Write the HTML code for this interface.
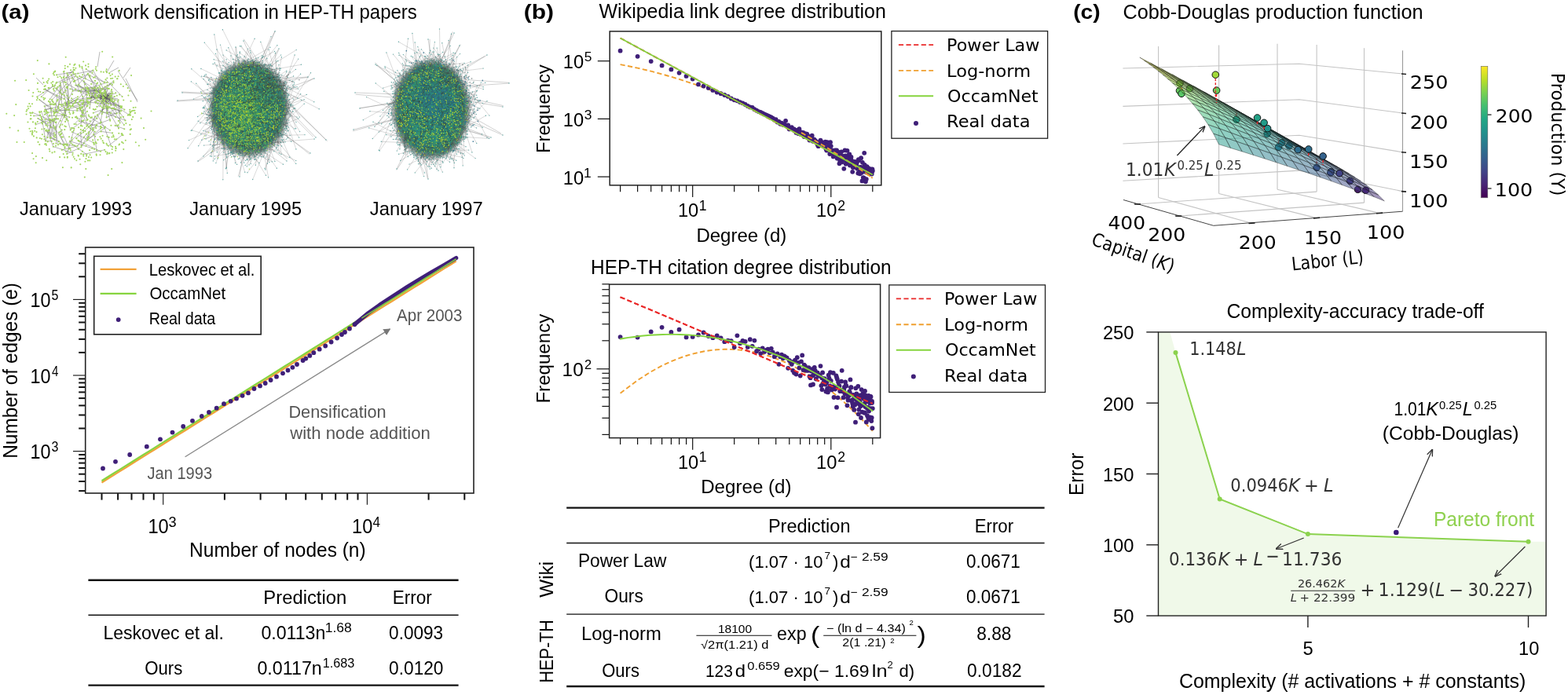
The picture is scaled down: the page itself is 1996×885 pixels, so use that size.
<!DOCTYPE html>
<html><head><meta charset="utf-8"><title>Figure</title>
<style>html,body{margin:0;padding:0;background:#fff;}svg{display:block;}
</style></head>
<body><svg width="1996" height="885" viewBox="0 0 1996 885" font-family="'Liberation Sans', Arial, sans-serif">
<rect width="1996" height="885" fill="#fff"/>
<text x="1.6" y="23.6" font-size="25.5" font-weight="bold" textLength="35.9" lengthAdjust="spacingAndGlyphs">(a)</text>
<text x="101.8" y="23.6" font-size="25.5" textLength="429.0" lengthAdjust="spacingAndGlyphs">Network densification in HEP-TH papers</text>
<text x="25.0" y="273.9" font-size="23.6" textLength="143.1" lengthAdjust="spacingAndGlyphs">January 1993</text>
<text x="241.3" y="273.9" font-size="23.6" textLength="142.7" lengthAdjust="spacingAndGlyphs">January 1995</text>
<text x="470.8" y="273.9" font-size="23.6" textLength="143.9" lengthAdjust="spacingAndGlyphs">January 1997</text>
<line x1="129.5" y1="628.0" x2="129.5" y2="636.6" stroke="#111" stroke-width="2.0" />
<line x1="150.1" y1="628.0" x2="150.1" y2="636.6" stroke="#111" stroke-width="2.0" />
<line x1="167.5" y1="628.0" x2="167.5" y2="636.6" stroke="#111" stroke-width="2.0" />
<line x1="182.5" y1="628.0" x2="182.5" y2="636.6" stroke="#111" stroke-width="2.0" />
<line x1="195.8" y1="628.0" x2="195.8" y2="636.6" stroke="#111" stroke-width="2.0" />
<line x1="207.7" y1="628.0" x2="207.7" y2="642.7" stroke="#111" stroke-width="1.1" />
<line x1="285.9" y1="628.0" x2="285.9" y2="636.6" stroke="#111" stroke-width="2.0" />
<line x1="331.6" y1="628.0" x2="331.6" y2="636.6" stroke="#111" stroke-width="2.0" />
<line x1="364.1" y1="628.0" x2="364.1" y2="636.6" stroke="#111" stroke-width="2.0" />
<line x1="389.2" y1="628.0" x2="389.2" y2="636.6" stroke="#111" stroke-width="2.0" />
<line x1="409.8" y1="628.0" x2="409.8" y2="636.6" stroke="#111" stroke-width="2.0" />
<line x1="427.2" y1="628.0" x2="427.2" y2="636.6" stroke="#111" stroke-width="2.0" />
<line x1="442.2" y1="628.0" x2="442.2" y2="636.6" stroke="#111" stroke-width="2.0" />
<line x1="455.5" y1="628.0" x2="455.5" y2="636.6" stroke="#111" stroke-width="2.0" />
<line x1="467.4" y1="628.0" x2="467.4" y2="642.7" stroke="#111" stroke-width="1.1" />
<line x1="545.6" y1="628.0" x2="545.6" y2="636.6" stroke="#111" stroke-width="2.0" />
<line x1="591.3" y1="628.0" x2="591.3" y2="636.6" stroke="#111" stroke-width="2.0" />
<line x1="100.2" y1="625.1" x2="108.7" y2="625.1" stroke="#111" stroke-width="2.0" />
<line x1="100.2" y1="613.0" x2="108.7" y2="613.0" stroke="#111" stroke-width="2.0" />
<line x1="100.2" y1="603.7" x2="108.7" y2="603.7" stroke="#111" stroke-width="2.0" />
<line x1="100.2" y1="596.0" x2="108.7" y2="596.0" stroke="#111" stroke-width="2.0" />
<line x1="100.2" y1="589.6" x2="108.7" y2="589.6" stroke="#111" stroke-width="2.0" />
<line x1="100.2" y1="584.0" x2="108.7" y2="584.0" stroke="#111" stroke-width="2.0" />
<line x1="100.2" y1="579.0" x2="108.7" y2="579.0" stroke="#111" stroke-width="2.0" />
<line x1="93.0" y1="574.6" x2="108.7" y2="574.6" stroke="#111" stroke-width="1.1" />
<line x1="100.2" y1="545.5" x2="108.7" y2="545.5" stroke="#111" stroke-width="2.0" />
<line x1="100.2" y1="528.5" x2="108.7" y2="528.5" stroke="#111" stroke-width="2.0" />
<line x1="100.2" y1="516.4" x2="108.7" y2="516.4" stroke="#111" stroke-width="2.0" />
<line x1="100.2" y1="507.1" x2="108.7" y2="507.1" stroke="#111" stroke-width="2.0" />
<line x1="100.2" y1="499.4" x2="108.7" y2="499.4" stroke="#111" stroke-width="2.0" />
<line x1="100.2" y1="493.0" x2="108.7" y2="493.0" stroke="#111" stroke-width="2.0" />
<line x1="100.2" y1="487.4" x2="108.7" y2="487.4" stroke="#111" stroke-width="2.0" />
<line x1="100.2" y1="482.4" x2="108.7" y2="482.4" stroke="#111" stroke-width="2.0" />
<line x1="93.0" y1="478.0" x2="108.7" y2="478.0" stroke="#111" stroke-width="1.1" />
<line x1="100.2" y1="448.9" x2="108.7" y2="448.9" stroke="#111" stroke-width="2.0" />
<line x1="100.2" y1="431.9" x2="108.7" y2="431.9" stroke="#111" stroke-width="2.0" />
<line x1="100.2" y1="419.8" x2="108.7" y2="419.8" stroke="#111" stroke-width="2.0" />
<line x1="100.2" y1="410.5" x2="108.7" y2="410.5" stroke="#111" stroke-width="2.0" />
<line x1="100.2" y1="402.8" x2="108.7" y2="402.8" stroke="#111" stroke-width="2.0" />
<line x1="100.2" y1="396.4" x2="108.7" y2="396.4" stroke="#111" stroke-width="2.0" />
<line x1="100.2" y1="390.8" x2="108.7" y2="390.8" stroke="#111" stroke-width="2.0" />
<line x1="100.2" y1="385.8" x2="108.7" y2="385.8" stroke="#111" stroke-width="2.0" />
<line x1="93.0" y1="381.4" x2="108.7" y2="381.4" stroke="#111" stroke-width="1.1" />
<line x1="100.2" y1="352.3" x2="108.7" y2="352.3" stroke="#111" stroke-width="2.0" />
<line x1="100.2" y1="335.3" x2="108.7" y2="335.3" stroke="#111" stroke-width="2.0" />
<line x1="100.2" y1="323.2" x2="108.7" y2="323.2" stroke="#111" stroke-width="2.0" />
<text x="38.6" y="391.2" font-size="25.3" textLength="26.0" lengthAdjust="spacingAndGlyphs">10</text>
<text x="65.6" y="382.1" font-size="17.5" textLength="8.9" lengthAdjust="spacingAndGlyphs">5</text>
<text x="38.6" y="487.6" font-size="25.3" textLength="26.0" lengthAdjust="spacingAndGlyphs">10</text>
<text x="65.9" y="478.5" font-size="17.5" textLength="8.4" lengthAdjust="spacingAndGlyphs">4</text>
<text x="38.6" y="584.0" font-size="25.3" textLength="26.0" lengthAdjust="spacingAndGlyphs">10</text>
<text x="65.6" y="574.9" font-size="17.5" textLength="8.9" lengthAdjust="spacingAndGlyphs">3</text>
<text x="188.4" y="679.4" font-size="25.3" textLength="26.3" lengthAdjust="spacingAndGlyphs">10</text>
<text x="214.6" y="670.8" font-size="17.5" textLength="10.1" lengthAdjust="spacingAndGlyphs">3</text>
<text x="448.1" y="679.4" font-size="25.3" textLength="26.3" lengthAdjust="spacingAndGlyphs">10</text>
<text x="474.6" y="670.8" font-size="17.5" textLength="9.5" lengthAdjust="spacingAndGlyphs">4</text>
<text x="241.1" y="709.1" font-size="25.0" textLength="224.5" lengthAdjust="spacingAndGlyphs">Number of nodes (n)</text>
<text x="20.0" y="581.8" font-size="25.0" textLength="223.8" lengthAdjust="spacingAndGlyphs" transform="rotate(-90 22.0 581.8)">Number of edges (e)</text>
<polyline points="129.5,614.5 137.0,609.8 144.6,605.1 152.1,600.4 159.6,595.7 167.1,591.0 174.6,586.3 182.2,581.6 189.7,576.9 197.2,572.2 204.7,567.5 212.2,562.8 219.8,558.1 227.3,553.4 234.8,548.7 242.3,544.0 249.8,539.3 257.3,534.6 264.9,529.9 272.4,525.2 279.9,520.5 287.4,515.8 294.9,511.1 302.5,506.4 310.0,501.7 317.5,497.0 325.0,492.3 332.5,487.6 340.1,482.9 347.6,478.2 355.1,473.5 362.6,468.8 370.1,464.1 377.7,459.4 385.2,454.7 392.7,450.0 400.2,445.3 407.7,440.6 415.3,435.9 422.8,431.2 430.3,426.5 437.8,421.8 445.3,417.1 452.8,412.4 460.4,407.7 467.9,403.0 475.4,398.3 482.9,393.6 490.4,388.9 498.0,384.2 505.5,379.5 513.0,374.8 520.5,370.1 528.0,365.4 535.6,360.7 543.1,356.0 550.6,351.3 558.1,346.6 565.6,341.9 573.2,337.2 580.7,332.5" fill="none" stroke="#f2a23a" stroke-width="2.2" />
<polyline points="129.5,612.2 137.0,607.5 144.6,602.8 152.1,598.1 159.6,593.4 167.1,588.7 174.6,584.0 182.2,579.3 189.7,574.6 197.2,569.9 204.7,565.1 212.2,560.4 219.8,555.7 227.3,551.0 234.8,546.3 242.3,541.6 249.8,536.9 257.3,532.2 264.9,527.5 272.4,522.8 279.9,518.1 287.4,513.4 294.9,508.7 302.5,504.0 310.0,499.2 317.5,494.5 325.0,489.8 332.5,485.1 340.1,480.4 347.6,475.7 355.1,471.0 362.6,466.3 370.1,461.6 377.7,456.9 385.2,452.2 392.7,447.5 400.2,442.8 407.7,438.1 415.3,433.3 422.8,428.6 430.3,423.9 437.8,419.2 445.3,414.5 452.8,409.8 460.4,405.1 467.9,400.4 475.4,395.7 482.9,391.0 490.4,386.3 498.0,381.6 505.5,376.9 513.0,372.2 520.5,367.4 528.0,362.7 535.6,358.0 543.1,353.3 550.6,348.6 558.1,343.9 565.6,339.2 573.2,334.5 580.7,329.8" fill="none" stroke="#86d43e" stroke-width="2.2" />
<g fill="#3f1f78"><circle cx="131.0" cy="596.5" r="2.9"/><circle cx="147.0" cy="587.8" r="2.9"/><circle cx="165.2" cy="579.0" r="2.9"/><circle cx="186.8" cy="568.7" r="2.9"/><circle cx="204.0" cy="559.3" r="2.9"/><circle cx="219.5" cy="550.6" r="2.9"/><circle cx="233.2" cy="543.0" r="2.9"/><circle cx="245.0" cy="535.8" r="2.9"/><circle cx="256.7" cy="530.0" r="2.9"/><circle cx="266.0" cy="525.0" r="2.9"/><circle cx="275.7" cy="519.7" r="2.9"/><circle cx="285.0" cy="514.2" r="2.9"/><circle cx="293.7" cy="510.8" r="2.9"/><circle cx="301.0" cy="507.6" r="2.9"/><circle cx="308.6" cy="503.8" r="2.9"/><circle cx="316.0" cy="500.4" r="2.9"/><circle cx="323.5" cy="495.0" r="2.9"/><circle cx="331.0" cy="491.4" r="2.9"/><circle cx="337.7" cy="488.0" r="2.9"/><circle cx="344.6" cy="484.0" r="2.9"/><circle cx="352.0" cy="479.7" r="2.9"/><circle cx="360.0" cy="475.3" r="2.9"/><circle cx="366.5" cy="471.5" r="2.9"/><circle cx="372.4" cy="467.8" r="2.9"/><circle cx="378.0" cy="464.0" r="2.9"/><circle cx="385.6" cy="459.0" r="2.9"/><circle cx="389.3" cy="456.6" r="2.9"/><circle cx="394.3" cy="452.9" r="2.9"/><circle cx="399.3" cy="449.2" r="2.9"/><circle cx="406.7" cy="444.7" r="2.9"/><circle cx="414.2" cy="440.5" r="2.9"/><circle cx="421.6" cy="435.5" r="2.9"/><circle cx="429.1" cy="430.5" r="2.9"/><circle cx="435.0" cy="426.0" r="2.9"/><circle cx="439.0" cy="423.0" r="2.9"/><circle cx="445.0" cy="418.5" r="2.9"/><circle cx="451.5" cy="413.1" r="2.9"/></g>
<polyline points="451.5,413.1 468.9,398.5 483.0,388.5 498.7,378.1 518.6,365.2 533.0,356.5 548.4,347.3 565.0,337.8 580.7,328.6" fill="none" stroke="#3f1f78" stroke-width="5.2" stroke-linecap="round" stroke-linejoin="round"/>
<polyline points="460.4,405.1 467.9,400.4 475.4,395.7 482.9,391.0 490.4,386.3 498.0,381.6 505.5,376.9 513.0,372.2 520.5,367.4 528.0,362.7 535.6,358.0 543.1,353.3 550.6,348.6 558.1,343.9 565.6,339.2 573.2,334.5 580.7,329.8" fill="none" stroke="#86d43e" stroke-width="1.6" opacity="0.9"/>
<rect x="108.7" y="315.0" width="494.3" height="313.0" fill="none" stroke="#222" stroke-width="1.6" />
<rect x="119.7" y="326.3" width="212.5" height="99.5" fill="#fff" stroke="#222" stroke-width="1.6" />
<line x1="127.6" y1="342.9" x2="173.6" y2="342.9" stroke="#f2a23a" stroke-width="2.2" />
<line x1="127.6" y1="373.9" x2="173.6" y2="373.9" stroke="#86d43e" stroke-width="2.2" />
<circle cx="150.7" cy="407.1" r="2.9" fill="#3f1f78" />
<text x="189.7" y="350.5" font-size="21.8" textLength="134.7" lengthAdjust="spacingAndGlyphs">Leskovec et al.</text>
<text x="190.4" y="381.4" font-size="21.8" textLength="96.7" lengthAdjust="spacingAndGlyphs">OccamNet</text>
<text x="189.8" y="412.7" font-size="21.8" textLength="84.4" lengthAdjust="spacingAndGlyphs">Real data</text>
<defs><marker id="ah" viewBox="0 0 10 10" refX="9" refY="5" markerWidth="9" markerHeight="9" markerUnits="userSpaceOnUse" orient="auto"><path d="M0,0 L10,5 L0,10 z" fill="#777"/></marker></defs>
<line x1="235.6" y1="581.7" x2="496.5" y2="418.9" stroke="#888" stroke-width="1.3" marker-end="url(#ah)"/>
<text x="505.0" y="409.4" font-size="21.8" fill="#555" textLength="83.5" lengthAdjust="spacingAndGlyphs">Apr 2003</text>
<text x="187.5" y="609.8" font-size="21.8" fill="#555" textLength="82.6" lengthAdjust="spacingAndGlyphs">Jan 1993</text>
<text x="367.4" y="531.9" font-size="21.8" fill="#555" textLength="124.3" lengthAdjust="spacingAndGlyphs">Densification</text>
<text x="369.2" y="559.1" font-size="21.8" fill="#555" textLength="178.6" lengthAdjust="spacingAndGlyphs">with node addition</text>
<line x1="112.4" y1="738.7" x2="583.6" y2="738.7" stroke="#111" stroke-width="2.4" />
<line x1="112.4" y1="783.3" x2="583.6" y2="783.3" stroke="#111" stroke-width="1.4" />
<line x1="112.4" y1="872.6" x2="583.6" y2="872.6" stroke="#111" stroke-width="2.4" />
<text x="335.3" y="769.4" font-size="23.0" textLength="106.0" lengthAdjust="spacingAndGlyphs">Prediction</text>
<text x="499.7" y="769.4" font-size="23.0" textLength="50.2" lengthAdjust="spacingAndGlyphs">Error</text>
<text x="131.4" y="814.0" font-size="23.0" textLength="153.4" lengthAdjust="spacingAndGlyphs">Leskovec et al.</text>
<text x="332.4" y="814.0" font-size="23.0" textLength="81.9" lengthAdjust="spacingAndGlyphs">0.0113n</text>
<text x="413.7" y="805.0" font-size="16.0" textLength="34.1" lengthAdjust="spacingAndGlyphs">1.68</text>
<text x="495.1" y="814.0" font-size="23.0" textLength="69.0" lengthAdjust="spacingAndGlyphs">0.0093</text>
<text x="184.2" y="859.4" font-size="23.0" textLength="48.1" lengthAdjust="spacingAndGlyphs">Ours</text>
<text x="327.4" y="859.4" font-size="23.0" textLength="82.4" lengthAdjust="spacingAndGlyphs">0.0117n</text>
<text x="410.8" y="850.4" font-size="16.0" textLength="40.6" lengthAdjust="spacingAndGlyphs">1.683</text>
<text x="495.1" y="859.4" font-size="23.0" textLength="69.4" lengthAdjust="spacingAndGlyphs">0.0120</text>
<text x="666.7" y="23.6" font-size="25.5" font-weight="bold" textLength="38.3" lengthAdjust="spacingAndGlyphs">(b)</text>
<text x="762.5" y="23.1" font-size="25.0" textLength="365.3" lengthAdjust="spacingAndGlyphs">Wikipedia link degree distribution</text>
<text x="752.0" y="349.1" font-size="25.0" textLength="382.6" lengthAdjust="spacingAndGlyphs">HEP-TH citation degree distribution</text>
<line x1="760.8" y1="225.1" x2="776.2" y2="225.1" stroke="#111" stroke-width="1.2" />
<line x1="760.8" y1="151.4" x2="776.2" y2="151.4" stroke="#111" stroke-width="1.2" />
<line x1="760.8" y1="77.7" x2="776.2" y2="77.7" stroke="#111" stroke-width="1.2" />
<text x="716.8" y="87.1" font-size="24.2" textLength="26.4" lengthAdjust="spacingAndGlyphs">10</text>
<text x="743.7" y="78.3" font-size="17.4">5</text>
<text x="716.8" y="160.8" font-size="24.2" textLength="26.4" lengthAdjust="spacingAndGlyphs">10</text>
<text x="743.7" y="152.0" font-size="17.4">3</text>
<text x="716.8" y="234.5" font-size="24.2" textLength="26.4" lengthAdjust="spacingAndGlyphs">10</text>
<text x="743.1" y="225.7" font-size="17.4">1</text>
<line x1="789.6" y1="235.9" x2="789.6" y2="244.3" stroke="#111" stroke-width="1.2" />
<line x1="811.6" y1="235.9" x2="811.6" y2="244.3" stroke="#111" stroke-width="1.2" />
<line x1="828.7" y1="235.9" x2="828.7" y2="244.3" stroke="#111" stroke-width="1.2" />
<line x1="842.6" y1="235.9" x2="842.6" y2="244.3" stroke="#111" stroke-width="1.2" />
<line x1="854.4" y1="235.9" x2="854.4" y2="244.3" stroke="#111" stroke-width="1.2" />
<line x1="864.6" y1="235.9" x2="864.6" y2="244.3" stroke="#111" stroke-width="1.2" />
<line x1="873.6" y1="235.9" x2="873.6" y2="244.3" stroke="#111" stroke-width="1.2" />
<line x1="881.7" y1="235.9" x2="881.7" y2="251.1" stroke="#111" stroke-width="1.2" />
<line x1="934.7" y1="235.9" x2="934.7" y2="244.3" stroke="#111" stroke-width="1.2" />
<line x1="965.7" y1="235.9" x2="965.7" y2="244.3" stroke="#111" stroke-width="1.2" />
<line x1="987.7" y1="235.9" x2="987.7" y2="244.3" stroke="#111" stroke-width="1.2" />
<line x1="1004.8" y1="235.9" x2="1004.8" y2="244.3" stroke="#111" stroke-width="1.2" />
<line x1="1018.7" y1="235.9" x2="1018.7" y2="244.3" stroke="#111" stroke-width="1.2" />
<line x1="1030.5" y1="235.9" x2="1030.5" y2="244.3" stroke="#111" stroke-width="1.2" />
<line x1="1040.7" y1="235.9" x2="1040.7" y2="244.3" stroke="#111" stroke-width="1.2" />
<line x1="1049.7" y1="235.9" x2="1049.7" y2="244.3" stroke="#111" stroke-width="1.2" />
<line x1="1057.8" y1="235.9" x2="1057.8" y2="251.1" stroke="#111" stroke-width="1.2" />
<line x1="1110.8" y1="235.9" x2="1110.8" y2="244.3" stroke="#111" stroke-width="1.2" />
<text x="862.9" y="276.4" font-size="24.6" textLength="26.4" lengthAdjust="spacingAndGlyphs">10</text>
<text x="889.8" y="267.6" font-size="17.6">1</text>
<text x="1039.0" y="276.4" font-size="24.6" textLength="26.4" lengthAdjust="spacingAndGlyphs">10</text>
<text x="1066.3" y="267.6" font-size="17.6">2</text>
<text x="886.4" y="308.2" font-size="24.6" textLength="114.9" lengthAdjust="spacingAndGlyphs">Degree (d)</text>
<text x="698.3" y="193.0" font-size="24.6" textLength="112.8" lengthAdjust="spacingAndGlyphs" transform="rotate(-90 700.3 193.0)">Frequency</text>
<polyline points="789.6,82.1 811.6,86.6 828.7,90.7 842.6,94.4 854.4,97.8 864.6,100.9 873.6,103.8 881.7,106.5 889.0,109.0 895.6,111.4 901.8,113.6 907.4,115.7 912.7,117.8 917.6,119.7 922.3,121.6 926.7,123.4 930.8,125.1 934.7,126.7 938.4,128.3 942.0,129.9 945.4,131.4 948.7,132.8 951.8,134.2 954.8,135.6 957.7,136.9 960.4,138.2 963.1,139.5 965.7,140.7 968.2,141.9 970.7,143.1 973.0,144.2 975.3,145.3 977.5,146.4 979.7,147.5 981.8,148.6 983.8,149.6 985.8,150.6 987.7,151.6 989.6,152.5 991.5,153.5 993.3,154.4 995.0,155.3 996.7,156.2 998.4,157.1 1000.1,158.0 1001.7,158.9 1003.2,159.7 1004.8,160.5 1006.3,161.4 1007.8,162.2 1009.2,163.0 1010.7,163.7 1012.1,164.5 1013.5,165.3 1014.8,166.0 1016.1,166.8 1017.4,167.5 1018.7,168.2 1020.0,168.9 1021.2,169.6 1022.5,170.3 1023.7,171.0 1024.9,171.7 1026.0,172.3 1027.2,173.0 1028.3,173.7 1029.4,174.3 1030.5,174.9 1031.6,175.6 1032.7,176.2 1033.7,176.8 1034.8,177.4 1035.8,178.0 1036.8,178.6 1037.8,179.2 1038.8,179.8 1039.8,180.4 1040.7,181.0 1041.7,181.5 1042.6,182.1 1043.5,182.6 1044.5,183.2 1045.4,183.7 1046.3,184.3 1047.1,184.8 1048.0,185.4 1048.9,185.9 1049.7,186.4 1050.6,186.9 1051.4,187.4 1052.2,187.9 1053.1,188.4 1053.9,188.9 1054.7,189.4 1055.5,189.9 1056.3,190.4 1057.0,190.9 1057.8,191.4 1058.6,191.9 1059.3,192.3 1060.1,192.8 1060.8,193.3 1061.5,193.7 1062.3,194.2 1063.0,194.6 1063.7,195.1 1064.4,195.5 1065.1,196.0 1065.8,196.4 1066.5,196.9 1067.1,197.3 1067.8,197.7 1068.5,198.2 1069.2,198.6 1069.8,199.0 1070.5,199.4 1071.1,199.8 1071.7,200.3 1072.4,200.7 1073.0,201.1 1073.6,201.5 1074.3,201.9 1074.9,202.3 1075.5,202.7 1076.1,203.1 1076.7,203.5 1077.3,203.9 1077.9,204.2 1078.5,204.6 1079.0,205.0 1079.6,205.4 1080.2,205.8 1080.8,206.2 1081.3,206.5 1081.9,206.9 1082.4,207.3 1083.0,207.6 1083.5,208.0 1084.1,208.4 1084.6,208.7 1085.2,209.1 1085.7,209.4 1086.2,209.8 1086.7,210.1 1087.3,210.5 1087.8,210.8 1088.3,211.2 1088.8,211.5 1089.3,211.9 1089.8,212.2 1090.3,212.6 1090.8,212.9 1091.3,213.2 1091.8,213.6 1092.3,213.9 1092.8,214.2 1093.3,214.6 1093.7,214.9 1094.2,215.2 1094.7,215.5 1095.2,215.9 1095.6,216.2 1096.1,216.5 1096.6,216.8 1097.0,217.1 1097.5,217.5 1097.9,217.8 1098.4,218.1 1098.8,218.4 1099.3,218.7 1099.7,219.0 1100.2,219.3 1100.6,219.6 1101.0,219.9 1101.5,220.2 1101.9,220.5 1102.3,220.8 1102.8,221.1 1103.2,221.4 1103.6,221.7 1104.0,222.0 1104.4,222.3 1104.8,222.6 1105.3,222.9 1105.7,223.2 1106.1,223.4 1106.5,223.7 1106.9,224.0 1107.3,224.3 1107.7,224.6 1108.1,224.9 1108.5,225.1 1108.9,225.4 1109.3,225.7 1109.7,226.0 1110.0,226.2 1110.4,226.5 1110.8,226.8" fill="none" stroke="#f0a030" stroke-width="1.9" stroke-dasharray="6.2,3.4"/>
<g fill="#3f1f78"><circle cx="789.6" cy="64.7" r="2.9"/><circle cx="811.6" cy="71.8" r="2.9"/><circle cx="828.7" cy="78.1" r="2.9"/><circle cx="842.6" cy="83.4" r="2.9"/><circle cx="854.4" cy="88.4" r="2.9"/><circle cx="864.6" cy="92.8" r="2.9"/><circle cx="873.6" cy="96.9" r="2.9"/><circle cx="881.7" cy="100.6" r="2.9"/><circle cx="889.0" cy="107.4" r="2.9"/><circle cx="895.6" cy="109.6" r="2.9"/><circle cx="901.8" cy="111.9" r="2.9"/><circle cx="907.4" cy="114.9" r="2.9"/><circle cx="912.7" cy="117.5" r="2.9"/><circle cx="917.6" cy="119.2" r="2.9"/><circle cx="922.3" cy="121.0" r="2.9"/><circle cx="926.7" cy="122.8" r="2.9"/><circle cx="930.8" cy="125.5" r="2.9"/><circle cx="934.7" cy="127.3" r="2.9"/><circle cx="938.4" cy="128.3" r="2.9"/><circle cx="942.0" cy="130.1" r="2.9"/><circle cx="945.4" cy="131.3" r="2.9"/><circle cx="948.7" cy="133.0" r="2.9"/><circle cx="951.8" cy="134.9" r="2.9"/><circle cx="954.8" cy="136.4" r="2.9"/><circle cx="957.7" cy="136.8" r="2.9"/><circle cx="960.4" cy="139.2" r="2.9"/><circle cx="963.1" cy="140.7" r="2.9"/><circle cx="965.7" cy="142.1" r="2.9"/><circle cx="968.2" cy="142.9" r="2.9"/><circle cx="970.7" cy="144.1" r="2.9"/><circle cx="973.0" cy="145.4" r="2.9"/><circle cx="975.3" cy="146.5" r="2.9"/><circle cx="977.5" cy="147.5" r="2.9"/><circle cx="979.7" cy="148.4" r="2.9"/><circle cx="981.8" cy="149.4" r="2.9"/><circle cx="983.8" cy="150.7" r="2.9"/><circle cx="985.8" cy="152.5" r="2.9"/><circle cx="987.7" cy="152.1" r="2.9"/><circle cx="989.6" cy="155.6" r="2.9"/><circle cx="991.5" cy="155.0" r="2.9"/><circle cx="993.3" cy="157.8" r="2.9"/><circle cx="995.0" cy="156.7" r="2.9"/><circle cx="996.7" cy="158.8" r="2.9"/><circle cx="998.4" cy="158.1" r="2.9"/><circle cx="1000.1" cy="153.8" r="2.9"/><circle cx="1001.7" cy="160.3" r="2.9"/><circle cx="1003.2" cy="159.5" r="2.9"/><circle cx="1004.8" cy="164.4" r="2.9"/><circle cx="1006.3" cy="163.3" r="2.9"/><circle cx="1007.8" cy="162.2" r="2.9"/><circle cx="1009.2" cy="164.5" r="2.9"/><circle cx="1010.7" cy="164.3" r="2.9"/><circle cx="1012.1" cy="165.6" r="2.9"/><circle cx="1013.5" cy="168.9" r="2.9"/><circle cx="1014.8" cy="166.0" r="2.9"/><circle cx="1016.1" cy="170.1" r="2.9"/><circle cx="1017.4" cy="164.2" r="2.9"/><circle cx="1018.7" cy="170.8" r="2.9"/><circle cx="1020.0" cy="168.4" r="2.9"/><circle cx="1021.2" cy="170.9" r="2.9"/><circle cx="1022.5" cy="169.0" r="2.9"/><circle cx="1023.7" cy="174.0" r="2.9"/><circle cx="1024.9" cy="170.1" r="2.9"/><circle cx="1026.0" cy="174.0" r="2.9"/><circle cx="1027.2" cy="170.6" r="2.9"/><circle cx="1028.3" cy="173.0" r="2.9"/><circle cx="1029.4" cy="175.1" r="2.9"/><circle cx="1030.5" cy="178.6" r="2.9"/><circle cx="1031.6" cy="174.4" r="2.9"/><circle cx="1032.7" cy="175.9" r="2.9"/><circle cx="1033.7" cy="172.7" r="2.9"/><circle cx="1034.8" cy="179.8" r="2.9"/><circle cx="1035.8" cy="177.3" r="2.9"/><circle cx="1036.8" cy="178.0" r="2.9"/><circle cx="1037.8" cy="179.4" r="2.9"/><circle cx="1038.8" cy="180.2" r="2.9"/><circle cx="1039.8" cy="180.8" r="2.9"/><circle cx="1040.7" cy="184.2" r="2.9"/><circle cx="1041.7" cy="186.2" r="2.9"/><circle cx="1042.6" cy="184.6" r="2.9"/><circle cx="1043.5" cy="181.5" r="2.9"/><circle cx="1044.5" cy="178.6" r="2.9"/><circle cx="1045.4" cy="181.1" r="2.9"/><circle cx="1046.3" cy="181.2" r="2.9"/><circle cx="1047.1" cy="182.8" r="2.9"/><circle cx="1048.0" cy="183.6" r="2.9"/><circle cx="1048.9" cy="186.1" r="2.9"/><circle cx="1049.7" cy="184.2" r="2.9"/><circle cx="1050.6" cy="180.7" r="2.9"/><circle cx="1051.4" cy="189.6" r="2.9"/><circle cx="1052.2" cy="191.6" r="2.9"/><circle cx="1053.1" cy="181.2" r="2.9"/><circle cx="1053.9" cy="188.7" r="2.9"/><circle cx="1054.7" cy="186.2" r="2.9"/><circle cx="1055.5" cy="187.0" r="2.9"/><circle cx="1056.3" cy="196.0" r="2.9"/><circle cx="1057.0" cy="181.2" r="2.9"/><circle cx="1057.8" cy="186.1" r="2.9"/><circle cx="1058.6" cy="193.4" r="2.9"/><circle cx="1059.3" cy="191.3" r="2.9"/><circle cx="1060.1" cy="194.5" r="2.9"/><circle cx="1060.8" cy="199.4" r="2.9"/><circle cx="1061.5" cy="196.3" r="2.9"/><circle cx="1062.3" cy="194.5" r="2.9"/><circle cx="1063.0" cy="191.5" r="2.9"/><circle cx="1063.7" cy="193.7" r="2.9"/><circle cx="1064.4" cy="197.1" r="2.9"/><circle cx="1065.1" cy="191.4" r="2.9"/><circle cx="1065.8" cy="201.7" r="2.9"/><circle cx="1066.5" cy="194.7" r="2.9"/><circle cx="1067.1" cy="193.6" r="2.9"/><circle cx="1067.8" cy="200.6" r="2.9"/><circle cx="1068.5" cy="208.3" r="2.9"/><circle cx="1069.2" cy="204.4" r="2.9"/><circle cx="1069.8" cy="199.1" r="2.9"/><circle cx="1070.5" cy="198.1" r="2.9"/><circle cx="1071.1" cy="193.3" r="2.9"/><circle cx="1071.7" cy="206.4" r="2.9"/><circle cx="1072.4" cy="201.7" r="2.9"/><circle cx="1073.0" cy="198.8" r="2.9"/><circle cx="1073.6" cy="203.2" r="2.9"/><circle cx="1074.3" cy="214.8" r="2.9"/><circle cx="1074.9" cy="198.9" r="2.9"/><circle cx="1075.5" cy="191.4" r="2.9"/><circle cx="1076.1" cy="198.5" r="2.9"/><circle cx="1076.7" cy="208.8" r="2.9"/><circle cx="1077.3" cy="206.5" r="2.9"/><circle cx="1077.9" cy="203.5" r="2.9"/><circle cx="1078.5" cy="191.8" r="2.9"/><circle cx="1079.0" cy="202.0" r="2.9"/><circle cx="1079.6" cy="205.0" r="2.9"/><circle cx="1080.2" cy="197.6" r="2.9"/><circle cx="1080.8" cy="206.7" r="2.9"/><circle cx="1081.3" cy="196.4" r="2.9"/><circle cx="1081.9" cy="210.6" r="2.9"/><circle cx="1082.4" cy="209.8" r="2.9"/><circle cx="1083.0" cy="203.5" r="2.9"/><circle cx="1083.5" cy="199.9" r="2.9"/><circle cx="1084.1" cy="204.4" r="2.9"/><circle cx="1084.6" cy="206.7" r="2.9"/><circle cx="1085.2" cy="218.8" r="2.9"/><circle cx="1085.7" cy="212.9" r="2.9"/><circle cx="1086.2" cy="212.7" r="2.9"/><circle cx="1086.7" cy="212.5" r="2.9"/><circle cx="1087.3" cy="206.4" r="2.9"/><circle cx="1087.8" cy="212.0" r="2.9"/><circle cx="1088.3" cy="205.8" r="2.9"/><circle cx="1088.8" cy="210.1" r="2.9"/><circle cx="1089.3" cy="212.8" r="2.9"/><circle cx="1089.8" cy="210.5" r="2.9"/><circle cx="1090.3" cy="208.9" r="2.9"/><circle cx="1090.8" cy="206.7" r="2.9"/><circle cx="1091.3" cy="214.8" r="2.9"/><circle cx="1091.8" cy="213.6" r="2.9"/><circle cx="1092.3" cy="220.6" r="2.9"/><circle cx="1092.8" cy="203.2" r="2.9"/><circle cx="1093.3" cy="204.3" r="2.9"/><circle cx="1093.7" cy="214.4" r="2.9"/><circle cx="1094.2" cy="216.4" r="2.9"/><circle cx="1094.7" cy="221.3" r="2.9"/><circle cx="1095.2" cy="213.0" r="2.9"/><circle cx="1095.6" cy="213.0" r="2.9"/><circle cx="1096.1" cy="201.2" r="2.9"/><circle cx="1096.6" cy="213.3" r="2.9"/><circle cx="1097.0" cy="219.8" r="2.9"/><circle cx="1097.5" cy="230.4" r="2.9"/><circle cx="1097.9" cy="206.8" r="2.9"/><circle cx="1098.4" cy="214.6" r="2.9"/><circle cx="1098.8" cy="226.1" r="2.9"/><circle cx="1099.3" cy="215.2" r="2.9"/><circle cx="1099.7" cy="226.6" r="2.9"/><circle cx="1100.2" cy="194.8" r="2.9"/><circle cx="1100.6" cy="209.9" r="2.9"/><circle cx="1101.0" cy="213.6" r="2.9"/><circle cx="1101.5" cy="218.6" r="2.9"/><circle cx="1101.9" cy="231.3" r="2.9"/><circle cx="1102.3" cy="218.7" r="2.9"/><circle cx="1102.8" cy="228.1" r="2.9"/><circle cx="1103.2" cy="219.4" r="2.9"/><circle cx="1103.6" cy="212.2" r="2.9"/><circle cx="1104.0" cy="217.8" r="2.9"/><circle cx="1104.4" cy="213.4" r="2.9"/><circle cx="1104.8" cy="217.8" r="2.9"/><circle cx="1105.3" cy="217.4" r="2.9"/><circle cx="1105.7" cy="217.6" r="2.9"/><circle cx="1106.1" cy="214.8" r="2.9"/><circle cx="1106.5" cy="216.7" r="2.9"/><circle cx="1106.9" cy="218.9" r="2.9"/><circle cx="1107.3" cy="219.8" r="2.9"/><circle cx="1107.7" cy="215.6" r="2.9"/><circle cx="1108.1" cy="215.5" r="2.9"/><circle cx="1108.5" cy="217.0" r="2.9"/><circle cx="1108.9" cy="217.6" r="2.9"/><circle cx="1109.3" cy="220.5" r="2.9"/><circle cx="1109.7" cy="221.5" r="2.9"/><circle cx="1110.0" cy="218.1" r="2.9"/><circle cx="1110.4" cy="215.5" r="2.9"/><circle cx="1110.8" cy="217.6" r="2.9"/></g>
<polyline points="789.6,48.5 854.4,83.6 889.0,102.3 912.7,115.2 930.8,125.0 945.4,132.9 957.7,139.5 968.2,145.3 977.5,150.3 985.8,154.8 993.3,158.8 1000.1,162.5 1006.3,165.9 1012.1,169.0 1017.4,171.9 1022.5,174.6 1027.2,177.2 1031.6,179.6 1035.8,181.9 1039.8,184.0 1043.5,186.1 1047.1,188.0 1050.6,189.9 1053.9,191.7 1057.0,193.4 1060.1,195.0 1063.0,196.6 1065.8,198.1 1068.5,199.6 1071.1,201.0 1073.6,202.4 1076.1,203.7 1078.5,205.0 1080.8,206.2 1083.0,207.4 1085.2,208.6 1087.3,209.8 1089.3,210.9 1091.3,212.0 1093.3,213.0 1095.2,214.1 1097.0,215.1 1098.8,216.0 1100.6,217.0 1102.3,217.9 1104.0,218.8 1105.7,219.7 1107.3,220.6 1108.9,221.5 1110.4,222.3" fill="none" stroke="#ea2a2a" stroke-width="1.9" stroke-dasharray="6.2,3.4"/>
<polyline points="1020.0,168.9 1021.2,169.6 1022.5,170.3 1023.7,171.0 1024.9,171.7 1026.0,172.3 1027.2,173.0 1028.3,173.7 1029.4,174.3 1030.5,174.9 1031.6,175.6 1032.7,176.2 1033.7,176.8 1034.8,177.4 1035.8,178.0 1036.8,178.6 1037.8,179.2 1038.8,179.8 1039.8,180.4 1040.7,181.0 1041.7,181.5 1042.6,182.1 1043.5,182.6 1044.5,183.2 1045.4,183.7 1046.3,184.3 1047.1,184.8 1048.0,185.4 1048.9,185.9 1049.7,186.4 1050.6,186.9 1051.4,187.4 1052.2,187.9 1053.1,188.4 1053.9,188.9 1054.7,189.4 1055.5,189.9 1056.3,190.4 1057.0,190.9 1057.8,191.4 1058.6,191.9 1059.3,192.3 1060.1,192.8 1060.8,193.3 1061.5,193.7 1062.3,194.2 1063.0,194.6 1063.7,195.1 1064.4,195.5 1065.1,196.0 1065.8,196.4 1066.5,196.9 1067.1,197.3 1067.8,197.7 1068.5,198.2 1069.2,198.6 1069.8,199.0 1070.5,199.4 1071.1,199.8 1071.7,200.3 1072.4,200.7 1073.0,201.1 1073.6,201.5 1074.3,201.9 1074.9,202.3 1075.5,202.7 1076.1,203.1 1076.7,203.5 1077.3,203.9 1077.9,204.2 1078.5,204.6 1079.0,205.0 1079.6,205.4 1080.2,205.8 1080.8,206.2 1081.3,206.5 1081.9,206.9 1082.4,207.3 1083.0,207.6 1083.5,208.0 1084.1,208.4 1084.6,208.7 1085.2,209.1 1085.7,209.4 1086.2,209.8 1086.7,210.1 1087.3,210.5 1087.8,210.8 1088.3,211.2 1088.8,211.5 1089.3,211.9 1089.8,212.2 1090.3,212.6 1090.8,212.9 1091.3,213.2 1091.8,213.6 1092.3,213.9 1092.8,214.2 1093.3,214.6 1093.7,214.9 1094.2,215.2 1094.7,215.5 1095.2,215.9 1095.6,216.2 1096.1,216.5 1096.6,216.8 1097.0,217.1 1097.5,217.5 1097.9,217.8 1098.4,218.1 1098.8,218.4 1099.3,218.7 1099.7,219.0 1100.2,219.3 1100.6,219.6 1101.0,219.9 1101.5,220.2 1101.9,220.5 1102.3,220.8 1102.8,221.1 1103.2,221.4 1103.6,221.7 1104.0,222.0 1104.4,222.3 1104.8,222.6 1105.3,222.9 1105.7,223.2 1106.1,223.4 1106.5,223.7 1106.9,224.0 1107.3,224.3 1107.7,224.6 1108.1,224.9 1108.5,225.1 1108.9,225.4 1109.3,225.7 1109.7,226.0 1110.0,226.2 1110.4,226.5 1110.8,226.8" fill="none" stroke="#f0a030" stroke-width="1.9" stroke-dasharray="6.2,3.4"/>
<polyline points="789.6,48.5 1110.8,222.5" fill="none" stroke="#86d43e" stroke-width="1.9" />
<rect x="776.2" y="39.9" width="345.6" height="196.0" fill="none" stroke="#222" stroke-width="1.5" />
<rect x="1134.9" y="39.6" width="198.7" height="136.6" fill="#fff" stroke="#222" stroke-width="1.3" />
<polyline points="1143.9,57.1 1188.1,57.1" fill="none" stroke="#ea2a2a" stroke-width="1.9" stroke-dasharray="6.2,3.4"/>
<polyline points="1143.9,89.9 1188.1,89.9" fill="none" stroke="#f0a030" stroke-width="1.9" stroke-dasharray="6.2,3.4"/>
<line x1="1143.9" y1="122.3" x2="1188.1" y2="122.3" stroke="#86d43e" stroke-width="1.9" />
<circle cx="1166.0" cy="157.0" r="3.0" fill="#3f1f78" />
<text x="1205.1" y="65.3" font-size="21.8" font-family="'DejaVu Sans', sans-serif" textLength="118.3" lengthAdjust="spacingAndGlyphs">Power Law</text>
<text x="1205.1" y="98.1" font-size="21.8" font-family="'DejaVu Sans', sans-serif" textLength="107.0" lengthAdjust="spacingAndGlyphs">Log-norm</text>
<text x="1206.1" y="130.2" font-size="21.8" font-family="'DejaVu Sans', sans-serif" textLength="115.7" lengthAdjust="spacingAndGlyphs">OccamNet</text>
<text x="1205.1" y="162.4" font-size="21.8" font-family="'DejaVu Sans', sans-serif" textLength="106.4" lengthAdjust="spacingAndGlyphs">Real data</text>
<line x1="766.4" y1="553.4" x2="775.6" y2="553.4" stroke="#111" stroke-width="1.2" />
<line x1="766.4" y1="532.3" x2="775.6" y2="532.3" stroke="#111" stroke-width="1.2" />
<line x1="766.4" y1="517.4" x2="775.6" y2="517.4" stroke="#111" stroke-width="1.2" />
<line x1="766.4" y1="505.8" x2="775.6" y2="505.8" stroke="#111" stroke-width="1.2" />
<line x1="766.4" y1="496.3" x2="775.6" y2="496.3" stroke="#111" stroke-width="1.2" />
<line x1="766.4" y1="488.3" x2="775.6" y2="488.3" stroke="#111" stroke-width="1.2" />
<line x1="766.4" y1="481.4" x2="775.6" y2="481.4" stroke="#111" stroke-width="1.2" />
<line x1="766.4" y1="475.3" x2="775.6" y2="475.3" stroke="#111" stroke-width="1.2" />
<line x1="759.5" y1="469.8" x2="775.6" y2="469.8" stroke="#111" stroke-width="1.2" />
<line x1="766.4" y1="433.8" x2="775.6" y2="433.8" stroke="#111" stroke-width="1.2" />
<line x1="766.4" y1="412.7" x2="775.6" y2="412.7" stroke="#111" stroke-width="1.2" />
<line x1="766.4" y1="397.8" x2="775.6" y2="397.8" stroke="#111" stroke-width="1.2" />
<line x1="766.4" y1="386.2" x2="775.6" y2="386.2" stroke="#111" stroke-width="1.2" />
<line x1="766.4" y1="376.7" x2="775.6" y2="376.7" stroke="#111" stroke-width="1.2" />
<line x1="766.4" y1="368.7" x2="775.6" y2="368.7" stroke="#111" stroke-width="1.2" />
<line x1="766.4" y1="361.8" x2="775.6" y2="361.8" stroke="#111" stroke-width="1.2" />
<text x="715.6" y="478.7" font-size="24.0" textLength="27.1" lengthAdjust="spacingAndGlyphs">10</text>
<text x="744.0" y="470.1" font-size="16.4">2</text>
<line x1="789.6" y1="557.6" x2="789.6" y2="566.0" stroke="#111" stroke-width="1.2" />
<line x1="811.6" y1="557.6" x2="811.6" y2="566.0" stroke="#111" stroke-width="1.2" />
<line x1="828.7" y1="557.6" x2="828.7" y2="566.0" stroke="#111" stroke-width="1.2" />
<line x1="842.6" y1="557.6" x2="842.6" y2="566.0" stroke="#111" stroke-width="1.2" />
<line x1="854.4" y1="557.6" x2="854.4" y2="566.0" stroke="#111" stroke-width="1.2" />
<line x1="864.6" y1="557.6" x2="864.6" y2="566.0" stroke="#111" stroke-width="1.2" />
<line x1="873.6" y1="557.6" x2="873.6" y2="566.0" stroke="#111" stroke-width="1.2" />
<line x1="881.7" y1="557.6" x2="881.7" y2="572.8" stroke="#111" stroke-width="1.2" />
<line x1="934.7" y1="557.6" x2="934.7" y2="566.0" stroke="#111" stroke-width="1.2" />
<line x1="965.7" y1="557.6" x2="965.7" y2="566.0" stroke="#111" stroke-width="1.2" />
<line x1="987.7" y1="557.6" x2="987.7" y2="566.0" stroke="#111" stroke-width="1.2" />
<line x1="1004.8" y1="557.6" x2="1004.8" y2="566.0" stroke="#111" stroke-width="1.2" />
<line x1="1018.7" y1="557.6" x2="1018.7" y2="566.0" stroke="#111" stroke-width="1.2" />
<line x1="1030.5" y1="557.6" x2="1030.5" y2="566.0" stroke="#111" stroke-width="1.2" />
<line x1="1040.7" y1="557.6" x2="1040.7" y2="566.0" stroke="#111" stroke-width="1.2" />
<line x1="1049.7" y1="557.6" x2="1049.7" y2="566.0" stroke="#111" stroke-width="1.2" />
<line x1="1057.8" y1="557.6" x2="1057.8" y2="572.8" stroke="#111" stroke-width="1.2" />
<line x1="1110.8" y1="557.6" x2="1110.8" y2="566.0" stroke="#111" stroke-width="1.2" />
<text x="862.9" y="597.1" font-size="24.6" textLength="26.4" lengthAdjust="spacingAndGlyphs">10</text>
<text x="889.8" y="588.3" font-size="17.6">1</text>
<text x="1039.0" y="597.1" font-size="24.6" textLength="26.4" lengthAdjust="spacingAndGlyphs">10</text>
<text x="1066.3" y="588.3" font-size="17.6">2</text>
<text x="892.2" y="627.7" font-size="24.6" textLength="115.4" lengthAdjust="spacingAndGlyphs">Degree (d)</text>
<text x="698.3" y="511.6" font-size="24.6" textLength="113.9" lengthAdjust="spacingAndGlyphs" transform="rotate(-90 700.3 511.6)">Frequency</text>
<polyline points="789.6,500.8 811.6,484.2 828.7,473.3 842.6,465.7 854.4,460.2 864.6,456.1 873.6,453.0 881.7,450.6 889.0,448.9 895.6,447.5 901.8,446.5 907.4,445.8 912.7,445.3 917.6,445.0 922.3,444.8 926.7,444.8 930.8,444.9 934.7,445.1 938.4,445.3 942.0,445.6 945.4,446.0 948.7,446.4 951.8,446.9 954.8,447.4 957.7,447.9 960.4,448.5 963.1,449.1 965.7,449.7 968.2,450.3 970.7,451.0 973.0,451.6 975.3,452.3 977.5,453.0 979.7,453.7 981.8,454.4 983.8,455.1 985.8,455.8 987.7,456.5 989.6,457.3 991.5,458.0 993.3,458.7 995.0,459.5 996.7,460.2 998.4,460.9 1000.1,461.7 1001.7,462.4 1003.2,463.1 1004.8,463.9 1006.3,464.6 1007.8,465.3 1009.2,466.1 1010.7,466.8 1012.1,467.5 1013.5,468.3 1014.8,469.0 1016.1,469.7 1017.4,470.4 1018.7,471.2 1020.0,471.9 1021.2,472.6 1022.5,473.3 1023.7,474.0 1024.9,474.7 1026.0,475.4 1027.2,476.1 1028.3,476.8 1029.4,477.5 1030.5,478.2 1031.6,478.9 1032.7,479.6 1033.7,480.3 1034.8,481.0 1035.8,481.7 1036.8,482.4 1037.8,483.0 1038.8,483.7 1039.8,484.4 1040.7,485.1 1041.7,485.7 1042.6,486.4 1043.5,487.0 1044.5,487.7 1045.4,488.4 1046.3,489.0 1047.1,489.7 1048.0,490.3 1048.9,491.0 1049.7,491.6 1050.6,492.2 1051.4,492.9 1052.2,493.5 1053.1,494.1 1053.9,494.8 1054.7,495.4 1055.5,496.0 1056.3,496.6 1057.0,497.2 1057.8,497.9 1058.6,498.5 1059.3,499.1 1060.1,499.7 1060.8,500.3 1061.5,500.9 1062.3,501.5 1063.0,502.1 1063.7,502.7 1064.4,503.3 1065.1,503.9 1065.8,504.5 1066.5,505.0 1067.1,505.6 1067.8,506.2 1068.5,506.8 1069.2,507.4 1069.8,507.9 1070.5,508.5 1071.1,509.1 1071.7,509.6 1072.4,510.2 1073.0,510.8 1073.6,511.3 1074.3,511.9 1074.9,512.4 1075.5,513.0 1076.1,513.5 1076.7,514.1 1077.3,514.6 1077.9,515.2 1078.5,515.7 1079.0,516.3 1079.6,516.8 1080.2,517.3 1080.8,517.9 1081.3,518.4 1081.9,518.9 1082.4,519.5 1083.0,520.0 1083.5,520.5 1084.1,521.0 1084.6,521.6 1085.2,522.1 1085.7,522.6 1086.2,523.1 1086.7,523.6 1087.3,524.1 1087.8,524.6 1088.3,525.1 1088.8,525.7 1089.3,526.2 1089.8,526.7 1090.3,527.2 1090.8,527.7 1091.3,528.2 1091.8,528.6 1092.3,529.1 1092.8,529.6 1093.3,530.1 1093.7,530.6 1094.2,531.1 1094.7,531.6 1095.2,532.1 1095.6,532.6 1096.1,533.0 1096.6,533.5 1097.0,534.0 1097.5,534.5 1097.9,534.9 1098.4,535.4 1098.8,535.9 1099.3,536.3 1099.7,536.8 1100.2,537.3 1100.6,537.7 1101.0,538.2 1101.5,538.7 1101.9,539.1 1102.3,539.6 1102.8,540.0 1103.2,540.5 1103.6,541.0 1104.0,541.4 1104.4,541.9 1104.8,542.3 1105.3,542.8 1105.7,543.2 1106.1,543.7 1106.5,544.1 1106.9,544.5 1107.3,545.0 1107.7,545.4 1108.1,545.9 1108.5,546.3 1108.9,546.7 1109.3,547.2 1109.7,547.6 1110.0,548.0 1110.4,548.5 1110.8,548.9" fill="none" stroke="#f0a030" stroke-width="1.9" stroke-dasharray="6.2,3.4"/>
<polyline points="789.6,378.3 1110.8,513.9" fill="none" stroke="#ea2a2a" stroke-width="1.9" stroke-dasharray="6.2,3.4"/>
<g fill="#3f1f78"><circle cx="789.6" cy="429.1" r="2.9"/><circle cx="811.6" cy="429.6" r="2.9"/><circle cx="828.7" cy="422.4" r="2.9"/><circle cx="842.6" cy="416.8" r="2.9"/><circle cx="854.4" cy="422.9" r="2.9"/><circle cx="864.6" cy="419.7" r="2.9"/><circle cx="873.6" cy="429.4" r="2.9"/><circle cx="881.7" cy="428.9" r="2.9"/><circle cx="889.0" cy="426.4" r="2.9"/><circle cx="895.6" cy="423.5" r="2.9"/><circle cx="901.8" cy="428.0" r="2.9"/><circle cx="907.4" cy="430.2" r="2.9"/><circle cx="912.7" cy="427.3" r="2.9"/><circle cx="917.6" cy="430.5" r="2.9"/><circle cx="922.3" cy="435.2" r="2.9"/><circle cx="926.7" cy="433.6" r="2.9"/><circle cx="930.8" cy="434.1" r="2.9"/><circle cx="934.7" cy="442.1" r="2.9"/><circle cx="938.4" cy="427.3" r="2.9"/><circle cx="942.0" cy="437.2" r="2.9"/><circle cx="945.4" cy="434.0" r="2.9"/><circle cx="948.7" cy="434.8" r="2.9"/><circle cx="951.8" cy="441.9" r="2.9"/><circle cx="954.8" cy="432.2" r="2.9"/><circle cx="957.7" cy="440.8" r="2.9"/><circle cx="960.4" cy="433.6" r="2.9"/><circle cx="963.1" cy="447.2" r="2.9"/><circle cx="965.7" cy="444.6" r="2.9"/><circle cx="968.2" cy="450.1" r="2.9"/><circle cx="970.7" cy="443.4" r="2.9"/><circle cx="973.0" cy="447.9" r="2.9"/><circle cx="975.3" cy="445.8" r="2.9"/><circle cx="977.5" cy="444.6" r="2.9"/><circle cx="979.7" cy="449.3" r="2.9"/><circle cx="981.8" cy="443.8" r="2.9"/><circle cx="983.8" cy="448.6" r="2.9"/><circle cx="985.8" cy="454.2" r="2.9"/><circle cx="987.7" cy="452.0" r="2.9"/><circle cx="989.6" cy="450.5" r="2.9"/><circle cx="991.5" cy="463.8" r="2.9"/><circle cx="993.3" cy="454.2" r="2.9"/><circle cx="995.0" cy="451.7" r="2.9"/><circle cx="996.7" cy="456.2" r="2.9"/><circle cx="998.4" cy="453.4" r="2.9"/><circle cx="1000.1" cy="454.8" r="2.9"/><circle cx="1001.7" cy="455.7" r="2.9"/><circle cx="1003.2" cy="468.8" r="2.9"/><circle cx="1004.8" cy="459.0" r="2.9"/><circle cx="1006.3" cy="460.5" r="2.9"/><circle cx="1007.8" cy="463.8" r="2.9"/><circle cx="1009.2" cy="471.8" r="2.9"/><circle cx="1010.7" cy="460.3" r="2.9"/><circle cx="1012.1" cy="458.7" r="2.9"/><circle cx="1013.5" cy="476.6" r="2.9"/><circle cx="1014.8" cy="455.2" r="2.9"/><circle cx="1016.1" cy="462.0" r="2.9"/><circle cx="1017.4" cy="468.5" r="2.9"/><circle cx="1018.7" cy="478.5" r="2.9"/><circle cx="1020.0" cy="460.4" r="2.9"/><circle cx="1021.2" cy="452.4" r="2.9"/><circle cx="1022.5" cy="471.1" r="2.9"/><circle cx="1023.7" cy="464.7" r="2.9"/><circle cx="1024.9" cy="466.1" r="2.9"/><circle cx="1026.0" cy="471.7" r="2.9"/><circle cx="1027.2" cy="470.9" r="2.9"/><circle cx="1028.3" cy="471.9" r="2.9"/><circle cx="1029.4" cy="468.1" r="2.9"/><circle cx="1030.5" cy="479.3" r="2.9"/><circle cx="1031.6" cy="481.2" r="2.9"/><circle cx="1032.7" cy="472.6" r="2.9"/><circle cx="1033.7" cy="470.2" r="2.9"/><circle cx="1034.8" cy="478.2" r="2.9"/><circle cx="1035.8" cy="477.1" r="2.9"/><circle cx="1036.8" cy="468.0" r="2.9"/><circle cx="1037.8" cy="472.2" r="2.9"/><circle cx="1038.8" cy="482.5" r="2.9"/><circle cx="1039.8" cy="475.7" r="2.9"/><circle cx="1040.7" cy="474.7" r="2.9"/><circle cx="1041.7" cy="478.7" r="2.9"/><circle cx="1042.6" cy="477.6" r="2.9"/><circle cx="1043.5" cy="478.4" r="2.9"/><circle cx="1044.5" cy="466.1" r="2.9"/><circle cx="1045.4" cy="491.1" r="2.9"/><circle cx="1046.3" cy="481.3" r="2.9"/><circle cx="1047.1" cy="474.5" r="2.9"/><circle cx="1048.0" cy="487.6" r="2.9"/><circle cx="1048.9" cy="483.5" r="2.9"/><circle cx="1049.7" cy="482.1" r="2.9"/><circle cx="1050.6" cy="489.6" r="2.9"/><circle cx="1051.4" cy="498.5" r="2.9"/><circle cx="1052.2" cy="487.2" r="2.9"/><circle cx="1053.1" cy="494.9" r="2.9"/><circle cx="1053.9" cy="499.4" r="2.9"/><circle cx="1054.7" cy="477.7" r="2.9"/><circle cx="1055.5" cy="481.7" r="2.9"/><circle cx="1056.3" cy="491.3" r="2.9"/><circle cx="1057.0" cy="474.2" r="2.9"/><circle cx="1057.8" cy="484.8" r="2.9"/><circle cx="1058.6" cy="496.4" r="2.9"/><circle cx="1059.3" cy="495.1" r="2.9"/><circle cx="1060.1" cy="492.3" r="2.9"/><circle cx="1060.8" cy="474.9" r="2.9"/><circle cx="1061.5" cy="506.0" r="2.9"/><circle cx="1062.3" cy="493.5" r="2.9"/><circle cx="1063.0" cy="495.5" r="2.9"/><circle cx="1063.7" cy="494.0" r="2.9"/><circle cx="1064.4" cy="478.3" r="2.9"/><circle cx="1065.1" cy="480.7" r="2.9"/><circle cx="1065.8" cy="482.7" r="2.9"/><circle cx="1066.5" cy="506.3" r="2.9"/><circle cx="1067.1" cy="486.4" r="2.9"/><circle cx="1067.8" cy="491.2" r="2.9"/><circle cx="1068.5" cy="491.5" r="2.9"/><circle cx="1069.2" cy="498.1" r="2.9"/><circle cx="1069.8" cy="498.0" r="2.9"/><circle cx="1070.5" cy="496.7" r="2.9"/><circle cx="1071.1" cy="485.6" r="2.9"/><circle cx="1071.7" cy="471.8" r="2.9"/><circle cx="1072.4" cy="497.2" r="2.9"/><circle cx="1073.0" cy="498.4" r="2.9"/><circle cx="1073.6" cy="506.2" r="2.9"/><circle cx="1074.3" cy="496.4" r="2.9"/><circle cx="1074.9" cy="492.9" r="2.9"/><circle cx="1075.5" cy="501.2" r="2.9"/><circle cx="1076.1" cy="486.4" r="2.9"/><circle cx="1076.7" cy="490.7" r="2.9"/><circle cx="1077.3" cy="491.4" r="2.9"/><circle cx="1077.9" cy="501.8" r="2.9"/><circle cx="1078.5" cy="516.3" r="2.9"/><circle cx="1079.0" cy="506.4" r="2.9"/><circle cx="1079.6" cy="509.7" r="2.9"/><circle cx="1080.2" cy="503.0" r="2.9"/><circle cx="1080.8" cy="503.7" r="2.9"/><circle cx="1081.3" cy="498.4" r="2.9"/><circle cx="1081.9" cy="500.1" r="2.9"/><circle cx="1082.4" cy="483.4" r="2.9"/><circle cx="1083.0" cy="493.5" r="2.9"/><circle cx="1083.5" cy="493.2" r="2.9"/><circle cx="1084.1" cy="510.5" r="2.9"/><circle cx="1084.6" cy="509.5" r="2.9"/><circle cx="1085.2" cy="513.8" r="2.9"/><circle cx="1085.7" cy="517.5" r="2.9"/><circle cx="1086.2" cy="502.9" r="2.9"/><circle cx="1086.7" cy="514.2" r="2.9"/><circle cx="1087.3" cy="521.9" r="2.9"/><circle cx="1087.8" cy="506.3" r="2.9"/><circle cx="1088.3" cy="515.6" r="2.9"/><circle cx="1088.8" cy="505.8" r="2.9"/><circle cx="1089.3" cy="494.3" r="2.9"/><circle cx="1089.8" cy="508.8" r="2.9"/><circle cx="1090.3" cy="501.5" r="2.9"/><circle cx="1090.8" cy="509.5" r="2.9"/><circle cx="1091.3" cy="505.1" r="2.9"/><circle cx="1091.8" cy="511.9" r="2.9"/><circle cx="1092.3" cy="491.9" r="2.9"/><circle cx="1092.8" cy="527.3" r="2.9"/><circle cx="1093.3" cy="521.6" r="2.9"/><circle cx="1093.7" cy="507.8" r="2.9"/><circle cx="1094.2" cy="503.4" r="2.9"/><circle cx="1094.7" cy="511.4" r="2.9"/><circle cx="1095.2" cy="517.4" r="2.9"/><circle cx="1095.6" cy="515.6" r="2.9"/><circle cx="1096.1" cy="515.8" r="2.9"/><circle cx="1096.6" cy="496.1" r="2.9"/><circle cx="1097.0" cy="503.5" r="2.9"/><circle cx="1097.5" cy="524.7" r="2.9"/><circle cx="1097.9" cy="515.8" r="2.9"/><circle cx="1098.4" cy="501.2" r="2.9"/><circle cx="1098.8" cy="507.0" r="2.9"/><circle cx="1099.3" cy="502.4" r="2.9"/><circle cx="1099.7" cy="506.3" r="2.9"/><circle cx="1100.2" cy="525.5" r="2.9"/><circle cx="1100.6" cy="513.8" r="2.9"/><circle cx="1101.0" cy="525.7" r="2.9"/><circle cx="1101.5" cy="518.0" r="2.9"/><circle cx="1101.9" cy="503.6" r="2.9"/><circle cx="1102.3" cy="511.3" r="2.9"/><circle cx="1102.8" cy="537.4" r="2.9"/><circle cx="1103.2" cy="510.9" r="2.9"/><circle cx="1103.6" cy="508.7" r="2.9"/><circle cx="1104.0" cy="529.2" r="2.9"/><circle cx="1104.4" cy="519.4" r="2.9"/><circle cx="1104.8" cy="518.8" r="2.9"/><circle cx="1105.3" cy="532.2" r="2.9"/><circle cx="1105.7" cy="503.9" r="2.9"/><circle cx="1106.1" cy="523.5" r="2.9"/><circle cx="1106.5" cy="510.7" r="2.9"/><circle cx="1106.9" cy="507.9" r="2.9"/><circle cx="1107.3" cy="513.5" r="2.9"/><circle cx="1107.7" cy="531.4" r="2.9"/><circle cx="1108.1" cy="520.1" r="2.9"/><circle cx="1108.5" cy="505.2" r="2.9"/><circle cx="1108.9" cy="512.0" r="2.9"/><circle cx="1109.3" cy="536.1" r="2.9"/><circle cx="1109.7" cy="531.8" r="2.9"/><circle cx="1110.0" cy="513.0" r="2.9"/><circle cx="1110.4" cy="545.2" r="2.9"/><circle cx="1110.8" cy="520.1" r="2.9"/><circle cx="1089.0" cy="537.7" r="2.9"/><circle cx="1065.0" cy="518.7" r="2.9"/><circle cx="1046.4" cy="496.1" r="2.9"/><circle cx="1032.0" cy="490.4" r="2.9"/><circle cx="1035.0" cy="489.5" r="2.9"/><circle cx="1011.0" cy="474.8" r="2.9"/><circle cx="1096.0" cy="532.0" r="2.9"/><circle cx="1106.0" cy="534.0" r="2.9"/><circle cx="1100.0" cy="508.0" r="2.9"/><circle cx="1108.0" cy="505.0" r="2.9"/><circle cx="1101.0" cy="498.0" r="2.9"/><circle cx="1110.0" cy="511.0" r="2.9"/><circle cx="1104.0" cy="520.0" r="2.9"/><circle cx="1093.0" cy="514.0" r="2.9"/></g>
<polyline points="789.6,378.3 1110.8,513.9" fill="none" stroke="#ea2a2a" stroke-width="1.9" stroke-dasharray="6.2,3.4"/>
<polyline points="789.0,431.8 794.5,430.8 799.9,429.9 805.4,429.2 810.8,428.5 816.3,427.8 821.8,427.3 827.2,426.8 832.7,426.5 838.1,426.2 843.6,426.0 849.1,425.9 854.5,425.8 860.0,425.9 865.4,426.0 870.9,426.2 876.3,426.5 881.8,426.9 887.3,427.4 892.7,427.9 898.2,428.6 903.6,429.3 909.1,430.1 914.6,431.0 920.0,432.0 925.5,433.1 930.9,434.3 936.4,435.5 941.9,436.9 947.3,438.3 952.8,439.8 958.2,441.5 963.7,443.2 969.2,444.9 974.6,446.8 980.1,448.8 985.5,450.9 991.0,453.0 996.5,455.2 1001.9,457.6 1007.4,460.0 1012.8,462.5 1018.3,465.1 1023.8,467.8 1029.2,470.6 1034.7,473.5 1040.1,476.5 1045.6,479.5 1051.0,482.7 1056.5,486.0 1062.0,489.3 1067.4,492.7 1072.9,496.3 1078.3,499.9 1083.8,503.6 1089.3,507.5 1094.7,511.4 1100.2,515.4 1105.6,519.5 1111.1,523.7" fill="none" stroke="#86d43e" stroke-width="1.9" />
<rect x="775.6" y="362.1" width="345.0" height="195.5" fill="none" stroke="#222" stroke-width="1.5" />
<rect x="1131.8" y="362.9" width="198.7" height="136.6" fill="#fff" stroke="#222" stroke-width="1.3" />
<polyline points="1140.8,380.4 1185.0,380.4" fill="none" stroke="#ea2a2a" stroke-width="1.9" stroke-dasharray="6.2,3.4"/>
<polyline points="1140.8,413.2 1185.0,413.2" fill="none" stroke="#f0a030" stroke-width="1.9" stroke-dasharray="6.2,3.4"/>
<line x1="1140.8" y1="445.7" x2="1185.0" y2="445.7" stroke="#86d43e" stroke-width="1.9" />
<circle cx="1162.8" cy="479.6" r="3.0" fill="#3f1f78" />
<text x="1202.0" y="388.3" font-size="21.8" font-family="'DejaVu Sans', sans-serif" textLength="118.3" lengthAdjust="spacingAndGlyphs">Power Law</text>
<text x="1202.0" y="420.7" font-size="21.8" font-family="'DejaVu Sans', sans-serif" textLength="107.0" lengthAdjust="spacingAndGlyphs">Log-norm</text>
<text x="1203.0" y="453.2" font-size="21.8" font-family="'DejaVu Sans', sans-serif" textLength="115.7" lengthAdjust="spacingAndGlyphs">OccamNet</text>
<text x="1202.0" y="486.0" font-size="21.8" font-family="'DejaVu Sans', sans-serif" textLength="106.4" lengthAdjust="spacingAndGlyphs">Real data</text>
<line x1="721.2" y1="646.6" x2="1329.6" y2="646.6" stroke="#111" stroke-width="2.4" />
<line x1="721.2" y1="691.5" x2="1329.6" y2="691.5" stroke="#111" stroke-width="1.4" />
<line x1="721.2" y1="782.1" x2="1329.6" y2="782.1" stroke="#111" stroke-width="1.4" />
<line x1="721.2" y1="874.0" x2="1329.6" y2="874.0" stroke="#111" stroke-width="2.4" />
<text x="977.9" y="677.7" font-size="23.0" textLength="104.6" lengthAdjust="spacingAndGlyphs">Prediction</text>
<text x="1240.7" y="677.7" font-size="23.0" textLength="49.5" lengthAdjust="spacingAndGlyphs">Error</text>
<text x="704.1" y="760.7" font-size="23.0" textLength="46.0" lengthAdjust="spacingAndGlyphs" transform="rotate(-90 704.2 760.7)">Wiki</text>
<text x="702.4" y="867.8" font-size="23.0" textLength="80.6" lengthAdjust="spacingAndGlyphs" transform="rotate(-90 704.2 867.8)">HEP-TH</text>
<text x="735.9" y="721.6" font-size="23.0" textLength="112.4" lengthAdjust="spacingAndGlyphs">Power Law</text>
<text x="769.5" y="767.2" font-size="23.0" textLength="49.3" lengthAdjust="spacingAndGlyphs">Ours</text>
<text x="739.9" y="815.0" font-size="23.0" textLength="102.0" lengthAdjust="spacingAndGlyphs">Log-norm</text>
<text x="766.2" y="862.3" font-size="23.0" textLength="47.7" lengthAdjust="spacingAndGlyphs">Ours</text>
<text x="953.1" y="723.0" font-size="22.0" textLength="94.4" lengthAdjust="spacingAndGlyphs">(1.07 · 10</text>
<text x="1049.5" y="712.0" font-size="13.5">7</text>
<text x="1060.1" y="723.0" font-size="22.0">)</text>
<text x="1069.3" y="723.0" font-size="22.0" textLength="13.6" lengthAdjust="spacingAndGlyphs">d</text>
<text x="1082.5" y="714.0" font-size="14.5" textLength="9.0" lengthAdjust="spacingAndGlyphs">−</text>
<text x="1096.9" y="714.0" font-size="15.0" textLength="33.8" lengthAdjust="spacingAndGlyphs">2.59</text>
<text x="1230.1" y="723.0" font-size="23.0" textLength="68.8" lengthAdjust="spacingAndGlyphs">0.0671</text>
<text x="953.1" y="768.0" font-size="22.0" textLength="94.4" lengthAdjust="spacingAndGlyphs">(1.07 · 10</text>
<text x="1049.5" y="757.0" font-size="13.5">7</text>
<text x="1060.1" y="768.0" font-size="22.0">)</text>
<text x="1069.3" y="768.0" font-size="22.0" textLength="13.6" lengthAdjust="spacingAndGlyphs">d</text>
<text x="1082.5" y="759.0" font-size="14.5" textLength="9.0" lengthAdjust="spacingAndGlyphs">−</text>
<text x="1096.9" y="759.0" font-size="15.0" textLength="33.8" lengthAdjust="spacingAndGlyphs">2.59</text>
<text x="1230.1" y="768.0" font-size="23.0" textLength="68.8" lengthAdjust="spacingAndGlyphs">0.0671</text>
<text x="913.9" y="805.6" font-size="14.5" textLength="43.3" lengthAdjust="spacingAndGlyphs">18100</text>
<line x1="886.4" y1="809.3" x2="982.5" y2="809.3" stroke="#111" stroke-width="1.1" />
<text x="891.9" y="826.4" font-size="14.5" textLength="86.5" lengthAdjust="spacingAndGlyphs">√2π(1.21) d</text>
<text x="989.1" y="815.0" font-size="23.0" textLength="37.5" lengthAdjust="spacingAndGlyphs">exp</text>
<text x="1031.9" y="818.5" font-size="30.0" textLength="11.3" lengthAdjust="spacingAndGlyphs">(</text>
<text x="1052.1" y="804.5" font-size="14.5" textLength="100.9" lengthAdjust="spacingAndGlyphs">− (ln d − 4.34)</text>
<text x="1157.5" y="796.3" font-size="9.5">2</text>
<line x1="1048.2" y1="809.3" x2="1166.4" y2="809.3" stroke="#111" stroke-width="1.1" />
<text x="1072.3" y="822.6" font-size="14.5" textLength="55.2" lengthAdjust="spacingAndGlyphs">2(1 .21)</text>
<text x="1133.3" y="818.8" font-size="9.5">2</text>
<text x="1167.6" y="818.5" font-size="30.0" textLength="11.3" lengthAdjust="spacingAndGlyphs">)</text>
<text x="1243.2" y="815.0" font-size="23.0" textLength="44.2" lengthAdjust="spacingAndGlyphs">8.88</text>
<text x="897.9" y="862.4" font-size="22.5" textLength="34.9" lengthAdjust="spacingAndGlyphs">123</text>
<text x="935.8" y="862.4" font-size="22.5" textLength="13.3" lengthAdjust="spacingAndGlyphs">d</text>
<text x="951.2" y="853.4" font-size="15.0" textLength="41.6" lengthAdjust="spacingAndGlyphs">0.659</text>
<text x="997.7" y="862.4" font-size="22.5" textLength="108.8" lengthAdjust="spacingAndGlyphs">exp(− 1.69</text>
<text x="1109.8" y="862.4" font-size="22.5" textLength="19.8" lengthAdjust="spacingAndGlyphs">ln</text>
<text x="1129.6" y="851.1" font-size="13.0">2</text>
<text x="1144.4" y="862.4" font-size="22.5" textLength="19.6" lengthAdjust="spacingAndGlyphs">d)</text>
<text x="1231.1" y="862.3" font-size="23.0" textLength="69.5" lengthAdjust="spacingAndGlyphs">0.0182</text>
<text x="1366.2" y="24.3" font-size="25.5" font-weight="bold" textLength="34.5" lengthAdjust="spacingAndGlyphs">(c)</text>
<text x="1429.4" y="24.3" font-size="25.0" textLength="382.1" lengthAdjust="spacingAndGlyphs">Cobb-Douglas production function</text>
<polyline points="1429.4,87.0 1654.0,81.2 1785.5,94.0" fill="none" stroke="#c4c4c4" stroke-width="1.1" />
<polyline points="1429.4,135.4 1654.0,126.8 1785.5,144.0" fill="none" stroke="#c4c4c4" stroke-width="1.1" />
<polyline points="1429.4,183.0 1654.0,172.2 1785.5,193.8" fill="none" stroke="#c4c4c4" stroke-width="1.1" />
<polyline points="1429.4,230.3 1654.0,217.1 1785.5,243.6" fill="none" stroke="#c4c4c4" stroke-width="1.1" />
<line x1="1474.6" y1="59.1" x2="1474.6" y2="251.5" stroke="#c4c4c4" stroke-width="1.1" />
<line x1="1551.6" y1="57.6" x2="1551.6" y2="246.5" stroke="#c4c4c4" stroke-width="1.1" />
<line x1="1626.0" y1="55.8" x2="1626.0" y2="241.2" stroke="#c4c4c4" stroke-width="1.1" />
<line x1="1676.1" y1="57.0" x2="1676.1" y2="244.1" stroke="#c4c4c4" stroke-width="1.1" />
<line x1="1736.5" y1="61.2" x2="1736.5" y2="258.1" stroke="#c4c4c4" stroke-width="1.1" />
<line x1="1474.6" y1="251.5" x2="1593.5" y2="284.2" stroke="#c4c4c4" stroke-width="1.1" />
<line x1="1551.6" y1="246.5" x2="1676.0" y2="277.6" stroke="#c4c4c4" stroke-width="1.1" />
<line x1="1626.0" y1="241.2" x2="1756.0" y2="271.4" stroke="#c4c4c4" stroke-width="1.1" />
<line x1="1448.0" y1="260.0" x2="1676.1" y2="244.1" stroke="#c4c4c4" stroke-width="1.1" />
<line x1="1500.2" y1="275.1" x2="1736.5" y2="258.1" stroke="#c4c4c4" stroke-width="1.1" />
<line x1="1785.5" y1="64.3" x2="1785.5" y2="269.2" stroke="#999" stroke-width="1.1" />
<polyline points="1430.0,254.5 1544.7,287.3 1785.5,269.2" fill="none" stroke="#444" stroke-width="1.0" />
<line x1="1784.0" y1="94.0" x2="1790.0" y2="94.5" stroke="#222" stroke-width="1.6" />
<line x1="1784.0" y1="144.0" x2="1790.0" y2="144.5" stroke="#222" stroke-width="1.6" />
<line x1="1784.0" y1="193.8" x2="1790.0" y2="194.3" stroke="#222" stroke-width="1.6" />
<line x1="1784.0" y1="243.6" x2="1790.0" y2="244.1" stroke="#222" stroke-width="1.6" />
<line x1="1444.0" y1="260.0" x2="1452.0" y2="260.0" stroke="#222" stroke-width="1.6" />
<line x1="1496.2" y1="275.1" x2="1504.2" y2="275.1" stroke="#222" stroke-width="1.6" />
<line x1="1589.5" y1="284.5" x2="1597.5" y2="283.9" stroke="#222" stroke-width="1.6" />
<line x1="1672.0" y1="277.9" x2="1680.0" y2="277.3" stroke="#222" stroke-width="1.6" />
<line x1="1752.0" y1="271.7" x2="1760.0" y2="271.1" stroke="#222" stroke-width="1.6" />
<text x="1794.8" y="113.3" font-size="23.6" font-family="'DejaVu Sans', sans-serif" textLength="48.6" lengthAdjust="spacingAndGlyphs">250</text>
<text x="1794.8" y="163.7" font-size="23.6" font-family="'DejaVu Sans', sans-serif" textLength="48.6" lengthAdjust="spacingAndGlyphs">200</text>
<text x="1793.9" y="213.6" font-size="23.6" font-family="'DejaVu Sans', sans-serif" textLength="49.6" lengthAdjust="spacingAndGlyphs">150</text>
<text x="1793.9" y="263.6" font-size="23.6" font-family="'DejaVu Sans', sans-serif" textLength="49.6" lengthAdjust="spacingAndGlyphs">100</text>
<text x="1410.4" y="291.5" font-size="23.6" font-family="'DejaVu Sans', sans-serif" textLength="47.7" lengthAdjust="spacingAndGlyphs">400</text>
<text x="1461.3" y="306.7" font-size="23.6" font-family="'DejaVu Sans', sans-serif" textLength="48.1" lengthAdjust="spacingAndGlyphs">200</text>
<text x="1576.7" y="317.2" font-size="23.6" font-family="'DejaVu Sans', sans-serif" textLength="48.0" lengthAdjust="spacingAndGlyphs">200</text>
<text x="1659.9" y="310.9" font-size="23.6" font-family="'DejaVu Sans', sans-serif" textLength="48.0" lengthAdjust="spacingAndGlyphs">150</text>
<text x="1739.8" y="304.2" font-size="23.6" font-family="'DejaVu Sans', sans-serif" textLength="48.7" lengthAdjust="spacingAndGlyphs">100</text>
<g><line x1="1738.5" y1="242.3" x2="1738.5" y2="241.3" stroke="#e8262a" stroke-width="1.4" stroke-dasharray="3,2" opacity="1.00"/><circle cx="1738.5" cy="242.3" r="4.3" fill="#471a6c" stroke="#111" stroke-width="1" opacity="1.00"/><line x1="1728.5" y1="241.3" x2="1728.5" y2="235.8" stroke="#e8262a" stroke-width="1.4" stroke-dasharray="3,2" opacity="1.00"/><circle cx="1728.5" cy="241.3" r="4.3" fill="#471c6d" stroke="#111" stroke-width="1" opacity="1.00"/><line x1="1718.5" y1="230.4" x2="1718.5" y2="230.3" stroke="#e8262a" stroke-width="1.4" stroke-dasharray="3,2" opacity="1.00"/><circle cx="1718.5" cy="230.4" r="4.3" fill="#45307c" stroke="#111" stroke-width="1" opacity="1.00"/><line x1="1694.4" y1="218.6" x2="1694.4" y2="217.2" stroke="#e8262a" stroke-width="1.4" stroke-dasharray="3,2" opacity="1.00"/><circle cx="1694.4" cy="218.6" r="4.3" fill="#404687" stroke="#111" stroke-width="1" opacity="1.00"/><line x1="1693.8" y1="220.0" x2="1693.8" y2="215.8" stroke="#e8262a" stroke-width="1.4" stroke-dasharray="3,2" opacity="1.00"/><circle cx="1693.8" cy="220.0" r="4.3" fill="#414286" stroke="#111" stroke-width="1" opacity="1.00"/><line x1="1676.1" y1="213.4" x2="1676.1" y2="202.0" stroke="#e8262a" stroke-width="1.4" stroke-dasharray="3,2" opacity="1.00"/><circle cx="1676.1" cy="213.4" r="4.3" fill="#3f4988" stroke="#111" stroke-width="1" opacity="1.00"/><line x1="1640.9" y1="185.8" x2="1640.9" y2="184.2" stroke="#e8262a" stroke-width="1.4" stroke-dasharray="3,2" opacity="1.00"/><circle cx="1640.9" cy="185.8" r="4.3" fill="#2c738e" stroke="#111" stroke-width="1" opacity="1.00"/><line x1="1631.6" y1="181.7" x2="1631.6" y2="178.8" stroke="#e8262a" stroke-width="1.4" stroke-dasharray="3,2" opacity="1.00"/><circle cx="1631.6" cy="181.7" r="4.3" fill="#2a798e" stroke="#111" stroke-width="1" opacity="1.00"/><line x1="1627.6" y1="187.2" x2="1627.6" y2="176.1" stroke="#e8262a" stroke-width="1.4" stroke-dasharray="3,2" opacity="1.00"/><circle cx="1627.6" cy="187.2" r="4.3" fill="#2d708e" stroke="#111" stroke-width="1" opacity="1.00"/><line x1="1613.1" y1="170.3" x2="1613.1" y2="166.6" stroke="#e8262a" stroke-width="1.4" stroke-dasharray="3,2" opacity="1.00"/><circle cx="1613.1" cy="170.3" r="4.3" fill="#25878d" stroke="#111" stroke-width="1" opacity="1.00"/><line x1="1514.5" y1="112.6" x2="1514.5" y2="111.5" stroke="#e8262a" stroke-width="1.4" stroke-dasharray="3,2" opacity="1.00"/><circle cx="1514.5" cy="112.6" r="4.3" fill="#72ce56" stroke="#111" stroke-width="1" opacity="1.00"/><line x1="1501.5" y1="115.5" x2="1501.5" y2="103.0" stroke="#e8262a" stroke-width="1.4" stroke-dasharray="3,2" opacity="1.00"/><circle cx="1501.5" cy="115.5" r="4.3" fill="#66ca5d" stroke="#111" stroke-width="1" opacity="1.00"/><line x1="1504.0" y1="119.3" x2="1504.0" y2="103.2" stroke="#e8262a" stroke-width="1.4" stroke-dasharray="3,2" opacity="1.00"/><circle cx="1504.0" cy="119.3" r="4.3" fill="#57c565" stroke="#111" stroke-width="1" opacity="1.00"/><line x1="1502.0" y1="106.0" x2="1502.0" y2="101.4" stroke="#e8262a" stroke-width="1.4" stroke-dasharray="3,2" opacity="1.00"/><circle cx="1502.0" cy="106.0" r="4.3" fill="#7fd24e" stroke="#111" stroke-width="1" opacity="1.00"/><line x1="1573.9" y1="152.2" x2="1573.9" y2="140.3" stroke="#e8262a" stroke-width="1.4" stroke-dasharray="3,2" opacity="1.00"/><circle cx="1573.9" cy="152.2" r="4.3" fill="#21948b" stroke="#111" stroke-width="1" opacity="1.00"/><path d="M1655.4 189.7L1648.8 186.9L1636.3 178.7L1642.7 181.6Z" fill="#2e6f8e" fill-opacity="0.5" stroke="#1e1e1e" stroke-width="0.55" stroke-opacity="0.7"/><path d="M1642.7 181.6L1636.3 178.7L1623.6 170.7L1630.0 173.7Z" fill="#297b8e" fill-opacity="0.5" stroke="#1e1e1e" stroke-width="0.55" stroke-opacity="0.7"/><path d="M1662.0 192.7L1655.4 189.7L1642.7 181.6L1649.3 184.6Z" fill="#2f6d8e" fill-opacity="0.5" stroke="#1e1e1e" stroke-width="0.55" stroke-opacity="0.7"/><path d="M1630.0 173.7L1623.6 170.7L1610.8 162.7L1617.2 165.8Z" fill="#25878d" fill-opacity="0.5" stroke="#1e1e1e" stroke-width="0.55" stroke-opacity="0.7"/><path d="M1649.3 184.6L1642.7 181.6L1630.0 173.7L1636.5 176.8Z" fill="#2a788e" fill-opacity="0.5" stroke="#1e1e1e" stroke-width="0.55" stroke-opacity="0.7"/><path d="M1617.2 165.8L1610.8 162.7L1598.0 154.9L1604.3 158.1Z" fill="#21928c" fill-opacity="0.5" stroke="#1e1e1e" stroke-width="0.55" stroke-opacity="0.7"/><path d="M1668.6 195.7L1662.0 192.7L1649.3 184.6L1655.9 187.8Z" fill="#306a8d" fill-opacity="0.5" stroke="#1e1e1e" stroke-width="0.55" stroke-opacity="0.7"/><path d="M1636.5 176.8L1630.0 173.7L1617.2 165.8L1623.7 169.0Z" fill="#26848d" fill-opacity="0.5" stroke="#1e1e1e" stroke-width="0.55" stroke-opacity="0.7"/><path d="M1604.3 158.1L1598.0 154.9L1585.1 147.2L1591.4 150.4Z" fill="#229d88" fill-opacity="0.5" stroke="#1e1e1e" stroke-width="0.55" stroke-opacity="0.7"/><path d="M1655.9 187.8L1649.3 184.6L1636.5 176.8L1643.1 180.0Z" fill="#2b768e" fill-opacity="0.5" stroke="#1e1e1e" stroke-width="0.55" stroke-opacity="0.7"/><path d="M1623.7 169.0L1617.2 165.8L1604.3 158.1L1610.8 161.3Z" fill="#228f8c" fill-opacity="0.5" stroke="#1e1e1e" stroke-width="0.55" stroke-opacity="0.7"/><path d="M1675.4 198.9L1668.6 195.7L1655.9 187.8L1662.6 191.0Z" fill="#31678d" fill-opacity="0.5" stroke="#1e1e1e" stroke-width="0.55" stroke-opacity="0.7"/><path d="M1591.4 150.4L1585.1 147.2L1572.1 139.5L1578.3 142.8Z" fill="#22a784" fill-opacity="0.5" stroke="#1e1e1e" stroke-width="0.55" stroke-opacity="0.7"/><path d="M1643.1 180.0L1636.5 176.8L1623.7 169.0L1630.2 172.3Z" fill="#27818d" fill-opacity="0.5" stroke="#1e1e1e" stroke-width="0.55" stroke-opacity="0.7"/><path d="M1610.8 161.3L1604.3 158.1L1591.4 150.4L1597.7 153.8Z" fill="#219a89" fill-opacity="0.5" stroke="#1e1e1e" stroke-width="0.55" stroke-opacity="0.7"/><path d="M1662.6 191.0L1655.9 187.8L1643.1 180.0L1649.8 183.4Z" fill="#2c738e" fill-opacity="0.5" stroke="#1e1e1e" stroke-width="0.55" stroke-opacity="0.7"/><path d="M1578.3 142.8L1572.1 139.5L1559.0 131.9L1565.2 135.3Z" fill="#2fb17c" fill-opacity="0.5" stroke="#1e1e1e" stroke-width="0.55" stroke-opacity="0.7"/><path d="M1630.2 172.3L1623.7 169.0L1610.8 161.3L1617.2 164.8Z" fill="#238c8c" fill-opacity="0.5" stroke="#1e1e1e" stroke-width="0.55" stroke-opacity="0.7"/><path d="M1682.2 202.1L1675.4 198.9L1662.6 191.0L1669.4 194.4Z" fill="#33658d" fill-opacity="0.5" stroke="#1e1e1e" stroke-width="0.55" stroke-opacity="0.7"/><path d="M1597.7 153.8L1591.4 150.4L1578.3 142.8L1584.6 146.3Z" fill="#22a485" fill-opacity="0.5" stroke="#1e1e1e" stroke-width="0.55" stroke-opacity="0.7"/><path d="M1649.8 183.4L1643.1 180.0L1630.2 172.3L1636.8 175.8Z" fill="#287e8e" fill-opacity="0.5" stroke="#1e1e1e" stroke-width="0.55" stroke-opacity="0.7"/><path d="M1565.2 135.3L1559.0 131.9L1545.8 124.4L1551.9 127.9Z" fill="#3ebb74" fill-opacity="0.5" stroke="#1e1e1e" stroke-width="0.55" stroke-opacity="0.7"/><path d="M1617.2 164.8L1610.8 161.3L1597.7 153.8L1604.2 157.3Z" fill="#21978a" fill-opacity="0.5" stroke="#1e1e1e" stroke-width="0.55" stroke-opacity="0.7"/><path d="M1669.4 194.4L1662.6 191.0L1649.8 183.4L1656.5 186.9Z" fill="#2e708e" fill-opacity="0.5" stroke="#1e1e1e" stroke-width="0.55" stroke-opacity="0.7"/><path d="M1584.6 146.3L1578.3 142.8L1565.2 135.3L1571.4 138.9Z" fill="#2bae7f" fill-opacity="0.5" stroke="#1e1e1e" stroke-width="0.55" stroke-opacity="0.7"/><path d="M1636.8 175.8L1630.2 172.3L1617.2 164.8L1623.8 168.3Z" fill="#24898d" fill-opacity="0.5" stroke="#1e1e1e" stroke-width="0.55" stroke-opacity="0.7"/><path d="M1689.1 205.6L1682.2 202.1L1669.4 194.4L1676.2 198.0Z" fill="#34628d" fill-opacity="0.5" stroke="#1e1e1e" stroke-width="0.55" stroke-opacity="0.7"/><path d="M1551.9 127.9L1545.8 124.4L1532.5 116.9L1538.6 120.5Z" fill="#52c468" fill-opacity="0.5" stroke="#1e1e1e" stroke-width="0.55" stroke-opacity="0.7"/><path d="M1604.2 157.3L1597.7 153.8L1584.6 146.3L1591.0 149.9Z" fill="#22a186" fill-opacity="0.5" stroke="#1e1e1e" stroke-width="0.55" stroke-opacity="0.7"/><path d="M1656.5 186.9L1649.8 183.4L1636.8 175.8L1643.5 179.4Z" fill="#297b8e" fill-opacity="0.5" stroke="#1e1e1e" stroke-width="0.55" stroke-opacity="0.7"/><path d="M1571.4 138.9L1565.2 135.3L1551.9 127.9L1558.1 131.5Z" fill="#39b876" fill-opacity="0.5" stroke="#1e1e1e" stroke-width="0.55" stroke-opacity="0.7"/><path d="M1623.8 168.3L1617.2 164.8L1604.2 157.3L1610.7 160.9Z" fill="#21948b" fill-opacity="0.5" stroke="#1e1e1e" stroke-width="0.55" stroke-opacity="0.7"/><path d="M1676.2 198.0L1669.4 194.4L1656.5 186.9L1663.3 190.5Z" fill="#2f6d8e" fill-opacity="0.5" stroke="#1e1e1e" stroke-width="0.55" stroke-opacity="0.7"/><path d="M1538.6 120.5L1532.5 116.9L1519.1 109.5L1525.1 113.2Z" fill="#68cb5b" fill-opacity="0.5" stroke="#1e1e1e" stroke-width="0.55" stroke-opacity="0.7"/><path d="M1591.0 149.9L1584.6 146.3L1571.4 138.9L1577.8 142.5Z" fill="#26ab82" fill-opacity="0.5" stroke="#1e1e1e" stroke-width="0.55" stroke-opacity="0.7"/><path d="M1643.5 179.4L1636.8 175.8L1623.8 168.3L1630.4 172.0Z" fill="#25868d" fill-opacity="0.5" stroke="#1e1e1e" stroke-width="0.55" stroke-opacity="0.7"/><path d="M1696.1 209.2L1689.1 205.6L1676.2 198.0L1683.1 201.7Z" fill="#355f8d" fill-opacity="0.5" stroke="#1e1e1e" stroke-width="0.55" stroke-opacity="0.7"/><path d="M1558.1 131.5L1551.9 127.9L1538.6 120.5L1544.7 124.2Z" fill="#4ac16d" fill-opacity="0.5" stroke="#1e1e1e" stroke-width="0.55" stroke-opacity="0.7"/><path d="M1610.7 160.9L1604.2 157.3L1591.0 149.9L1597.5 153.6Z" fill="#229e88" fill-opacity="0.5" stroke="#1e1e1e" stroke-width="0.55" stroke-opacity="0.7"/><path d="M1663.3 190.5L1656.5 186.9L1643.5 179.4L1650.2 183.2Z" fill="#2a788e" fill-opacity="0.5" stroke="#1e1e1e" stroke-width="0.55" stroke-opacity="0.7"/><path d="M1525.1 113.2L1519.1 109.5L1505.6 102.2L1511.6 105.9Z" fill="#80d24d" fill-opacity="0.5" stroke="#1e1e1e" stroke-width="0.55" stroke-opacity="0.7"/><path d="M1577.8 142.5L1571.4 138.9L1558.1 131.5L1564.4 135.3Z" fill="#34b479" fill-opacity="0.5" stroke="#1e1e1e" stroke-width="0.55" stroke-opacity="0.7"/><path d="M1630.4 172.0L1623.8 168.3L1610.7 160.9L1617.3 164.8Z" fill="#21918c" fill-opacity="0.5" stroke="#1e1e1e" stroke-width="0.55" stroke-opacity="0.7"/><path d="M1683.1 201.7L1676.2 198.0L1663.3 190.5L1670.2 194.4Z" fill="#306a8d" fill-opacity="0.5" stroke="#1e1e1e" stroke-width="0.55" stroke-opacity="0.7"/><path d="M1544.7 124.2L1538.6 120.5L1525.1 113.2L1531.3 116.9Z" fill="#60c860" fill-opacity="0.5" stroke="#1e1e1e" stroke-width="0.55" stroke-opacity="0.7"/><path d="M1597.5 153.6L1591.0 149.9L1577.8 142.5L1584.2 146.4Z" fill="#22a784" fill-opacity="0.5" stroke="#1e1e1e" stroke-width="0.55" stroke-opacity="0.7"/><path d="M1650.2 183.2L1643.5 179.4L1630.4 172.0L1637.1 176.0Z" fill="#26838d" fill-opacity="0.5" stroke="#1e1e1e" stroke-width="0.55" stroke-opacity="0.7"/><path d="M1511.6 105.9L1505.6 102.2L1492.1 94.8L1498.0 98.6Z" fill="#9bd83c" fill-opacity="0.5" stroke="#1e1e1e" stroke-width="0.55" stroke-opacity="0.7"/><path d="M1703.1 212.9L1696.1 209.2L1683.1 201.7L1690.1 205.6Z" fill="#375b8c" fill-opacity="0.5" stroke="#1e1e1e" stroke-width="0.55" stroke-opacity="0.7"/><path d="M1564.4 135.3L1558.1 131.5L1544.7 124.2L1551.0 128.1Z" fill="#42be71" fill-opacity="0.5" stroke="#1e1e1e" stroke-width="0.55" stroke-opacity="0.7"/><path d="M1617.3 164.8L1610.7 160.9L1597.5 153.6L1604.0 157.6Z" fill="#219a89" fill-opacity="0.5" stroke="#1e1e1e" stroke-width="0.55" stroke-opacity="0.7"/><path d="M1670.2 194.4L1663.3 190.5L1650.2 183.2L1657.1 187.2Z" fill="#2c748e" fill-opacity="0.5" stroke="#1e1e1e" stroke-width="0.55" stroke-opacity="0.7"/><path d="M1531.3 116.9L1525.1 113.2L1511.6 105.9L1517.7 109.7Z" fill="#76d053" fill-opacity="0.5" stroke="#1e1e1e" stroke-width="0.55" stroke-opacity="0.7"/><path d="M1584.2 146.4L1577.8 142.5L1564.4 135.3L1570.8 139.2Z" fill="#2fb17c" fill-opacity="0.5" stroke="#1e1e1e" stroke-width="0.55" stroke-opacity="0.7"/><path d="M1637.1 176.0L1630.4 172.0L1617.3 164.8L1623.9 168.8Z" fill="#228d8c" fill-opacity="0.5" stroke="#1e1e1e" stroke-width="0.55" stroke-opacity="0.7"/><path d="M1498.0 98.6L1492.1 94.8L1478.4 87.6L1484.3 91.4Z" fill="#b7de2a" fill-opacity="0.5" stroke="#1e1e1e" stroke-width="0.55" stroke-opacity="0.7"/><path d="M1690.1 205.6L1683.1 201.7L1670.2 194.4L1677.1 198.5Z" fill="#32668d" fill-opacity="0.5" stroke="#1e1e1e" stroke-width="0.55" stroke-opacity="0.7"/><path d="M1551.0 128.1L1544.7 124.2L1531.3 116.9L1537.4 120.9Z" fill="#58c665" fill-opacity="0.5" stroke="#1e1e1e" stroke-width="0.55" stroke-opacity="0.7"/><path d="M1604.0 157.6L1597.5 153.6L1584.2 146.4L1590.6 150.5Z" fill="#22a485" fill-opacity="0.5" stroke="#1e1e1e" stroke-width="0.55" stroke-opacity="0.7"/><path d="M1657.1 187.2L1650.2 183.2L1637.1 176.0L1643.9 180.1Z" fill="#287f8d" fill-opacity="0.5" stroke="#1e1e1e" stroke-width="0.55" stroke-opacity="0.7"/><path d="M1517.7 109.7L1511.6 105.9L1498.0 98.6L1504.0 102.6Z" fill="#91d643" fill-opacity="0.5" stroke="#1e1e1e" stroke-width="0.55" stroke-opacity="0.7"/><path d="M1710.2 216.9L1703.1 212.9L1690.1 205.6L1697.2 209.8Z" fill="#38578b" fill-opacity="0.5" stroke="#1e1e1e" stroke-width="0.55" stroke-opacity="0.7"/><path d="M1570.8 139.2L1564.4 135.3L1551.0 128.1L1557.3 132.1Z" fill="#3dba74" fill-opacity="0.5" stroke="#1e1e1e" stroke-width="0.55" stroke-opacity="0.7"/><path d="M1623.9 168.8L1617.3 164.8L1604.0 157.6L1610.6 161.7Z" fill="#21978a" fill-opacity="0.5" stroke="#1e1e1e" stroke-width="0.55" stroke-opacity="0.7"/><path d="M1484.3 91.4L1478.4 87.6L1464.7 80.3L1470.5 84.2Z" fill="#d1e126" fill-opacity="0.5" stroke="#1e1e1e" stroke-width="0.55" stroke-opacity="0.7"/><path d="M1677.1 198.5L1670.2 194.4L1657.1 187.2L1664.0 191.4Z" fill="#2d718e" fill-opacity="0.5" stroke="#1e1e1e" stroke-width="0.55" stroke-opacity="0.7"/><path d="M1537.4 120.9L1531.3 116.9L1517.7 109.7L1523.8 113.8Z" fill="#6dcd58" fill-opacity="0.5" stroke="#1e1e1e" stroke-width="0.55" stroke-opacity="0.7"/><path d="M1590.6 150.5L1584.2 146.4L1570.8 139.2L1577.2 143.4Z" fill="#2aad7f" fill-opacity="0.5" stroke="#1e1e1e" stroke-width="0.55" stroke-opacity="0.7"/><path d="M1643.9 180.1L1637.1 176.0L1623.9 168.8L1630.6 173.0Z" fill="#24898d" fill-opacity="0.5" stroke="#1e1e1e" stroke-width="0.55" stroke-opacity="0.7"/><path d="M1504.0 102.6L1498.0 98.6L1484.3 91.4L1490.2 95.4Z" fill="#abdb31" fill-opacity="0.5" stroke="#1e1e1e" stroke-width="0.55" stroke-opacity="0.7"/><path d="M1697.2 209.8L1690.1 205.6L1677.1 198.5L1684.1 202.8Z" fill="#33638d" fill-opacity="0.5" stroke="#1e1e1e" stroke-width="0.55" stroke-opacity="0.7"/><path d="M1557.3 132.1L1551.0 128.1L1537.4 120.9L1543.7 125.1Z" fill="#4fc36a" fill-opacity="0.5" stroke="#1e1e1e" stroke-width="0.55" stroke-opacity="0.7"/><path d="M1610.6 161.7L1604.0 157.6L1590.6 150.5L1597.2 154.7Z" fill="#22a087" fill-opacity="0.5" stroke="#1e1e1e" stroke-width="0.55" stroke-opacity="0.7"/><path d="M1470.5 84.2L1464.7 80.3L1450.8 73.1L1456.6 77.1Z" fill="#eae525" fill-opacity="0.5" stroke="#1e1e1e" stroke-width="0.55" stroke-opacity="0.7"/><path d="M1664.0 191.4L1657.1 187.2L1643.9 180.1L1650.7 184.4Z" fill="#297b8e" fill-opacity="0.5" stroke="#1e1e1e" stroke-width="0.55" stroke-opacity="0.7"/><path d="M1523.8 113.8L1517.7 109.7L1504.0 102.6L1510.1 106.7Z" fill="#85d34a" fill-opacity="0.5" stroke="#1e1e1e" stroke-width="0.55" stroke-opacity="0.7"/><path d="M1717.4 221.2L1710.2 216.9L1697.2 209.8L1704.4 214.2Z" fill="#3a538a" fill-opacity="0.5" stroke="#1e1e1e" stroke-width="0.55" stroke-opacity="0.7"/><path d="M1577.2 143.4L1570.8 139.2L1557.3 132.1L1563.6 136.4Z" fill="#37b677" fill-opacity="0.5" stroke="#1e1e1e" stroke-width="0.55" stroke-opacity="0.7"/><path d="M1630.6 173.0L1623.9 168.8L1610.6 161.7L1617.3 166.1Z" fill="#21938b" fill-opacity="0.5" stroke="#1e1e1e" stroke-width="0.55" stroke-opacity="0.7"/><path d="M1490.2 95.4L1484.3 91.4L1470.5 84.2L1476.4 88.3Z" fill="#c6e026" fill-opacity="0.5" stroke="#1e1e1e" stroke-width="0.55" stroke-opacity="0.7"/><path d="M1684.1 202.8L1677.1 198.5L1664.0 191.4L1670.9 195.9Z" fill="#2f6d8e" fill-opacity="0.5" stroke="#1e1e1e" stroke-width="0.55" stroke-opacity="0.7"/><path d="M1543.7 125.1L1537.4 120.9L1523.8 113.8L1530.0 118.0Z" fill="#64ca5d" fill-opacity="0.5" stroke="#1e1e1e" stroke-width="0.55" stroke-opacity="0.7"/><path d="M1597.2 154.7L1590.6 150.5L1577.2 143.4L1583.7 147.8Z" fill="#24a983" fill-opacity="0.5" stroke="#1e1e1e" stroke-width="0.55" stroke-opacity="0.7"/><path d="M1650.7 184.4L1643.9 180.1L1630.6 173.0L1637.4 177.5Z" fill="#25858d" fill-opacity="0.5" stroke="#1e1e1e" stroke-width="0.55" stroke-opacity="0.7"/><path d="M1510.1 106.7L1504.0 102.6L1490.2 95.4L1496.3 99.7Z" fill="#a0d939" fill-opacity="0.5" stroke="#1e1e1e" stroke-width="0.55" stroke-opacity="0.7"/><path d="M1704.4 214.2L1697.2 209.8L1684.1 202.8L1691.2 207.4Z" fill="#355f8d" fill-opacity="0.5" stroke="#1e1e1e" stroke-width="0.55" stroke-opacity="0.7"/><path d="M1563.6 136.4L1557.3 132.1L1543.7 125.1L1550.0 129.4Z" fill="#45bf6f" fill-opacity="0.5" stroke="#1e1e1e" stroke-width="0.55" stroke-opacity="0.7"/><path d="M1617.3 166.1L1610.6 161.7L1597.2 154.7L1603.8 159.2Z" fill="#219c88" fill-opacity="0.5" stroke="#1e1e1e" stroke-width="0.55" stroke-opacity="0.7"/><path d="M1476.4 88.3L1470.5 84.2L1456.6 77.1L1462.4 81.2Z" fill="#dfe325" fill-opacity="0.5" stroke="#1e1e1e" stroke-width="0.55" stroke-opacity="0.7"/><path d="M1670.9 195.9L1664.0 191.4L1650.7 184.4L1657.7 189.0Z" fill="#2b778e" fill-opacity="0.5" stroke="#1e1e1e" stroke-width="0.55" stroke-opacity="0.7"/><path d="M1530.0 118.0L1523.8 113.8L1510.1 106.7L1516.2 111.0Z" fill="#7ad151" fill-opacity="0.5" stroke="#1e1e1e" stroke-width="0.55" stroke-opacity="0.7"/><path d="M1724.7 225.7L1717.4 221.2L1704.4 214.2L1711.6 218.9Z" fill="#3c4f89" fill-opacity="0.5" stroke="#1e1e1e" stroke-width="0.55" stroke-opacity="0.7"/><path d="M1583.7 147.8L1577.2 143.4L1563.6 136.4L1570.1 140.9Z" fill="#31b27b" fill-opacity="0.5" stroke="#1e1e1e" stroke-width="0.55" stroke-opacity="0.7"/><path d="M1637.4 177.5L1630.6 173.0L1617.3 166.1L1624.0 170.7Z" fill="#228f8c" fill-opacity="0.5" stroke="#1e1e1e" stroke-width="0.55" stroke-opacity="0.7"/><path d="M1496.3 99.7L1490.2 95.4L1476.4 88.3L1482.3 92.6Z" fill="#bade28" fill-opacity="0.5" stroke="#1e1e1e" stroke-width="0.55" stroke-opacity="0.7"/><path d="M1691.2 207.4L1684.1 202.8L1670.9 195.9L1678.0 200.6Z" fill="#31698d" fill-opacity="0.5" stroke="#1e1e1e" stroke-width="0.55" stroke-opacity="0.7"/><path d="M1550.0 129.4L1543.7 125.1L1530.0 118.0L1536.3 122.5Z" fill="#5bc763" fill-opacity="0.5" stroke="#1e1e1e" stroke-width="0.55" stroke-opacity="0.7"/><path d="M1603.8 159.2L1597.2 154.7L1583.7 147.8L1590.3 152.4Z" fill="#22a585" fill-opacity="0.5" stroke="#1e1e1e" stroke-width="0.55" stroke-opacity="0.7"/><path d="M1657.7 189.0L1650.7 184.4L1637.4 177.5L1644.3 182.3Z" fill="#27818d" fill-opacity="0.5" stroke="#1e1e1e" stroke-width="0.55" stroke-opacity="0.7"/><path d="M1516.2 111.0L1510.1 106.7L1496.3 99.7L1502.3 104.1Z" fill="#93d641" fill-opacity="0.5" stroke="#1e1e1e" stroke-width="0.55" stroke-opacity="0.7"/><path d="M1711.6 218.9L1704.4 214.2L1691.2 207.4L1698.4 212.3Z" fill="#375a8c" fill-opacity="0.5" stroke="#1e1e1e" stroke-width="0.55" stroke-opacity="0.7"/><path d="M1570.1 140.9L1563.6 136.4L1550.0 129.4L1556.4 134.0Z" fill="#3fbb73" fill-opacity="0.5" stroke="#1e1e1e" stroke-width="0.55" stroke-opacity="0.7"/><path d="M1624.0 170.7L1617.3 166.1L1603.8 159.2L1610.5 164.0Z" fill="#21988a" fill-opacity="0.5" stroke="#1e1e1e" stroke-width="0.55" stroke-opacity="0.7"/><path d="M1482.3 92.6L1476.4 88.3L1462.4 81.2L1468.3 85.6Z" fill="#d3e226" fill-opacity="0.5" stroke="#1e1e1e" stroke-width="0.55" stroke-opacity="0.7"/><path d="M1678.0 200.6L1670.9 195.9L1657.7 189.0L1664.7 194.0Z" fill="#2c728e" fill-opacity="0.5" stroke="#1e1e1e" stroke-width="0.55" stroke-opacity="0.7"/><path d="M1536.3 122.5L1530.0 118.0L1516.2 111.0L1522.4 115.6Z" fill="#6fcd57" fill-opacity="0.5" stroke="#1e1e1e" stroke-width="0.55" stroke-opacity="0.7"/><path d="M1732.0 230.5L1724.7 225.7L1711.6 218.9L1718.9 224.0Z" fill="#3e4a88" fill-opacity="0.5" stroke="#1e1e1e" stroke-width="0.55" stroke-opacity="0.7"/><path d="M1590.3 152.4L1583.7 147.8L1570.1 140.9L1576.6 145.6Z" fill="#2bae7f" fill-opacity="0.5" stroke="#1e1e1e" stroke-width="0.55" stroke-opacity="0.7"/><path d="M1644.3 182.3L1637.4 177.5L1624.0 170.7L1630.8 175.6Z" fill="#238a8d" fill-opacity="0.5" stroke="#1e1e1e" stroke-width="0.55" stroke-opacity="0.7"/><path d="M1502.3 104.1L1496.3 99.7L1482.3 92.6L1488.4 97.2Z" fill="#addc30" fill-opacity="0.5" stroke="#1e1e1e" stroke-width="0.55" stroke-opacity="0.7"/><path d="M1698.4 212.3L1691.2 207.4L1678.0 200.6L1685.1 205.7Z" fill="#33648d" fill-opacity="0.5" stroke="#1e1e1e" stroke-width="0.55" stroke-opacity="0.7"/><path d="M1556.4 134.0L1550.0 129.4L1536.3 122.5L1542.6 127.2Z" fill="#50c369" fill-opacity="0.5" stroke="#1e1e1e" stroke-width="0.55" stroke-opacity="0.7"/><path d="M1610.5 164.0L1603.8 159.2L1590.3 152.4L1596.9 157.3Z" fill="#22a186" fill-opacity="0.5" stroke="#1e1e1e" stroke-width="0.55" stroke-opacity="0.7"/><path d="M1664.7 194.0L1657.7 189.0L1644.3 182.3L1651.3 187.4Z" fill="#297c8e" fill-opacity="0.5" stroke="#1e1e1e" stroke-width="0.55" stroke-opacity="0.7"/><path d="M1522.4 115.6L1516.2 111.0L1502.3 104.1L1508.5 108.8Z" fill="#87d449" fill-opacity="0.5" stroke="#1e1e1e" stroke-width="0.55" stroke-opacity="0.7"/><path d="M1718.9 224.0L1711.6 218.9L1698.4 212.3L1705.7 217.6Z" fill="#39558b" fill-opacity="0.5" stroke="#1e1e1e" stroke-width="0.55" stroke-opacity="0.7"/><path d="M1576.6 145.6L1570.1 140.9L1556.4 134.0L1562.9 138.9Z" fill="#38b777" fill-opacity="0.5" stroke="#1e1e1e" stroke-width="0.55" stroke-opacity="0.7"/><path d="M1630.8 175.6L1624.0 170.7L1610.5 164.0L1617.3 169.0Z" fill="#21948b" fill-opacity="0.5" stroke="#1e1e1e" stroke-width="0.55" stroke-opacity="0.7"/><path d="M1488.4 97.2L1482.3 92.6L1468.3 85.6L1474.3 90.3Z" fill="#c6e026" fill-opacity="0.5" stroke="#1e1e1e" stroke-width="0.55" stroke-opacity="0.7"/><path d="M1685.1 205.7L1678.0 200.6L1664.7 194.0L1671.8 199.3Z" fill="#2f6e8e" fill-opacity="0.5" stroke="#1e1e1e" stroke-width="0.55" stroke-opacity="0.7"/><path d="M1542.6 127.2L1536.3 122.5L1522.4 115.6L1528.7 120.4Z" fill="#65ca5d" fill-opacity="0.5" stroke="#1e1e1e" stroke-width="0.55" stroke-opacity="0.7"/><path d="M1739.5 235.8L1732.0 230.5L1718.9 224.0L1726.3 229.5Z" fill="#404587" fill-opacity="0.5" stroke="#1e1e1e" stroke-width="0.55" stroke-opacity="0.7"/><path d="M1596.9 157.3L1590.3 152.4L1576.6 145.6L1583.2 150.6Z" fill="#25aa82" fill-opacity="0.5" stroke="#1e1e1e" stroke-width="0.55" stroke-opacity="0.7"/><path d="M1651.3 187.4L1644.3 182.3L1630.8 175.6L1637.7 180.9Z" fill="#25858d" fill-opacity="0.5" stroke="#1e1e1e" stroke-width="0.55" stroke-opacity="0.7"/><path d="M1508.5 108.8L1502.3 104.1L1488.4 97.2L1494.5 101.9Z" fill="#a0d939" fill-opacity="0.5" stroke="#1e1e1e" stroke-width="0.55" stroke-opacity="0.7"/><path d="M1705.7 217.6L1698.4 212.3L1685.1 205.7L1692.3 211.2Z" fill="#355f8d" fill-opacity="0.5" stroke="#1e1e1e" stroke-width="0.55" stroke-opacity="0.7"/><path d="M1562.9 138.9L1556.4 134.0L1542.6 127.2L1549.0 132.2Z" fill="#46c06f" fill-opacity="0.5" stroke="#1e1e1e" stroke-width="0.55" stroke-opacity="0.7"/><path d="M1617.3 169.0L1610.5 164.0L1596.9 157.3L1603.6 162.5Z" fill="#219c88" fill-opacity="0.5" stroke="#1e1e1e" stroke-width="0.55" stroke-opacity="0.7"/><path d="M1671.8 199.3L1664.7 194.0L1651.3 187.4L1658.3 192.9Z" fill="#2a778e" fill-opacity="0.5" stroke="#1e1e1e" stroke-width="0.55" stroke-opacity="0.7"/><path d="M1528.7 120.4L1522.4 115.6L1508.5 108.8L1514.7 113.7Z" fill="#79d151" fill-opacity="0.5" stroke="#1e1e1e" stroke-width="0.55" stroke-opacity="0.7"/><path d="M1726.3 229.5L1718.9 224.0L1705.7 217.6L1713.0 223.4Z" fill="#3c4f8a" fill-opacity="0.5" stroke="#1e1e1e" stroke-width="0.55" stroke-opacity="0.7"/><path d="M1583.2 150.6L1576.6 145.6L1562.9 138.9L1569.4 144.0Z" fill="#31b27b" fill-opacity="0.5" stroke="#1e1e1e" stroke-width="0.55" stroke-opacity="0.7"/><path d="M1637.7 180.9L1630.8 175.6L1617.3 169.0L1624.1 174.5Z" fill="#228f8c" fill-opacity="0.5" stroke="#1e1e1e" stroke-width="0.55" stroke-opacity="0.7"/><path d="M1494.5 101.9L1488.4 97.2L1474.3 90.3L1480.3 95.1Z" fill="#b9de29" fill-opacity="0.5" stroke="#1e1e1e" stroke-width="0.55" stroke-opacity="0.7"/><path d="M1692.3 211.2L1685.1 205.7L1671.8 199.3L1678.9 205.0Z" fill="#31688d" fill-opacity="0.5" stroke="#1e1e1e" stroke-width="0.55" stroke-opacity="0.7"/><path d="M1549.0 132.2L1542.6 127.2L1528.7 120.4L1535.1 125.5Z" fill="#5ac663" fill-opacity="0.5" stroke="#1e1e1e" stroke-width="0.55" stroke-opacity="0.7"/><path d="M1747.0 241.7L1739.5 235.8L1726.3 229.5L1733.8 235.7Z" fill="#423f84" fill-opacity="0.5" stroke="#1e1e1e" stroke-width="0.55" stroke-opacity="0.7"/><path d="M1603.6 162.5L1596.9 157.3L1583.2 150.6L1589.9 156.0Z" fill="#22a585" fill-opacity="0.5" stroke="#1e1e1e" stroke-width="0.55" stroke-opacity="0.7"/><path d="M1658.3 192.9L1651.3 187.4L1637.7 180.9L1644.7 186.6Z" fill="#27808d" fill-opacity="0.5" stroke="#1e1e1e" stroke-width="0.55" stroke-opacity="0.7"/><path d="M1514.7 113.7L1508.5 108.8L1494.5 101.9L1500.6 107.0Z" fill="#92d642" fill-opacity="0.5" stroke="#1e1e1e" stroke-width="0.55" stroke-opacity="0.7"/><path d="M1713.0 223.4L1705.7 217.6L1692.3 211.2L1699.6 217.3Z" fill="#38598c" fill-opacity="0.5" stroke="#1e1e1e" stroke-width="0.55" stroke-opacity="0.7"/><path d="M1569.4 144.0L1562.9 138.9L1549.0 132.2L1555.5 137.5Z" fill="#3ebb74" fill-opacity="0.5" stroke="#1e1e1e" stroke-width="0.55" stroke-opacity="0.7"/><path d="M1624.1 174.5L1617.3 169.0L1603.6 162.5L1610.4 168.1Z" fill="#21978a" fill-opacity="0.5" stroke="#1e1e1e" stroke-width="0.55" stroke-opacity="0.7"/><path d="M1678.9 205.0L1671.8 199.3L1658.3 192.9L1665.4 198.8Z" fill="#2d718e" fill-opacity="0.5" stroke="#1e1e1e" stroke-width="0.55" stroke-opacity="0.7"/><path d="M1535.1 125.5L1528.7 120.4L1514.7 113.7L1521.0 118.9Z" fill="#6ecd58" fill-opacity="0.5" stroke="#1e1e1e" stroke-width="0.55" stroke-opacity="0.7"/><path d="M1733.8 235.7L1726.3 229.5L1713.0 223.4L1720.4 229.8Z" fill="#3f4988" fill-opacity="0.5" stroke="#1e1e1e" stroke-width="0.55" stroke-opacity="0.7"/><path d="M1589.9 156.0L1583.2 150.6L1569.4 144.0L1576.0 149.6Z" fill="#2aad7f" fill-opacity="0.5" stroke="#1e1e1e" stroke-width="0.55" stroke-opacity="0.7"/><path d="M1644.7 186.6L1637.7 180.9L1624.1 174.5L1631.0 180.3Z" fill="#24898d" fill-opacity="0.5" stroke="#1e1e1e" stroke-width="0.55" stroke-opacity="0.7"/><path d="M1500.6 107.0L1494.5 101.9L1480.3 95.1L1486.4 100.3Z" fill="#abdb32" fill-opacity="0.5" stroke="#1e1e1e" stroke-width="0.55" stroke-opacity="0.7"/><path d="M1699.6 217.3L1692.3 211.2L1678.9 205.0L1686.2 211.3Z" fill="#33638d" fill-opacity="0.5" stroke="#1e1e1e" stroke-width="0.55" stroke-opacity="0.7"/><path d="M1555.5 137.5L1549.0 132.2L1535.1 125.5L1541.5 131.0Z" fill="#4ec26a" fill-opacity="0.5" stroke="#1e1e1e" stroke-width="0.55" stroke-opacity="0.7"/><path d="M1754.6 248.2L1747.0 241.7L1733.8 235.7L1741.3 242.6Z" fill="#443780" fill-opacity="0.5" stroke="#1e1e1e" stroke-width="0.55" stroke-opacity="0.7"/><path d="M1610.4 168.1L1603.6 162.5L1589.9 156.0L1596.6 161.8Z" fill="#22a087" fill-opacity="0.5" stroke="#1e1e1e" stroke-width="0.55" stroke-opacity="0.7"/><path d="M1665.4 198.8L1658.3 192.9L1644.7 186.6L1651.8 192.7Z" fill="#297a8e" fill-opacity="0.5" stroke="#1e1e1e" stroke-width="0.55" stroke-opacity="0.7"/><path d="M1521.0 118.9L1514.7 113.7L1500.6 107.0L1506.9 112.3Z" fill="#83d34b" fill-opacity="0.5" stroke="#1e1e1e" stroke-width="0.55" stroke-opacity="0.7"/><path d="M1720.4 229.8L1713.0 223.4L1699.6 217.3L1707.0 224.0Z" fill="#3a538a" fill-opacity="0.5" stroke="#1e1e1e" stroke-width="0.55" stroke-opacity="0.7"/><path d="M1576.0 149.6L1569.4 144.0L1555.5 137.5L1562.0 143.1Z" fill="#36b678" fill-opacity="0.5" stroke="#1e1e1e" stroke-width="0.55" stroke-opacity="0.7"/><path d="M1631.0 180.3L1624.1 174.5L1610.4 168.1L1617.3 174.1Z" fill="#21928c" fill-opacity="0.5" stroke="#1e1e1e" stroke-width="0.55" stroke-opacity="0.7"/><path d="M1686.2 211.3L1678.9 205.0L1665.4 198.8L1672.6 205.4Z" fill="#306b8d" fill-opacity="0.5" stroke="#1e1e1e" stroke-width="0.55" stroke-opacity="0.7"/><path d="M1541.5 131.0L1535.1 125.5L1521.0 118.9L1527.4 124.5Z" fill="#62c95f" fill-opacity="0.5" stroke="#1e1e1e" stroke-width="0.55" stroke-opacity="0.7"/><path d="M1741.3 242.6L1733.8 235.7L1720.4 229.8L1728.0 237.0Z" fill="#414286" fill-opacity="0.5" stroke="#1e1e1e" stroke-width="0.55" stroke-opacity="0.7"/><path d="M1596.6 161.8L1589.9 156.0L1576.0 149.6L1582.7 155.5Z" fill="#22a884" fill-opacity="0.5" stroke="#1e1e1e" stroke-width="0.55" stroke-opacity="0.7"/><path d="M1651.8 192.7L1644.7 186.6L1631.0 180.3L1638.1 186.7Z" fill="#26838d" fill-opacity="0.5" stroke="#1e1e1e" stroke-width="0.55" stroke-opacity="0.7"/><path d="M1506.9 112.3L1500.6 107.0L1486.4 100.3L1492.6 105.7Z" fill="#9bd83c" fill-opacity="0.5" stroke="#1e1e1e" stroke-width="0.55" stroke-opacity="0.7"/><path d="M1707.0 224.0L1699.6 217.3L1686.2 211.3L1693.5 218.3Z" fill="#365c8c" fill-opacity="0.5" stroke="#1e1e1e" stroke-width="0.55" stroke-opacity="0.7"/><path d="M1562.0 143.1L1555.5 137.5L1541.5 131.0L1548.0 136.8Z" fill="#42be71" fill-opacity="0.5" stroke="#1e1e1e" stroke-width="0.55" stroke-opacity="0.7"/><path d="M1762.3 255.9L1754.6 248.2L1741.3 242.6L1749.0 250.6Z" fill="#462e7a" fill-opacity="0.5" stroke="#1e1e1e" stroke-width="0.55" stroke-opacity="0.7"/><path d="M1617.3 174.1L1610.4 168.1L1596.6 161.8L1603.4 168.0Z" fill="#219a89" fill-opacity="0.5" stroke="#1e1e1e" stroke-width="0.55" stroke-opacity="0.7"/><path d="M1672.6 205.4L1665.4 198.8L1651.8 192.7L1658.9 199.5Z" fill="#2c748e" fill-opacity="0.5" stroke="#1e1e1e" stroke-width="0.55" stroke-opacity="0.7"/><path d="M1527.4 124.5L1521.0 118.9L1506.9 112.3L1513.2 118.0Z" fill="#75cf54" fill-opacity="0.5" stroke="#1e1e1e" stroke-width="0.55" stroke-opacity="0.7"/><path d="M1728.0 237.0L1720.4 229.8L1707.0 224.0L1714.5 231.6Z" fill="#3e4b89" fill-opacity="0.5" stroke="#1e1e1e" stroke-width="0.55" stroke-opacity="0.7"/><path d="M1582.7 155.5L1576.0 149.6L1562.0 143.1L1568.7 149.2Z" fill="#2eb07d" fill-opacity="0.5" stroke="#1e1e1e" stroke-width="0.55" stroke-opacity="0.7"/><path d="M1638.1 186.7L1631.0 180.3L1617.3 174.1L1624.2 180.7Z" fill="#238c8c" fill-opacity="0.5" stroke="#1e1e1e" stroke-width="0.55" stroke-opacity="0.7"/><path d="M1693.5 218.3L1686.2 211.3L1672.6 205.4L1679.9 212.6Z" fill="#33658d" fill-opacity="0.5" stroke="#1e1e1e" stroke-width="0.55" stroke-opacity="0.7"/><path d="M1548.0 136.8L1541.5 131.0L1527.4 124.5L1533.8 130.4Z" fill="#55c567" fill-opacity="0.5" stroke="#1e1e1e" stroke-width="0.55" stroke-opacity="0.7"/><path d="M1749.0 250.6L1741.3 242.6L1728.0 237.0L1735.6 245.5Z" fill="#443880" fill-opacity="0.5" stroke="#1e1e1e" stroke-width="0.55" stroke-opacity="0.7"/><path d="M1603.4 168.0L1596.6 161.8L1582.7 155.5L1589.4 161.9Z" fill="#22a286" fill-opacity="0.5" stroke="#1e1e1e" stroke-width="0.55" stroke-opacity="0.7"/><path d="M1658.9 199.5L1651.8 192.7L1638.1 186.7L1645.1 193.7Z" fill="#287d8e" fill-opacity="0.5" stroke="#1e1e1e" stroke-width="0.55" stroke-opacity="0.7"/><path d="M1513.2 118.0L1506.9 112.3L1492.6 105.7L1498.8 111.6Z" fill="#8bd546" fill-opacity="0.5" stroke="#1e1e1e" stroke-width="0.55" stroke-opacity="0.7"/><path d="M1714.5 231.6L1707.0 224.0L1693.5 218.3L1700.9 226.2Z" fill="#3a548b" fill-opacity="0.5" stroke="#1e1e1e" stroke-width="0.55" stroke-opacity="0.7"/><path d="M1568.7 149.2L1562.0 143.1L1548.0 136.8L1554.5 143.0Z" fill="#3ab876" fill-opacity="0.5" stroke="#1e1e1e" stroke-width="0.55" stroke-opacity="0.7"/><path d="M1624.2 180.7L1617.3 174.1L1603.4 168.0L1610.3 174.8Z" fill="#21948b" fill-opacity="0.5" stroke="#1e1e1e" stroke-width="0.55" stroke-opacity="0.7"/><path d="M1679.9 212.6L1672.6 205.4L1658.9 199.5L1666.1 207.0Z" fill="#2f6d8e" fill-opacity="0.5" stroke="#1e1e1e" stroke-width="0.55" stroke-opacity="0.7"/><path d="M1533.8 130.4L1527.4 124.5L1513.2 118.0L1519.5 124.1Z" fill="#67cb5c" fill-opacity="0.5" stroke="#1e1e1e" stroke-width="0.55" stroke-opacity="0.7"/><path d="M1735.6 245.5L1728.0 237.0L1714.5 231.6L1722.0 240.5Z" fill="#414286" fill-opacity="0.5" stroke="#1e1e1e" stroke-width="0.55" stroke-opacity="0.7"/><path d="M1589.4 161.9L1582.7 155.5L1568.7 149.2L1575.4 155.8Z" fill="#25aa82" fill-opacity="0.5" stroke="#1e1e1e" stroke-width="0.55" stroke-opacity="0.7"/><path d="M1645.1 193.7L1638.1 186.7L1624.2 180.7L1631.3 187.9Z" fill="#25858d" fill-opacity="0.5" stroke="#1e1e1e" stroke-width="0.55" stroke-opacity="0.7"/><path d="M1700.9 226.2L1693.5 218.3L1679.9 212.6L1687.2 220.9Z" fill="#365d8c" fill-opacity="0.5" stroke="#1e1e1e" stroke-width="0.55" stroke-opacity="0.7"/><path d="M1554.5 143.0L1548.0 136.8L1533.8 130.4L1540.3 136.8Z" fill="#47c06f" fill-opacity="0.5" stroke="#1e1e1e" stroke-width="0.55" stroke-opacity="0.7"/><path d="M1610.3 174.8L1603.4 168.0L1589.4 161.9L1596.3 168.9Z" fill="#219c88" fill-opacity="0.5" stroke="#1e1e1e" stroke-width="0.55" stroke-opacity="0.7"/><path d="M1666.1 207.0L1658.9 199.5L1645.1 193.7L1652.3 201.5Z" fill="#2b758e" fill-opacity="0.5" stroke="#1e1e1e" stroke-width="0.55" stroke-opacity="0.7"/><path d="M1519.5 124.1L1513.2 118.0L1498.8 111.6L1505.2 117.8Z" fill="#7ad151" fill-opacity="0.5" stroke="#1e1e1e" stroke-width="0.55" stroke-opacity="0.7"/><path d="M1722.0 240.5L1714.5 231.6L1700.9 226.2L1708.4 235.5Z" fill="#3e4b88" fill-opacity="0.5" stroke="#1e1e1e" stroke-width="0.55" stroke-opacity="0.7"/><path d="M1575.4 155.8L1568.7 149.2L1554.5 143.0L1561.2 149.8Z" fill="#31b27b" fill-opacity="0.5" stroke="#1e1e1e" stroke-width="0.55" stroke-opacity="0.7"/><path d="M1631.3 187.9L1624.2 180.7L1610.3 174.8L1617.3 182.2Z" fill="#228d8c" fill-opacity="0.5" stroke="#1e1e1e" stroke-width="0.55" stroke-opacity="0.7"/><path d="M1687.2 220.9L1679.9 212.6L1666.1 207.0L1673.5 215.6Z" fill="#32658d" fill-opacity="0.5" stroke="#1e1e1e" stroke-width="0.55" stroke-opacity="0.7"/><path d="M1540.3 136.8L1533.8 130.4L1519.5 124.1L1526.0 130.7Z" fill="#59c664" fill-opacity="0.5" stroke="#1e1e1e" stroke-width="0.55" stroke-opacity="0.7"/><path d="M1596.3 168.9L1589.4 161.9L1575.4 155.8L1582.2 163.0Z" fill="#22a486" fill-opacity="0.5" stroke="#1e1e1e" stroke-width="0.55" stroke-opacity="0.7"/><path d="M1652.3 201.5L1645.1 193.7L1631.3 187.9L1638.4 196.0Z" fill="#287d8e" fill-opacity="0.5" stroke="#1e1e1e" stroke-width="0.55" stroke-opacity="0.7"/><path d="M1708.4 235.5L1700.9 226.2L1687.2 220.9L1694.7 230.6Z" fill="#3a538a" fill-opacity="0.5" stroke="#1e1e1e" stroke-width="0.55" stroke-opacity="0.7"/><path d="M1561.2 149.8L1554.5 143.0L1540.3 136.8L1546.9 143.8Z" fill="#3cba75" fill-opacity="0.5" stroke="#1e1e1e" stroke-width="0.55" stroke-opacity="0.7"/><path d="M1617.3 182.2L1610.3 174.8L1596.3 168.9L1603.2 176.6Z" fill="#21958b" fill-opacity="0.5" stroke="#1e1e1e" stroke-width="0.55" stroke-opacity="0.7"/><path d="M1673.5 215.6L1666.1 207.0L1652.3 201.5L1659.6 210.4Z" fill="#2f6d8e" fill-opacity="0.5" stroke="#1e1e1e" stroke-width="0.55" stroke-opacity="0.7"/><path d="M1526.0 130.7L1519.5 124.1L1505.2 117.8L1511.6 124.5Z" fill="#6bcc59" fill-opacity="0.5" stroke="#1e1e1e" stroke-width="0.55" stroke-opacity="0.7"/><path d="M1582.2 163.0L1575.4 155.8L1561.2 149.8L1567.9 157.2Z" fill="#27ab81" fill-opacity="0.5" stroke="#1e1e1e" stroke-width="0.55" stroke-opacity="0.7"/><path d="M1638.4 196.0L1631.3 187.9L1617.3 182.2L1624.4 190.6Z" fill="#25858d" fill-opacity="0.5" stroke="#1e1e1e" stroke-width="0.55" stroke-opacity="0.7"/><path d="M1694.7 230.6L1687.2 220.9L1673.5 215.6L1680.8 225.7Z" fill="#375b8c" fill-opacity="0.5" stroke="#1e1e1e" stroke-width="0.55" stroke-opacity="0.7"/><path d="M1546.9 143.8L1540.3 136.8L1526.0 130.7L1532.5 137.8Z" fill="#49c16d" fill-opacity="0.5" stroke="#1e1e1e" stroke-width="0.55" stroke-opacity="0.7"/><path d="M1603.2 176.6L1596.3 168.9L1582.2 163.0L1589.0 170.9Z" fill="#219c88" fill-opacity="0.5" stroke="#1e1e1e" stroke-width="0.55" stroke-opacity="0.7"/><path d="M1659.6 210.4L1652.3 201.5L1638.4 196.0L1645.6 205.3Z" fill="#2c748e" fill-opacity="0.5" stroke="#1e1e1e" stroke-width="0.55" stroke-opacity="0.7"/><path d="M1567.9 157.2L1561.2 149.8L1546.9 143.8L1553.6 151.4Z" fill="#32b37b" fill-opacity="0.5" stroke="#1e1e1e" stroke-width="0.55" stroke-opacity="0.7"/><path d="M1624.4 190.6L1617.3 182.2L1603.2 176.6L1610.2 185.2Z" fill="#228d8c" fill-opacity="0.5" stroke="#1e1e1e" stroke-width="0.55" stroke-opacity="0.7"/><path d="M1680.8 225.7L1673.5 215.6L1659.6 210.4L1666.9 220.9Z" fill="#33638d" fill-opacity="0.5" stroke="#1e1e1e" stroke-width="0.55" stroke-opacity="0.7"/><path d="M1532.5 137.8L1526.0 130.7L1511.6 124.5L1518.0 131.9Z" fill="#5bc763" fill-opacity="0.5" stroke="#1e1e1e" stroke-width="0.55" stroke-opacity="0.7"/><path d="M1589.0 170.9L1582.2 163.0L1567.9 157.2L1574.7 165.4Z" fill="#22a485" fill-opacity="0.5" stroke="#1e1e1e" stroke-width="0.55" stroke-opacity="0.7"/><path d="M1645.6 205.3L1638.4 196.0L1624.4 190.6L1631.5 200.2Z" fill="#297c8e" fill-opacity="0.5" stroke="#1e1e1e" stroke-width="0.55" stroke-opacity="0.7"/><path d="M1553.6 151.4L1546.9 143.8L1532.5 137.8L1539.1 145.6Z" fill="#3dba74" fill-opacity="0.5" stroke="#1e1e1e" stroke-width="0.55" stroke-opacity="0.7"/><path d="M1610.2 185.2L1603.2 176.6L1589.0 170.9L1596.0 179.9Z" fill="#21948b" fill-opacity="0.5" stroke="#1e1e1e" stroke-width="0.55" stroke-opacity="0.7"/><path d="M1666.9 220.9L1659.6 210.4L1645.6 205.3L1652.9 216.2Z" fill="#306a8d" fill-opacity="0.5" stroke="#1e1e1e" stroke-width="0.55" stroke-opacity="0.7"/><path d="M1574.7 165.4L1567.9 157.2L1553.6 151.4L1560.3 159.8Z" fill="#26ab81" fill-opacity="0.5" stroke="#1e1e1e" stroke-width="0.55" stroke-opacity="0.7"/><path d="M1631.5 200.2L1624.4 190.6L1610.2 185.2L1617.3 195.1Z" fill="#26838d" fill-opacity="0.5" stroke="#1e1e1e" stroke-width="0.55" stroke-opacity="0.7"/><path d="M1539.1 145.6L1532.5 137.8L1518.0 131.9L1524.6 139.9Z" fill="#4ac16d" fill-opacity="0.5" stroke="#1e1e1e" stroke-width="0.55" stroke-opacity="0.7"/><path d="M1596.0 179.9L1589.0 170.9L1574.7 165.4L1581.6 174.5Z" fill="#219b88" fill-opacity="0.5" stroke="#1e1e1e" stroke-width="0.55" stroke-opacity="0.7"/><path d="M1652.9 216.2L1645.6 205.3L1631.5 200.2L1638.7 211.5Z" fill="#2d718e" fill-opacity="0.5" stroke="#1e1e1e" stroke-width="0.55" stroke-opacity="0.7"/><path d="M1560.3 159.8L1553.6 151.4L1539.1 145.6L1545.8 154.2Z" fill="#31b27b" fill-opacity="0.5" stroke="#1e1e1e" stroke-width="0.55" stroke-opacity="0.7"/><path d="M1617.3 195.1L1610.2 185.2L1596.0 179.9L1603.0 190.1Z" fill="#238b8d" fill-opacity="0.5" stroke="#1e1e1e" stroke-width="0.55" stroke-opacity="0.7"/><path d="M1581.6 174.5L1574.7 165.4L1560.3 159.8L1567.2 169.2Z" fill="#22a286" fill-opacity="0.5" stroke="#1e1e1e" stroke-width="0.55" stroke-opacity="0.7"/><path d="M1638.7 211.5L1631.5 200.2L1617.3 195.1L1624.5 206.8Z" fill="#2a788e" fill-opacity="0.5" stroke="#1e1e1e" stroke-width="0.55" stroke-opacity="0.7"/><path d="M1545.8 154.2L1539.1 145.6L1524.6 139.9L1531.2 148.7Z" fill="#3bb975" fill-opacity="0.5" stroke="#1e1e1e" stroke-width="0.55" stroke-opacity="0.7"/><path d="M1603.0 190.1L1596.0 179.9L1581.6 174.5L1588.6 185.1Z" fill="#21928c" fill-opacity="0.5" stroke="#1e1e1e" stroke-width="0.55" stroke-opacity="0.7"/><path d="M1567.2 169.2L1560.3 159.8L1545.8 154.2L1552.6 163.9Z" fill="#24a983" fill-opacity="0.5" stroke="#1e1e1e" stroke-width="0.55" stroke-opacity="0.7"/><path d="M1624.5 206.8L1617.3 195.1L1603.0 190.1L1610.1 202.1Z" fill="#277f8d" fill-opacity="0.5" stroke="#1e1e1e" stroke-width="0.55" stroke-opacity="0.7"/><path d="M1588.6 185.1L1581.6 174.5L1567.2 169.2L1574.1 180.1Z" fill="#219989" fill-opacity="0.5" stroke="#1e1e1e" stroke-width="0.55" stroke-opacity="0.7"/><path d="M1552.6 163.9L1545.8 154.2L1531.2 148.7L1537.9 158.7Z" fill="#2eb07d" fill-opacity="0.5" stroke="#1e1e1e" stroke-width="0.55" stroke-opacity="0.7"/><path d="M1610.1 202.1L1603.0 190.1L1588.6 185.1L1595.6 197.5Z" fill="#25868d" fill-opacity="0.5" stroke="#1e1e1e" stroke-width="0.55" stroke-opacity="0.7"/><path d="M1574.1 180.1L1567.2 169.2L1552.6 163.9L1559.4 175.1Z" fill="#229f87" fill-opacity="0.5" stroke="#1e1e1e" stroke-width="0.55" stroke-opacity="0.7"/><path d="M1595.6 197.5L1588.6 185.1L1574.1 180.1L1581.1 192.9Z" fill="#238d8c" fill-opacity="0.5" stroke="#1e1e1e" stroke-width="0.55" stroke-opacity="0.7"/><path d="M1559.4 175.1L1552.6 163.9L1537.9 158.7L1544.7 170.2Z" fill="#22a685" fill-opacity="0.5" stroke="#1e1e1e" stroke-width="0.55" stroke-opacity="0.7"/><path d="M1581.1 192.9L1574.1 180.1L1559.4 175.1L1566.4 188.4Z" fill="#21938b" fill-opacity="0.5" stroke="#1e1e1e" stroke-width="0.55" stroke-opacity="0.7"/><path d="M1566.4 188.4L1559.4 175.1L1544.7 170.2L1551.5 183.8Z" fill="#219989" fill-opacity="0.5" stroke="#1e1e1e" stroke-width="0.55" stroke-opacity="0.7"/><line x1="1705.1" y1="220.7" x2="1705.1" y2="223.2" stroke="#e8262a" stroke-width="1.4" stroke-dasharray="3,2" opacity="1.00"/><circle cx="1705.1" cy="220.7" r="4.3" fill="#414286" stroke="#111" stroke-width="1" opacity="1.00"/><line x1="1684.1" y1="198.9" x2="1684.1" y2="209.9" stroke="#e8262a" stroke-width="1.4" stroke-dasharray="3,2" opacity="1.00"/><circle cx="1684.1" cy="198.9" r="4.3" fill="#34628d" stroke="#111" stroke-width="1" opacity="1.00"/><line x1="1665.7" y1="190.0" x2="1665.7" y2="199.8" stroke="#e8262a" stroke-width="1.4" stroke-dasharray="3,2" opacity="1.00"/><circle cx="1665.7" cy="190.0" r="4.3" fill="#2e6f8e" stroke="#111" stroke-width="1" opacity="1.00"/><line x1="1652.2" y1="190.7" x2="1652.2" y2="192.0" stroke="#e8262a" stroke-width="1.4" stroke-dasharray="3,2" opacity="1.00"/><circle cx="1652.2" cy="190.7" r="4.3" fill="#2f6d8e" stroke="#111" stroke-width="1" opacity="1.00"/><line x1="1613.6" y1="163.6" x2="1613.6" y2="168.5" stroke="#e8262a" stroke-width="1.4" stroke-dasharray="3,2" opacity="1.00"/><circle cx="1613.6" cy="163.6" r="4.3" fill="#21928c" stroke="#111" stroke-width="1" opacity="1.00"/><line x1="1609.1" y1="156.3" x2="1609.1" y2="165.4" stroke="#e8262a" stroke-width="1.4" stroke-dasharray="3,2" opacity="1.00"/><circle cx="1609.1" cy="156.3" r="4.3" fill="#219b89" stroke="#111" stroke-width="1" opacity="1.00"/><line x1="1600.5" y1="150.0" x2="1600.5" y2="158.8" stroke="#e8262a" stroke-width="1.4" stroke-dasharray="3,2" opacity="1.00"/><circle cx="1600.5" cy="150.0" r="4.3" fill="#22a186" stroke="#111" stroke-width="1" opacity="1.00"/><line x1="1548.6" y1="115.1" x2="1548.6" y2="131.0" stroke="#e8262a" stroke-width="1.4" stroke-dasharray="3,2" opacity="1.00"/><circle cx="1548.6" cy="115.1" r="4.3" fill="#6ccc59" stroke="#111" stroke-width="1" opacity="1.00"/><line x1="1547.3" y1="95.2" x2="1547.3" y2="125.3" stroke="#e8262a" stroke-width="1.4" stroke-dasharray="3,2" opacity="1.00"/><circle cx="1547.3" cy="95.2" r="4.3" fill="#a1d938" stroke="#111" stroke-width="1" opacity="1.00"/></g>
<defs><marker id="ah2" viewBox="0 0 10 10" refX="9" refY="5" markerWidth="8" markerHeight="8" markerUnits="userSpaceOnUse" orient="auto"><path d="M0,1 L10,5 L0,9" fill="none" stroke="#222" stroke-width="1.6"/></marker></defs>
<line x1="1498.4" y1="198.0" x2="1533.6" y2="161.0" stroke="#222" stroke-width="1.3" marker-end="url(#ah2)"/>
<text x="1432.9" y="224.3" font-size="22.3" font-family="'DejaVu Sans', sans-serif" fill="#333" textLength="48.4" lengthAdjust="spacingAndGlyphs">1.01</text>
<text x="1481.9" y="224.3" font-size="22.3" font-family="'DejaVu Sans', sans-serif" fill="#333" font-style="italic">K</text>
<text x="1498.5" y="216.1" font-size="15.5" font-family="'DejaVu Sans', sans-serif" fill="#333" textLength="33.3" lengthAdjust="spacingAndGlyphs">0.25</text>
<text x="1532.9" y="224.3" font-size="22.3" font-family="'DejaVu Sans', sans-serif" fill="#333" font-style="italic">L</text>
<text x="1547.0" y="216.1" font-size="15.5" font-family="'DejaVu Sans', sans-serif" fill="#333" textLength="33.5" lengthAdjust="spacingAndGlyphs">0.25</text>
<defs><linearGradient id="vir" x1="0" y1="1" x2="0" y2="0"><stop offset="0.0" stop-color="#440154"/><stop offset="0.1" stop-color="#482475"/><stop offset="0.2" stop-color="#414487"/><stop offset="0.3" stop-color="#355f8d"/><stop offset="0.4" stop-color="#2a788e"/><stop offset="0.5" stop-color="#21918c"/><stop offset="0.6" stop-color="#22a884"/><stop offset="0.7" stop-color="#44bf70"/><stop offset="0.8" stop-color="#7ad151"/><stop offset="0.9" stop-color="#bddf26"/><stop offset="1.0" stop-color="#fde725"/></linearGradient></defs>
<rect x="1885.2" y="84.3" width="8.6" height="167.5" fill="url(#vir)" stroke="#666" stroke-width="0.6" />
<line x1="1893.8" y1="146.1" x2="1898.5" y2="146.1" stroke="#222" stroke-width="1.3" />
<line x1="1893.8" y1="240.0" x2="1898.5" y2="240.0" stroke="#222" stroke-width="1.3" />
<text x="1903.8" y="155.6" font-size="23.6" font-family="'DejaVu Sans', sans-serif" textLength="47.5" lengthAdjust="spacingAndGlyphs">200</text>
<text x="1902.8" y="249.6" font-size="23.6" font-family="'DejaVu Sans', sans-serif" textLength="48.5" lengthAdjust="spacingAndGlyphs">100</text>
<text x="1972.3" y="95.0" font-size="23.6" font-family="'DejaVu Sans', sans-serif" textLength="156.6" lengthAdjust="spacingAndGlyphs" transform="rotate(90 1974.5 95.0)">Production (Y)</text>
<text x="0" y="0" font-size="23.6" font-family="'DejaVu Sans', sans-serif" transform="translate(1388,311.5) rotate(19)" textLength="110" lengthAdjust="spacingAndGlyphs">Capital (<tspan font-style="italic">K</tspan>)</text>
<text x="0" y="0" font-size="23.6" font-family="'DejaVu Sans', sans-serif" transform="translate(1645,344.5) rotate(-6)" textLength="92" lengthAdjust="spacingAndGlyphs">Labor (L)</text>
<polygon points="1474.5,422.9 1489.4,422.9 1496.5,449.1 1552.7,635.5 1664.9,680.1 1945.5,689.8 1968.1,689.8 1968.1,784.1 1474.5,784.1" fill="#f0f9e9"/>
<polyline points="1496.5,449.1 1552.7,635.5 1664.9,680.1 1945.5,689.8" fill="none" stroke="#8bd24e" stroke-width="2.0" />
<circle cx="1496.5" cy="449.1" r="3.0" fill="#8bd24e" />
<circle cx="1552.7" cy="635.5" r="3.0" fill="#8bd24e" />
<circle cx="1664.9" cy="680.1" r="3.0" fill="#8bd24e" />
<circle cx="1945.5" cy="689.8" r="3.0" fill="#8bd24e" />
<circle cx="1777.3" cy="678.0" r="3.3" fill="#3b1a78" />
<rect x="1474.5" y="422.9" width="493.6" height="361.2" fill="none" stroke="#222" stroke-width="1.4" />
<line x1="1459.3" y1="784.1" x2="1474.5" y2="784.1" stroke="#222" stroke-width="1.4" />
<line x1="1459.3" y1="693.8" x2="1474.5" y2="693.8" stroke="#222" stroke-width="1.4" />
<line x1="1459.3" y1="603.5" x2="1474.5" y2="603.5" stroke="#222" stroke-width="1.4" />
<line x1="1459.3" y1="513.2" x2="1474.5" y2="513.2" stroke="#222" stroke-width="1.4" />
<line x1="1459.3" y1="422.9" x2="1474.5" y2="422.9" stroke="#222" stroke-width="1.4" />
<line x1="1664.9" y1="784.1" x2="1664.9" y2="799.1" stroke="#222" stroke-width="1.4" />
<line x1="1945.5" y1="784.1" x2="1945.5" y2="799.1" stroke="#222" stroke-width="1.4" />
<text x="1403.9" y="431.9" font-size="23.7">250</text>
<text x="1403.9" y="522.8" font-size="23.7">200</text>
<text x="1403.9" y="613.0" font-size="23.7">150</text>
<text x="1403.9" y="703.2" font-size="23.7">100</text>
<text x="1417.0" y="793.3" font-size="23.7">50</text>
<text x="1658.6" y="834.1" font-size="23.7">5</text>
<text x="1933.0" y="834.1" font-size="23.7">10</text>
<text x="1561.4" y="405.0" font-size="25.0" textLength="327.5" lengthAdjust="spacingAndGlyphs">Complexity-accuracy trade-off</text>
<text x="1500.9" y="876.2" font-size="25.0" textLength="441.4" lengthAdjust="spacingAndGlyphs">Complexity (# activations + # constants)</text>
<text x="1377.4" y="628.9" font-size="25.0" textLength="54.2" lengthAdjust="spacingAndGlyphs" transform="rotate(-90 1379.4 628.9)">Error</text>
<text x="1514.2" y="452.4" font-size="22.4" font-family="'DejaVu Sans', sans-serif" fill="#333" textLength="59.7" lengthAdjust="spacingAndGlyphs">1.148</text>
<text x="1573.9" y="452.4" font-size="22.4" font-family="'DejaVu Sans', sans-serif" fill="#333" font-style="italic">L</text>
<text x="1566.3" y="625.5" font-size="22.4" font-family="'DejaVu Sans', sans-serif" fill="#333" textLength="73.7" lengthAdjust="spacingAndGlyphs">0.0946</text>
<text x="1639.9" y="625.5" font-size="22.4" font-family="'DejaVu Sans', sans-serif" fill="#333" font-style="italic">K</text>
<text x="1660.1" y="625.5" font-size="22.4" font-family="'DejaVu Sans', sans-serif" fill="#333">+</text>
<text x="1684.9" y="625.5" font-size="22.4" font-family="'DejaVu Sans', sans-serif" fill="#333" font-style="italic">L</text>
<text x="1488.1" y="720.0" font-size="22.4" font-family="'DejaVu Sans', sans-serif" fill="#333" textLength="61.2" lengthAdjust="spacingAndGlyphs">0.136</text>
<text x="1550.4" y="720.0" font-size="22.4" font-family="'DejaVu Sans', sans-serif" fill="#333" font-style="italic">K</text>
<text x="1570.6" y="720.0" font-size="22.4" font-family="'DejaVu Sans', sans-serif" fill="#333">+</text>
<text x="1595.4" y="720.0" font-size="22.4" font-family="'DejaVu Sans', sans-serif" fill="#333" font-style="italic">L</text>
<line x1="1613.5" y1="708.8" x2="1626.5" y2="708.8" stroke="#333" stroke-width="2.0" />
<text x="1632.1" y="720.0" font-size="22.4" font-family="'DejaVu Sans', sans-serif" fill="#333" textLength="76.3" lengthAdjust="spacingAndGlyphs">11.736</text>
<text x="1651.9" y="747.8" font-size="14.8" font-family="'DejaVu Sans', sans-serif" fill="#333" textLength="50.5" lengthAdjust="spacingAndGlyphs">26.462</text>
<text x="1702.6" y="747.8" font-size="14.8" font-family="'DejaVu Sans', sans-serif" fill="#333" font-style="italic">K</text>
<line x1="1643.2" y1="752.3" x2="1724.9" y2="752.3" stroke="#333" stroke-width="1.1" />
<text x="1642.8" y="766.4" font-size="14.8" font-family="'DejaVu Sans', sans-serif" fill="#333" font-style="italic">L</text>
<text x="1654.4" y="766.4" font-size="14.8" font-family="'DejaVu Sans', sans-serif" fill="#333">+</text>
<text x="1671.9" y="766.4" font-size="14.8" font-family="'DejaVu Sans', sans-serif" fill="#333" textLength="53.4" lengthAdjust="spacingAndGlyphs">22.399</text>
<text x="1731.6" y="759.1" font-size="22.4" font-family="'DejaVu Sans', sans-serif" fill="#333">+</text>
<text x="1754.6" y="759.1" font-size="22.4" font-family="'DejaVu Sans', sans-serif" fill="#333" textLength="72.2" lengthAdjust="spacingAndGlyphs">1.129(</text>
<text x="1826.9" y="759.1" font-size="22.4" font-family="'DejaVu Sans', sans-serif" fill="#333" font-style="italic">L</text>
<text x="1844.6" y="759.1" font-size="22.4" font-family="'DejaVu Sans', sans-serif" fill="#333">−</text>
<text x="1868.4" y="759.1" font-size="22.4" font-family="'DejaVu Sans', sans-serif" fill="#333" textLength="82.9" lengthAdjust="spacingAndGlyphs">30.227)</text>
<text x="1774.5" y="529.2" font-size="23.5" textLength="41.1" lengthAdjust="spacingAndGlyphs">1.01</text>
<text x="1815.3" y="529.2" font-size="23.5" font-style="italic">K</text>
<text x="1831.9" y="520.8" font-size="15.5" textLength="28.7" lengthAdjust="spacingAndGlyphs">0.25</text>
<text x="1861.8" y="529.2" font-size="23.5" font-style="italic">L</text>
<text x="1876.4" y="520.8" font-size="15.5" textLength="28.7" lengthAdjust="spacingAndGlyphs">0.25</text>
<text x="1759.8" y="560.1" font-size="23.5" textLength="173.7" lengthAdjust="spacingAndGlyphs">(Cobb-Douglas)</text>
<text x="1824.9" y="670.4" font-size="25.0" fill="#8fd14f" textLength="128.3" lengthAdjust="spacingAndGlyphs">Pareto front</text>
<defs><marker id="ah3" viewBox="0 0 10 10" refX="9.5" refY="5" markerWidth="9" markerHeight="9" markerUnits="userSpaceOnUse" orient="auto"><path d="M0,1 L10,5 L0,9" fill="none" stroke="#333" stroke-width="1.5"/></marker></defs>
<line x1="1779.6" y1="672.2" x2="1823.4" y2="572.3" stroke="#333" stroke-width="1.2" marker-end="url(#ah3)"/>
<line x1="1941.4" y1="696.0" x2="1902.9" y2="734.2" stroke="#333" stroke-width="1.2" marker-end="url(#ah3)"/>
<line x1="1659.7" y1="685.0" x2="1624.2" y2="699.0" stroke="#333" stroke-width="1.2" marker-end="url(#ah3)"/>
<path d="M133.5 126.4L114.1 122.1M75.2 168.6L81.6 184.8M95.7 94.2L71.3 106M64 175.8L63 152.9M132.3 138L115.1 160M110.2 160.7L132.3 138M133.3 163.2L124 146.3M133.2 190.8L106 196.6M82.7 187.2L75 180.1M135.5 136.8L153.5 141.3M104.3 136.6L91.1 125.2M135.5 136.8L126 123M73.6 143L69.3 153.8M130.4 131.6L106.6 129.8M67.2 152.4L69.1 169.6M111.6 152.3L101 136.7M123.6 117.7L116.7 112.4M139.7 136.3L157.9 159M142.2 137.7L154.3 141.3M84 146.9L62.9 147.7M125.1 121.5L141.2 123.7M135.6 131.4L130.4 118.2M123.2 116.1L92.6 115.7M153.8 137.2L130.2 120.9M72.1 95.4L93.3 91.6M113.8 125.4L140 121.4M74.4 135.8L57.1 139.7M112.8 161.9L101.7 138.8M123.2 159.1L111.7 175.4M76.7 105.6L78.9 135.3M128.6 167.4L143.1 169.4M92.6 115.7L83.5 133.9M60.9 156.6L74.1 151.4M128.1 163.6L103.6 185.2M64 175.8L69.2 151.8M117.2 118.9L144.6 105.3M103.1 138.2L122.5 124.1M112.4 116.8L96.3 108.5M82.1 149.4L87.3 124.6M98.7 185.8L109.9 170.7M43.1 147.5L51 147.1M110.7 113.3L90 136.4M85.4 93.4L93.3 91.6M70.8 155.9L41.4 143.2M76.7 105.6L86.1 137M67.8 186.7L59.4 165.5M164.6 146.4L136.9 128.3M52.5 142.1L62.4 166.2M158.3 164.2L146.7 159.9M58.1 166.4L70.4 174.7M112 131.7L84.3 139.8M101.5 109.6L126 123M135.5 136.8L151 163.4M75.6 109.3L63.5 126.5M48.3 150.8L70.6 164.7M50.2 127L68.2 141.6M93.2 135.4L112.1 129.9M123.8 124.5L112.1 129.9M105.2 122.7L90.6 95.3M96.4 96.5L123.2 116.1M158.4 139.6L132.2 123.9M144.5 103.2L127.6 116.6M122.5 124.1L143.3 118.6M92.6 115.7L86.7 95.5M141.5 127.5L131 124.9M84.3 139.8L61.3 143.3M97.2 127.2L130.2 120.9M76.6 108.5L74.4 135.8M86.4 184.8L75.8 161.6M103.5 187.3L112.8 170.3M58.2 152L66.7 153.9M101.5 109.6L98.4 98.2M141.4 134L121.3 120M74 184.3L70.2 161.5M67.1 109.6L79.3 120M92.8 132.5L120.5 122.7M130.9 123.3L124.4 111.7M70.6 164.7L83.5 138.9M84 107.8L63.5 130.4M82.9 183.5L70.6 164.7M89.3 188.9L84.7 184.8M132.7 129.6L127.7 156.8M110.9 125.7L130.8 123.2M123.2 191.4L118.8 165.3M105.2 136.1L106.4 144.4M113.4 148.2L139.9 165.7M56.7 113.6L77.8 126.4M63 152.9L69.6 178.2M101.2 97.1L123.2 106.7M118 165.4L97.3 148.5M78.3 99L87.2 128.6M67.2 152.4L58 179.4M95.5 185.6L76.6 183.3M154.9 137.1L130.9 123.3M98.6 125.7L75.3 140.4M52.5 148.9L58.5 159.4M140 152.2L127.7 156.8M138.6 123.7L141.4 134M57.1 139.7L65.7 138.1M112.8 118.8L141.6 119M67.8 186.7L92.7 194.7M48.3 150.8L55.9 155.3M90 136.4L94.8 131.2M136.5 144.1L133.7 110.5M64 175.8L69.6 178.2M147.2 149.1L141.1 144M85.2 195.9L103.5 187.3M109.7 87.9L132.6 104.8M96.3 108.5L121.4 116.2M154.3 141.3L135.6 149.4M110.9 141.9L94.5 158.1M100.9 154.2L133.3 163.2M130.9 142.8L148.6 144.6M111.9 93.7L118.5 89.6M129.7 145L132.2 123.9M117.2 118.9L114.2 137.5M103.2 127.8L112.4 116.8M130.3 119.5L116.7 112.4M123.2 116.1L102.3 139.3M138 132L127.6 116.6M104.9 142.4L102.9 160.2M88.3 149.3L68.2 141.6M152.6 156.5L150.7 127.2M127.8 117.6L121.4 116.2M122.8 113.5L130.7 124.2M64.9 175.3L75 180.1M52.7 123.3L67.1 109.6M153.1 135.1L134.7 122.6M81.7 104.6L110.9 121.1M110.6 116.5L138.8 112.9M111.6 94.5L93.8 103.9M146 123L132 133.7M63.5 130.4L66.7 153.9M104.6 86.8L109.1 100.3M147.3 139L136.5 144.1M99.5 178.9L128.2 192.8M110.4 196.8L90.5 182.3M91.9 168L118.8 181.6M111.6 94.5L128.4 118.3M64.3 155.7L56.7 135.3M74 137.9L97.2 127.2M111.4 111.3L130.5 112.9M96.4 96.5L78.9 120.3M107.9 163.1L84.7 184.8M159.5 153.4L128.3 141.7M92.8 132.5L71.6 112.4M117.2 118.9L89.3 113.3M131.1 125.7L140 152.2M93.7 88.8L84.2 98.8M70.1 108.3L47.3 123.2M138.1 185.7L155.5 171.9M115.1 160L127.7 156.8M140.9 106.6L126 123M78.9 120.3L71.3 143M88.4 130.6L75.8 161.6M81.6 90.7L81.7 104.6M65.8 179.8L58 179.4M58 179.4L53.6 152.2M106.7 103.4L124.6 132.1M89.7 165.5L80.3 133M147.6 134.5L130.5 128.3M111.7 175.4L121 148.4M102.7 148L113.8 130M86.6 153.8L70.3 131.9M50.2 127L73.6 143M70.2 171.9L60.6 167.3M56.7 135.3L70.3 131.9M131.7 118.7L116.7 112.4M88.3 143.2L85.7 111.9M136.3 105.1L110.7 113.3M101.3 133.9L121.3 120M123.2 116.1L111.9 93.7M96.4 96.5L76.7 105.6M99.7 107.9L111.6 94.5M63 152.9L56.5 141.9M105.2 122.7L110.7 153.1M72.6 121.8L70.6 138.8M143 129.3L148.6 144.6M115.7 125.8L123.2 106.7M104.5 141.1L70.8 139.9M118.8 143.7L137.8 136.8M133.3 115.6L118.5 89.6M110.9 125.7L106.7 103.4M45.5 158.4L72.1 150.9M93.2 135.4L101.7 138.8M71.5 182.8L71.5 155.6M134.2 116.9L141.2 126.4M125.4 128.2L99.7 107.9M102.8 169.4L103.6 185.2M98.7 185.8L78.8 190.9M58.1 166.4L69.6 178.2M56.7 113.6L81.6 125.9M77.7 133.4L99.1 123.3M90.6 95.3L118.5 89.6M89.7 165.5L106.4 153.4M115.1 160L97.1 176.1M85.4 93.4L87.3 124.6M141.4 185.8L133.3 163.2M134.5 101.4L155.6 123M114.1 95.9L132.6 104.8M113.1 114.5L130.8 123.2M117.4 188.9L88.9 179.7M85.2 195.9L93.9 166.2M112.1 129.9L83.1 131.9M105.2 136.1L98.6 138.7M133.3 163.2L111.8 177.6M123.2 159.1L109.9 170.7M159.5 153.4L143 129.3M111.7 112.5L141.8 122.7M136.2 135.1L135.6 149.4M133 124L142.2 121.8M133 124L148.2 118.4M133 124L140.1 116.6M133 124L137.2 114.5M133 124L138 120.6M133 124L127.1 126.6M133 124L131.1 127M133 124L122.3 125.5M133 124L126.9 125.3M133 124L150.2 127.7M133 124L127.9 124.8M133 124L135.6 135.5M133 124L144.7 129.5M133 124L126 136.3M133 124L138.8 136M133 124L124.3 136.2M133 124L136.7 113.4M133 124L134 118.5M133 124L140.1 121.4M133 124L123.9 122.5M133 124L143.5 134.9M133 124L119.9 130.2M133 124L129.2 130.6M133 124L127 126.4M133 124L142 127.4M133 124L125.3 130.5M133 124L137.1 125.6M133 124L129.2 129.5M133 124L143.5 127.6M133 124L134.6 115.3M133 124L144.8 122.8M133 124L143.7 124.6M133 124L126 115.1M133 124L128.8 121.4M133 124L131 119.6M133 124L137.1 125.5M133 124L128 122.8M133 124L139.5 121.2M133 124L124.9 123.9M133 124L150.1 125.9M133 124L128.7 133.6M133 124L144 116.1M133 124L139.1 129.8M133 124L140.5 119.8M133 124L127.7 116.9M127 66L124 85M145 77L136 92M151 86L140 92M166 86L157 99M46 99L55 108M150 90L175 128M160 100L175 130" stroke="#505050" stroke-width="0.55" fill="none" opacity="0.75"/>
<path d="M78.3 99h0M43.1 147.5h0M41.1 143.9h0M93.7 88.8h0M92.4 184.2h0M113.8 130h0M73.5 98.2h0M76.2 182.8h0M114.4 160.5h0M109.7 87.9h0M61.8 165.7h0M77 153.8h0M75 180.1h0M67.2 152.4h0M155.5 171.9h0M91.5 175.4h0M101.5 84.9h0M140 152.2h0M76.9 167.6h0M114.2 137.5h0M165.3 139.7h0M41.5 168.4h0M72.8 128.6h0M36.2 138.2h0M140.6 96.3h0M87.7 189.8h0M95.9 149.2h0M147.7 188.9h0M91.1 125.2h0M57.7 109.2h0M100.9 154.2h0M84.7 151.4h0M129.7 145h0M87.9 130.3h0M121.8 87.8h0M62.2 100.5h0M119 98.7h0M81.6 125.9h0M98.2 141h0M47.3 123.2h0M149 100.3h0M166.1 146.6h0M109 83.4h0M130.5 112.9h0M56.4 177.3h0M142.1 121.5h0M136.6 108.6h0M82.8 83.7h0M72.1 112.7h0M84 107.8h0M60.5 105.8h0M100.1 162.3h0M142.5 174.5h0M58 179.4h0M88.4 130.6h0M134.5 101.4h0M82.1 149.1h0M124 146.3h0M62.5 111.7h0M66.7 153.9h0M82.5 137.7h0M103.2 147h0M35.6 135.5h0M57.1 139.7h0M110.9 121.1h0M110.8 178.8h0M111.4 111.3h0M141.1 144h0M139.4 195h0M118.8 143.7h0M130 137h0M99.9 198.6h0M150.6 97.3h0M94.9 89.1h0M133.3 163.2h0M149.5 100.3h0M105.2 122.7h0M77.6 171h0M110.6 135.5h0M79.4 158.6h0M47.7 113.5h0M142.1 114.1h0M112.9 168.3h0M41.1 166.7h0M121.8 181h0M153.8 137.2h0M110.4 196.8h0M51.1 146.4h0M76.7 118.4h0M73.6 143h0M135.6 149.4h0M99.5 197.8h0M147.6 134.5h0M149.8 129.5h0M81 184.9h0M122 131h0M42.9 173.4h0M126.9 115.5h0M74 137.9h0M169.2 148.9h0M86.4 139.8h0M61.1 143.6h0M70 91.3h0M75.6 109.3h0M107.1 174.6h0M133.2 190.8h0M53.9 171.2h0M157.9 159h0M146.7 97.6h0M103.6 185.2h0M128.6 167.4h0M111.2 159.1h0M128.3 141.7h0M144.7 174.3h0M107.9 163.1h0M136.2 111.8h0M70.2 171.9h0M102.2 128.2h0M128.7 176.6h0M123 89.8h0M68.6 173.6h0M112.5 81.6h0M70.6 164.7h0M127.6 116.6h0M98.1 138.8h0M95.9 113.9h0M114.4 97.9h0M101.1 83.1h0M101.8 136.8h0M52.7 123.3h0M138.1 185.7h0M73.6 126.9h0M83.5 133.9h0M67.9 113.5h0M156.8 182.3h0M109.9 170.7h0M135.5 136.8h0M123.2 116.1h0M99.1 123.3h0M69.4 162.7h0M111 129.7h0M172.5 136.7h0M80.9 91.5h0M69.2 151.8h0M138 132h0M106.4 127.5h0M50.6 143.4h0M153.8 107.2h0M67.8 130.4h0M158.4 139.6h0M67.8 93.7h0M106.1 165.9h0M134 161.6h0M97 149.5h0M123.4 118.3h0M68.3 160.2h0M106.4 153.4h0M64.3 155.7h0M123.2 191.4h0M131.7 118.7h0M102.8 165h0M80.3 133h0M60.7 180.4h0M76.6 183.3h0M64 175.8h0M166.3 142.5h0M64.3 132.5h0M163.4 121.5h0M37.5 163.7h0M85.3 121.8h0M82.2 200.4h0M82.9 183.5h0M93.5 86.2h0M85.2 195.9h0M84 193h0M90.5 182.3h0M119.4 113h0M77.3 114.7h0M138.8 195.5h0M166.5 128.7h0M93.2 142.2h0M148.2 177.4h0M78.9 120.3h0M60.6 174.9h0M70.1 90.6h0M102.8 169.4h0M65.8 132.5h0M127.4 174.2h0M74.1 151.4h0M136.3 105.1h0M114 121.1h0M171.9 143.9h0M114.6 197.2h0M154.3 136.6h0M47.8 155.1h0M63.5 126.5h0M61.6 112.1h0M124.2 105.6h0M78.8 165.5h0M76.7 105.6h0M109.7 88h0M88.3 149.3h0M130.4 131.6h0M76.1 200.1h0M112.3 125h0M83.9 104.8h0M89.9 191.2h0M110.2 160.7h0M45.5 158.4h0M103.6 98.4h0M106 196.6h0M169.6 140.8h0M119.8 183.9h0M143 108h0M151.5 184.5h0M63.5 130.4h0M86.7 95.5h0M134.5 193.1h0M111.7 175.4h0M116.9 149.3h0M75.9 132.9h0M92.6 163h0M94.4 82.9h0M101.5 109.6h0M142.2 137.7h0M99.3 93.5h0M93.3 91.6h0M104.4 85.1h0M104.6 86.8h0M85.9 199.8h0M135.5 182.7h0M71.5 182.8h0M103.3 195.9h0M69.8 143.8h0M128.2 192.8h0M142.9 94.5h0M122.1 125.3h0M110.7 153.1h0M121.2 129.7h0M113.8 125.4h0M94.9 102.3h0M115 163.6h0M53.9 157.6h0M104.8 192.8h0M64.8 162.3h0M47.9 125h0M114.7 154.2h0M120.4 139.8h0M89.3 113.3h0M123.3 150.9h0M123.4 135.9h0M39.2 147h0M110.1 198.6h0M60.9 156.6h0M122.8 182.5h0M76.3 117.8h0M137.3 138.6h0M96.3 108.5h0M80 174.5h0M151.3 169.7h0M110.5 134.9h0M106.3 113.4h0M69.5 109.7h0M78.8 190.9h0M66.5 194.4h0M98.7 185.8h0M153.1 135.1h0M112.8 118.8h0M81.3 97.9h0M38.8 167.3h0M130.6 172.8h0M115.7 125.8h0M48 105.9h0M146.7 159.9h0M121.4 116.2h0M46.7 175.4h0M77.7 133.4h0M68.9 115.6h0M103.5 187.3h0M37.3 132h0M141.2 123.7h0M108.3 107.3h0M33.6 141.8h0M144.5 103.2h0M81.6 184.8h0M165.1 115.7h0M130.9 142.8h0M130.6 179.2h0M82.8 130.6h0M103.2 127.8h0M65.7 138.1h0M138.6 174.9h0M81.8 121.2h0M151 163.4h0M56.7 135.3h0M114.1 95.9h0M156.9 110h0M75.2 168.6h0M54.6 99.7h0M78.7 145.8h0M144.3 172.4h0M60.5 160.4h0M61.9 128.9h0M88.9 179.7h0M103.1 159.7h0M52.9 156.1h0M136.7 194.4h0M113.4 174.4h0M128.1 160.8h0M76.8 159.2h0M91.7 178.6h0M121.1 111.5h0M96.7 158.3h0M127.5 197.2h0M124.6 178.1h0M101.6 202.8h0M109.1 100.3h0M164.7 145.4h0M113.4 148.2h0M104.7 160.5h0M106 131.7h0M62.4 166.2h0M82.8 87.1h0M89 81.7h0M91.9 168h0M70.1 108.3h0M164.6 146.4h0M145.2 129.4h0M121.8 139.1h0M82.4 160.5h0M147.3 139h0M82.7 187.2h0M85.7 111.9h0M134.1 115.4h0M75.3 140.4h0M122.2 163.1h0M159.8 178.8h0M149.4 159.8h0M124.8 111.5h0M118.2 178.4h0M60.6 167.3h0M136.9 135.3h0M110.7 113.3h0M52.5 142.1h0M98.4 98.2h0M102.7 148h0M98.5 150.9h0M150.7 127.2h0M122.2 160.2h0M118.4 166h0M104.5 141.1h0M120.5 122.7h0M84.3 139.8h0M140.9 106.6h0M92.1 149.8h0M74 184.3h0M103.5 114.2h0M79.3 120h0M115.1 160h0M157 148.7h0M118.2 162.9h0M160.4 157.1h0M120.8 167.7h0M128.3 106.8h0M97.1 176.1h0M84.6 183.6h0M111.7 112.5h0M92 120.1h0M122.8 197.7h0M112.5 85h0M95.5 81.8h0M99.6 132h0M123.2 106.7h0M133.7 110.5h0M135.2 90.6h0M132.3 138h0M76.5 171.9h0M153.5 141.3h0M84.5 152.4h0M83.9 161.3h0M91.5 128.6h0M112.4 116.8h0M148.8 121.8h0M117.2 118.9h0M157.3 127.5h0M69.8 133.2h0M147.2 191.8h0M113.1 114.5h0M81.6 90.7h0M144.6 105.3h0M118 165.4h0M61.9 112.1h0M143.8 137.9h0M145.9 177.3h0M106.1 140h0M59.5 104.2h0M131.1 125.7h0M89.3 145.2h0M85.4 93.4h0M143.2 99.7h0M81.3 145.5h0M154.3 141.3h0M69.6 178.2h0M61.1 102.8h0M42 155.4h0M69 151.1h0M166.9 164.4h0M143.1 169.4h0M127.8 117.6h0M139.1 93.3h0M69 95.6h0M56.6 110h0M133.4 104.6h0M150.9 159.2h0M80.6 183.7h0M120.9 98h0M40.9 169.9h0M70.3 131.9h0M71 185.8h0M56.5 141.9h0M158.3 164.2h0M99.8 116.1h0M41 171.5h0M146 123h0M106.7 103.4h0M160.7 107.5h0M132.6 104.8h0M45.2 156.7h0M71.3 106h0M132.1 182.3h0M135.6 131.4h0M99.7 189.9h0M59 184.8h0M55.9 126.8h0M33.6 145.5h0M105.2 95.2h0M147.3 189h0M132.6 128.1h0M166.6 142.3h0M107.3 147.7h0M68.1 183h0M46.5 168.1h0M35.5 155.5h0M106.2 168.5h0M154.7 170.4h0M50.2 142.2h0M72.1 95.4h0M53.6 152.2h0M87.4 133h0M106.6 129.8h0M141.8 122.7h0M147.1 186.8h0M67.9 133.2h0M84 146.9h0M93.6 143.6h0M122.8 113.5h0M71.3 148.3h0M120 111.6h0M93.7 199.8h0M75.8 161.6h0M116.2 200.5h0M70.6 138.8h0M51.4 117h0M73.4 110.7h0M109.5 185.8h0M112.8 161.9h0M132.5 138.1h0M118.8 139.1h0M66.9 107.9h0M86.6 153.8h0M82.4 188.6h0M110.9 141.9h0M141.1 100h0M155 135.4h0M87.3 135.4h0M136.4 99.5h0M82.3 165.1h0M152 183.5h0M136.4 173.7h0M99.5 178.9h0M140.2 153.8h0M167.8 152.1h0M142.7 190h0M86.1 137h0M134.2 116.9h0M110.7 128.4h0M143.2 187h0M95.2 103.2h0M53.3 152.5h0M92.7 194.7h0M39.6 151.2h0M108.4 205.8h0M105.4 166.3h0M83.1 154.9h0M165.7 165.2h0M46.9 127.2h0M111.6 152.3h0M168 141.3h0M81.1 146.8h0M148.6 144.6h0M91.9 99.7h0M104.6 143.6h0M58.5 159.4h0M122.1 85.3h0M143.3 118.6h0M150.9 153.9h0M60.5 142.7h0M70.2 161.5h0M90.6 95.3h0M139.3 93.4h0M56.9 145.8h0M118.8 181.6h0M78.2 170.1h0M56.7 113.6h0M159.5 153.4h0M96 128.6h0M94.5 158.1h0M147.2 118.3h0M67 129.1h0M100.8 179.9h0M57.3 125.2h0M111.6 94.5h0M87 130.8h0M50.3 184.1h0M67.3 104.1h0M126 123h0M131.8 91.7h0M95.1 185.4h0M55.3 124.5h0M85.8 200.8h0M166.1 143.6h0M96.4 96.5h0M69.5 193.4h0M84.5 111h0M62.8 189.9h0M104.8 148.4h0M141 128.5h0M112.5 119.2h0M152.1 120.5h0M48.3 150.8h0M103.1 117.4h0M76.6 108.5h0M133.3 115.6h0M128.1 163.6h0M90.8 163h0M67.8 186.7h0M121 102.9h0M55.7 105h0M86.3 84.9h0M112.8 170.3h0M93.9 166.2h0M141.7 116.1h0M152.6 156.5h0M88.1 174.2h0M92.4 197.2h0M136.4 184.6h0M96.4 86.8h0M93 144.5h0M50.9 176h0M131.4 181.5h0M109.5 202.1h0M109.2 111.5h0M83.1 131.9h0M76.5 97.2h0M126.8 110h0M105.2 136.1h0M82.2 117.7h0M52.9 151h0M147.2 149.1h0M56.7 164h0M97.6 176.5h0M49 116.5h0M72.3 104.8h0M95.7 94.2h0M98.6 125.7h0M111.9 93.7h0M93.8 103.9h0M123.2 159.1h0M124.4 111.7h0M141.4 185.8h0M77.8 126.4h0M84.7 184.8h0M38.8 151.4h0M165.3 142.3h0M55 117.7h0M44.2 166.7h0M95 202.2h0M38.6 135.4h0M92.6 115.7h0M105 133.1h0M94.4 163.9h0M74.4 135.8h0M81.7 104.6h0M119.8 182.2h0M127.7 156.8h0M113 200.1h0M123.6 117.7h0M59.4 165.5h0M44.9 163.2h0M114.3 132.5h0M112.1 129.9h0M68.5 92h0M68.2 141.6h0M64.7 152.2h0M104.8 154.1h0M90.1 89.3h0M153.9 149.4h0M111.8 177.6h0M66.2 126.9h0M116.2 106.9h0M132 133.7h0M120 189.9h0M56.5 173.9h0M139.9 165.7h0M50.2 127h0M165.7 170.9h0M117.5 92.6h0M127.5 112.1h0M95.5 185.6h0M48.5 180.9h0M110.6 116.5h0M108.4 166.9h0M80.9 99h0M155.2 180.9h0M58.5 183.1h0M88 139.9h0M118.5 89.6h0M63.3 192.6h0M83.5 138.9h0M87.3 124.6h0M114.1 122.1h0M97.3 204.3h0M53.4 164.5h0M71.3 143h0M112.7 146.5h0M111.5 177.1h0M141.4 159.8h0M83.8 115.5h0M128.4 118.3h0M136.5 144.1h0M82.1 149.4h0M41.5 122.5h0M171.4 140.7h0M67.1 109.6h0M154.9 137.1h0M112.6 118.1h0M42.3 118h0M80.7 196.1h0M114.3 204.4h0M141.4 134h0M71.6 112.4h0M56 113.8h0M63.6 130.3h0M117.4 188.9h0M155.6 123h0M122.6 196.3h0M78.7 174.4h0M89.7 165.5h0M41 132.2h0M120.7 122.1h0M116.7 112.4h0M112 204.4h0M119 171.2h0M53 176.7h0M147 133.3h0M115.4 149.9h0M117.2 121.7h0M69.1 169.6h0M141.6 119h0M169.8 137.1h0M106.3 198.6h0M34.3 139.9h0M64.9 175.3h0M41.4 143.2h0M84.2 98.8h0M136.3 196.1h0M102.9 160.2h0M145.1 138h0M135.7 88.2h0M89.3 188.9h0M112 131.7h0M165.3 159h0M68.3 113.1h0M65.4 105.6h0M63.3 151.8h0M70.4 174.7h0M72.6 121.8h0M128.6 155.3h0M114.1 191.2h0M136 92.3h0M128.6 91.4h0M65.8 179.8h0M38.3 143.6h0M93.3 93.2h0M101.2 97.1h0M58.1 166.4h0M136.3 143.1h0M82.5 142.5h0M156.6 172.2h0M57.8 113.3h0M39 144.1h0M110.9 125.7h0M129.3 162.3h0M155.4 170.4h0M87.2 128.6h0M162.7 112.1h0M85.8 110.3h0M142.8 194.5h0M130.2 120.9h0M152.5 144.3h0M121.1 173.7h0M132.7 129.6h0M118.8 165.3h0M121 148.4h0M99.3 170.9h0M99.7 107.9h0M162.8 146.6h0M106.8 182.5h0M57.1 183.6h0M86.4 184.8h0M157.3 190.1h0M102.3 209.3h0M45.7 207.3h0M20.3 133.1h0M172.8 181.3h0M192.5 141.5h0M23.2 166.4h0M130.2 65.7h0M155.4 207.1h0M45.9 199.1h0M109.3 215.1h0M59.2 204.2h0M179.6 150.6h0M36.6 115h0M142.2 215.1h0M90.7 213.4h0M107.8 225.6h0M176.9 185.5h0M151.7 89.9h0M21.5 181h0M42.9 94.2h0M183 163.1h0M42.6 202.3h0M79.9 213.2h0M47.8 77.1h0M54 201.1h0M19.1 102.8h0M137.6 223.1h0M83.7 72.7h0M62.4 81.4h0M185.2 177.8h0M41.1 195.1h0M8.3 144.8h0M106.2 78.5h0M33.2 102.1h0M12.5 162.5h0M30.8 181h0M167.1 96.1h0M18.2 147.1h0M143.2 72.5h0M132.6 117.9h0M143.2 126.3h0M121.7 120.6h0M133.4 121h0M133.5 126.4h0M134.3 121.5h0M143 129.3h0M130.8 123.2h0M128.4 115.4h0M130.7 124.2h0M130.4 118.2h0M111.6 113.3h0M138.8 112.9h0M136.9 128.3h0M132.2 123.9h0M138.6 123.7h0M132.5 129.2h0M132.6 135.9h0M125.1 121.5h0M131 124.9h0M128.3 135.3h0M137.4 112.8h0M132.8 128h0M141.2 126.4h0M127.5 128.8h0M123.8 124.5h0M124.6 132.1h0M137.8 136.8h0M130.9 123.3h0M129.6 130.8h0M125.4 128.2h0M130.5 128.3h0M134.7 119.2h0M129.9 113.5h0M126.5 120.4h0M140 121.4h0M134.7 122.6h0M123.9 127.5h0M146.3 127.6h0M141.5 127.5h0M139.7 136.3h0M121.3 120h0M122.5 124.1h0M130.3 119.5h0M136.2 135.1h0M71.5 155.6h0M62.9 147.7h0M72.1 150.9h0M68.9 143.1h0M59.1 141.1h0M70.8 139.9h0M63.3 146.7h0M61.3 143.3h0M65 140.7h0M63 152.9h0M58.2 152h0M70.8 155.9h0M55.9 155.3h0M69.3 153.8h0M68.9 144.3h0M68.7 146.2h0M58.8 141.7h0M59 144.2h0M51 147.1h0M52.5 148.9h0M104.9 142.4h0M106.4 144.4h0M111.6 134.7h0M89.3 134.2h0M88.3 143.2h0M78.9 135.3h0M101.7 138.8h0M101.2 128.9h0M92.1 134.3h0M98.6 138.7h0M105.6 127.8h0M97.3 148.5h0M104.3 136.6h0M101.3 133.9h0M104.6 132h0M101 136.7h0M90 136.4h0M94.8 131.2h0M96.4 130.1h0M103.1 138.2h0M102.3 139.3h0M97.2 127.2h0M93.2 135.4h0M91.8 134.8h0M92.8 132.5h0" stroke="#a2d65e" stroke-width="2.1" stroke-linecap="round" fill="none" opacity="1.0"/>
<path d="M318.1 86L311.9 80.1M304.7 96.1L318.2 86M322.8 183.3L316.6 192.1M317.3 184.2L306.8 198.2M283.9 122.9L273.8 156.1M281.7 110.3L246.4 126.1M292.6 183L278.3 177.7M290.1 100.2L295.1 92.3M285.7 181.9L272.1 190.5M290 178.1L261.1 135.1M352 122.2L361.7 124.3M327.5 89.5L336.6 90.5M327.5 85.6L333.5 73.3M283.8 137.4L281.7 132.6M346.2 179.5L367.9 152.9M295.5 180.1L304.2 197.2M297.8 177.6L285.4 170.6M314.2 180.8L313.6 183.7M281.4 129.3L280.8 113M351.1 149.4L357.4 138.4M324.2 189L353.3 191.1M298.8 100.9L293 100.4M289 106.4L281.6 112.3M300.1 84.2L287.5 89.9M308.8 84.9L317 80.8M281 175L285.8 189.7M275.8 134.8L269.5 130.9M309.2 192.4L319.7 201.2M353.1 136.9L363.4 123.8M279.4 134.3L277.2 148.9M339.4 97.3L351.4 99.3M344 106.4L344.9 102.1M287.6 117.4L288.7 108.9M342.9 164.4L317.1 209.9M348.8 107.5L341.1 90.7M335.5 189.8L352.3 214.2M304.1 184.8L309 189.8M343.8 108.9L361.2 113M277.9 115L264.7 107.2M319.1 185.7L339.1 192.6M292.4 175.2L294 194.7M305.7 180.9L305.8 188.3M272.5 158.8L258.9 166.4M348.8 161.5L361.1 138.3M326.4 85.2L288.2 64M349.5 114.4L330 92.2M270.8 127.7L268.7 148M291.9 168.2L278.9 135.4M274.1 123.1L270.9 112.6M345.3 170.8L343.3 177.3M353.8 111.8L406.2 138.7M277.1 165.5L290.3 195.9M280.7 148L287.7 171.7M316.4 185.2L335.6 190.2M282.1 156.2L273.8 176.8M324.7 186.3L360.4 209.2M278.6 122.6L272.7 137M287 106.5L264 107.2M288.4 101.1L271.1 125.2M275.6 124L262.2 94.7M287.1 107.6L259.8 97.3M297.1 95L276 63M283.6 102L256.5 97.1M279.8 126.7L289.2 179.8M351.9 156.4L354.6 155M275.8 126.2L272.1 123.8M283.3 177.6L265.6 142.7M280.3 122.6L285.7 102.2M347.6 164.3L346.6 172.2M339.4 170.2L352.8 150.4M320.1 91.5L315.1 85.7M294.4 107.8L297.5 79.1M356.3 124.9L360.8 111.3M312.4 98.4L304.4 89.9M296.7 89.1L286.2 94.3M278.2 108L286.4 91.6M359.8 134.7L390.3 120.4M275 111.3L271.8 105M321.9 195L346.3 187.3M281.4 152.1L283.7 173.6M344.8 96.8L318.1 78.3M309.2 179.9L308.5 184.4M283.5 119.1L277.7 123.4M275.8 163.9L252.2 154.2M342.9 103.2L358.9 147.3M321.3 179.8L320.8 189M334.7 95.3L297.1 87.7M278.5 133.2L284.1 107.4M309 97.8L276 83.7M348.2 160.8L368.4 126.6M356.5 154.9L361.2 171.6M285.3 157.3L290.3 193M299.1 186.1L289.2 190.2M323.9 97.9L334.2 99.4M348.2 164.6L335.7 190.8M309.2 94.1L291.5 96M347.9 166.8L362 150.7M338.7 180.9L363.9 170M358.4 155L364.3 156.8M347 159.9L340 177.5M293.9 181.6L304.8 193.1M323 194.5L316.5 199.4M286.5 102.6L277.9 109.4M273.8 128.3L273.3 115.3M307.1 179.6L300.1 189.9M345.2 100.7L353.4 97.8M330.3 174.7L351.2 158.1M356.2 164.1L373.7 110.8M352.9 108.6L305.5 58.7M349.3 109L343.5 94.6M329.5 184L335.1 199.9M285.9 97.9L267.2 118.2M320.5 189.5L339.8 184.9M323.2 177.5L322.9 182.1M362.9 131.2L372.9 133.9M289 106.2L287.8 178M279.5 144.2L287.5 173.1M336.8 180L339.7 184M284.9 117.7L278.9 138.7M284.7 108.6L298.3 91.3M302.9 182.2L290.5 180.4M324.2 180L332.6 199.8M348.6 154.7L338.9 177.4M346 108.7L362.8 118M289.5 94.6L302.5 83M354 123.9L355.1 117.3M330 176.8L324 186.9M356 124.7L381.6 167.6M346.6 120.7L331 92.9M322.5 80.6L321.3 77.1M292.5 110.5L324.2 96M360.8 149.8L364.1 129.8M351.7 164.9L355.5 195.1M291.3 170.1L291.9 174.7M279.9 155L276.5 182.1M281.5 157.9L270.1 135.9M346.6 170L360.6 180.9M361.9 142.2L363.6 121.7M342.6 181.6L400.1 177M329.9 191.3L349.2 183M276.8 143.2L272.3 131M283.3 126.1L286.8 109.6M301 175.1L287.7 165M319.8 92.2L293.8 95.9M294.3 168.4L304.7 189.1M302.8 87L304.1 80.8M344.5 109L358.4 146.4M354.2 116.5L344.5 83.3M282.9 120.3L264.7 143.1M305.8 100L290.8 60.7M347.6 108.4L366.1 110.3M284 122.5L279.8 123.2M298.2 101.7L308 88.6M279 116.7L271.3 138.3M315 97.5L342 98.9M309.5 92.8L305.7 86.4M283.2 170.7L268.3 133.3M361.9 155.6L352.5 187.8M363.3 131.8L358.5 107M354.8 113.7L361.6 126.9M273.8 123.5L269.9 136.8M357 134.2L359.5 129.3M356.8 161.4L370.7 180.3M353.3 172.1L372.7 142M279.9 114.6L303.7 80.2M315.1 84.9L341.2 83.3M299.6 97.1L323.4 85.7M277.6 111.6L267.7 103.6M342.7 166.3L337.7 187.7M278.9 107.5L260.6 95.9M284.1 107.7L296.1 84.8M301.1 189.3L299.6 199.6M343.5 114.1L353.2 120.3M275.4 139L279.2 170.7M293.9 108L292.7 105.8M324.7 178.5L331.4 178.5M353.5 134.9L370.7 113M353.1 151.8L360.6 139.8M304.9 97.4L255.7 116.9M313.1 97.6L305.2 94.7M315.9 194.3L328.6 200.9M337.7 101.9L356.3 117.6M273.2 158.7L272 180.9M282.2 176.7L272.8 167.3M346 172.7L347.4 176M335.4 92.8L333.7 82.9M306.3 176.9L314 203.3M313.6 96.1L301.2 71.3M344.5 160L342.7 184.8M352 106.5L376.4 88.4M343.5 183.8L326.8 197.5M316.5 182.4L338.4 177M288.4 105.9L274.5 68.4M292.7 172.3L284.5 167.7M309.3 94.1L297.7 93.5M343.3 101.6L337.9 92.2M358.7 112.4L375.6 110.9M340 94.3L342.4 85.7M351 178.9L337.1 214.5M280.1 120.8L301.8 91.2M350 139L383.8 127.5M341.7 111.6L351.3 109.9M274.2 127.8L282.9 176.2M350.1 162.8L359.5 141.6M361.7 150.6L364.5 163.5M317.7 191.8L319.3 208.6M317.1 182.6L299.9 184.7M333.5 96.9L295.8 96.3M299.9 94.8L265.6 102.3M360.1 135L365 139.2M309 185.2L301.2 194.4M339.3 182.2L358 160.3M272.5 142L259.3 124M274.3 153.4L276.3 166.5M276.3 129L281.3 106.8M354.4 132.4L350.5 67.5M298.9 88.3L272.6 117.3M328.1 183.1L335.6 185.9M317.2 194.1L327 197M364.3 137L363.8 104.4M320 194.2L306.3 195.5M284.2 156.5L276.1 138.5M281.4 144.9L277.2 134.2M314.5 83.6L349 88.4M279.3 130.9L276.8 149.4M352.4 136.4L354.2 146.9M317.7 85.7L310 77M337.5 177.3L328.6 194.9M330.3 186.2L310.4 192.8M332.6 176.6L341.6 225.9M350.8 119.7L355.9 146.3M308.8 189.5L321.1 196.5M276 126.2L272 136.9M329.1 89.4L311.8 83M361.4 126.8L353.8 95.1M318.5 84.6L321.7 76.2M274.5 151.5L263.6 150.3M290.8 170.4L272.7 159.3M276.6 141.7L270.7 156.8M305.4 84.9L315.7 62.1M287.6 168.3L295.8 181.9M322.3 83.5L318.3 78.5M324.5 183.9L355.7 163M302.7 188.3L284.4 189.1M273.3 117.1L283.9 90.6M276.3 116.9L272.9 113.6M364 143.3L342.1 63.2M342.2 89.9L315.6 78.4M359.8 134.2L365.8 160.6M349.4 123.7L353.7 121.8M304.4 191.8L304 196.1M355.4 117.9L364.3 106.1M348.1 109.5L336.2 84.5M273.6 127.4L269.6 139.6M329.7 96.4L319 90.5M305.4 175.8L305.2 189.5M351.2 167.7L361 151.2M320.3 92.1L319 67M350.1 107.4L355 99.5M362.2 148.5L367.1 162.3M349.7 120.2L374.4 137.7M282.5 122.9L281.5 169M302 192.8L294.1 193.2M276.2 144.8L270.7 158.2M307.1 90.2L294.4 90.5M284.4 115.8L278.8 93.4M346.1 176.7L331 194.9M275.2 119.9L270.4 156M314.3 96.5L284 70.1M352.5 172.6L388 171.6M285.2 117.7L293.1 98.6M297.8 174.7L337.9 195M346.8 113.9L349.4 105.1M282.6 136.3L284.8 179.8M319.2 183.6L315.7 191.2M316.3 193.5L329.9 207.4M283.7 172.8L279.8 175M314.9 85.2L315.3 76.5M299.8 96L302.7 90.3M274.7 111L268.5 111.9M287.7 174.5L301.6 209.4M286.5 96.7L277.1 103.1M318.9 86.2L349.8 100.8M341.1 168.5L326.8 182.7M356.8 164L366.2 126.9M320.4 195.1L294.7 199.6M315.8 192.7L306.4 207M344.9 101L373.4 126.1M294.1 107L275.2 134M350.9 102.6L331.7 81.6M349.6 176.6L338.8 200.1M273.1 132.4L269.7 165.2M284.3 147.3L277.2 201.9M318.1 184.5L336.6 188.4M350.9 102.6L320.5 77.4M288.8 92.3L283.9 78M275.2 135.3L271.4 138.6M296 169.2L304.8 193.5M349.4 177.5L358.6 186M278 137.7L273.6 136.6M324 189.8L273.2 198.9M296.1 89.7L316.4 78.8M292.7 188L268.3 163.6M308.5 185.4L317.6 200M324.9 82.7L304 81.4M324.9 87.4L314.5 82.3M342.2 97.4L302.9 73.2M320.7 85.4L306 72.5M342.1 112L362.7 104.1M277.9 134.1L274.3 144.9M336.6 171.7L334 187.8M340.3 106.5L347.9 97.7M331.8 184.8L342.5 203.1M321.3 195.3L338.5 223.3M280.5 106.6L264.9 122.7M280.2 159.3L275.2 154.4M285.3 165.7L280.9 172.2M357.1 156.6L325.7 193.2M315.3 187.4L333 186.9M288.1 113.7L287.7 105M346.6 171.6L353.6 169.5M351 119.7L378 110.6M338.5 173.3L362.7 152.2M323.1 189.2L364.8 177.1M356.2 135.6L338.3 88.2M303.9 187.7L284.7 181M278.5 104.9L271.1 115.6M309.7 179.2L308.2 197.9M352.9 107.2L352.3 98.9M282.6 142.4L278.9 144.1M287.6 112L276.2 125.9M359.2 120.1L354.9 99M276.2 150L271 151.5M340.2 184L321.7 228.5M282.9 137.7L296.9 101.4M330.6 191.1L332.4 196.5M295.7 107L281.8 136.5M278 146.7L298.6 183.2M301.4 86.4L316.2 74.9M287 92.9L264.4 128.1M315.7 94L315.2 78.9M305.7 95.4L281.4 107.2M362.5 143.4L364.6 129.4M307.3 89.3L304.8 81.3M357.9 107.9L399.8 129.7M288.9 114.1L277 108.8M280.3 160.7L240.5 178.6M318.5 188.5L333.1 196.2M304.4 186.4L296.4 187.4M314.2 92.2L354 98.9M349.7 116.4L366.2 121.8M331.6 93.8L314.8 87.5M277.9 164.3L270.4 148.3M304 83.3L343.9 60.3M340 167.8L351 166.8M326.3 192.9L278.6 174.8M286.3 175.6L295.4 193.1M344.4 166.2L379.6 150.9M329.4 100.3L331.7 92.8M280.2 139.7L273.7 136.7M317.7 90.6L335.5 89.9M339.6 178.4L359.8 178.8M314.3 90.3L321.7 86.7M354.1 141.6L352.1 166.2M331.8 179.1L330.3 193.9M272.8 123.2L272.4 164M345.2 175.8L343 193.7M295.8 92.4L308.7 84.1M337.9 91.6L344.4 91.2M296.7 96.1L283.5 106.6M329.9 187L354.3 169.6M271.2 120.8L259.2 136.3M346.5 170.7L358.7 149.2M344.9 103.8L355.3 102.6M279.4 161.8L266.9 140M352.7 142L353.5 118.7M358.2 130.4L377 155.6M331.7 176.9L337 181.6M352 135.3L357.1 115.9M299.2 97.5L269.3 117.7M281.5 122.2L258.2 128.7M347.6 117L346.1 104.7M295.7 180.5L259.9 141.9M352.8 127.8L364.6 153.2M355.3 105.8L361.7 105.9M352.2 164.1L370.2 132.8M276.7 134.6L284.4 172.1M275.8 117.4L279.5 92.9M301.4 183.8L244.6 165.9M317.4 94.2L272.5 119.6M331.7 102.2L328.2 96.6M351.4 148L387.1 126.8M358.7 113.7L366.9 144.7M279 139.3L252.7 185.8M294.6 97.1L293.9 70.9M357.1 154.7L357.9 172.7M281.1 123.9L282 109.5M332.4 83.7L334.3 72.7M331.5 190.9L359.7 171.1M277.8 159.7L267.4 138.4M331.6 93.6L355.8 92.9M269.9 135.8L251.7 148.5M343.6 172.9L350.8 178.8M340.8 177.1L357 156.7M281.8 160.7L296 181.9M333 88.3L366.2 98.3M331.4 96.8L308.8 86.9M308.4 93L325.4 85.2M302.8 177.5L293.6 174.7M350.3 108.9L356.4 115.5M293.2 182.4L290.3 186.9M281.6 142.3L287.5 93.2M341.6 177.1L355.5 172.3M330.7 98.4L357.3 87.2M347.8 96.4L305.2 67.5M284 134.4L287.8 99.1M340.5 177.7L335.8 198.8M285.8 179.2L272.7 166.1M278.1 127.3L276.5 153.7M272.6 149.2L269.4 162.3M279.1 172.2L278.8 178.7M341 89L343.8 87.4M327.3 186.4L295.4 196.2M332.3 176.4L341.2 175.9M294.8 173.8L300.1 181.1M360.6 154.4L365.9 139.6M353.8 137.3L363.4 146M283.5 107.8L295 89.5M283.7 141.3L276.3 143.5M304.1 179.8L307.7 183.7M301.8 192.2L282.7 182M303.5 183.7L312.6 192.3M282.7 110.5L277.6 112.9M347.9 168.1L353.5 163.8M325.1 91.3L352.9 57.8M283.7 102.7L285.4 92.5M297.9 100.1L320.5 83.6M323.7 89.3L344.2 81.5M277.6 105L266.2 101M321.9 193.5L315.2 202.4M281.6 170.2L296.2 191.7M360.3 149.2L352 177.4M333.8 190.7L309.5 198.4M296.8 85.6L302.1 69.8M291.1 97.4L285.7 90.5M282.9 138.3L269.5 139.9M351.1 125.8L348.9 102M358.7 156.4L351.5 189.2M352 136.8L352 123.1M314.8 90.3L271.1 81.5M347.5 111.8L357.3 98.8M358.3 144.8L357.5 106.8M304.4 92.2L294.8 89.3M350.1 153.6L353.3 125.1M341.7 94.1L345.7 93.7M332.7 183.2L352.2 169.6M357.2 109.4L354.9 97.8M279.5 169.1L256.8 178.3M343.2 113.2L335 90.5M285.8 177.7L292.6 189.2M329.2 184.7L319.4 197.3M281.8 100L255.9 87.5M302.9 176.2L287.3 171.6M358.3 152L363.7 114.5M293.9 102.3L287.4 103.7M345.1 115.1L337.8 101M297.9 178.8L285.9 176.2M273.7 145.1L272.3 157.9M330.2 98.1L351.7 101.9M286.1 165.5L285.9 185.4M320.6 186.2L323.8 203.3M348.4 116.8L354.8 145.8M282 116.3L306.4 85.9M274.6 162.6L270.5 157.4M312.2 187.3L334 193.5M325.8 95.1L326.3 83.2M272.3 141.5L266.7 147.2M348 162.5L345.2 177.9M305.2 193.3L321.1 198.6M348 122.5L353.1 162.5M347.7 113L363.8 130.7M270.7 132.1L243.3 166.3M282.9 101.5L272.8 43.9M328.9 184L291.1 195.1M349 167.2L328.6 188.4M277.2 111.4L303.1 75.5M287.8 157.8L283.6 151.8M281.4 134.8L308.3 81.5M302.6 174.4L269.7 151.9M345.8 112.3L347.9 106.1M302.5 95.9L296.4 92.4M307.5 83L292.1 87.1M294.6 88.4L287.2 86.2M312.4 180L342.9 206.5M359.8 124.4L362 124.9M292.4 99.5L271.9 132.2M341.7 110.2L373.6 97M307.6 183.3L283.8 178.7M279 169.4L270.1 167.9M355.4 119L346.2 97M282.9 158.1L289.3 220.4M279.7 156.2L284.9 194.2M344.1 102.6L341.9 89.2M309.7 92.3L279.5 118.6M272.8 119L283.1 92.9M294.8 90L334.4 77.4M289 166.3L262 176.9M297.3 188.5L312.5 204.4M363 131L369.4 141.1M350.9 134.2L361 157.4M278.8 171.5L268.1 145.6M322.8 81.3L362.2 106.5M359.5 143.7L366.2 123.6M338.7 170.8L327.8 182M271.9 149.4L271.4 112.6M329.2 91.9L327 78.6M320.9 185L304.8 194.9M349.5 155.1L363.2 137M302.4 175L348.9 192.8M355.2 147.2L353.8 111.9M279.5 162.9L284.7 183.4M352.4 166.3L355.8 111.5M281.7 128.7L281.3 121.6M272.5 147.7L279.3 174.7M297.7 186L277.3 167.5M323.1 80.9L296.4 75.6M330.2 176.8L346.9 181.5M288.3 95.5L266.6 122M306.2 87.2L324.1 49.3M283.1 110.2L290.6 93.3M355.6 167.7L357.9 196.5M270.7 128L281.8 89.4M357 164.7L363.3 165.6M295.8 94.1L309.7 78.2M300.8 182.1L259.6 185.1M313.8 94.8L315.4 83.1M304.3 85.1L304.2 77.3M348.9 153.9L344.5 171.3M343.7 98.8L322.5 80M352.9 161.9L367 141.9M282.7 101.9L284.4 95.1M356.4 132.3L353.6 166.6M302 182.5L290.3 181.9M328.5 97.6L357.6 70.1M296.4 91.9L281.1 103.9M277.5 164.8L275.9 169.1M334.6 179.5L349.3 169.6M313.3 182L350.8 178.5M356.1 109.6L335.8 71.7M280 154.6L259.2 137.4M357.3 122L340.8 88.6M357.3 164.5L374.1 138.1M345.9 163.4L359.3 148.6M363 137.3L365 138.4M280.2 142.2L273.9 145.7M340.6 166.8L330.1 181M350.4 139.4L349.4 161.4M352.4 165.9L358 171.5M312.7 182.3L284.9 188.9M298.3 96.9L281 97.3M355.3 145.8L375.8 138M276.3 143.8L274.1 133.8M281.7 141.9L269 137.4M309 190.8L288 196.8M316.2 98L302.9 94.5M295.8 179L261.6 167.1M281.5 157.1L288.6 199.2M350.8 140.8L351.6 121.9M347.7 116.1L344.7 95.2M293.7 95.1L293.4 83.7M286.2 177.9L315.6 196.1M342.1 172.3L316.3 192.2M287.7 117.7L289.8 108.5M349.6 149.7L348.3 164.3M298.7 99.9L285 98.6M333.6 87.6L319.2 78.4M321.6 184.8L316.3 196.7M293 179.6L275.9 170M327.3 87.5L307.6 80.4M324.4 89.2L311.1 72M307.3 92.8L301 88.7M307.1 178.8L287 169.2M292.6 104.7L288.1 75.6M279.6 148.1L275.8 144.1M281.9 126.3L264 114.4M358.1 160.6L370.3 135M297.6 89.5L329.4 78.9M342.6 89.5L383.4 82.3M275.7 139.2L275.9 115.8M329.2 95.1L335.4 87.1M344.7 165.3L343.2 172.4M305.6 182.5L298.9 199.8M299.9 176.8L305.6 186.3M279.3 158.4L284.5 175.5M354.5 169.9L353 185.2M283.6 172.8L288.3 214M277.9 116.3L273.6 114.4M357.6 158.1L349.1 183M281.2 162.7L272.6 155.8M273.4 131.1L270.9 133.7M348.4 122L379.7 75.1M284.9 105.4L269.6 119.6M286.7 165L279.9 164.4M328.5 180.9L314.1 196.3M359.2 160.5L367.4 133M315.1 179.5L297.9 175.5M355.5 128L339 92.9M357.4 163.5L363 180.9M269.8 128.1L265 128.9M338.9 177.1L349.9 205.4M278.7 170.4L267.6 198.7M282.5 171L272.1 154.6M341.6 173.8L303.3 184.9M355.6 134.7L359.4 130.3M292.4 178.3L288.3 213.3M281.3 133.9L277.9 105.3M340.6 172.7L337.6 178.5M344.5 91.7L374.7 105.1M344.9 109L356.4 89.2M335.4 85.8L323.3 78.2M342.1 167L339.6 176.3M306.4 92.7L287.2 95M346.2 113.5L355.6 109.4M274.5 150.8L262 173M274.4 126.9L282.8 87.9M341.2 180.8L315.1 194.2M276.2 164.4L271 186.6M279.6 126.9L269.4 118.6M274.6 121.5L275.1 109.8M279.7 153L287.7 174.1M269.5 143.8L254.9 156.7M352.4 123L361.8 131M361.5 151.2L369.2 172.6M357 123.6L366.2 175.5M277.4 168.7L266 179.9M285.9 175.4L266.6 156.1M346.8 98.8L355 96.9M309.8 188.6L309.9 197M287.9 118L274.5 114.9M351.4 123.8L369.2 91.7M356.1 153.3L360.9 155.9M273.7 148.4L271.4 204.9M282.7 117.7L283 105.4M338.6 99.7L352.2 86.8M325.7 183.8L335.9 192.2M282.8 166.6L271.4 180.9M346.8 175.3L359.5 174.7M355.3 128.9L358 138.9M283.5 112.2L264.5 126.6M344.9 106.9L328.8 89.9M301 101.2L278.7 92.4M306.9 190.9L304.4 202M270.5 130.5L257 121.7M302.6 181L296 182.2M282.4 107.1L267.3 136M277.2 118.5L270.5 135.6M287.8 107.3L287.6 91.3M312.5 98.3L324.5 94.5M361.6 159L365.4 160.5M348.5 174L376.7 208.4M293.7 105.5L280.5 57.1M356.8 124.2L375.1 70M281.4 107.5L291.7 91.2M331.8 192.9L318.9 203M323.1 94.3L310.4 88.7M274.7 162.4L269.3 199.2M292.4 109.1L288.4 101.1M293.7 100.9L298.3 93.1M272.7 125.4L272.1 160.2M298.7 179.1L270.5 185.6M321 89.2L347.6 101.9M301.6 185.5L308.3 195.7M308.2 93.5L285.4 101.5M293.3 105.7L301.2 95.8M277.7 124.2L280 110.5M291.1 91.5L260.3 54.3M281.7 113L292.1 86.1M310.4 85.7L338.7 82.1M338.5 101.4L325.6 74.3M317 179.7L295.4 194.5M348.9 165.1L366.1 166.8M353.8 142.9L355.3 156M306.1 190L322.5 195.9M299.5 190.8L283.9 184.3M360.6 115.4L365.5 123.8M317.4 190.2L302.9 195.5M311.8 181.1L309.1 183.9M332.5 98.4L348.3 109.9M349.7 113.8L356.7 118.2M320.4 80.6L349.6 65.4M347 99.7L351 93.2M294.6 183.6L324.5 203.1M282.6 173.6L284.9 180.9M351.3 115.3L357.4 130M357.7 131.5L361.7 129.5M280.3 150.3L262.5 156.4M291.5 172.2L299.8 185.2M305.6 176.3L281.8 147.5M359.6 122.3L358.8 113.1M288 173.4L275.9 155M350.9 120.9L360.5 149.2M288.4 170.9L305.9 190.8M346.9 174.4L324.2 200.3M337.2 85.3L336.7 81.7M275.1 147.9L271.4 122.6M340.3 92.3L368.9 111.5M330.1 83.6L348.2 92.3M298.3 97.4L282.5 103.1M353.1 170.3L349.8 184.7M302.7 191.3L311.8 219.3M286.3 166.5L259 198.9M285.1 165.1L258.2 137.5M286.5 122.2L274.1 115.4M273 143.9L288.6 200.7M349.4 127.5L353.7 121.6M273.8 121.3L259.1 100.7M272.4 141.5L275.8 172.9M301.5 183.8L285.5 173.5M296.9 94.7L271 146.4M273.1 127.1L243.4 103.9M276.4 127.7L270.2 136.6M299.8 89.9L325.3 80.8M283.1 131.6L297.9 94M288.1 95.1L271 118.3M307.1 85L283.4 37.7M345 101.6L337.9 86.7M309 194.6L282.6 189.4M281.1 116.1L279.9 110.9M329.9 189.2L337.4 192.5M357.5 150.1L357.4 166.6M315.8 185.6L306.8 194.8M312.2 178.5L335.4 176.4M319.7 191.9L324.9 199.5M328.9 180.4L336.5 181.6M321.2 183.6L318.6 188M285.7 164.1L278.7 151.7M307.5 99.1L340.9 91.6M292.1 177.6L313 189.9M352.7 111.2L331.8 53.4M347.5 160.9L336 179.7M354.3 158.4L354.7 185.5M295.5 102.2L319.1 83.5M286.6 108.5L273.2 80M353.8 102.4L363.6 109.1M289.3 166.8L287.8 169.7M350.8 139.1L364.8 140.4M350 123.5L351.6 109.3M305.1 100L294.6 103.5M305.3 181.5L291.5 184.5M324.7 191.9L325.2 203M276.6 114L271.3 114.7M360.7 127.4L365.6 115.5M320.7 184.4L331.1 191.8M338.8 173L300.4 182.9M313.2 94L282.1 114.3M336.7 181.8L353.4 168.1M353 127.1L382.6 94.2M324.2 84L270 119.9M281.2 122L289.9 97.6M292.4 98.6L286.3 97.4M286.8 105L272.1 131.2M276.7 159.4L264.1 152.6M283.5 168.5L276.5 166.9M356.8 157.3L359.9 122.4M331 93.8L333.3 89.2M348.9 153.1L368.8 200.3M315.5 84.2L311.6 77.1M314.3 181.7L326.8 185.4M362.5 141.4L365.2 118.9M313.1 92.6L322.6 89.1M278 124.6L268.4 125.4M281.3 124.7L279 120.4M310.9 94.1L322.7 80.4M329.9 83.2L345 46.6M325.1 179.3L306.2 188.1M364 145.5L368.8 129.9M312.2 94.8L297.1 96.3M324.8 95.4L319.7 90.6M296.1 189L281.5 180.7M354.8 111.5L360.4 118M283.9 107.5L330.4 79.8M321 87.9L334.1 80.1M305.5 96L282.4 95.3M281.4 171L272.5 164.9M291.1 178.8L271.6 157.7M289.4 173.1L277 155.8M360.4 149.8L367.5 120.3M350.5 102.2L355.7 103.7M299.7 182.3L346.3 205.9M311.4 89.9L327 82.3M339 169.2L305.4 187M349.5 97.1L354.9 82.6M315.3 83.8L336.5 82.3M282.6 148.5L282.2 155.3M343.4 113.3L379.5 113.1M314.4 185.2L317.3 195.1M281.2 167.8L285.6 189.7M295.2 106.9L275.1 122.8M298 173.5L287 170.9M284.3 180.2L282.2 181.7M325.4 190L332.3 199.6M357.6 145.4L382.6 119.8M282.1 142.5L283.2 180.9M285.6 160L293.9 175.5M329.3 179.2L352 168.3M284.1 138.3L280.1 162M353 131.7L359.4 131.9M280.4 172.1L260.9 124.6M350.8 113.9L355.7 108.3M326.4 177.7L345.3 171.8M310 177.9L322 194M356.1 142.7L358.4 137.6M350.3 128.1L357.1 101.3M293.1 104L284.8 101.7M282.4 135.6L287.7 166.1M288.6 168.2L274.9 207.6M279.9 124.4L272.1 131.9M316.9 80.6L328.5 79.6M355 104.9L357.4 102.7M349.5 113.3L340 97.4M288.7 171.9L307.7 190.8M356.6 122.9L364 117.3M353.4 127.4L356.7 143.2M339.9 99.5L351.3 106.8M276.5 137.9L280 105.4M282.8 146L279.4 138.5M334.9 94L347.9 97.5M314.1 189.4L315 203.9M303.1 179.9L268.7 194.3M295.5 106.8L290.1 109M325.2 194.6L357.8 181.7M279 151.7L255.8 170.7M279 129.7L273.5 161.6M362 145.2L376.9 190M352.6 110.3L372.9 103.2M350.4 156.7L360.5 177.9M363.6 136.5L369 145.5M305.8 193.3L290.9 189M340.6 185.7L340.5 208.3M271 138.3L262 123.2M341.5 185L315 219.7M323.1 86.4L334.2 87.3M359.2 110.8L358.8 95.6M357.8 112.8L366 119.7M297.8 177.1L273.4 177.7M310.5 83.6L344.1 82.6M314.9 91.6L301.5 86.9M327.3 95.3L325.1 81.1M288.6 101.4L276.5 107.7M346.7 105.5L340 84.6M323.5 182.9L284.4 169.9M302.9 90.8L305.3 66M360.7 155.8L361.6 168.6M312.7 177.7L330.1 181.5M297.5 101L274.1 113.1M272.7 115.9L263.8 153.7M273.7 133.8L283.7 97.6M352.3 161.8L366.5 156.7M275.3 117.1L263.4 146.5M339.4 92.1L351 92.6M332 92.3L307.1 58.7M344 93.9L365.1 111.7M278.5 143L290.4 175.7M276.7 145.1L276.2 161.3M326.4 81.3L318.5 64.6M289.3 110.5L283.7 114.8M295.2 176.2L299.5 207.5M347.6 162.7L337.1 188.9M282.3 122.5L298.6 91.5M349.8 122.5L351.5 114.6M323.7 86.8L343.3 87.5M357.9 137.8L361.2 125.6M352.3 106.5L358.4 72.7M299.2 96.7L301.6 91.3M303.7 90.8L290 88.9M271.1 139.2L294.5 194.4M290.1 167.8L277.8 149.6M304.2 190.2L305.4 195M352.5 125L357.7 121.2M348.6 173.6L359.8 172M313.1 96L307.3 93.3M313.2 181L301.6 184.6M290.4 182.1L298 195.2M349.8 112.1L360.4 129.4M287.8 108.8L290.3 97M279.7 131.1L284.4 92.1M351.9 166.7L329.6 199M361.7 147.3L395.5 92.7M323.5 181.9L309.4 189.5M303 185.4L293.3 194.2M362.7 130L374.4 107.1M285.9 111L299.4 89M340.7 88.2L327.9 79.7M351.9 162.8L339.5 187.5M292.7 186.2L278.1 176.7M360.5 154L375 163.9M276.5 136.9L267.8 184M293.8 180.1L273 185M323.6 91.8L291.8 87.2M276 143.3L273.4 129.6M344.2 113.7L352.7 113.6M355.9 121.1L357.8 114.7M274.3 163.7L278.9 177.1M303.7 193L319.3 202.5M327.2 97.4L353.3 112.7M272 122.1L274.1 103M350.5 169.3L363 163.5M315.3 182L284.7 203.7M343.7 182.5L357.2 180.9M340.5 168.2L341.5 181.4M338.9 87.3L377.2 63.6M320.7 191.6L324.2 198.7M274.1 142.1L267 157.7M333.9 181.5L336.2 190.6M331.7 96.1L353.7 77.5M336.3 190.2L303.7 196M323.9 189.5L328.5 194.2M328 176.1L326.6 185.2M327.9 91.8L318.4 80.4M301 188.6L317.1 196.9M282.9 161.9L299 183.9M339.5 108.1L338.5 103.2M333.7 181.1L346.3 183.8M278.3 164.9L269.1 153.9M275.9 136.5L275.2 160M354 146.9L364.3 161.3M282.1 129L268.8 98.4M350.1 128.2L380.6 175.1M300.4 100.4L291.2 98.9M280.5 138L283.5 112.6M286.8 155.3L285.2 162.7M292.7 177.4L318.3 191.4M295.4 177.4L293.4 197.4M275.7 127.2L283.1 96.4M319.5 195.7L314.3 211.9M345.2 170.1L328.6 186.1M275.1 157.5L279.6 172.7M277.9 136.6L278.5 118M297.4 96.3L282 90.6M337.7 100.1L319.4 84.9M279.6 157.2L275.9 123.3M276.2 131.8L274.4 152.8M286.2 170.2L268.2 146.4M345.1 102.3L364.9 90.1M355.6 163.9L360.2 162M346.7 113.4L349 109M356.1 161.4L387.2 132.2M348.4 111.4L361.4 106.4M343.8 166.5L353.2 168.5M339.3 95.3L363.4 109.4M339.1 98.4L329.1 82.4M356 144.2L378 149.1M301.2 187.9L272.1 188.4M359.5 134.9L360.5 109.7M359.7 139.8L362.7 130.9M285.2 159.4L272.4 144.1M352.3 110.4L344.2 90.4M308.7 98.1L352.8 103.4M325.9 89L327.7 85.1M287.9 103.6L285.4 97.3M335 185.2L376.8 204.6M282.1 169.9L279.9 171.7M326.3 86.1L310.1 81M316.6 194.9L275.4 175.5M358.9 114.2L381.4 149.1M350.7 171.9L337.9 216M346.4 180.5L370.4 133.8M349.8 101.5L336.5 83.6M311.8 84.9L305 83.7M282.8 115.9L284.9 94.8M300 86.9L289.2 81.9M352.5 140.8L355.3 130.4M351.7 144.2L354.1 154.9M303.8 90L297.8 88.4M273.2 118.2L266.6 130.3M362.1 121.9L364.9 164.5M335.5 174.6L334.6 183.8M350.2 108.7L351.5 77.9M270.3 137.5L271.8 114.6M352.4 157.5L361.6 118.5M338.4 179.9L348.6 176.1M334.6 174.6L324.9 189.1M327.8 177L330.8 184.8M294.1 105.9L289.1 94M337.1 178.9L312.2 210.4M294.4 107.2L316.3 88.5M353.3 101.4L355.8 95.5M285.6 110.7L301 77.6M281.3 164.9L292.4 186.5M352.7 167.9L361.6 168.2M301.8 90.8L325.7 76.8M283.6 99.8L297.7 81.6M333.8 89.4L339.8 74.5M317.9 84.3L314 81.9M335.7 182L340.4 182.9M356.8 168.8L369.4 147.7M289.7 174.3L296.9 195.5M348.7 100.4L363.6 104.6M278.6 166.4L292.4 189.8M285.9 99.5L265.1 122.3M345.9 167.3L348.6 167.7M312.6 89.2L339.2 87.9M279.3 108.6L276.6 105.1M327 188.4L339.1 191.4M356.7 115.5L378.9 125M352.8 146.8L359.6 153.1M271.7 142.1L260.2 137.2M331.5 93L355.9 87M330 182.2L311.8 187.3M279.9 118.9L243.8 87.8M337.7 173L352.3 174M315.7 84L297.3 79.6M320.2 185.2L299.3 186.7M274.9 138.8L239.1 188.8M295.1 184.2L297.8 192M273.7 117L275.4 99.3M330.5 178L325.3 210.2M284.3 176.7L283.8 228.7M349.4 146.4L361.4 130.8M283.8 169.2L289.4 180.3M355.4 149L367 166.4M319.5 83.2L322.3 80.9M359.4 145.8L363 136.2M310.6 185.4L281.9 169.8M341.3 92.7L342.9 83M293.8 183L273.2 202.5M307.8 90.9L291.5 84.3M281 159.7L275.5 157.1M360.8 157.1L358.8 173.5M333.4 97L351.1 90.2M363.7 143.1L373.1 142M353.1 139.6L368 136.9M348.2 108.7L369 102.3M336.5 171.1L339.3 171.6M325.9 98.2L334.5 97.5M296.6 94.6L310.6 80.3M344.7 106.9L346.4 84.2M278.5 142L276.3 193.7M280.5 133.6L276.7 139M330.2 99.6L364.8 113.7M361.3 133.3L363.9 127.4M355.9 104.8L364.8 91.7M284.3 107.2L267.6 134.9M285.3 123.3L277 114.1M329.5 179.4L311.5 198.1M275.2 114L281.7 98.1M273.3 133.9L249.8 106.3M275.7 133L270.2 161.5M328.5 189.5L303.1 202.6M343.3 110.6L346.9 109.7M282.2 108.1L328.8 73.8M358 107.9L376.6 163.7M333.6 102.7L349.4 108.6M278.3 111.9L273.6 115.9M333.4 176.4L333 180.2M286.6 153.9L258.5 144.5M328.9 95.3L338 86.1M301.8 90L335.8 83M338.8 171.7L338.8 176.1M344.3 102.2L346.2 93.1M316.7 89.7L272.2 75.7M287 168.4L265.6 147.9M286.8 115.5L279 131.1M294 181.3L287.3 214.7M340.1 108.3L356 110.4M284.9 177.9L297.6 199.1M315.2 181L319.5 185.4M319.2 184.1L307.2 186.6M274 117.5L266 152.1M350 123.3L367.9 121.6M293.1 89.5L281.7 93.6M356.9 121.7L372.9 108.2M284 144.6L278.1 151.7M271.5 152.5L267.9 125.7M295.9 188.8L296.8 193M333.3 183.3L355.7 173.5M317.8 97.5L302.8 97.2M306.9 179.4L310.6 207.2M355.7 127L353.1 103.9M309.4 181.7L321.3 191.1M329.8 189.2L345.4 182.6M280.4 146L272.7 112.2M346.3 157.5L328.6 181.1M290 107.8L335.6 89.6M322.4 88.8L296.8 75.2M287.3 113.1L291.3 79.4M348.3 166.4L358.2 177.8M274.9 164.2L271.3 170.5M293.2 110.3L288.7 112.4M273.9 158L264.1 138.9M293.3 89.8L333.6 70.7M341.6 103.2L324.4 88.6M356.2 147.6L340.3 180.5M346.2 110.6L333.3 91.1M274.6 145.3L269.4 165.1M351.7 175L361.9 163.9M294.5 91.4L277.5 107M338.6 103.8L318.3 83.3M295.2 95.2L284 83.5" stroke="#5a5a5a" stroke-width="0.45" fill="none" opacity="0.5"/>
<path d="M330 80L350 40M333.2 81.5L350.4 38.8M325 85L310 52M331.1 81.3L310.2 49.7M340 85L355 62M344 84.9L354.8 63.5M300 90L300 60M304.1 87.9L300.5 59.7M365 130L415 178M364.9 127.5L416.6 179.9M368 140L402 175M363.3 138.9L398.7 174.3M270 120L232 118M277.6 119.2L230.8 117M268 125L226 128M272.7 126.3L224.8 129M372 110L400 100M376.6 113.5L398.8 99.8M360 100L392 98M355.6 103.9L392.3 98.3M280 180L252 205M285.7 182.5L251.5 206.2M310 190L305 225M312.2 194.9L303.2 224.6M340 185L365 205M346.8 183.2L365.8 202.3M360 170L395 195M360.5 169.5L394.1 196.3" stroke="#666" stroke-width="0.5" fill="none" opacity="0.6"/>
<path d="M311.9 80.1h0M318.2 86h0M316.6 192.1h0M306.8 198.2h0M273.8 156.1h0M246.4 126.1h0M278.3 177.7h0M295.1 92.3h0M272.1 190.5h0M261.1 135.1h0M361.7 124.3h0M336.6 90.5h0M333.5 73.3h0M281.7 132.6h0M367.9 152.9h0M304.2 197.2h0M285.4 170.6h0M313.6 183.7h0M280.8 113h0M357.4 138.4h0M353.3 191.1h0M293 100.4h0M281.6 112.3h0M287.5 89.9h0M317 80.8h0M285.8 189.7h0M269.5 130.9h0M319.7 201.2h0M363.4 123.8h0M277.2 148.9h0M351.4 99.3h0M344.9 102.1h0M288.7 108.9h0M317.1 209.9h0M341.1 90.7h0M352.3 214.2h0M309 189.8h0M361.2 113h0M264.7 107.2h0M339.1 192.6h0M294 194.7h0M305.8 188.3h0M258.9 166.4h0M361.1 138.3h0M288.2 64h0M330 92.2h0M268.7 148h0M278.9 135.4h0M270.9 112.6h0M343.3 177.3h0M406.2 138.7h0M290.3 195.9h0M287.7 171.7h0M335.6 190.2h0M273.8 176.8h0M360.4 209.2h0M272.7 137h0M264 107.2h0M271.1 125.2h0M262.2 94.7h0M259.8 97.3h0M276 63h0M256.5 97.1h0M289.2 179.8h0M354.6 155h0M272.1 123.8h0M265.6 142.7h0M285.7 102.2h0M346.6 172.2h0M352.8 150.4h0M315.1 85.7h0M297.5 79.1h0M360.8 111.3h0M304.4 89.9h0M286.2 94.3h0M286.4 91.6h0M390.3 120.4h0M271.8 105h0M346.3 187.3h0M283.7 173.6h0M318.1 78.3h0M308.5 184.4h0M277.7 123.4h0M252.2 154.2h0M358.9 147.3h0M320.8 189h0M297.1 87.7h0M284.1 107.4h0M276 83.7h0M368.4 126.6h0M361.2 171.6h0M290.3 193h0M289.2 190.2h0M334.2 99.4h0M335.7 190.8h0M291.5 96h0M362 150.7h0M363.9 170h0M364.3 156.8h0M340 177.5h0M304.8 193.1h0M316.5 199.4h0M277.9 109.4h0M273.3 115.3h0M300.1 189.9h0M353.4 97.8h0M351.2 158.1h0M373.7 110.8h0M305.5 58.7h0M343.5 94.6h0M335.1 199.9h0M267.2 118.2h0M339.8 184.9h0M322.9 182.1h0M372.9 133.9h0M287.8 178h0M287.5 173.1h0M339.7 184h0M278.9 138.7h0M298.3 91.3h0M290.5 180.4h0M332.6 199.8h0M338.9 177.4h0M362.8 118h0M302.5 83h0M355.1 117.3h0M324 186.9h0M381.6 167.6h0M331 92.9h0M321.3 77.1h0M324.2 96h0M364.1 129.8h0M355.5 195.1h0M291.9 174.7h0M276.5 182.1h0M270.1 135.9h0M360.6 180.9h0M363.6 121.7h0M400.1 177h0M349.2 183h0M272.3 131h0M286.8 109.6h0M287.7 165h0M293.8 95.9h0M304.7 189.1h0M304.1 80.8h0M358.4 146.4h0M344.5 83.3h0M264.7 143.1h0M290.8 60.7h0M366.1 110.3h0M279.8 123.2h0M308 88.6h0M271.3 138.3h0M342 98.9h0M305.7 86.4h0M268.3 133.3h0M352.5 187.8h0M358.5 107h0M361.6 126.9h0M269.9 136.8h0M359.5 129.3h0M370.7 180.3h0M372.7 142h0M303.7 80.2h0M341.2 83.3h0M323.4 85.7h0M267.7 103.6h0M337.7 187.7h0M260.6 95.9h0M296.1 84.8h0M299.6 199.6h0M353.2 120.3h0M279.2 170.7h0M292.7 105.8h0M331.4 178.5h0M370.7 113h0M360.6 139.8h0M255.7 116.9h0M305.2 94.7h0M328.6 200.9h0M356.3 117.6h0M272 180.9h0M272.8 167.3h0M347.4 176h0M333.7 82.9h0M314 203.3h0M301.2 71.3h0M342.7 184.8h0M376.4 88.4h0M326.8 197.5h0M338.4 177h0M274.5 68.4h0M284.5 167.7h0M297.7 93.5h0M337.9 92.2h0M375.6 110.9h0M342.4 85.7h0M337.1 214.5h0M301.8 91.2h0M383.8 127.5h0M351.3 109.9h0M282.9 176.2h0M359.5 141.6h0M364.5 163.5h0M319.3 208.6h0M299.9 184.7h0M295.8 96.3h0M265.6 102.3h0M365 139.2h0M301.2 194.4h0M358 160.3h0M259.3 124h0M276.3 166.5h0M281.3 106.8h0M350.5 67.5h0M272.6 117.3h0M335.6 185.9h0M327 197h0M363.8 104.4h0M306.3 195.5h0M276.1 138.5h0M277.2 134.2h0M349 88.4h0M276.8 149.4h0M354.2 146.9h0M310 77h0M328.6 194.9h0M310.4 192.8h0M341.6 225.9h0M355.9 146.3h0M321.1 196.5h0M272 136.9h0M311.8 83h0M353.8 95.1h0M321.7 76.2h0M263.6 150.3h0M272.7 159.3h0M270.7 156.8h0M315.7 62.1h0M295.8 181.9h0M318.3 78.5h0M355.7 163h0M284.4 189.1h0M283.9 90.6h0M272.9 113.6h0M342.1 63.2h0M315.6 78.4h0M365.8 160.6h0M353.7 121.8h0M304 196.1h0M364.3 106.1h0M336.2 84.5h0M269.6 139.6h0M319 90.5h0M305.2 189.5h0M361 151.2h0M319 67h0M355 99.5h0M367.1 162.3h0M374.4 137.7h0M281.5 169h0M294.1 193.2h0M270.7 158.2h0M294.4 90.5h0M278.8 93.4h0M331 194.9h0M270.4 156h0M284 70.1h0M388 171.6h0M293.1 98.6h0M337.9 195h0M349.4 105.1h0M284.8 179.8h0M315.7 191.2h0M329.9 207.4h0M279.8 175h0M315.3 76.5h0M302.7 90.3h0M268.5 111.9h0M301.6 209.4h0M277.1 103.1h0M349.8 100.8h0M326.8 182.7h0M366.2 126.9h0M294.7 199.6h0M306.4 207h0M373.4 126.1h0M275.2 134h0M331.7 81.6h0M338.8 200.1h0M269.7 165.2h0M277.2 201.9h0M336.6 188.4h0M320.5 77.4h0M283.9 78h0M271.4 138.6h0M304.8 193.5h0M358.6 186h0M273.6 136.6h0M273.2 198.9h0M316.4 78.8h0M268.3 163.6h0M317.6 200h0M304 81.4h0M314.5 82.3h0M302.9 73.2h0M306 72.5h0M362.7 104.1h0M274.3 144.9h0M334 187.8h0M347.9 97.7h0M342.5 203.1h0M338.5 223.3h0M264.9 122.7h0M275.2 154.4h0M280.9 172.2h0M325.7 193.2h0M333 186.9h0M287.7 105h0M353.6 169.5h0M378 110.6h0M362.7 152.2h0M364.8 177.1h0M338.3 88.2h0M284.7 181h0M271.1 115.6h0M308.2 197.9h0M352.3 98.9h0M278.9 144.1h0M276.2 125.9h0M354.9 99h0M271 151.5h0M321.7 228.5h0M296.9 101.4h0M332.4 196.5h0M281.8 136.5h0M298.6 183.2h0M316.2 74.9h0M264.4 128.1h0M315.2 78.9h0M281.4 107.2h0M364.6 129.4h0M304.8 81.3h0M399.8 129.7h0M277 108.8h0M240.5 178.6h0M333.1 196.2h0M296.4 187.4h0M354 98.9h0M366.2 121.8h0M314.8 87.5h0M270.4 148.3h0M343.9 60.3h0M351 166.8h0M278.6 174.8h0M295.4 193.1h0M379.6 150.9h0M331.7 92.8h0M273.7 136.7h0M335.5 89.9h0M359.8 178.8h0M321.7 86.7h0M352.1 166.2h0M330.3 193.9h0M272.4 164h0M343 193.7h0M308.7 84.1h0M344.4 91.2h0M283.5 106.6h0M354.3 169.6h0M259.2 136.3h0M358.7 149.2h0M355.3 102.6h0M266.9 140h0M353.5 118.7h0M377 155.6h0M337 181.6h0M357.1 115.9h0M269.3 117.7h0M258.2 128.7h0M346.1 104.7h0M259.9 141.9h0M364.6 153.2h0M361.7 105.9h0M370.2 132.8h0M284.4 172.1h0M279.5 92.9h0M244.6 165.9h0M272.5 119.6h0M328.2 96.6h0M387.1 126.8h0M366.9 144.7h0M252.7 185.8h0M293.9 70.9h0M357.9 172.7h0M282 109.5h0M334.3 72.7h0M359.7 171.1h0M267.4 138.4h0M355.8 92.9h0M251.7 148.5h0M350.8 178.8h0M357 156.7h0M296 181.9h0M366.2 98.3h0M308.8 86.9h0M325.4 85.2h0M293.6 174.7h0M356.4 115.5h0M290.3 186.9h0M287.5 93.2h0M355.5 172.3h0M357.3 87.2h0M305.2 67.5h0M287.8 99.1h0M335.8 198.8h0M272.7 166.1h0M276.5 153.7h0M269.4 162.3h0M278.8 178.7h0M343.8 87.4h0M295.4 196.2h0M341.2 175.9h0M300.1 181.1h0M365.9 139.6h0M363.4 146h0M295 89.5h0M276.3 143.5h0M307.7 183.7h0M282.7 182h0M312.6 192.3h0M277.6 112.9h0M353.5 163.8h0M352.9 57.8h0M285.4 92.5h0M320.5 83.6h0M344.2 81.5h0M266.2 101h0M315.2 202.4h0M296.2 191.7h0M352 177.4h0M309.5 198.4h0M302.1 69.8h0M285.7 90.5h0M269.5 139.9h0M348.9 102h0M351.5 189.2h0M352 123.1h0M271.1 81.5h0M357.3 98.8h0M357.5 106.8h0M294.8 89.3h0M353.3 125.1h0M345.7 93.7h0M352.2 169.6h0M354.9 97.8h0M256.8 178.3h0M335 90.5h0M292.6 189.2h0M319.4 197.3h0M255.9 87.5h0M287.3 171.6h0M363.7 114.5h0M287.4 103.7h0M337.8 101h0M285.9 176.2h0M272.3 157.9h0M351.7 101.9h0M285.9 185.4h0M323.8 203.3h0M354.8 145.8h0M306.4 85.9h0M270.5 157.4h0M334 193.5h0M326.3 83.2h0M266.7 147.2h0M345.2 177.9h0M321.1 198.6h0M353.1 162.5h0M363.8 130.7h0M243.3 166.3h0M272.8 43.9h0M291.1 195.1h0M328.6 188.4h0M303.1 75.5h0M283.6 151.8h0M308.3 81.5h0M269.7 151.9h0M347.9 106.1h0M296.4 92.4h0M292.1 87.1h0M287.2 86.2h0M342.9 206.5h0M362 124.9h0M271.9 132.2h0M373.6 97h0M283.8 178.7h0M270.1 167.9h0M346.2 97h0M289.3 220.4h0M284.9 194.2h0M341.9 89.2h0M279.5 118.6h0M283.1 92.9h0M334.4 77.4h0M262 176.9h0M312.5 204.4h0M369.4 141.1h0M361 157.4h0M268.1 145.6h0M362.2 106.5h0M366.2 123.6h0M327.8 182h0M271.4 112.6h0M327 78.6h0M304.8 194.9h0M363.2 137h0M348.9 192.8h0M353.8 111.9h0M284.7 183.4h0M355.8 111.5h0M281.3 121.6h0M279.3 174.7h0M277.3 167.5h0M296.4 75.6h0M346.9 181.5h0M266.6 122h0M324.1 49.3h0M290.6 93.3h0M357.9 196.5h0M281.8 89.4h0M363.3 165.6h0M309.7 78.2h0M259.6 185.1h0M315.4 83.1h0M304.2 77.3h0M344.5 171.3h0M322.5 80h0M367 141.9h0M284.4 95.1h0M353.6 166.6h0M290.3 181.9h0M357.6 70.1h0M281.1 103.9h0M275.9 169.1h0M349.3 169.6h0M350.8 178.5h0M335.8 71.7h0M259.2 137.4h0M340.8 88.6h0M374.1 138.1h0M359.3 148.6h0M365 138.4h0M273.9 145.7h0M330.1 181h0M349.4 161.4h0M358 171.5h0M284.9 188.9h0M281 97.3h0M375.8 138h0M274.1 133.8h0M269 137.4h0M288 196.8h0M302.9 94.5h0M261.6 167.1h0M288.6 199.2h0M351.6 121.9h0M344.7 95.2h0M293.4 83.7h0M315.6 196.1h0M316.3 192.2h0M289.8 108.5h0M348.3 164.3h0M285 98.6h0M319.2 78.4h0M316.3 196.7h0M275.9 170h0M307.6 80.4h0M311.1 72h0M301 88.7h0M287 169.2h0M288.1 75.6h0M275.8 144.1h0M264 114.4h0M370.3 135h0M329.4 78.9h0M383.4 82.3h0M275.9 115.8h0M335.4 87.1h0M343.2 172.4h0M298.9 199.8h0M305.6 186.3h0M284.5 175.5h0M353 185.2h0M288.3 214h0M273.6 114.4h0M349.1 183h0M272.6 155.8h0M270.9 133.7h0M379.7 75.1h0M269.6 119.6h0M279.9 164.4h0M314.1 196.3h0M367.4 133h0M297.9 175.5h0M339 92.9h0M363 180.9h0M265 128.9h0M349.9 205.4h0M267.6 198.7h0M272.1 154.6h0M303.3 184.9h0M359.4 130.3h0M288.3 213.3h0M277.9 105.3h0M337.6 178.5h0M374.7 105.1h0M356.4 89.2h0M323.3 78.2h0M339.6 176.3h0M287.2 95h0M355.6 109.4h0M262 173h0M282.8 87.9h0M315.1 194.2h0M271 186.6h0M269.4 118.6h0M275.1 109.8h0M287.7 174.1h0M254.9 156.7h0M361.8 131h0M369.2 172.6h0M366.2 175.5h0M266 179.9h0M266.6 156.1h0M355 96.9h0M309.9 197h0M274.5 114.9h0M369.2 91.7h0M360.9 155.9h0M271.4 204.9h0M283 105.4h0M352.2 86.8h0M335.9 192.2h0M271.4 180.9h0M359.5 174.7h0M358 138.9h0M264.5 126.6h0M328.8 89.9h0M278.7 92.4h0M304.4 202h0M257 121.7h0M296 182.2h0M267.3 136h0M270.5 135.6h0M287.6 91.3h0M324.5 94.5h0M365.4 160.5h0M376.7 208.4h0M280.5 57.1h0M375.1 70h0M291.7 91.2h0M318.9 203h0M310.4 88.7h0M269.3 199.2h0M288.4 101.1h0M298.3 93.1h0M272.1 160.2h0M270.5 185.6h0M347.6 101.9h0M308.3 195.7h0M285.4 101.5h0M301.2 95.8h0M280 110.5h0M260.3 54.3h0M292.1 86.1h0M338.7 82.1h0M325.6 74.3h0M295.4 194.5h0M366.1 166.8h0M355.3 156h0M322.5 195.9h0M283.9 184.3h0M365.5 123.8h0M302.9 195.5h0M309.1 183.9h0M348.3 109.9h0M356.7 118.2h0M349.6 65.4h0M351 93.2h0M324.5 203.1h0M284.9 180.9h0M357.4 130h0M361.7 129.5h0M262.5 156.4h0M299.8 185.2h0M281.8 147.5h0M358.8 113.1h0M275.9 155h0M360.5 149.2h0M305.9 190.8h0M324.2 200.3h0M336.7 81.7h0M271.4 122.6h0M368.9 111.5h0M348.2 92.3h0M282.5 103.1h0M349.8 184.7h0M311.8 219.3h0M259 198.9h0M258.2 137.5h0M274.1 115.4h0M288.6 200.7h0M353.7 121.6h0M259.1 100.7h0M275.8 172.9h0M285.5 173.5h0M271 146.4h0M243.4 103.9h0M270.2 136.6h0M325.3 80.8h0M297.9 94h0M271 118.3h0M283.4 37.7h0M337.9 86.7h0M282.6 189.4h0M279.9 110.9h0M337.4 192.5h0M357.4 166.6h0M306.8 194.8h0M335.4 176.4h0M324.9 199.5h0M336.5 181.6h0M318.6 188h0M278.7 151.7h0M340.9 91.6h0M313 189.9h0M331.8 53.4h0M336 179.7h0M354.7 185.5h0M319.1 83.5h0M273.2 80h0M363.6 109.1h0M287.8 169.7h0M364.8 140.4h0M351.6 109.3h0M294.6 103.5h0M291.5 184.5h0M325.2 203h0M271.3 114.7h0M365.6 115.5h0M331.1 191.8h0M300.4 182.9h0M282.1 114.3h0M353.4 168.1h0M382.6 94.2h0M270 119.9h0M289.9 97.6h0M286.3 97.4h0M272.1 131.2h0M264.1 152.6h0M276.5 166.9h0M359.9 122.4h0M333.3 89.2h0M368.8 200.3h0M311.6 77.1h0M326.8 185.4h0M365.2 118.9h0M322.6 89.1h0M268.4 125.4h0M279 120.4h0M322.7 80.4h0M345 46.6h0M306.2 188.1h0M368.8 129.9h0M297.1 96.3h0M319.7 90.6h0M281.5 180.7h0M360.4 118h0M330.4 79.8h0M334.1 80.1h0M282.4 95.3h0M272.5 164.9h0M271.6 157.7h0M277 155.8h0M367.5 120.3h0M355.7 103.7h0M346.3 205.9h0M327 82.3h0M305.4 187h0M354.9 82.6h0M336.5 82.3h0M282.2 155.3h0M379.5 113.1h0M317.3 195.1h0M285.6 189.7h0M275.1 122.8h0M287 170.9h0M282.2 181.7h0M332.3 199.6h0M382.6 119.8h0M283.2 180.9h0M293.9 175.5h0M352 168.3h0M280.1 162h0M359.4 131.9h0M260.9 124.6h0M355.7 108.3h0M345.3 171.8h0M322 194h0M358.4 137.6h0M357.1 101.3h0M284.8 101.7h0M287.7 166.1h0M274.9 207.6h0M272.1 131.9h0M328.5 79.6h0M357.4 102.7h0M340 97.4h0M307.7 190.8h0M364 117.3h0M356.7 143.2h0M351.3 106.8h0M280 105.4h0M279.4 138.5h0M347.9 97.5h0M315 203.9h0M268.7 194.3h0M290.1 109h0M357.8 181.7h0M255.8 170.7h0M273.5 161.6h0M376.9 190h0M372.9 103.2h0M360.5 177.9h0M369 145.5h0M290.9 189h0M340.5 208.3h0M262 123.2h0M315 219.7h0M334.2 87.3h0M358.8 95.6h0M366 119.7h0M273.4 177.7h0M344.1 82.6h0M301.5 86.9h0M325.1 81.1h0M276.5 107.7h0M340 84.6h0M284.4 169.9h0M305.3 66h0M361.6 168.6h0M330.1 181.5h0M274.1 113.1h0M263.8 153.7h0M283.7 97.6h0M366.5 156.7h0M263.4 146.5h0M351 92.6h0M307.1 58.7h0M365.1 111.7h0M290.4 175.7h0M276.2 161.3h0M318.5 64.6h0M283.7 114.8h0M299.5 207.5h0M337.1 188.9h0M298.6 91.5h0M351.5 114.6h0M343.3 87.5h0M361.2 125.6h0M358.4 72.7h0M301.6 91.3h0M290 88.9h0M294.5 194.4h0M277.8 149.6h0M305.4 195h0M357.7 121.2h0M359.8 172h0M307.3 93.3h0M301.6 184.6h0M298 195.2h0M360.4 129.4h0M290.3 97h0M284.4 92.1h0M329.6 199h0M395.5 92.7h0M309.4 189.5h0M293.3 194.2h0M374.4 107.1h0M299.4 89h0M327.9 79.7h0M339.5 187.5h0M278.1 176.7h0M375 163.9h0M267.8 184h0M273 185h0M291.8 87.2h0M273.4 129.6h0M352.7 113.6h0M357.8 114.7h0M278.9 177.1h0M319.3 202.5h0M353.3 112.7h0M274.1 103h0M363 163.5h0M284.7 203.7h0M357.2 180.9h0M341.5 181.4h0M377.2 63.6h0M324.2 198.7h0M267 157.7h0M336.2 190.6h0M353.7 77.5h0M303.7 196h0M328.5 194.2h0M326.6 185.2h0M318.4 80.4h0M317.1 196.9h0M299 183.9h0M338.5 103.2h0M346.3 183.8h0M269.1 153.9h0M275.2 160h0M364.3 161.3h0M268.8 98.4h0M380.6 175.1h0M291.2 98.9h0M283.5 112.6h0M285.2 162.7h0M318.3 191.4h0M293.4 197.4h0M283.1 96.4h0M314.3 211.9h0M328.6 186.1h0M279.6 172.7h0M278.5 118h0M282 90.6h0M319.4 84.9h0M275.9 123.3h0M274.4 152.8h0M268.2 146.4h0M364.9 90.1h0M360.2 162h0M349 109h0M387.2 132.2h0M361.4 106.4h0M353.2 168.5h0M363.4 109.4h0M329.1 82.4h0M378 149.1h0M272.1 188.4h0M360.5 109.7h0M362.7 130.9h0M272.4 144.1h0M344.2 90.4h0M352.8 103.4h0M327.7 85.1h0M285.4 97.3h0M376.8 204.6h0M279.9 171.7h0M310.1 81h0M275.4 175.5h0M381.4 149.1h0M337.9 216h0M370.4 133.8h0M336.5 83.6h0M305 83.7h0M284.9 94.8h0M289.2 81.9h0M355.3 130.4h0M354.1 154.9h0M297.8 88.4h0M266.6 130.3h0M364.9 164.5h0M334.6 183.8h0M351.5 77.9h0M271.8 114.6h0M361.6 118.5h0M348.6 176.1h0M324.9 189.1h0M330.8 184.8h0M289.1 94h0M312.2 210.4h0M316.3 88.5h0M355.8 95.5h0M301 77.6h0M292.4 186.5h0M361.6 168.2h0M325.7 76.8h0M297.7 81.6h0M339.8 74.5h0M314 81.9h0M340.4 182.9h0M369.4 147.7h0M296.9 195.5h0M363.6 104.6h0M292.4 189.8h0M265.1 122.3h0M348.6 167.7h0M339.2 87.9h0M276.6 105.1h0M339.1 191.4h0M378.9 125h0M359.6 153.1h0M260.2 137.2h0M355.9 87h0M311.8 187.3h0M243.8 87.8h0M352.3 174h0M297.3 79.6h0M299.3 186.7h0M239.1 188.8h0M297.8 192h0M275.4 99.3h0M325.3 210.2h0M283.8 228.7h0M361.4 130.8h0M289.4 180.3h0M367 166.4h0M322.3 80.9h0M363 136.2h0M281.9 169.8h0M342.9 83h0M273.2 202.5h0M291.5 84.3h0M275.5 157.1h0M358.8 173.5h0M351.1 90.2h0M373.1 142h0M368 136.9h0M369 102.3h0M339.3 171.6h0M334.5 97.5h0M310.6 80.3h0M346.4 84.2h0M276.3 193.7h0M276.7 139h0M364.8 113.7h0M363.9 127.4h0M364.8 91.7h0M267.6 134.9h0M277 114.1h0M311.5 198.1h0M281.7 98.1h0M249.8 106.3h0M270.2 161.5h0M303.1 202.6h0M346.9 109.7h0M328.8 73.8h0M376.6 163.7h0M349.4 108.6h0M273.6 115.9h0M333 180.2h0M258.5 144.5h0M338 86.1h0M335.8 83h0M338.8 176.1h0M346.2 93.1h0M272.2 75.7h0M265.6 147.9h0M279 131.1h0M287.3 214.7h0M356 110.4h0M297.6 199.1h0M319.5 185.4h0M307.2 186.6h0M266 152.1h0M367.9 121.6h0M281.7 93.6h0M372.9 108.2h0M278.1 151.7h0M267.9 125.7h0M296.8 193h0M355.7 173.5h0M302.8 97.2h0M310.6 207.2h0M353.1 103.9h0M321.3 191.1h0M345.4 182.6h0M272.7 112.2h0M328.6 181.1h0M335.6 89.6h0M296.8 75.2h0M291.3 79.4h0M358.2 177.8h0M271.3 170.5h0M288.7 112.4h0M264.1 138.9h0M333.6 70.7h0M324.4 88.6h0M340.3 180.5h0M333.3 91.1h0M269.4 165.1h0M361.9 163.9h0M277.5 107h0M318.3 83.3h0M284 83.5h0M350 40h0M310 52h0M355 62h0M300 60h0M415 178h0M402 175h0M232 118h0M226 128h0M400 100h0M392 98h0M252 205h0M305 225h0M365 205h0M395 195h0" stroke="#4a9c96" stroke-width="1.4" stroke-linecap="round" fill="none" opacity="0.85"/>
<defs><radialGradient id="g2"><stop offset="0" stop-color="#3d9462"/><stop offset="0.6" stop-color="#3a8a70"/><stop offset="0.82" stop-color="#3b6e5e" stop-opacity="0.9"/><stop offset="1" stop-color="#5a6a64" stop-opacity="0"/></radialGradient></defs>
<ellipse cx="317" cy="138" rx="52.6" ry="63.8" fill="url(#g2)"/>
<path d="M335 173.9L347.4 175.6M344.9 125.5L342.4 128.4M343.1 131L342.9 134.8M291.2 109L282.2 104.6M303.9 150.9L302.4 147.2M286.4 152.3L289.4 146.8M343.9 111L354.1 117.2M298.7 124.4L308.3 130M317.7 122.2L327.2 121.4M290.2 116L296.4 123.7M354.7 109.9L349.4 108.2M318.3 107.6L312.8 106.7M293.7 103.3L303.4 109.7M323.8 159.7L323.4 171.8M288.5 112.4L294.8 106.1M322.5 187.6L316.4 184.2M314.9 141.7L318.6 136.6M342 114.9L348.2 123.1M297.1 116.4L302.3 125.1M338.5 126.1L337.8 115.4M289.1 135.2L290.6 138.8M331.7 156L339.6 151.7M281.9 103.9L293.6 111.1M340.4 92.1L340.4 87.8M285.9 155.5L285.5 162.8M324.9 115.7L328.6 111.1M326.1 163.2L320.5 152.3M324.9 160.7L323.2 151.4M334.9 93.8L331 84.6M341 158.8L341 162M354.6 148.7L367.8 145M291.6 174.4L301.5 177.1M300.9 134.7L303.8 138M329.8 175L322.6 185.9M327.4 175.1L321.1 184.8M304 97.1L290.2 95.8M351.1 131.3L343.1 135.4M288.8 100.9L292.5 108.5M339.4 89.9L328.1 93.4M285.7 133.2L289.6 133.1M335.7 112.4L331.5 117.3M358.7 157.3L364.9 160.5M349.3 119.7L336.8 117.3M321 143.5L331.4 140.3M335.3 154.8L331.1 143.8M304.8 104.5L305.7 117.6M294.3 139.3L296.9 137.8M277.2 133.6L270 137.5M305.5 152.2L302.2 153.9M311.5 156.7L306.5 166.9M268.6 133.7L278.7 126.5M318.6 186L318.4 189.2M291.5 109.7L303.5 113.4M300.4 144.4L302 147.2M275.5 139.9L269.6 136.7M308.4 168.5L303 156.8M333.9 135.4L331.4 137.3M311.2 144.3L306.8 139.5M354.6 143.8L357.6 154.6M313.1 92.7L303.7 83.6M287.7 104.3L287.2 97.8M291 123.9L288.5 119.5M290.9 167.5L295.8 167.4M280.2 104.8L287.1 97.5M321.6 152.2L313.1 159.4M296.4 161L290.1 169.3M317.5 170.2L318 178.8M313 127.9L300.3 126.6M334.9 103.5L325.9 106.5M333.2 182.3L343.6 173M304.6 120L304.6 132.6M353.9 147.7L352.1 153.9M322.7 95L320 102M322.7 146.5L331.9 154.5M364.3 137.9L369.1 137.2M347.9 152.7L339.1 142.6M349.7 128.1L341.7 124M285.5 133.1L294.3 128.6M297 168.2L299.6 158.1M344 170.7L341.6 168.8M313.2 92.9L300.6 94.4M308.1 120.9L308.8 132.4M327.1 105.1L329.4 118.1M309.7 104.3L303.1 110.2M337.4 145.4L341.9 139.6M344.5 136.3L350.5 141.1M320.8 188.2L327.5 198M354 140.1L361.3 141.6M333.3 155.4L339.1 156.6M339.3 107.7L343.8 119.5M319.4 180.6L322.6 173.1M286.6 150.7L289.5 147.1M307.9 165.9L311 171.2M325.4 166L329.2 169.5M325.9 155.4L330.4 159.4M335.3 154.7L332.6 158.3M277.1 119.5L270.5 112M306 128.5L295.4 127.9M343.8 129L347 130.3M327.3 158.6L336.7 168.4M321.5 129.9L317.9 132.4M346.9 107.8L359.7 108.8M334 133L340.4 129.2M338 165.6L337.8 161.1M308.5 156.7L299 161.5M310.6 154.6L313.6 149.9M322 157.4L314.4 166.2M315.8 137.9L327.1 139.4M293.6 133.2L300 144.3M288.9 101.4L294.5 105.8M304.1 147.5L294.7 154.4M317.2 184.5L318.5 171.2M290 161.2L283.3 149.9M343.3 91.2L341.9 94.1M311.5 184.7L300.2 186.3M353.5 140.1L348.8 132.3M301.8 87.1L296.4 86.7M323.2 154.8L330.2 162M289.8 172.5L285.6 161.6M289.5 171.1L289.3 181.7M319.7 164.6L327 159.1M311.3 84.4L307.7 78.6M301 93.5L296.5 92.9M345.1 110.2L338.8 111.2M353.3 109.3L347.7 114.7M287.2 135.9L278.6 128.3M342.8 127.6L349.9 134.2M351.2 145.9L340.6 152.9M285.5 117.9L285 106M286.2 135.8L289.7 132.5M322 86.9L322.7 77.6M284.5 156.2L282.7 144.8M345.5 151.1L352.7 152.1M287.4 142.4L285 146.3M332.4 172.7L334 176.2M298.4 153.7L293.4 157.6M326.9 173.8L324 175.9M329.1 134.5L328.8 141.5M326.6 104L328.4 111.4M295.1 124.6L298.1 133M321.4 111.9L321.2 101.9M346.5 153.5L354.2 162.4M331.2 170.8L330.9 174.2M319.6 90.6L315.5 80.7M292.5 159.8L293.9 149.3M347.3 107.4L342.6 115.7M335.1 180.1L338.7 178.8M292 133L288.1 125.1M288.3 161.8L286.5 158.6M353.3 154.3L348.6 154.9M293.7 114.5L296.7 118.9M344 117.4L349.3 109.2M325.1 148.4L316.2 140M302.8 96.1L303.5 103.1M311.7 128.4L311.2 123.3M351 142.5L346.4 154.4M284.4 161.6L277.2 151.6M306.3 92.6L296.6 96.4M352.1 118.4L339.6 118.4M294.8 106.2L300.3 106.5M318.9 116.1L322.9 127.1M308.2 121.2L310.9 123M341.8 158.7L352.6 158.5M322.9 109.1L312.3 109.2M317 178.9L327.1 182.6M322.7 83.8L321.8 78.9M315.9 191.5L309.2 202.3M358.9 114.2L361.8 104.1M327.9 121.8L329.9 127.7M319.4 117.6L318.6 104.8M321.8 136.5L315 134.5M316.9 129.7L304.7 133.6M305.7 149.3L309.3 157.2M312.6 120.5L307.4 112.2M360.3 140.4L357.2 145.1M332.4 109.4L336.2 107.3M290.2 154L284.4 143.3M363.8 123.8L361.1 125.2M335.9 99.6L324.5 102.9M314 183.2L317.5 190.5M298 152.2L289.4 157.8M355 137.2L353 127.6M318.3 129.2L322.7 123.3M359 140.2L352.5 138.7M331.9 136.1L327.4 129.6M325.3 102.5L336.3 106M279.4 155.7L289.4 151.4M283.8 142.1L277.9 153.3M339.7 135.3L339.3 139.1M352.4 162L342.6 166.2M345.6 183.1L346.1 176M292.4 153L280.7 149.8M285.8 108.5L284.8 115.9M338.7 108.6L347.3 107.3M304 104.6L312.7 102.9M312.6 134.2L305.2 138.6M275.1 158.6L277.1 155.3M318.1 106.5L314.4 110M314.2 112.8L318.9 125.5M322.2 186L327.7 183.4M288 118.2L278.3 110.7M282.7 128.4L272.6 121.7M276.6 143.7L270.7 149.1M283.6 118.6L286.7 115.2M317.4 159.1L315.8 156.1M322.4 116.6L324.4 113.2M299.9 97.3L299.8 107.1M336.8 161.6L327.2 153.1M346.6 176.5L346.9 182.9M342.7 129.6L347.2 135.7M272.2 153.3L261.4 158.8M337.4 173.5L327.7 169M300.7 126L292 121.2M336.5 115L329.8 106.7M292.5 155.2L281.1 161.5M283.7 150.1L279.2 152.9M310.7 118L321.4 113M311.6 136.4L318.1 132.7M354.9 136.4L365.3 135.7M359.2 122.8L354.6 129.7M334.4 160.4L339.3 169M282.3 154.3L276.6 150.3M301.8 180.6L308.3 171.6M343.3 160.5L341.9 151.8M329.4 154.2L325.5 153.9M353.2 165.4L356.9 155.9M330.7 115.5L328 112.2M332 182.1L325.7 187.2M307.4 166.6L303 161.5M309.1 176.6L308.6 188.8M322.4 107.5L315.6 105.2M309.1 96.9L311.1 89.1M326 139L330.1 127.8M317.2 190.9L317.3 204.4M318.7 132.5L317.2 125.9M322.4 95.6L327.6 103.4M284 120.8L274.5 116.1M336.6 149L348.2 145M336.9 93.8L329.8 96.4M275.9 142.8L277.9 130M349.6 177.9L337.5 180.6M291.7 165.3L305.3 165.3M313.1 178.7L324.9 177.2M333.8 137.1L330.2 146.7M327.2 100.2L316.6 95.6M278.8 172.5L275.2 172.1M355.4 134.5L368 134.3M313.5 135L308.8 137.2M289 150.2L294 149.5M271 149.6L259.9 150.1M318.3 100.9L308.5 102.8M313.7 175.1L313.8 167.9M342.1 99.6L353.5 97.3M334.6 168.1L334.6 173M321.8 135.2L319.8 141M288.6 168.4L298.7 164.8M307 113.4L310.9 101.8M336.9 164.3L349.9 165.5M309.7 130.6L323.2 127.5M349 132.5L342.5 138.8M291.2 136.1L287.4 136.7M344.1 100.3L334.9 95.6M325.4 114.5L318.2 103.8M341.6 178.2L344.1 173.9M313.8 138.9L324.6 135.2M293.3 104.6L290 108M295.4 131.4L308.4 127.7M301.7 108.1L296.7 113.3M308.2 178.3L308 184.7M314.9 98.1L308.6 102.7M284 159.5L297.2 157.4M345.1 123.1L355.4 128M287.7 107.4L281.4 104.4M296.3 95.8L303 93.8M350.5 164.5L338.7 170.4M296.8 147.2L292.8 150.7M344.1 136.9L348.3 135.3M364.9 129.8L374.9 122.9M300.3 163.8L290.1 158.1M344.1 181.8L351.3 187.9M324.5 178.2L312.5 179.8M314.7 95.8L324.2 104.4M281.3 144.5L283.9 140.8M344 156.6L347.9 167.3M323.5 122.1L315.2 133.2M304.3 143.8L301.8 137.9M290 103.1L288.3 89.3M333.8 103.7L347.5 105.7M356.2 142L356.7 138.5M285.6 119.5L280.8 120.1M272.3 152.9L279.3 141.6M305.5 169.1L301.9 168.7M318.1 100.5L321.8 112.7M304.8 106.3L299 113.3M275 132.9L278.9 129.2M315.7 145L315.8 151.2M324.6 185.2L320.4 174.6M325.6 135.7L314 136.9M332.9 112.9L327.9 120.4M335.4 157.6L326.5 147.2M278.4 153.5L280.2 160.8M283.9 153L279.9 154.8M282.4 112.6L290.7 123.5M288.7 105.7L281.3 107.8M291.8 124.6L293 131.7M344.1 164L334.3 169.7M300.8 165.1L294.3 164.6M298.7 101.1L306 103.9M333 144.1L343.7 144.2M339.2 150.2L347.5 141.1M328.3 154.3L331.1 151.6M320.4 142.6L323.9 143.1M338.2 97.2L344.6 95.1M276.6 169.5L277.2 181.8M338.6 129.6L342.1 133M328 176L332.3 188.2M321.7 160.9L323.8 155.2M344 100.3L352.6 94.9M318.8 163.9L310.3 168.2M347.3 125.5L333.7 127.8M349.7 110.2L358.2 117.6M339 142.2L333.1 130.6M312.3 157.6L308.2 162.7M301.6 167.3L298.2 158.4M330.8 133.6L333.6 130.2M314.1 189L317.6 194.2M331.3 151.9L331 147.6M348.1 161.9L349.2 174.3M282.3 145.2L280.3 156M329.4 102.7L342.2 98.3M350.2 165.3L342.2 167.5M343.5 173.4L348.8 173.5M319.4 104.8L323.7 115.6M307.5 147.2L294.7 146.2M344.8 100.4L352.8 101.8M358.9 161.2L345.5 161.7M356.9 125.7L359.7 120.6M332.7 153.6L341.3 157.6M295 130.5L288.9 124.2M309.7 101.8L321.4 101.5M323.8 151.3L313.6 153M317.1 151L325.8 147.8M315.7 115.6L309 109.5M312.2 112.5L317 106.6M320 115.3L331.2 123.1M329.6 100.4L333.6 95.1M326.7 115.2L334.9 107.8M343.6 157.7L337.9 151.7M280.6 123.3L271 119.6M279.2 115.9L270.1 108.5M327.9 169.3L326.9 174.2M299.1 142.4L297.3 149.2M299.8 92.1L303.9 100.4M360.6 131.4L364.2 128.6M327.1 95.4L334.3 96.2M329.2 150.7L341.5 151M335.3 119.3L344.1 130.1M355.7 132.2L345.2 124.3M341.6 96.6L335.8 92.8M340.3 165.6L347.4 173M314.4 161.7L309.6 159.2M327.5 165.4L331.9 161M283.2 118.9L271.3 111.6M312 194L314.4 187.1M305.4 169.8L293.4 165.9M286.3 122.7L276.2 115.4M314.5 101.2L317.6 107.4M311.3 186L313.3 178.6M307.2 155.9L308.1 151.3M284.5 108.2L294.4 108.3M332.1 135.3L331.5 131.3M301.5 112.5L297.7 115.6M272.8 149.8L261.4 153.1M343.6 150.2L342.2 153.9M318 84.8L305.6 86M280.7 120.9L274.9 114.2M320.2 93.5L308.5 95.1M325.6 149.1L319.5 149.7M334.4 106.6L323.9 115.3M308.5 180.1L313.9 191.5M323.6 142.5L318 131.4M339.7 164.6L344.7 161.3M328.1 160.2L332.4 160.8M325.3 96.8L323.2 93.4M326.3 90.6L327.9 81.6M287.6 172.2L291.6 171.3M348.1 157.7L358 153.8M313 130.3L306.5 130.5M323.5 125.2L333.5 121.8M318.5 169.1L322.8 179.4M341 112.1L351.2 119.3M281.6 163.7L282.4 157.6M303.9 189.9L306.8 196.7M301.2 179.6L305.4 178.1M293.7 99.8L294.8 106.1M335.1 125.6L331.7 127.7M332.9 167.5L330 166.1M302.6 141.5L307.1 139.2M294 173.2L292.7 166.5M323 169.3L328.7 168.2M280.9 156.2L289.9 164M275.3 145.9L286.9 143.6M305.8 167.1L304.5 175.8M292.8 125.4L287.4 122M334.6 180.5L343.6 178.4M313 83.7L311.6 76.7M323.9 164.7L323.9 161.7M354.5 114L357 101.5M337.1 160L340.3 154.7M309.5 130.7L303.9 142.6M316.7 123.1L322.2 126M318.5 167.6L316.4 179.3M345.7 144.6L343.3 152.4M305.7 164.1L300.7 155.2M345 141.7L356.6 137.8M319.3 90.7L311.9 88.6M313.4 101.5L305 110.1M310.8 163.1L306.3 174M321.2 169.7L312.7 173.9M311.7 130L306.7 130.6M310.2 112.6L300.3 122.1M357.3 123.8L364.2 126.7M295.8 115.5L291.2 116.5M324.9 155.2L325.5 152M271.5 145L274.8 150.1M291 171.9L292.7 181.2M335.6 139.9L335.7 145.9M310.7 103L314.6 98.6M342.8 148.6L347.3 139.5M325.2 161.8L328.1 160.7M302 116.9L300.4 104.9M341.3 143.5L333 134.1M349.9 141.9L348.7 138.6M335 137.6L328.8 125.2M342.5 101.5L334.9 105.3M352.8 110.9L365.9 107.1M305.8 173.5L303.9 180M319 117.9L307.1 122.7M319.5 171.3L325.1 161.6M304.1 169.9L302.9 172.8M304.4 139.1L294.1 137.6M294.2 170.2L282.2 166.6M325.6 93.2L322.7 91M291.6 140.7L281.8 144.4M290.3 138.8L299.4 144.1M344.2 154.5L345.9 151.6M325.6 110L320.3 111.1M301.9 141.7L313.8 136M315.8 146.3L324.6 144.6M295.4 106.3L302.1 106.9M352.3 163L354.4 174.7M290.4 134L292.2 131.1M346.1 102.4L336.5 96.4M338 136L341.8 129.7M284.1 149.2L289 160.5M293.6 123.6L302.1 129.8M337.8 163.2L330.6 158.1M288.9 143.8L297.4 146.9M305.9 173.7L298.1 166.3M324.3 103.8L312.2 106.1M354.7 112.5L364.4 117.3M291.1 114.3L287.3 117.1M349.3 135.5L357.7 127.4M320.7 132.4L317.8 145.2M298 96.2L301.2 99.1M295.6 115L288.7 116.8M335.9 168.2L333.3 178.5M345.5 133.6L342.6 137.2M293.6 159.2L300.6 150.2M284.8 120.5L295.6 115.8M349.7 181.1L361.9 181.1M343.6 104.6L344.5 110.1M334.8 167.6L344.5 160.4M292.1 139.9L287.5 141.4M300.3 187L294.9 188M331.1 183.6L325.5 194.9M278.1 126.3L285.1 134.6M319.4 185.3L313.2 180.1M332.3 185L335.2 175.8M297.4 110L306.5 108.2M322.9 103L318.7 114.7M284.7 114.8L281.9 108.8M297.1 111.5L287.7 113.8M336.4 92L337.6 95.4M311.4 180.4L312 191.5M289.2 105.9L276.3 100.6M346.3 132.3L354.8 141.5M334.2 100.9L346.6 100.5M332.1 153L338.1 157.6M331.8 144.9L328.9 143.4M350.1 139.9L347.8 136.1M334.6 167.7L327.4 170.4M310.8 100.4L299.6 101.9M323.3 119.3L325.5 128.2M306.6 144.3L303.5 144.4M273.6 117.5L265.6 119.8M291.1 112.8L295.3 112.4M300.9 134L290.4 128.6M301.4 164.8L304.5 162.8M326 133.3L338.8 133.1M271.3 135.6L268.9 130.1M356.5 136L354.8 122.8M322.1 129.5L318.9 130.4M329 120.5L326 108M327.2 148.2L325.1 145.2M307 94.3L318 85.6M304.2 169.9L315.5 165.5M283 167.5L278.8 169.1M322.9 155.1L309.5 156.2M304.4 91.2L311 97.5M320.6 95.3L321.9 101M318 133.2L310.9 136.5M333.5 95.6L325.9 103.1M344.1 162.3L348.4 165.3M329.4 114.5L336.6 117.8M289 172.7L280 182.1M349.5 149.1L352.1 139.7M310.9 140.7L312.7 146.4M329 125.9L320.8 128.2M303.9 180.6L298.1 183M288.2 119L292 106.1M313.2 138.2L304.7 144.4M286.3 170.8L288.5 167.8M313.3 146.6L313.4 140.2M350.5 169.2L348.5 172.6M321.6 125.8L322.9 128.9M341.9 103.8L340.4 115.3M312.7 149.4L311.7 160.3M301.8 136.9L295.4 127.3M319.7 131.2L322.1 120.1M309.5 113L311.4 105M300.7 174.8L302.3 186.4M321.2 138.3L319.6 126.1M318.8 99.1L323.7 103.4M306.7 166.1L307 171.2M302.8 181.1L298.6 184.5M335.6 116L341.4 106.1M352.7 163.6L355.2 171.4M328.3 141.1L331.6 128.3M304.3 123.5L304.1 129.2M330.1 176.3L326.1 177.9M300.8 175L295.4 186.5M308.7 82.8L316.6 85M298.9 96.2L299.2 82.3M302.5 140.8L291.5 145.7M334.5 174.3L330.8 176M289.8 136.9L291.9 141.7M336.2 111.9L339.5 104.5M349.4 118.6L348.2 107.9M325.5 169.3L317.5 169.9M342.3 171.9L335.6 174.2M361.2 127.4L362.9 117.2M337.4 135.4L331.3 138.6M290 134L279.5 126.3M306.1 160.1L294.8 162.7M320.5 154.4L324.6 153.9M281.1 124.6L287.6 125.7M315.5 106.2L319.4 101.8M350.1 145.4L351.6 158M330.2 88L326.8 89.5M293.8 162.2L306.9 161.4M282.1 139.3L285.6 142.4M294 145.2L293 148.1M312 120.6L318.3 132.1M356.2 159.4L346.7 153.7M288.1 159.6L297.9 154.8M330.6 168.6L336.5 170.5M299.6 151.7L305.3 149.2M273.5 158.3L270.5 169.3M271.2 151L270.7 162.5M328.5 104.1L333.4 94.1M317.2 164.3L328.2 169.7M345.6 180.4L338.6 175.3M306.4 142.9L308.3 149.8M327.7 185.1L337.7 184.9M297 148.2L300.5 147.4M349.6 130.9L352 134.9M276.7 157.3L279.8 159.2M330.7 167.3L331.5 174.7M320 167.1L322.1 158.3M327.6 124.3L322.3 122.9M322.1 105.5L334.8 108.6M347.9 148.8L345.9 139.6M292 139.7L289.5 142.2M297.7 100L296.9 105.2M318 115.2L320.7 119.9M341.6 95.6L343.5 91.2M336.3 164.9L340.3 166.2M341.8 112L341.8 104.2M291.8 150.4L293.1 153.1M347.7 123L360.2 125.4M315 91.2L320.5 101.2M312.6 171.7L320.3 182.5M349.3 129.2L343.8 124M322.8 190.9L320.1 188.2M279.2 143.9L287.3 135.3M332.5 155.6L338.4 156.6M334.1 180.7L331.7 194.4M318.1 182.1L307.4 173.9M304.1 114.3L310 115.4M312.5 172.7L311.6 186.3M314.2 128.3L325.6 124.4M317.2 86L318.8 91.2M285.9 100.4L278.6 105.7M297 178.4L305.9 180.4M336.1 119L342.8 108.9M343.7 114.7L347 118.2M293 137.4L291.7 144.5M274.9 157L279.7 154.4M356.4 151.7L349.3 153.1M352.9 136.8L346 142.3M301.7 189.5L300 179.2M360.9 141.4L362.3 136.8M348.6 144.1L345.6 140.5M328.3 130.3L321.4 120.5M288.1 153.7L284.9 144.9M299.4 141.6L296.7 132.8M339.7 132.3L337 129.9M315.5 165.5L316 173.1M311.7 138.1L315 127.9M310.3 165.6L309 168.4M319.8 91.3L323 98.6M285.4 163.6L275.2 166.7M318.1 117.9L314.8 119M339.1 165.2L343.4 167.5M338.8 169.7L329.6 171.8M352.6 151.6L355.5 154.8M327.9 148.9L330.9 156.6M315 172.9L313.4 164.7M303.1 160.3L316.2 157.5M325.7 156.2L323.8 152.9M328.3 146.4L325 143.6M313.3 185L302.6 186.9M322.8 148L318.2 149.3M292.2 169.4L303 173.6M328 115.5L319.1 115.7M292.7 164.5L294.3 167.1M317.4 136L312.5 143.7M309.6 93.9L314 106.5M331.8 182.1L326.8 182.2M307.4 99.5L301.8 93.7M343.5 178.5L337.2 182M287.9 142L275.3 139.5M278.6 124.1L273.7 120.7M342.4 118.1L345.6 109.6M343.9 174.6L339.7 173M293.5 115.6L293.4 118.6M283.4 108.2L289.5 116.3M288.5 156.7L284.4 156.9M283.6 146.1L284.7 152.3M306.1 115.8L315.6 120.8M349.2 165.6L359.9 171.6M340 134.1L329.6 138.6M273.2 148.6L261.1 144.8M317.5 121.5L325.4 118.7M295.1 101.7L290.4 107.2M318.6 131.9L326.7 123.7M334.8 176.5L336.3 168.4M344.1 128.4L340.4 140M313.7 106.9L318.2 105.2M303.8 118.2L293.2 123.4M281.9 164.2L284.3 162.3M336 121.4L332.9 133.6M342.5 159.7L340.8 157.2M332.9 149.3L334.5 146M319.6 97.5L324.6 102M343.1 143.2L347.3 134.9M332.7 138.3L330.8 152M354.1 159.4L340.6 162.5M286.9 174.4L284.2 177.7M308 120.1L297.9 128.6M326.1 137.3L324.4 125.4M353.6 144.3L357.9 136.2M322.3 170.4L313.9 172M347.5 94L348.6 106.5M330.6 104.2L336.4 116.8M301.4 103.9L308.1 108.3M287.5 155.6L291.8 147.5M346.2 170.3L341.4 177.2M331.6 125.8L320.6 124.2M318.9 85L329.7 84.1M292.3 136.8L292.1 132.5M325.3 144.3L333.3 153.1M282.9 162.4L283.5 157.4M321.1 183L314.8 190.8M348.8 163.2L337.2 156.6M321.3 91.4L335 94M334.9 135.8L342.4 133.5M310.6 163.7L299.9 165.9M318.9 131.5L322.7 131.5M298.8 134.4L294.4 130.5M303.7 165.7L297.8 154.3M309.6 186.2L305 178.7M316.6 100.9L310.1 98.3M334.4 158.8L331.4 155.1M361.5 149.9L365.8 142.3M334.7 103.5L340.3 100.9M277 162.7L281.7 159.8M341.5 154.3L354.5 151.2M303 175.4L299.2 175.2" stroke="#333" stroke-width="0.6" fill="none" opacity="0.55"/>
<path d="M340.4 130.2h0M324.6 123.1h0M344.1 164.6h0M332.1 116.4h0M284.2 159.3h0M301.6 99.2h0M346.9 137.9h0M316.7 132.6h0M319.4 89.4h0M320.1 158.1h0M296.5 166.1h0M319.4 89.6h0M357.7 150.3h0M280.3 134.5h0M289 178.7h0M350.4 107.6h0M325.9 147h0M294.2 188.5h0M350.7 123.2h0M314.4 99.2h0M299.7 87.6h0M326.4 99.7h0M324.1 184.8h0M330.7 115.9h0M310.5 125.7h0M335.4 143.5h0M314.2 115h0M309.6 165.3h0M330.8 117.9h0M298 147.4h0M323.9 180.1h0M282.1 132.8h0M326.3 102.7h0M322.9 146.9h0M330.3 164.4h0M312.2 192.5h0M305.6 156.8h0M337.1 112.7h0M345.5 180.8h0M278.9 161.5h0M339.5 89h0M298.1 149.9h0M294 167.1h0M297.1 174.8h0M288.7 102.4h0M308.1 124.1h0M339.9 184.3h0M317.9 160.3h0M344.1 114.3h0M320 136.7h0M286.9 144.9h0M317.7 157.4h0M300.1 111.5h0M283.5 170h0M308.9 112h0M295.3 120.5h0M336 104.1h0M320.3 132.9h0M270.2 128.8h0M292.3 94.2h0M330.2 111.2h0M286 151.6h0M298.1 128.1h0M274.1 132.2h0M351.5 108.1h0M325.7 102.1h0M346.4 160.9h0M350.8 159.9h0M299.1 142h0M339.2 158.8h0M325.9 135h0M341.6 96.5h0M293.5 148.5h0M331.6 85.7h0M293.1 148.3h0M293.8 99h0M332.7 114.4h0M320.2 130.7h0M282.8 156.2h0M335.4 88.7h0M318.6 168.2h0M304.5 120.6h0M330.6 156.3h0M330.3 129.5h0M334.6 149.9h0M358.6 123.3h0M311.3 102.8h0M314.2 147.5h0M305.9 91.7h0M339.3 160.5h0M319.9 145.1h0M319.4 104h0M297.2 136.4h0M348.4 173.8h0M287.7 95.4h0M332.8 152.4h0M336.6 109.6h0M322.2 134.9h0M327.2 93.3h0M290 119.6h0M281.2 132h0M311.8 177.6h0M328.1 143.8h0M304.3 91h0M305.1 180.8h0M282.7 139h0M320.2 158.5h0M318.2 161.6h0M276.9 166.4h0M295.1 129.5h0M314.5 131.3h0M291.8 110.8h0M348.4 139.8h0M293.9 134.4h0M334.7 167.8h0M310.7 182.5h0M320.5 108.2h0M347 125.1h0M293.6 104.6h0M288.8 121.6h0M297.4 91.7h0M354.9 164.6h0M298.4 89.7h0M317.8 120h0M326.7 97.4h0M310.1 168.5h0M293.7 94.7h0M278 114.1h0M310.4 103.4h0M300 167.1h0M337.1 92.4h0M311.9 166.5h0M294.6 164.7h0M305 108.4h0M296.1 135.8h0M315.6 192.3h0M354.2 133.9h0M312.6 149.5h0M322.4 142.7h0M334.5 144.3h0M276.8 117.4h0M351.8 132h0M315.9 111.3h0M276 128.2h0M362.4 130.3h0M335.1 176h0M289 176.8h0M342.5 118h0M295.5 162.9h0M351.5 134.3h0M291.8 108.5h0M320 111.3h0M316.2 101.4h0M299.2 106.5h0M360.8 138.6h0M317.7 135.3h0M317.5 170.6h0M345 106.6h0M330.9 113.4h0M323.5 148h0M298.4 123.7h0M348.2 102.5h0M298 117.1h0M282.6 146.9h0M280.4 118.3h0M337.9 93.1h0M315 190.7h0M313.8 178.4h0M319.7 110.4h0M278.2 136.2h0M310 121.7h0M353.8 148.7h0M274 158h0M350.3 138.8h0M279.7 164.7h0M291.5 124.4h0M280.4 150.1h0M290.6 136.6h0M309.7 127.9h0M334.6 128.4h0M317.6 140.9h0M358 148.5h0M330.8 113.8h0M330.9 148.5h0M333.6 92.6h0M317.5 165.9h0M303.8 156.6h0M324.8 155.2h0M312.8 149.4h0M275.5 117h0M344.7 136.3h0M346.5 149h0M309.8 128.1h0M362.3 135.8h0M283.5 107.7h0M321.8 138.9h0M291 102.9h0M318.8 156.8h0M291.4 102.2h0M291 114.7h0M294 124.5h0M329.8 154.1h0M310.7 177.6h0M309.7 120.6h0M303.2 97.6h0M342.7 158h0M339.1 143h0M315.6 188.2h0M346.8 116.9h0M335 133h0M339.5 98.1h0M357.3 115.2h0M310.5 154.8h0M321.8 101.4h0M345 158.5h0M305 169.5h0M272.5 126.9h0M275.1 140.4h0M326.9 106.9h0M335 103.8h0M330.2 133.9h0M329.4 136.2h0M296.8 164.7h0M291.6 95.7h0M322.6 86.8h0M298.8 149.4h0M311.5 171.5h0M308 183.8h0M278 158h0M356.5 110.7h0M333.3 102.7h0M311.1 173.1h0M345.2 109.4h0M345 154.8h0M279.2 111.7h0M304.3 170.1h0M316.8 119.3h0M299.2 158.3h0M318.3 123.8h0M270.1 139.7h0M335.7 187.9h0M277.1 114.4h0M322.9 147.4h0M329.8 111.9h0M280.4 131.9h0M353.2 116.2h0M332.2 183.5h0M290.7 157.5h0M350.8 143.9h0M293.1 173.5h0M312.4 158.9h0M333.7 110.8h0M288.9 105.1h0M287.9 182.4h0M347.7 166.6h0M285.8 133.3h0M334.3 97.3h0M315.1 157.7h0M288.2 126.3h0M276.2 165.7h0M292.2 141.7h0M330.9 94.9h0M323.7 88.4h0M328.6 141.1h0M307.8 148.9h0M323.8 108.6h0M291.8 166h0M333 112.1h0M319.7 180.2h0M340.6 146.8h0M293.7 92h0M337.3 100.9h0M318.1 153.7h0M302.4 139h0M355.1 164.3h0M345.2 162h0M316 139.3h0M349.9 98.1h0M293.1 120.2h0M313.4 125.4h0M291.7 155.2h0M346.6 170.5h0M338.3 98.2h0M355.8 117.4h0M309 113.8h0M293.7 129.3h0M294.3 178.8h0M338.3 123.2h0M299.7 86.7h0M272.9 143.9h0M335.5 152.1h0M320.1 156.2h0M308.4 176.5h0M323.2 153.7h0M335.2 106.6h0M282.6 120h0M331 135.9h0M344.5 152.4h0M310.5 124.9h0M281.9 150h0M343.6 129.6h0M299.7 190.5h0M312.1 165.1h0M337.6 173.1h0M278.2 127.6h0M281.4 146.2h0M321.4 180.6h0M275.3 123.2h0M334.8 121.9h0M362.2 121.2h0M327 92.1h0M319 86.2h0M306.2 169.8h0M294.1 168.4h0M327.2 168.5h0M298.8 177.1h0M284.6 123.4h0M348.6 104.8h0M325.1 163.4h0M296.9 105.4h0M311.6 133h0M334.4 169.4h0M358.9 140.4h0M331.4 101.8h0M317 151.7h0M349 153.6h0M329.3 85.4h0M335.4 128.9h0M308.8 175.1h0M334.2 158.6h0M356.7 132.4h0M315.9 119.6h0M271.4 150.5h0M293.2 97h0M337.2 181.1h0M344.1 136.1h0M299.9 165.4h0M299.1 173.3h0M282.8 123.4h0M327.9 93.8h0M283.9 99.7h0M357.7 118.2h0M327.5 159h0M297.9 133.5h0M303.6 184.3h0M289 136.4h0M303.3 174h0M300.3 126h0M275.8 161h0M336.9 105.8h0M324.6 164.7h0M321.4 164.3h0M294.6 162.9h0M294.6 97.9h0M338.1 182.7h0M346.1 157.3h0M300.5 133.6h0M356 142.8h0M337.2 111.9h0M336.4 115.8h0M285.7 162.4h0M358.9 145.5h0M326.5 108.4h0M326.1 176.1h0M340.5 179.7h0M283.2 154.7h0M325.7 176h0M310.2 137.8h0M288.5 157.1h0M354.1 124.6h0M325.6 137.2h0M284.3 160.4h0M339.1 164.1h0M329.9 192.2h0M321.6 158.1h0M317.9 184h0M349.5 134h0M287.3 108.9h0M282.7 162.2h0M305.1 130.6h0M342.9 161.5h0M326.2 148h0M324.2 114.8h0M333 177.4h0M320.3 149.4h0M349.7 119.1h0M324.3 114.9h0M290.3 107.5h0M346.7 144.2h0M285.8 169.9h0M313.9 88h0M335 106.1h0M310.8 179.3h0M334 184.5h0M314.4 176h0M328.8 179.8h0M355.6 118.7h0M273.9 128.1h0M356.1 144.3h0M309.2 111.9h0M315.9 168h0M309.7 155.8h0M313.8 83.8h0M296.3 157.4h0M323.2 170.5h0M327.7 101h0M318.8 97.6h0M289 185.1h0M291.9 101.9h0M328.1 89.5h0M314.7 114.6h0M342.2 124.2h0M347.8 137.8h0M321.5 111h0M345.4 164.7h0M305 137.5h0M323.1 164.8h0M292.2 147.1h0M292.2 173.2h0M279.7 112h0M284.1 146.7h0M336.6 153.2h0M332.5 153.2h0M297.1 94.5h0M358.7 149.1h0M318.4 124.4h0M344.7 117.6h0M323.3 169h0M297.3 174.6h0M329.7 98.1h0M325.9 185h0M353.9 137.1h0M358.7 143.6h0M304.2 137.8h0M311.3 141.2h0M351.4 131.2h0M285.7 116.8h0M286 168.3h0M337.3 116.9h0M313.8 99.7h0M273.6 148.5h0M316.8 117.2h0M332.3 94.2h0M276.6 120.9h0M346.1 149.6h0M292.9 154.5h0M343.6 169.4h0M272.8 137.5h0M345.7 99.7h0M351.6 145.8h0M305.3 135h0M304 122.7h0M307.1 170.7h0M338 118.7h0M333.6 140h0M317.2 121h0M288.5 157.2h0M303.9 170.9h0M305.9 102.5h0M354.4 145.7h0M353.7 108.3h0M331.9 158.8h0M322.6 124.9h0M283.3 125.5h0M332.4 162.5h0M314.9 134.1h0M328.7 119.6h0M340.4 144.7h0M331.7 153.3h0M329.4 117.3h0M350.5 167.9h0M286.1 110.8h0M339.6 125.6h0M275.3 136.1h0M328.7 193.2h0M283.5 171.4h0M309.1 163.3h0M316 147.5h0M334.8 186.3h0M280.6 103.7h0M314 84.9h0M342.3 148.4h0M357.5 169.9h0M282.1 139h0M333.4 114.5h0M300.2 161.1h0M317.2 125.9h0M311.4 173.1h0M315.8 115.5h0M345 100.5h0M324.6 101.2h0M292.2 150.9h0M289.6 147.1h0M351.5 135h0M289.6 106h0M351.6 114.6h0M323.7 105.6h0M305.3 121.2h0M334.8 91.8h0M301.4 178.4h0M318.3 95.5h0M272.1 144.7h0M325.2 106.7h0M278.9 131.7h0M328.7 138.2h0M336.7 142h0M287.7 158.8h0M290.4 90.6h0M314.7 104.3h0M304 119.9h0M292.4 131.2h0M333.6 135.1h0M324.5 186.1h0M331.5 99.8h0M301.7 118.3h0M306.1 163.3h0M325.9 177.2h0M317.7 106.2h0M331.7 107.5h0M300.5 138.8h0M293.8 144.5h0M296.1 90.7h0M280.9 151.3h0M322.2 88.3h0M323.4 167.1h0M322.7 106.3h0M274.9 121.3h0M330.9 86.4h0M343.9 140.2h0M308.1 154h0M355.3 163.1h0M323.9 183.7h0M285.8 135.4h0M294.6 113.6h0M348.3 101.1h0M341.1 157.4h0M361.6 126.2h0M347 161.1h0M352.5 144.2h0M310.3 115.9h0M341.5 104.5h0M272.4 150.2h0M297.2 128.9h0M341.1 96.6h0M325.9 96.8h0M339.5 103h0M324.3 166.3h0M347.7 149.1h0M333.1 114.9h0M357.2 132.8h0M312.7 95.4h0M312.2 127.9h0M304.7 112.7h0M342.2 126.6h0M354.3 156.6h0M314 138.4h0M333.2 98.1h0M339.3 102.6h0M346.9 167.7h0M342.1 122.9h0M339.7 125h0M331.6 91.6h0M334 127.9h0M312.7 148.4h0M275.6 138.4h0M325.3 175.1h0M323.5 106.8h0M349.2 138.7h0M296.2 150.2h0M332.6 159.1h0M346.5 121.8h0M303.5 133.5h0M305.4 132.3h0M313.1 157.4h0M330.6 126.2h0M316.1 155h0M347.8 174h0M325.6 179.4h0M339.1 167.5h0M322.1 185.2h0M316.1 183.6h0M286.6 97.5h0M318 109.7h0M304.3 178.9h0M337.9 144.7h0M310.6 168.2h0M334.1 140.2h0M305.3 95.5h0M328.9 107.1h0M334.7 167.9h0M325.2 140.3h0M308.6 137.6h0M288.5 102.6h0M318.3 162.8h0M288.2 132.7h0M307.5 89.7h0M310.1 155.8h0M346.2 178.6h0M311.3 181.2h0M274.2 157.7h0M316.1 122.6h0M306.9 156.2h0M302.5 99.2h0M310.6 139.5h0M336.1 188.6h0M335.3 135.7h0M295.5 143.7h0M310.8 120.3h0M345.4 177.9h0M299.7 154.5h0M282.3 104.6h0M330.2 137.1h0M338.8 123.4h0M316.2 117.6h0M286.9 93.2h0M333.2 129.8h0M320.3 177.5h0M274.4 133.5h0M291.2 111.8h0M307 187.9h0M318 145h0M330.4 142.2h0M360.3 130.1h0M358.7 125.1h0M322.2 108.4h0M293 104.3h0M310.4 144.2h0M359.5 126.2h0M310.1 187.8h0M290.7 157h0M320.2 165.3h0M283.7 115.5h0M355.7 163.8h0M335.5 160.9h0M294.5 154.8h0M296.6 132.7h0M287.1 118.2h0M317.1 99.1h0M308.3 105.8h0M336.8 113.4h0M326.5 122.2h0M325.3 132.1h0M294.2 137.6h0M297.6 100.3h0M301 94h0M308.7 106.5h0M317.5 134h0M311.2 137.3h0M354.9 171.7h0M319.8 123.9h0M295.3 101.9h0M314.7 135.9h0M336.3 155.5h0M354.7 138.8h0M272.5 141.5h0M300 112h0M317.9 168.8h0M361.8 134.1h0M294.7 116.7h0M295.4 156.1h0M333.3 126.3h0M303 146.4h0M360.6 133.8h0M300.9 180.5h0M302.5 135.6h0M324.5 128.8h0M329.1 148.2h0M320.5 111.3h0M349.3 145.4h0M309.8 126.3h0M290.9 178.7h0M298.7 108h0M316.6 92.2h0M349.8 124.7h0M330.1 118.9h0M341.5 154.4h0M275.2 120h0M276.5 127.8h0M314.9 89.6h0M315.3 106.1h0M331.2 135.4h0M301.7 175.9h0M297.2 184.8h0M343 172.7h0M356.2 135.4h0M345.1 151.1h0M352.4 121.6h0M305.4 93.3h0M331.1 174.2h0M313.7 168.8h0M328 86h0M344.4 151.6h0M304.6 138.5h0M290.7 166.3h0M294.5 178.8h0M355.8 130.1h0M349.8 104.6h0M340.1 88.3h0M319.2 165.4h0M325.5 156.3h0M352.2 117.8h0M313.5 118.8h0M311.7 152.1h0M341.7 121.4h0M351 121.6h0M319.7 179.8h0M312.6 114.5h0M328.1 89.4h0M360.9 142.1h0M346.6 171.3h0M278.9 150.4h0M336.7 150.1h0M343.8 146.9h0M313.6 182.7h0M333.9 123h0M302 89h0M336.8 168.3h0M300.7 164.3h0M316.1 117.1h0M294.5 131.7h0M336.7 167.9h0M302.9 145.1h0M302.1 130.6h0M295.1 98.3h0M291.9 178.2h0M278.1 154.4h0M339.2 130h0M308.7 189.3h0M355.6 126.5h0M321.8 90.7h0M308 117.6h0M289 140.5h0M336.6 103.6h0M354.7 161.4h0M287.2 168.6h0M304.1 140.7h0M296.6 185.2h0M319 86.5h0M338.6 119.2h0M350.2 167.5h0M338.2 188.9h0M282.1 150.1h0M305 177h0M354.9 130.5h0M328.5 88.1h0M292.2 92.7h0M344.8 92.1h0M300 147.4h0M345.3 133.9h0M364.3 128h0M313.2 134.2h0M291.7 108.3h0M339 92.2h0M327.5 154.4h0M320.7 176.7h0M280.8 158.3h0M287.5 172.2h0M302.3 92.9h0M288.3 147.2h0M291.9 99.1h0M314.4 135.3h0M324.6 150.6h0M343.9 175h0M337.9 96h0M347.4 172.5h0M325.2 160h0M353.2 140.1h0M303 164.6h0M292.1 118.1h0M289.8 175.7h0M303.4 96.8h0M333.7 154.5h0M280.1 172.7h0M346 142.7h0M311.5 122.9h0M326.7 126.8h0M310.9 167.6h0M323 162h0M344.4 166.1h0M308.2 105h0M354.9 102h0M294 165.7h0M351.4 102.4h0M328.3 134.7h0M295.3 139.5h0M307.4 127.7h0M344.5 177.9h0M307.6 187.4h0M310.4 102.2h0M333.1 108.3h0M315.9 110h0M346.8 97.9h0M356.2 157h0M279.2 128h0M305.6 126.1h0M341 160.5h0M319 86.8h0M325.7 178.7h0M303.6 138.3h0M309.6 187.4h0M343.3 180.3h0M308.8 89.9h0M289 152.8h0M306.2 158.5h0M273.5 138.7h0M309.3 179.3h0M295.5 106.2h0M318.4 187.6h0M294.8 117.6h0M326 186.6h0M326 177.5h0M298.4 171.2h0M291.2 181.6h0M328.5 147.1h0M342.5 104.7h0M284.9 107.2h0M311.1 125.4h0M313.5 136.5h0M285.5 139.7h0M299.5 116h0M336.8 125.3h0M277.2 154.8h0M340.3 125.5h0M352.7 146.9h0M311 145.6h0M329.3 119.7h0M308.9 151.7h0M270.7 141.4h0M336.6 99.1h0M280.3 118.7h0M353.3 154.7h0M355.3 130.8h0M292.1 120.8h0M348.6 148.1h0M281.2 146h0M319.6 91.9h0M310.2 132.3h0M327.2 141.1h0M310.1 107.3h0M276.9 150.5h0M312.5 91.7h0M300.6 156.9h0M341.5 144.1h0M332.5 169.5h0M310.4 140.5h0M305 130.2h0M307 131.7h0M289.7 150.7h0M328 112.8h0M305.3 95.9h0M321.9 104h0M287.2 124.8h0M357.3 137.9h0M355.5 145.2h0M359.3 147.4h0M282.3 131.9h0M315.4 136.3h0M354.4 138.1h0M353.6 117.9h0M348.8 115.5h0M348.1 133.7h0M340.5 180.2h0M296.8 182.8h0M316.7 89.5h0M347.3 115.5h0M307.1 187.7h0M333.8 110.3h0M280.3 144.4h0M294.5 150.9h0M350.2 126.1h0M302.5 123h0M289.2 184.1h0M296.6 161.9h0M297.6 182.9h0M349.8 114.7h0M325.6 108.1h0M291 148.5h0M292.3 95.7h0M299 116.1h0M347.2 151.8h0M327.1 177.4h0M312.1 156.7h0M284.2 153.5h0M290.9 148h0M313.4 155.2h0M301.5 92.8h0M354.8 120.7h0M346.4 129.5h0M322.8 147.9h0M278.5 151.6h0M314.8 158.4h0M304 153.4h0M287.4 141.1h0M281.4 127.6h0M276.8 139.1h0M313.6 92.7h0M341 148.3h0M279.5 111.9h0M307.8 148.5h0M344.9 139.1h0" stroke="#22887f" stroke-width="1.6" stroke-linecap="round" fill="none" opacity="0.9"/>
<path d="M299.7 180.5h0M295.9 179.7h0M312.3 94.5h0M326.9 103.7h0M350.2 110.1h0M284.8 160.4h0M343.5 112.9h0M334.4 143.7h0M331.4 95.8h0M284 169.2h0M331.3 177h0M344.3 157.2h0M333.3 138.6h0M311.4 161.1h0M300.2 171.4h0M327.7 138h0M324.6 97.4h0M313.2 106.5h0M335.2 129h0M333.5 138.4h0M344.4 176h0M278.9 139h0M335.5 149.3h0M325.5 79.6h0M356 154h0M320.4 160.3h0M325.2 166.7h0M289 135.8h0M293.4 130.2h0M296.4 180.2h0M341.4 177.8h0M335.5 120.5h0M298.1 166.7h0M297.7 116.5h0M310.4 107.7h0M315.7 89h0M282 150.2h0M333.9 174.4h0M316.9 97.9h0M351 156.5h0M337.4 164.9h0M343.5 174.4h0M318.8 98.5h0M317.8 101.5h0M341.6 89.5h0M306.4 83.8h0M350.2 136.8h0M329.3 89.7h0M289.1 146.5h0M333.5 95.3h0M331.8 157.9h0M334.9 131.1h0M304.8 164.6h0M286.6 150.9h0M325.7 163.9h0M287.9 108.7h0M296.8 188.4h0M329.9 132.1h0M311.6 182.7h0M297 131.4h0M353.3 112.9h0M300.2 93.7h0M358.6 163h0M359.3 119.9h0M332.4 123.1h0M351.3 157.3h0M305.4 151.8h0M324.8 131.6h0M317 145.2h0M331.6 100.8h0M309 157.6h0M282.6 139.1h0M316.6 140h0M313.4 83.2h0M306.8 177.3h0M314.5 134h0M313 126.4h0M337.7 118.8h0M337.8 97.1h0M348.6 164.8h0M350.1 134.1h0M351.6 135.5h0M274.8 113h0M292.8 115.7h0M340.3 105.1h0M319.5 131.2h0M293.8 161.2h0M335.4 135.7h0M329.1 104h0M306.5 190.1h0M339.1 110h0M276.6 114.1h0M329.5 130.2h0M316.2 110.7h0M279.5 129.1h0M292.7 171.7h0M321.2 124.1h0M288.8 103.2h0M306.4 88.3h0M289.1 125h0M325.4 162.6h0M321.3 128.3h0M286 175.5h0M291.1 182.1h0M284.7 144h0M277 133.1h0M286.5 160.3h0M320.9 175h0M334.9 148.5h0M324 145.3h0M287.9 139.7h0M320.4 128.2h0M345.1 104.3h0M350 128h0M286.5 97.9h0M298.7 165.3h0M307.5 187.9h0M341.5 115.7h0M307.4 157h0M339.6 93h0M292 121.5h0M275.9 154.3h0M304.6 170.8h0M280.1 134.3h0M330.8 184.2h0M337.8 175.7h0M325.9 166h0M275.1 126.6h0M326 186.6h0M303.1 116.6h0M334.8 153h0M274.5 117.1h0M341.1 137h0M309.4 188.6h0M323.2 100.2h0M306.6 136.9h0M298 94.7h0M322.2 139h0M278.2 169.6h0M332.4 125.6h0M310.6 154.8h0M348.5 160.7h0M338.4 145.4h0M338.2 106.2h0M325.4 108h0M283.2 170.5h0M336.4 90.7h0M322.4 176h0M309.8 136.1h0M311.7 169h0M319 107.6h0M299.3 182h0M273.3 132.4h0M281.4 164.6h0M285.4 118.7h0M309.6 100h0M285.7 176.6h0M315.7 168.4h0M315 146.1h0M321.3 168.8h0M285.5 135.4h0M362.5 130.2h0M355.7 160.7h0M332 145.3h0M331.7 166.3h0M282.7 158h0M277.5 167.5h0M310.9 103.3h0M351.8 159.1h0M285.9 128.3h0M345.1 96h0M344.8 146.5h0M292.9 130.1h0M320.5 131.2h0M314 156h0M296.4 126.4h0M296.9 135.1h0M317.3 149.1h0M353.6 164.1h0M337.7 89h0M285.1 177h0M320.5 131.1h0M321.6 177.8h0M319.3 80.4h0M331.3 116h0M327.1 144h0M299.7 175.2h0M342.8 115.1h0M351.1 123.2h0M284.4 103.2h0M322.7 191.8h0M332 109.7h0M356.4 159.9h0M316.2 155.4h0M303 105.1h0M339.9 167.3h0M325.3 100.8h0M298.4 169.8h0M348.7 127.9h0M317.6 93.2h0M299.5 124.6h0M348.6 165.2h0M345.8 171.8h0M353.3 155.3h0M324.6 116.5h0M334 126.2h0M272.4 138.1h0M306.7 143h0M285.8 136.5h0M297.8 166.3h0M352.7 139.6h0M289.7 141h0M319.3 105.8h0M292 184h0M358.1 149.2h0M352.2 136.4h0M311.2 128.5h0M288.5 174.6h0M281.1 149.4h0M311.8 115.2h0M303.7 167.2h0M319 126.1h0M293.6 183.1h0M345.2 158.2h0M312.7 122h0M287.3 148.9h0M338.7 104.5h0M321.4 192.8h0M315.2 170.5h0M349.8 103.2h0M314.1 137.1h0M308.9 108.4h0M326.5 166.3h0M342.1 110.8h0M297.1 123.7h0M310.2 190.7h0M306.8 143.7h0M317.1 146.2h0M325.4 156.7h0M352.2 113.1h0M301 105h0M310.3 122.4h0M315.2 105.2h0M348.6 105.9h0M334.2 88.4h0M289.9 140.2h0M285.3 160.5h0M294.3 173.5h0M333.9 162.1h0M286.5 162.7h0M303 166.3h0M328.6 179.7h0M312.5 187.7h0M330.4 176.3h0M317.6 191.8h0M328.2 180.4h0M317.6 181.6h0M290.3 180.9h0M284.6 129h0M304.4 189.5h0M292.4 144.4h0M300.3 125.7h0M287.5 144.9h0M282.5 176.7h0M343.9 147.7h0M354.6 157.4h0M316.3 134.3h0M291.3 140.4h0M358 130.8h0M280.6 149h0M358.9 131.3h0M294.4 106.9h0M288.2 176.3h0M319.9 87.7h0M335.5 110.8h0M326.8 145.2h0M286 159h0M281.2 143.2h0M325.6 110.4h0M346.5 146.7h0M304.4 105.7h0M338.9 112.7h0M293.1 128.8h0M320.5 113.7h0M313.9 119.4h0M313.8 109.2h0M337.2 186.6h0M336.2 181.1h0M325.8 105h0M290.4 134.5h0M283.5 100.8h0M311 82.7h0M340.2 110.6h0M314 114h0M291.7 103.3h0M338.9 136.9h0M352.2 107.1h0M306.7 92.8h0M340.2 141h0M296.3 123.7h0M345.8 131.4h0M316.8 148.5h0M288.3 154.1h0M313.4 123h0M284 166.2h0M275.3 138.5h0M320.6 105.9h0M353.6 135.8h0M347.7 119.1h0M350.6 135.5h0M323.3 117.5h0M305.5 87.9h0M337.9 179.8h0M297 139h0M283.1 126.3h0M292.5 109.8h0M326.1 141h0M321.7 181.1h0M280.1 165.4h0M313.9 94.1h0M313.8 122.6h0M309.7 184.1h0M283.6 142.5h0M308.6 177.7h0M310 132.6h0M315.6 140.5h0M326.8 132.6h0M358.9 141h0M292.2 103.9h0M337.6 91.9h0M291.4 139.9h0M339.4 154.9h0M328.1 135.2h0M318 155.9h0M273 120.3h0M310.5 158.8h0M301.2 99.8h0M312.4 141.9h0M328.9 174.8h0M328.6 168.7h0M293.3 141.4h0M318 182.2h0M327.3 138.2h0M332.7 167.9h0M321.9 155.4h0M342.7 169.3h0M309.7 161.3h0M284.9 115.7h0M313.7 183.9h0M298 158.6h0M297.8 138.8h0M348.5 151.9h0M317.5 90.6h0M271.7 133h0M325.8 184.7h0M328.3 96.4h0M357.1 128h0M288 110.8h0M332.3 90h0M330 155.9h0M347.3 128h0M308.5 126.9h0M310.1 184.8h0M336.7 112.7h0M362.3 144.9h0M302.8 106.2h0M347.3 104.2h0M330 95.3h0M294.4 169.9h0M307.3 110.1h0M335 106.1h0M285.6 176.1h0M350.9 140.1h0M293.4 179.5h0M291.5 112.6h0M336.3 142.5h0M294.3 124.9h0M316.7 154.3h0M342.6 135.8h0M289.9 173h0M359 118.6h0M295 179.8h0M295.9 111.2h0M329.5 137.4h0M305.6 169.8h0M327.3 121.5h0M292.7 171.8h0M352.5 125.4h0M280.2 108.4h0M321.4 117.7h0M328.8 184.6h0M279.9 106.3h0M338 181.6h0M332.6 177.4h0M292.7 102.5h0M282.4 134.9h0M346.2 154.6h0M305.9 144.8h0M326.5 122.6h0M345.2 136.7h0M304 169.1h0M288.3 110.9h0M338.7 172.8h0M353.5 147.6h0M336.2 116.5h0M358.9 131.9h0M300 87.6h0M332.3 134.8h0M337.5 187.5h0M356.1 139.1h0M335.9 149.4h0M324.2 124.4h0M306.2 115.9h0M290.6 179.8h0M314.9 156.9h0M317.5 153h0M328.2 132.3h0M340.2 185.2h0M341.1 176.9h0M303.2 176.1h0M315.1 174.5h0M287.5 168.1h0M357.3 133h0M303.7 91.3h0M303.9 153.9h0M273.8 160.4h0M332 107.1h0M294.4 117.7h0M342.4 154.4h0M298.7 97.9h0M336.6 165.9h0M301 114.3h0M307.1 123.3h0M328 146.3h0M285.3 141.9h0M311.5 173.2h0M312.4 134.1h0M358.6 110h0M312.6 158.3h0M331.3 121.1h0M293.4 136.6h0M354 123.7h0M313.8 162.2h0M290.1 95.8h0M331.9 132h0M349.6 114h0M312.2 184.2h0M334.9 122h0M310.9 157.7h0M285.7 119.7h0M318 152.5h0M310.7 153h0M348.5 107.8h0M321.2 177.4h0M295 109.5h0M291.4 178.6h0M316.5 182.5h0M349.1 147.6h0M320 171.4h0M285.3 131.9h0M340.7 113.3h0M325.3 148.2h0M313.9 178.8h0M294.6 94.5h0M317.1 97.7h0M284.7 154h0M329.6 85.6h0M362.5 125h0M287.6 119.1h0M317.2 94.8h0M332.5 183.1h0M293.5 119.9h0M302 98.3h0M345.5 179.1h0M291.6 125.5h0M358.4 145.3h0M325.1 110.6h0M283 139.6h0M301.3 132.3h0M328.8 144.5h0M333.9 90.3h0M275.2 146.5h0M299.8 183.3h0M339.8 139.8h0M285.2 135.4h0M303.5 148.9h0M295.6 152.7h0M359.6 116h0M291.7 97.2h0M298.8 108.7h0M354.8 167.6h0M298.8 156.8h0M305.7 166.2h0M308.4 117.3h0M290.9 123h0M314.2 160.2h0M304.2 134.9h0M310.9 107.9h0M324.1 142h0M318.5 93.3h0M306.4 145.1h0M293.5 180.4h0M315.9 122.6h0M328.6 82.3h0M291.7 122.6h0M324.5 187.2h0M305.2 104.1h0M292.5 117.4h0M300.3 149.4h0M344.9 126.3h0M296.8 169.7h0M313.5 163.8h0M340.6 109.5h0M299.2 153.7h0M327 189.4h0M313 126.5h0M304.4 142h0M343.5 174.1h0M300.8 164.2h0M335.7 111.4h0M304.8 155.1h0M308.6 133.5h0M336.8 146h0M314.9 166.5h0M313.1 191.3h0M323.1 160h0M295 104.4h0M356.4 165.7h0M306 182.3h0M307.8 118.9h0M307.2 125.5h0M329.3 101.7h0M310.7 95.6h0M283.3 144.2h0M283.6 130.1h0M322.5 154.6h0M293.7 169.1h0M294.1 170.4h0M325.1 106.5h0M301.6 123.7h0M297.3 91.4h0M280.6 117.8h0M345.2 144.6h0M312.1 94.2h0M299.3 137.1h0M324.2 147.1h0M286.6 160.5h0M303.6 180.4h0M335.3 169.9h0M317.1 145h0M332.5 110.6h0M353.7 120.6h0M285.2 96.7h0M306.8 160.4h0M325.1 154.8h0M338.1 101.8h0M295.4 148.9h0M313.4 115.2h0M317.2 192.4h0M286.8 103h0M342.3 115h0M286.9 160h0M294 156.9h0M293.7 140.9h0M284 113.1h0M314.5 145.7h0M313.9 180h0M291.7 171.3h0M313.3 116.5h0M321.9 168h0M307.8 175.7h0M297.7 121.3h0M293.1 129.4h0M295.6 98.9h0M283.8 109.6h0M328.3 90.4h0M341.3 120.2h0M281.3 125h0M309.4 158.9h0M326.7 100.6h0M321.2 122.9h0M322.5 121.3h0M320.4 113h0M291.2 100.2h0M307.6 116.1h0M313.3 118.9h0M303.1 113.6h0M358.2 153.1h0M363.2 138.7h0M298.1 146.9h0M299.9 100.4h0M338.9 169.2h0M283.5 157.5h0M325.4 182.9h0M331.1 162.4h0M297.3 178.2h0M293 172.6h0M282.7 135h0M297.2 130.1h0M330.9 120.9h0M339.3 118.4h0M308.1 117.4h0M292.3 161.7h0M338.4 183.3h0M318.9 109.7h0M286.1 129h0M284.8 175.5h0M327 98.1h0M304.2 126.1h0M318.3 182.4h0M279.3 124.1h0M305.5 139.1h0M337 182.7h0M323.3 84.5h0M340.3 186.3h0M332.3 146.8h0M323.5 178h0M313.6 190.4h0M312.8 150.3h0M336.5 122.1h0M316.8 143.4h0M319.2 157.3h0M298 154.6h0M335.7 144.4h0M312.2 182.9h0M318.2 142.2h0M284.7 107.5h0M324.7 156.4h0M334.2 153.4h0M306.5 113.5h0M346.1 127.2h0M344.4 186.1h0M291.1 160.3h0M343.6 117.9h0M321.5 106h0M340.6 127.2h0M309.4 95.4h0M350.1 148.4h0M277.7 132.1h0M317.9 94.8h0M283.8 146.9h0M287 107.6h0M327.7 132.5h0M293.1 175h0M318 184.1h0M323.7 179.8h0M289.6 139.2h0M299.9 109.1h0M350.1 123.8h0M311.9 191.5h0M326.7 164.4h0M333.4 185.4h0M361.6 131.9h0M328 124.3h0M308.1 154h0M284.6 105.8h0M293 148.1h0M291.6 163h0M285.6 117.3h0M306.3 137.1h0M295.8 175.8h0M344 125.3h0M311.3 95.8h0M320.1 184.6h0M342 173.3h0M336 126.6h0M276.3 126h0M275.4 134.7h0M327.9 116.2h0M309.4 180.5h0M300.2 167.7h0M282.9 163.7h0M339.3 136.3h0M318.8 132.8h0M340.4 93.3h0M320.4 90.7h0M326.8 193.4h0M346.8 135.4h0M303 169.4h0M345.5 92.3h0M337 120.9h0M313.5 141h0M314.3 123.8h0M348 120.2h0M328.7 117.6h0M322.9 89h0M278.1 144.2h0M300.3 157.6h0M334.8 108h0M348.7 128.2h0M299 94.4h0M304.9 91.8h0M281.8 131.7h0M353.2 139.5h0M325.4 165.6h0M298.8 128.5h0M274.1 135.9h0M306 180h0M287.2 141.2h0M348.4 145h0" stroke="#52b05a" stroke-width="1.6" stroke-linecap="round" fill="none" opacity="0.9"/>
<path d="M320.1 110.1h0M290.3 91.7h0M313.3 178.9h0M291.8 93.2h0M315.5 156.8h0M308.8 103.1h0M300.3 180.5h0M334.3 126.8h0M353.4 138.7h0M282.7 140.2h0M281.4 126h0M354.8 145h0M338.8 114.6h0M306.8 149.8h0M287.5 109.6h0M335.8 176.4h0M310.7 192.6h0M319.7 169.1h0M289.1 154h0M284.4 122.9h0M295.1 155.4h0M326 136.7h0M357.7 133.5h0M346.9 169.9h0M332.7 133.5h0M287 136.5h0M331 149.6h0M285.3 133.5h0M281.4 148.7h0M285.4 100.4h0M322.1 106.7h0M321.8 131.3h0M343.2 135.3h0M310.6 143.6h0M277.5 121.3h0M355.3 152.6h0M291.3 144.4h0M303.1 127.1h0M346.9 150.1h0M313.7 173.7h0M316.7 132.6h0M320.2 174.9h0M298.4 135.3h0M300.8 172.6h0M313.6 118.2h0M298 150.8h0M329.8 120.8h0M338.9 140.6h0M318.6 168.2h0M316.1 91.4h0M318.5 108.6h0M305.5 163.9h0M336.1 169.4h0M309 169.6h0M303.4 121.2h0M290.2 159.8h0M294.8 112.5h0M332.4 99.3h0M307.9 155.9h0M285.8 96.5h0M284.1 160.3h0M304.3 151.5h0M316.7 167.8h0M351.1 162.4h0M282.5 128.9h0M343.6 101.9h0M348.4 173.4h0M324.6 84.9h0M313.5 125.9h0M315.9 178.4h0M325.8 171h0M307.1 146.9h0M306.4 171.8h0M312.4 100.1h0M344.6 181.8h0M329.4 120.2h0M348.8 160.6h0M281.7 135.3h0M327.8 178.7h0M329.3 92.9h0M360.7 143.9h0M301.6 128.2h0M344.8 150.5h0M289.5 104.2h0M307.9 174.3h0M287.8 159.5h0M317.8 113.1h0M340.1 178.7h0M286 179.1h0M342 109.1h0M336 142.3h0M340.5 139.9h0M331.1 144.3h0M281.3 131.2h0M297 164.7h0M330.6 145h0M302.6 106.8h0M284.8 151.1h0M350.1 153.1h0M313 109.1h0M328.9 177.2h0M312.8 185.4h0M325 167.7h0M318.7 101.2h0M306 175.2h0M316.6 100.8h0M312.3 192.5h0M318.3 80.1h0M311.5 108.8h0M304.2 94.9h0M317.5 91.6h0M322.6 187.2h0M318.4 133.9h0M348.4 145.5h0M335.6 108.8h0M345.6 170.5h0M329.7 169.7h0M323.3 159.7h0M306.6 153.3h0M317.4 133h0M284 98.9h0M304.6 129.8h0M312.3 149.2h0M299.3 122.9h0M320.1 187.6h0M278.8 146.8h0M341.4 106.4h0M295.4 100.7h0M286.8 122.9h0M329 144.4h0M323.2 138.9h0M335.7 123.9h0M337.4 177.1h0M302.8 188.9h0M327 149.6h0M300 116.8h0M314.5 147.1h0M320.6 161h0M275.1 142.1h0M337.5 172.1h0M296.6 124.9h0M281.5 144.3h0M320 184.6h0M322.9 142.4h0M339.7 171.8h0M302.4 163h0M323.2 164.9h0M283.9 94.9h0M345.7 172.5h0M287.2 135.6h0M318.1 179.5h0M294.4 115.7h0M289.6 130.5h0M316.9 194.3h0M302.8 130.3h0M319.7 147.3h0M352.5 140.8h0M329.1 182.3h0M314.1 130.3h0M308.5 129.9h0M355.8 145.6h0M316.2 117.9h0M300.5 165.9h0M325.3 100.5h0M279.1 153h0M291 160.6h0M281.9 145.5h0M327.5 117.1h0M326.5 165.3h0M329.4 163.9h0M312.5 138.4h0M332 162.4h0M306.3 131.1h0M310.4 169.1h0M345.4 150.1h0M356.5 133.4h0M313.6 96.5h0M288.8 114.5h0M291.7 96.8h0M318.7 139.6h0M312.1 178h0M351.7 141.7h0M339.5 139.6h0M303.6 120.4h0M352 141.5h0M291.9 175.5h0M285.8 161.1h0M334.1 131.5h0M312.2 137.7h0M314.8 186.4h0M299.1 181.1h0M273.7 128.2h0M295.3 120.5h0M296.1 168.7h0M324.4 168.1h0M302.2 158.4h0M321.8 139.5h0M315.8 196.8h0M297.6 109.6h0M293.5 159.2h0M339 169.2h0M320 166.8h0M291.4 148.6h0M319.5 96.7h0M340.1 154.2h0M337.8 95.6h0M340.3 153.9h0M343.2 134.2h0M293 163.3h0M331.4 156.9h0M314.6 193.4h0M316 153.7h0M299.8 157.2h0M298.8 152.7h0M302.1 90.8h0M297.6 106.3h0M299.3 144.8h0M299.4 135.6h0M282.4 159h0M280.4 120.9h0M356 137.3h0M330.5 188.7h0M289.3 136.6h0M293.7 171.5h0M282 157.8h0M340.7 110h0M348.7 142.7h0M321.4 97.7h0M340.9 176.7h0M298.4 93.9h0M289.7 122.5h0M320.3 168.6h0M315.9 188.1h0M301.6 100.1h0M340.8 154.7h0M323.4 190.3h0M330.8 187.1h0M354.7 114.1h0M323.7 134.8h0M301.8 173.6h0M333.2 132.8h0M300.9 92.7h0M336 176.7h0M322.6 117.2h0M311.5 96h0M320.1 134h0M282.6 159.7h0M347.3 162.9h0M350.2 176.7h0M308.8 152.2h0M357.2 148.4h0M330.5 163.4h0M286.3 160.4h0M325.2 176.2h0M314.7 141.2h0M341.7 180.1h0M336.3 116.6h0M341.5 142.3h0M312.1 110.9h0M300.2 135.9h0M283.2 137.2h0M338.7 145.1h0M286.7 155.8h0M287.5 154.7h0M309.6 165.6h0M291.6 146.6h0M348.2 100.3h0M333.8 99.4h0M317 154.2h0M301.4 132h0M288.2 114.4h0M296.9 130.6h0M333.9 145.3h0M294 153.5h0M347.1 155.4h0M298.7 173h0M294.2 169.5h0M312.3 119.2h0M310 174.8h0M305.8 152.5h0M348.2 162.1h0M329.2 153.5h0M297.6 123.3h0M312 148.7h0M327.2 175.7h0M293.3 122.7h0M301.8 122.1h0M283 124.1h0M314.3 111.9h0M320.7 125h0M321.6 160.9h0M312.1 110.9h0M304.9 120.2h0M307.8 101.2h0M294.9 129h0M349.5 134.2h0M291.7 130.2h0M322.7 189.8h0M280.5 145.9h0M342.8 142.9h0M287 115.2h0M356.5 113.8h0M306.2 106.1h0M317 118.1h0M305.3 123.7h0M344.2 172.6h0M350.8 155.1h0M341.1 175.4h0M329.6 179.7h0M320.9 179.2h0M330.6 162.8h0M316 91.7h0M284.7 135.6h0M344.5 149.1h0M304.2 173.6h0M313.6 175.8h0M310.6 193.4h0M351.1 114.5h0M293.1 121.5h0M284 135.3h0M320 157.5h0M304.6 91.1h0M310.5 141h0M293.3 177h0M321.6 135.2h0M300.4 103.8h0M331 157.3h0M288.1 163.4h0M321.6 93.4h0M308.3 122.4h0M347.6 136.5h0M313.8 136.1h0M306 129.1h0M308.4 98.3h0M298 165.6h0M292 158.8h0M275.7 161.7h0M338.8 93.1h0M301.6 173h0M333.1 170.4h0M350.4 143h0M300.2 110.6h0M316.3 154.3h0M307.2 130.1h0M287.5 99.7h0M307.7 162.2h0M331.1 102.5h0M328.4 170.9h0M325.1 165.3h0M351.4 108.8h0M291.6 171.3h0M298.7 151.3h0M310.4 143h0M341.1 121.2h0M296.3 188h0M280.6 169.9h0M306.8 148.5h0M317.9 164.6h0M334.5 154h0M333 170.4h0M277.9 145.6h0M316.4 102.7h0M328 161.7h0M284.9 98.7h0M277.8 152.1h0M353.1 159h0M287.6 137.8h0M349 147.6h0M350.3 104.5h0M330.6 96.3h0M319.1 134.9h0M295.9 92.4h0M346.5 111.9h0M315.8 155.8h0M281.1 147.4h0M307.9 162.3h0M299.4 106.7h0M292.8 182.7h0M296.1 179.9h0M319 97.4h0M284.3 121.5h0M320.1 132.9h0M307.9 184h0M306.2 128.1h0M305.9 115.9h0M293.1 174.9h0M312.9 87.1h0M336.6 152.4h0M309.6 80.2h0M341 139.4h0M348.3 174.3h0M335 142.3h0M310.7 161.9h0M332.8 152.5h0M287.2 109.4h0M337.4 136.3h0M301 131.5h0M355.3 147.2h0M339.7 174h0M331.3 98.1h0M303.3 113.1h0M325.8 122.3h0M338.7 164.1h0M281.8 130.3h0M332.7 147h0M334.7 140.3h0M341.3 171.2h0M361 148.5h0M342.2 147.5h0M276.1 134.2h0M307.4 171.6h0M292.7 110.9h0M322.4 100.5h0M276.3 122.6h0M321.4 148.8h0M316.6 83.1h0M345.9 140.8h0M283.4 113.9h0M346.9 116.2h0M343 134.1h0M331.7 167.2h0M297.1 121.7h0M329.5 192.9h0M308.7 123.5h0M315.9 117.9h0M311.4 107.7h0M316.2 152.8h0M351.6 148.3h0M318 128.1h0M342.1 93.2h0M281.9 152.7h0M296.8 126.8h0M296.5 91.6h0M295.4 104h0M322.8 105.4h0M317.4 165.6h0M325 188.8h0M337.5 164.5h0M301.1 88.6h0M341 179.3h0M287.7 96.1h0M293.4 112h0M313.8 142.5h0M321.4 166.6h0M349.8 146.1h0M320.6 112.9h0M307.4 151.4h0M297.6 134.7h0M300.6 88h0M270.8 144.3h0M302.6 135h0M348 130.3h0M315.2 174.5h0M336.3 155.1h0M343.2 165.1h0M285.7 121h0M351.8 161.6h0M289.6 97.9h0M288.3 115.8h0M325.7 132.8h0M293.2 142.1h0M359.7 135.6h0M302.7 157h0M293 142.5h0M293.7 111.3h0M348.4 105.2h0M317.4 124.2h0M303.7 81.1h0M311.2 93.4h0M323.4 155.6h0M308.5 114.5h0M335.9 102.5h0M316.8 82.9h0M281.6 117.3h0M323.2 130.7h0M298.2 156.7h0M297.1 102.2h0M328.5 179.6h0M287.6 100.2h0M305.6 152.2h0M303 186.7h0M288.1 110.4h0M321.1 159h0M273.8 125.5h0M287.2 176.8h0M301 175.6h0M292.2 102.3h0M344 162.3h0M320 149.6h0M347.8 160.9h0M316.5 108.8h0M313.1 136.6h0M327.1 174.9h0M294.9 164.4h0M342.4 150.2h0M279.6 163.8h0M283.5 139.5h0M317.5 87.9h0M343.4 160.4h0M293.7 121.6h0M303.9 183.9h0M299.9 132.1h0M344.1 162h0M330 164.1h0M294.1 161.9h0M318.8 186.6h0M352.9 133.9h0M275.8 132.5h0M292 169h0M314.7 146.2h0M305.5 140.6h0M293.7 141.2h0M284.6 155.3h0M317.8 96.8h0M286.9 132.8h0M350.2 138.9h0M310.6 150.6h0M286.3 128.3h0M319.1 96.6h0M305.9 180.4h0M343.9 133.3h0M305.7 130.3h0M303.7 133.5h0M284.9 154.9h0M284 119.1h0M281.4 137.3h0M345.4 142.5h0M292.1 91.6h0M335 173.2h0M289.8 164h0M295.5 122.6h0M320 157.8h0M326.9 178.2h0M299.4 143.5h0M303.6 165.8h0M282.2 97.8h0M339.4 171.2h0M336.8 160.9h0M294.7 98.1h0M352.1 150.2h0M301.4 102h0M363 136.3h0M301.1 91.3h0M323.3 183.8h0M333 134.8h0M352 119.8h0M318.6 183.8h0M284 151.4h0M276.1 136h0M321 80.2h0M304.4 137.2h0M315 128.3h0M296 97.6h0M306.3 127.6h0M346.1 146.2h0M332.1 149.7h0M310.5 133.4h0M330.9 180.3h0M281.3 135h0M350.9 132.2h0M308.2 94.9h0M323.6 134.5h0M340.1 155.1h0M335.3 188h0M328 175.4h0M338 155h0M343.8 109.9h0M315.5 83.2h0M296.4 136.3h0M341.5 167.9h0M312.7 115.8h0M329.9 177.9h0M337.3 180h0M318.3 90.6h0M316.1 174.6h0M291.1 148.9h0M318.6 122h0M334.3 149.5h0M296.2 144.8h0M335.6 155h0M333.4 178.9h0M298.7 183.9h0M324.4 162.5h0M282 151.3h0M323.5 178.9h0M305.5 109.5h0M310 141.6h0M356.9 141.1h0M291.1 116h0M301.1 168.7h0M273.3 124.9h0M299.7 177.3h0M289.3 109.3h0M277.7 127h0M345.6 154.1h0M276.8 139.2h0M298.6 155.4h0M305.5 148.6h0M299 129.5h0M341.1 134.8h0M343.9 137.3h0M339.9 168.9h0M311.8 156.8h0M315.8 184.2h0M362.7 141.4h0M348.3 164.4h0M293.6 138.8h0M341.9 185.2h0M306.8 138.1h0M309.5 107.2h0M339 169.2h0M298.3 138.8h0M351.5 126.3h0M319.9 176.7h0M320.9 160.5h0M327.5 153.6h0M297.6 102.9h0M284.9 138.6h0M353.3 137.3h0M283 113.5h0M318.2 177.9h0M274.9 144.2h0M292.9 122.3h0M288.4 132.1h0M303.9 82.7h0M287.5 152.1h0M275.6 155h0M285.2 131.6h0M353.6 142h0M348.6 150h0M332.9 104.5h0M302.7 129.1h0M329.5 130.7h0M295.2 169.7h0M297.4 154.3h0M322.6 96.1h0M304.4 164.6h0M291.7 102.4h0M336.7 157.9h0M345.1 136.5h0M355.5 143h0M300.9 99.1h0M283.9 115.1h0M327 118.8h0M334.7 140h0M315.4 148.1h0M280 153.9h0M315.3 137.9h0M354.6 128h0M313.8 146.7h0M333.5 96.1h0M305.9 94.9h0M310.6 87.4h0M338 134h0M292.9 179.5h0M308 139.9h0M344.6 109.6h0M299.4 135.9h0M326.6 179.8h0M357.4 141.8h0M348.2 163.4h0M329.2 174.7h0M313.4 147.2h0M356.8 165.6h0M314.7 142.7h0M285.6 156.4h0M290.2 130.8h0M314.7 165.7h0M309.3 99h0M336.3 148.9h0M330.3 132.9h0M317.7 162.5h0M288.4 117.3h0M312.4 112.4h0M299 159h0M296.1 129.5h0M325.1 108.9h0M323.7 110.8h0M318.6 130.7h0M278 149.4h0M299.2 167.7h0M281 143.3h0M286.1 118h0M282.1 163.5h0M325.7 169.9h0M314.4 182.4h0M337.9 142.5h0M307.1 85.4h0M292.8 162h0M298.2 160.5h0M334.5 150.6h0M304.9 141.8h0M314.5 155.4h0M294 173h0M298.1 166h0M346.1 162.7h0M297.4 142.9h0M296.4 179.5h0M308.3 118.2h0M292.4 134.6h0M304.6 183h0M330 81.7h0M305.5 102.5h0M318.7 173.5h0M304.5 166.9h0M300.9 179.2h0M284.9 165.7h0M298.5 92h0M293.8 139.4h0M308.8 109.3h0M327.2 179.2h0" stroke="#c2de2a" stroke-width="1.3" stroke-linecap="round" fill="none" opacity="0.95"/>
<path d="M325.1 110.5h0M362.1 106.2h0M332.3 97.4h0M337.3 136h0M345.3 94.3h0M329.1 105.7h0M320.7 113.8h0M330.6 98.8h0M357.3 133h0M352.1 104.5h0M363.9 119.1h0M346.5 88.5h0M349.2 136.3h0M340.5 91h0M341.4 141.9h0M314.9 108h0M331 125.3h0M326.5 90.6h0M338.6 123.7h0M339.6 121.6h0M337.8 109.2h0M322.1 113.2h0M328 100h0M334.7 104.7h0M312.1 105.6h0M328.4 104.4h0M318.8 99.3h0M328.2 97.4h0M332.5 93.2h0M342.4 117.6h0M341.5 108.5h0M332.4 142.3h0M329.7 120.6h0M324.2 122.6h0M337.7 115.1h0M342.7 112.8h0M350 122.1h0M338.7 112h0M361.8 109.6h0M353.5 124.6h0M317.5 105.1h0M339.1 120.5h0M343 111.1h0M335.2 138h0M333.5 111.1h0M345.4 129.8h0M356 112.6h0M330.5 93.9h0M340 126h0M341.2 128.6h0M346.9 108.7h0M344 111.1h0M339.1 104.9h0M339.4 111.4h0M345.8 109.2h0M329.7 130.1h0M294.2 117.5h0M352.8 97.3h0M334.5 121.4h0M352.9 98.1h0M349.1 108h0M335.6 126.5h0M336.3 118.5h0M351.6 126.9h0M352.6 95.1h0M345.8 83.8h0M320.3 138.7h0M342.7 98h0M341.5 106.7h0M338.1 138.7h0M356.2 98.5h0M345.8 123.2h0M334.9 128.4h0M353.8 123.7h0M346.6 108.7h0M353.2 102.7h0M338.6 102.6h0M329 121.8h0M361.3 105.1h0M322.2 113h0M350.5 114.4h0M337.2 98.5h0M357.1 138h0M334.9 120h0M340.4 112.7h0M341.7 105.5h0M348 119.3h0M313.3 119.5h0M319.9 104.6h0M330.1 114.6h0M316.5 101.1h0M357.3 104.7h0M349.2 111.2h0M348.9 115.7h0M337.2 129.8h0M357.1 112.8h0M347 118.3h0M315 96.6h0M328 116.4h0M364.9 112.8h0M333.7 101.8h0M334.5 102.1h0M330.4 108.2h0M313.7 115.8h0M322.2 116.5h0M327.9 99.6h0M330.4 118.3h0M321.5 114.7h0M336.1 115h0M316.2 91.7h0M337.9 127.8h0M339 114.4h0M343.2 108.7h0M322.2 116.1h0M352.9 123.5h0M325 112.2h0M352.4 121.5h0M336.8 104.9h0M337.6 138.6h0M315.4 108.3h0M354.1 116.1h0M300.2 110.2h0M332.4 102.7h0M340.1 87.4h0M339.6 114h0M348.6 101h0M337.7 117.8h0M316.8 138.5h0M330 132.5h0M331.1 102h0M343 101.9h0M356.2 115.2h0M362.3 112.5h0M325.1 122.5h0M334 100.4h0M324.8 118h0M341.6 123.9h0M333.7 129.2h0M335.8 133.5h0M332.6 92.6h0M348.4 117.6h0M349.8 90.9h0M311.5 104.7h0M348.7 105.5h0M332.5 104.7h0M326 93.7h0M294.7 105.3h0M345.8 124.4h0M326.4 112.8h0M343.9 93.1h0M353.9 124.2h0M330.9 90.2h0M319 104.5h0M340.6 103.2h0M331.2 85.6h0M340.7 137.6h0M345.8 147.6h0M356.3 103.3h0M319 103h0M345 134.5h0M311.2 122.6h0M342.9 124h0M331.8 110.5h0M366.8 95.2h0M344.1 102.8h0M323.6 78.9h0M349.3 130.5h0M331.8 117.3h0M325.8 132.7h0M337.2 106.8h0M344.4 106.5h0M322.5 100.1h0M347.8 116.1h0M343.1 106.5h0M324.3 113.3h0M341.1 106.4h0M342.4 128.7h0M319.5 89.7h0M329.4 116.5h0M323.6 117.4h0M358.2 111.1h0M325.9 109.6h0M338.1 90.7h0M337 111.5h0M380.9 101.8h0M333.7 124h0M350.5 108.1h0M338.9 136.7h0M330.7 104h0M330.4 96h0M340.3 111.4h0M354.3 94.3h0M339.1 105.7h0M331.8 103.3h0M334.2 116.2h0M338.1 116.4h0M347.8 138.3h0M326 123.1h0M304.8 124h0M329.5 114h0M324.2 124.1h0M351.2 108.6h0M330.4 83.6h0M344.9 125.9h0M355.7 100.7h0M346.5 106h0M319.1 88.2h0M335 113.1h0M360.1 114.8h0M311.6 111.5h0M327.6 110.3h0M354.5 122.2h0M345.5 140h0M332 98.1h0M361.8 108.5h0M326.6 114.7h0M350.8 104.1h0M350.5 128.7h0M352.5 112.4h0M355.1 138.3h0M334.8 115.1h0M341.1 111h0M354.4 101.6h0M335.1 108.1h0M322.4 132h0M358.4 133.7h0M338.5 104.2h0M304.9 111.8h0M337.2 120.1h0M351 109.6h0M327.4 118.3h0M347.7 98.8h0M319.5 112.4h0M329.3 114.4h0M341.6 110.8h0M341.9 103h0M319.3 119.1h0M336.2 109.5h0M334.4 128.2h0M324.5 118.4h0M335.5 121.2h0M327.7 116.7h0M342.7 99.5h0M337.1 110.3h0M339.7 97.5h0M336 104.5h0M322.1 108.3h0M339.9 103.7h0M326.4 104.3h0M332.7 86.9h0M333.6 120.4h0M331.5 98.7h0M317.1 94h0M338.3 82.3h0M345.4 110.6h0M336.2 100.3h0M349.3 101.3h0M336.2 108.4h0M337.1 101h0M338.5 120.4h0M342.4 121.8h0M334.6 85h0M349.4 120.5h0M340.3 128.4h0M311.6 110.3h0M327.2 112h0M330.5 106.6h0M344.1 132.1h0M345.5 123.2h0M335 108.9h0M333.2 101h0M357.5 112.5h0M341.8 111.9h0M354.6 117.8h0M347.9 93.5h0M348.4 115.3h0M342.9 101.7h0M334.1 118.6h0M335.7 119.5h0M342.2 133.3h0M311.6 121.1h0M337.4 109h0M316.9 126.5h0M338.3 100.7h0M344.7 127h0M332.8 113.9h0M342.8 89.7h0M346.8 132.7h0M321.9 104.3h0M348.9 98.8h0M349.2 119.4h0M328.6 95.7h0M331.5 122.9h0M348.5 105.1h0M336.7 115h0M332.7 117.1h0M329.7 93.8h0M323.8 124.4h0M331 113.8h0M348.3 106.4h0M306.7 105.2h0M327.1 90.2h0M333.6 135.8h0M335 104.9h0M327.8 111.6h0M339.8 112.6h0M340.4 114.3h0M311.7 116.2h0M365 96.8h0M345 109.6h0M351.8 103.6h0M314.3 128.2h0M340.2 112.2h0M325.7 93.1h0M324 134.1h0M296.9 130.5h0M339.2 109.7h0M342.2 127.2h0M337.8 134.1h0M334.5 123.1h0M350.3 121.3h0M339.7 128.8h0M342.8 109.1h0M347.2 124.9h0M346.9 122.8h0M343.2 134h0M371.7 104h0M358.3 129.1h0M334.3 113.1h0M361.4 118.7h0M323 106.5h0M340.1 119.8h0M344.9 110.8h0M340.8 107.6h0M331.6 116h0M343.6 125.3h0M328.5 124.9h0M340.9 116.9h0M333.1 98.9h0M315.6 123.2h0M333 112h0M342.5 116.3h0M326 110.1h0M342.4 129h0M323.4 113.1h0M356.6 135.7h0M338.4 128.2h0M332.3 118.6h0M340.4 112.2h0M347.4 104.6h0M353.7 120.3h0M354.5 125.3h0M335.2 145.8h0M342.2 108.1h0M328 89.8h0M341.6 111.8h0M366.9 108.9h0M347.1 112.3h0M337.9 89.7h0M339.3 106.4h0M339.2 121.9h0M322.6 104.5h0M349.9 129h0M350.8 126.3h0M330 96h0M347.4 95.4h0M338 105.6h0M315.1 108.1h0M329.3 108.1h0M326.5 114.4h0M341.9 132.1h0M304.8 108.7h0M358.3 109.9h0M344.1 99.5h0M318.8 116.2h0M360.9 119.5h0M365.2 105.1h0M330.6 106.6h0M338.2 113h0M350 117.6h0" stroke="#3a4543" stroke-width="1.5" stroke-linecap="round" fill="none" opacity="0.6"/>
<path d="M323.8 128h0M285 153.1h0M305.9 186.6h0M304.2 112.9h0M292 157.8h0M311.6 154.6h0M321.7 115.2h0M293.3 133.6h0M320.6 140.3h0M295.1 130.9h0M270.5 151.9h0M293.7 169.6h0M319 156.4h0M300.4 173.2h0M295.7 143.7h0M294.6 105h0M317.7 152.5h0M321.1 138.1h0M297.4 185.9h0M340.5 125h0M322.2 128.5h0M285.4 185.7h0M306.2 153.6h0M295.6 132.4h0M311.8 154.1h0M288.4 136.4h0M330.4 181.9h0M317.1 102.5h0M307.1 158.2h0M322.1 146.8h0M306.9 163.4h0M303.2 163.7h0M299.8 145.3h0M316.2 178.5h0M308.6 134.5h0M309.5 136.5h0M291.2 140.4h0M279.4 135.9h0M309 174.9h0M272.2 143.7h0M308.1 156.5h0M313 139.9h0M312.9 107.9h0M291.3 162.7h0M295.6 164.2h0M301.9 152.9h0M297.6 102.7h0M294.6 162.6h0M272.9 158.9h0M316.4 170.8h0M294.4 200.1h0M316.4 142.4h0M314.9 123.2h0M281.6 112.1h0M302.3 196.3h0M299.6 150.6h0M331.3 183.4h0M271 129.9h0M336 116.5h0M316.8 160.2h0M299 120.6h0M318 152.1h0M284.6 127.7h0M308 126.3h0M299 150.4h0M289 168.5h0M306.7 164.5h0M315.3 135.1h0M268.6 137.6h0M266.5 126.3h0M328.4 165.4h0M281 130.8h0M290.8 159.1h0M316.7 151.3h0M291.7 142.6h0M327.7 148.5h0M283 155.3h0M275.3 135.4h0M310.1 156h0M298.7 186h0M285.6 148.9h0M300.5 168.1h0M305.6 120.6h0M273.9 125.6h0M333.9 148.1h0M294.3 147.7h0M327.3 131.5h0M279.2 131.7h0M305.8 156.3h0M299.6 185.1h0M293.2 123.4h0M289.8 154.6h0M294.8 156.1h0M319.2 153.1h0M303.4 136.5h0M299 122.7h0M295.9 146.3h0M294.5 156.4h0M295.4 178h0M275.8 167.6h0M288.5 136.3h0M295.1 158.1h0M345 146h0M310.4 172.1h0M282.4 151h0M322.1 123.1h0M312.4 146.3h0M293.8 165.1h0M309.7 164.6h0M308.6 178.4h0M296.4 143.1h0M301.8 163.4h0M288.7 163.9h0M256.6 143.9h0M263.5 120.6h0M299.1 166.1h0M309.5 164h0M302.4 135.9h0M274.5 127.8h0M320.4 122.3h0M302.1 136h0M302.1 146.4h0M260.2 172.9h0M302.7 155.2h0M289.4 177.7h0M323.9 164.2h0M298.2 175.5h0M302.4 147.2h0M314.8 183.3h0M326.7 124.5h0M293.4 170.9h0M306.2 137.9h0M304.5 174.6h0M271.5 140.4h0M293.2 121.6h0M289.2 171.2h0M298.5 169.6h0M315.8 151.5h0M316.7 170.7h0M292.6 169.7h0M306.9 159.5h0M284.1 176.9h0M321.9 139h0M265.6 168.9h0M302.4 135h0M318.1 146.2h0M299.8 177.3h0M330.2 147.9h0M295 117.9h0M284.7 127.8h0M295.8 154.6h0M326.7 161.6h0M291.3 142.2h0M299.6 149.2h0M319.5 148.5h0M303.2 181h0M288.2 140h0M295.1 143.9h0M301.7 178.8h0M299.1 138.7h0M310.4 148.1h0M300 134.4h0M297.7 144.5h0M295.6 174.7h0M296.7 166.7h0M298.7 144.9h0M304.3 163.9h0M304.9 167.3h0M279 175.1h0M334.7 140.4h0M298.5 154.4h0M322.9 170.5h0M319.4 158.1h0M300.9 125.5h0M324.8 123.8h0M321.4 131.8h0M282.7 161.1h0M325.8 141h0M311.4 144.1h0M291.6 169.4h0M294.1 108.3h0M330 131.1h0M306.1 152.1h0M319.1 155.4h0M317.4 147.3h0M289.9 145.2h0M305.9 188.6h0M294.6 149.1h0M348.4 159.6h0M300.6 161.1h0M350.1 120.7h0M304.7 139.3h0M310.3 123.3h0M326.2 165.5h0M298.9 155.3h0M285.1 116.4h0M299.1 123.1h0M282.8 162h0M322.7 137.1h0M307.9 132.9h0M310.8 178.7h0M315.3 179.5h0M303.2 103.5h0M307.4 136.4h0M322.2 123.7h0M306.5 149.3h0M292.3 186.9h0M314.6 131.5h0M307.3 146.3h0M307.1 133.8h0M316.7 168.3h0M316.7 124.1h0M353.2 155.2h0M314 168h0M313.2 132.1h0M256.9 144.8h0M324.4 181h0M302 105.2h0M311.8 182.5h0M294.9 135.2h0M281.8 126.3h0M296.3 165.6h0M317.6 175.2h0M297.2 142.5h0M293.4 121.2h0M282.2 145h0M301.7 92.5h0M310.2 135.1h0M321.3 162.6h0M309.2 141.3h0M307 182.2h0M296.7 185.4h0M306.5 173.3h0M305.4 162.3h0M318.4 151.3h0M300.5 156.8h0M311.2 132.5h0M292.2 122.9h0M274.4 101.4h0M310.1 138.5h0M311.4 171.3h0M340.2 131.1h0M301.2 130.3h0M299.3 139.2h0M281.1 181.7h0M320.8 145.5h0M284 150.7h0M324 166.3h0M315.2 176.4h0M298.4 163.7h0M268.5 178h0M300.6 172.5h0M302.1 160.1h0M308 162.5h0M313.7 134.5h0M295.9 166.2h0M319.6 150.4h0M324.4 137.8h0M313.4 110.1h0M318.2 116.5h0M295.4 166.2h0M293.6 140.8h0M309.5 122.3h0M316.8 154.5h0M321.5 156.9h0M302.3 199.7h0M330.5 153h0M303.7 170.8h0M316.1 154.4h0M301.4 144.9h0M348.3 184.1h0M313.1 142.3h0M292.7 119.9h0M320.1 152.4h0M332.1 144.1h0M298.6 179h0M300.9 141.9h0M280 100.4h0M307.4 165.3h0M312.8 143.7h0M326.5 141.1h0M343.9 155.8h0M297 144.1h0M295.1 165.9h0M315.1 119.9h0M288.5 153.5h0M325.9 140.1h0M316.7 151.8h0M298.6 168.5h0M311.3 154.8h0M325.2 174.2h0M293 126h0M313.5 170.8h0M307.8 147.3h0M342.1 110.9h0M317.8 110.3h0M307 164.9h0M291.4 142h0M287.5 147.2h0M307 179h0M324.5 183.7h0M294.1 176h0M301.7 139.7h0M317.1 148.9h0M321.3 173.6h0M332.6 128.8h0M297 164h0M296.2 160.6h0M293 165.5h0M307.4 189.3h0M305.2 136.8h0M317.5 151.1h0M313.5 168.2h0M303.4 121h0M316.9 123.7h0M281.7 149.6h0M316 114h0M306.1 164.4h0M296.9 129.5h0M313.1 132h0M292.6 148.3h0M286.8 150.6h0M327.9 145.4h0M312.9 162.2h0M299.5 137.6h0M284.2 140.7h0M303.6 130.5h0M303.3 145.8h0M315.6 175.1h0M308.2 156.2h0M275.9 142.9h0M312.2 137.2h0M301.6 135.3h0M287 168.7h0M347.3 162.7h0M303.7 176.3h0M313.2 159.2h0M289.2 132.4h0M316.8 158.3h0M304.8 125.6h0M320.4 131h0M286.7 153.3h0M279.9 166.5h0M287.8 155.9h0M272.1 153.9h0M306.3 124.9h0M285 126.3h0M340.2 191.4h0M301.2 157.9h0M307 182.3h0M278.7 116.2h0M309.7 161.9h0M332.5 159.2h0M341.7 187.4h0M302.7 165.6h0M326.1 141.2h0M309 146h0M282.8 155.2h0M307.7 149.5h0M278 142.9h0M307.1 148.9h0M310.9 147.4h0M318.8 138.4h0M325.7 156.3h0M276.4 157h0M290.9 143.7h0M305.1 163h0M269 153.1h0M307.9 136.7h0M323.9 152.8h0M280.4 154h0M296.7 159.9h0M280.8 129.9h0M265.7 138.5h0M301.5 146.7h0M322.9 179.4h0M281.6 126.5h0M291.1 152h0M317.3 215.2h0M283.6 159.8h0M295.5 153.3h0M296.8 158.2h0M289.1 160.1h0M334.1 176h0M256.7 118.5h0M284.6 165h0M344.9 126.3h0M309.7 121.1h0M308.5 146.7h0M348.9 148.5h0M270.2 192.3h0M289.2 141.9h0M280.2 150.9h0M329.1 162.2h0M299.9 111.5h0M328.7 167.6h0M303.8 114.5h0M289 181.5h0M306 164.5h0M343.6 156.3h0M287.3 158.7h0M297.5 180.8h0M328.1 117.3h0M307.3 130.6h0M289.8 165.2h0M318.6 147.6h0M297.9 162.7h0M311.4 161.4h0M283 164.9h0M326 145.1h0M294.5 146.5h0M292.4 154.3h0M290.7 153.4h0M288.6 129.4h0M316.6 141.1h0M287.5 134h0M297.4 135.2h0M289.9 147.7h0M318.3 132.3h0M277.7 200.8h0M319.4 166.8h0M308.1 107.5h0M337.2 156h0M298.5 165.4h0M319.7 146.3h0M287.8 162.8h0M314.9 166.9h0M274.3 180.6h0M313.6 134.8h0M323.8 171h0M309.8 146.5h0M295.7 161.4h0M305.9 128.5h0M313.5 142.3h0M292.2 126.3h0M327.4 174.3h0M300.4 160.2h0M306.6 150.3h0M293.6 113.1h0M308.1 151.5h0M312.5 134.3h0M318.7 154.5h0M308.2 164.3h0M291.1 140.8h0M321.1 174.3h0M290.8 161.7h0M321.8 131.5h0M260.3 176.4h0M319.2 147.6h0M325.5 140.8h0M333.3 149.2h0M274.4 144.8h0M312.2 179.1h0M305.8 152.5h0M329.4 144.9h0M304.4 115.5h0M330.5 131.6h0M286.2 126.4h0M350.9 115h0M324.8 162.4h0M353.1 133.9h0M326.7 175.1h0M323 119.9h0M308 179.7h0M341.6 182.1h0M355 112.6h0M293 170.7h0M309.3 137.1h0M293.1 153.1h0M303.9 121.5h0M312.1 141.8h0M335.9 108.5h0M307.7 154.3h0M312.5 122.6h0M286.9 122.4h0M315.9 152h0M278.7 142h0M314.7 145.7h0M317.4 134.8h0M332.2 144.9h0M283.3 119.9h0M288.4 168.4h0M313.9 190.3h0M289.8 122.8h0M313.6 145.9h0M278.7 159.1h0M312.5 155.6h0M304.6 171.6h0M326.5 165.4h0M327.7 157.3h0M336.3 170.2h0M298.4 156.8h0M309.8 163.6h0M308 159.5h0M314.8 86.8h0M321.9 124.3h0M335.4 149.5h0M315.8 152.3h0M317.2 152.1h0M298 150.3h0" stroke="#9ccf3a" stroke-width="1.4" stroke-linecap="round" fill="none" opacity="0.8"/>
<path d="M581.6 134.9L575.6 169.1M511.3 112.7L519.5 49.2M568.7 187.9L545 198.8M579.8 162.3L558.5 188.6M555.7 189.3L544.5 193.4M551.5 187.7L569.9 183.1M582.1 138L587.9 125.2M517.6 153.4L531.1 179.1M550.9 93.9L527.2 87M562.8 94.1L546.6 79.1M512.4 121.3L491.9 66.9M513.5 155.4L504.7 109.3M592.5 159.2L598 118.3M535.9 195.1L539.5 200.4M573.3 104.5L574.9 88.8M533.3 180.6L540.8 203M515.4 173.3L522.4 185.7M521.4 168.7L535.4 186.7M540.5 85L537.5 82.4M579.6 159.9L581.2 172M590.5 134.2L607.4 115.6M570.8 174.3L557.3 193.7M553.6 196.5L535.4 198.1M537.7 190.3L515.5 182.7M518.5 155L512.8 158.5M547.6 196.2L528.3 219.9M508.9 137.1L485.7 157.7M557 190.1L532.4 193.6M505.4 144.9L516.5 189.8M583.8 107.5L551.9 61.1M571.3 183.3L590.8 175.7M540.8 179.4L527 173.3M537.6 181.6L552.9 188.6M513.7 151.5L508 129M535 92.4L508.8 115.5M529.6 98.9L532.4 88.1M531 182.4L542.4 195.5M571.4 175.3L558.8 200.6M584.4 105L595.6 92.2M561.1 180.7L572.3 202.9M569.5 184.7L587.3 183.6M562.8 91.2L556.2 61.1M584 144.6L590.3 124.9M516 129.3L515.6 115.8M564 176.4L566.7 188.1M512.3 119.8L510.4 115.9M555.3 82.9L592.9 105.5M582.7 150.2L606.5 162.9M545.5 182L539.5 191.8M531.6 183.7L519.7 176.5M584.7 113.2L593 95.7M570.5 107.9L596.9 146M579.7 118L581 110.6M541.7 85.8L563.6 66.5M507 153.6L482.2 168.1M516.2 111L497.8 143.7M566.1 100.5L558.5 91.3M569.1 175.1L566.2 192.9M513 104L527.6 82.2M567.5 188.8L561.6 196.3M577.3 181.2L605.1 201.6M532.6 87.1L500.9 105M575.3 183.7L576.3 191.4M527.7 174.9L513.2 152M591.9 160.2L594.1 171M588.3 129.3L595 108.7M582.9 136.4L568.5 99.9M573.2 186.3L567.9 195M542.2 82.6L548.3 77.1M578.9 157L570.5 183M568.2 181.5L574.7 191.3M589.3 164.3L618.4 147.2M542.1 88.9L558.9 82.1M534.7 180.7L532.7 185.4M511.7 161.9L504.8 153.7M573.4 103.2L567.4 75.7M514.9 150L530.2 91.9M514.9 179.5L508.5 183.9M507.1 161.2L511 175.7M563.9 181L585.6 160.5M542 184.5L522.7 197M544.8 95.1L508 70.3M511.8 103.6L503.4 92.2M544.6 194.1L585.5 174.9M580.6 162.5L592.8 119.6M575.4 176.5L591.9 158.1M564 189.1L553.4 197.2M581.3 100.3L591.6 97.4M587.6 162.2L590.2 162.3M573.9 95.1L581 85.8M568.3 184.8L565.2 191.9M581.4 109.5L584 90.1M562.4 195.2L550.7 206.4M571.1 171.9L558.9 183M512.2 140.1L508.2 150.3M559.7 192.6L568 201.5M518.4 118.8L505.1 133.4M534.2 176L548.9 187.1M553.3 192.7L529.7 192.3M530.1 179L523.8 193.6M555.2 180.9L561.4 185M570.6 173.3L585.7 156.9M534.8 90L536.6 82.9M526.9 184.4L520.2 183.4M523.6 178.5L519.9 178.8M532.8 100.1L537.3 90.1M588.3 121.4L581.5 96M536.8 185.8L530 199.8M568.4 189.5L599.6 148.9M587.9 134.3L593.4 96.6M524.4 165.8L546.6 195.7M520.2 111.1L508.5 109.8M513.2 105L513.2 88.5M544.7 197.4L526.6 197.5M513.2 120.2L505.6 133.9M548.8 96.9L559.5 88.4M527.6 180.4L506.1 157.5M564.7 87.5L594.7 106.3M590.2 140.7L587.7 174.4M540.6 90.9L537.2 84M572.1 96.7L561.2 75.6M582.5 147.1L581.2 174.8M589.9 157.2L620 128.7M551.1 195.9L533.5 197.4M511.1 153.5L508.4 166.6M516.6 124.7L510.1 132.6M510.5 144.9L500.4 147.7M508.7 154.3L505.8 151.7M576.2 179.2L593 174.1M509 119.5L498.3 104.8M584 129.8L585.6 121.2M521.9 97L536.3 80.4M577.8 94.2L581.7 72.6M559.1 186.8L559.4 192.4M573.5 186.2L568.3 192.9M523.7 179.6L500.5 177.4M538.4 92.3L527.3 94.9M575.7 104.5L591.9 140M532.5 180.3L518.2 171.3M526.9 93.2L510.6 103.6M524.3 108.3L509.3 119.8M585.4 124.4L586 162.3M560.2 85.8L545.8 81.3M527.5 103.8L529.8 93.2M584.1 117.8L617.8 105.4M516.2 108.7L509 93M512.9 175.3L475 155.2M589.1 160.6L591.1 198.1M550.2 86.5L551 84.1M529.6 180.2L572.9 190.8M582.2 106.2L593.4 116.2M589.6 110.3L596.7 101.3M533.7 94.4L509.5 118.5M568.3 172L567.8 201.8M514.7 175L515.5 187.6M579.2 93.4L564.8 78.3M548.4 188.5L523.5 181.9M546.8 188L576.5 180.1M518 120.6L507.8 129.3M537.1 189.6L506.4 184.3M516.1 169.3L504.8 164.6M519.8 167.6L506.9 154.2M516.4 119.2L504.1 131.8M588.6 140.4L606.4 145.6M543.1 89.2L520.8 84M531.3 184.3L539.6 191.9M577.3 116.1L586.5 155.4M560.3 188.4L556 215.4M522.2 176.7L506.7 157.8M559.5 91.8L569.9 90.2M527.2 185.9L531.3 195.3M564.6 190.8L568.9 199.9M591.9 142.4L609.5 129.1M559.6 94.2L548.3 84.4M552.8 188.7L523.8 184M590.1 114.7L592.8 86.1M507.5 127.8L503.4 138.2M554.2 81.8L555.9 76.3M555.4 94.3L562 93.2M539.4 181.5L509.6 168.1M517.4 101L482.1 156.2M524.2 97.3L539.4 83.3M574 91.5L583.4 92.1M558.5 90.8L536.1 83.3M504.7 133.3L502.4 159.8M574.4 174.6L581.9 167.9M520.2 166.1L512.7 125M576.9 172.3L570.1 186.1M564.4 99.5L539 81.3M510.4 141.1L506.1 153.8M579.4 116.7L571.2 101.2M579.3 120L607.4 124.3M522.9 101.9L537 84.2M554.2 81.2L574.3 86.7M555.9 80.8L507.4 53.3M577.8 183.9L576.4 193.5M543.1 82.9L535.4 80.3M516.4 108.3L508.2 122.6M512.2 128.5L510.8 122.4M533.4 92.4L511.9 100.3M590.1 138.7L605.8 130.1M587.4 147.9L588 120.5M587.5 150.8L594.5 166.6M570.8 100L568.4 93M514.1 107.4L512.3 80.9M518.5 96.9L526.3 79.9M575.4 101.9L575.7 92.3M566.4 96.9L574.5 43.3M541.7 180L544.9 184.2M516.1 98.6L490 84.7M575.4 188.1L529.4 202.5M551.9 96.7L546 90.5M530.2 174.6L527.5 186.3M537.2 81.5L566.4 72M520.3 116.4L515.5 108.4M568.1 100.3L553.9 87.7M552.9 183.2L560 184M556.1 188L569 194.4M569.9 180.3L541.5 202.4M525.3 104.4L513.2 104.2M557.8 180.4L574.3 172.5M516.6 172.2L521 195.1M580.7 169.4L588.6 163.7M593.8 143.2L596 165M544.4 191.3L568.3 190M526.4 96.9L500.6 123.4M540 190.5L570.6 187.6M545.4 196.9L521 209.1M511.3 172.4L514.4 186.1M556.3 179.4L543 183.2M547.7 197.6L580.7 189.5M550 193.4L563.1 194.2M521.4 115L511.7 124.1M546.3 190.4L543.7 194.6M517.2 155.5L517.5 181.5M510 153.6L483.2 192M522.7 164.2L515.9 155.4M519.7 182.8L498.6 143M561.6 183.8L590.6 154.4M540.7 87.6L535 86.2M554.4 187L580.6 183.2M551.4 197.2L542.9 201.2M526.4 108.5L533.4 97.3M519.6 167L519.3 179.1M547.9 94.2L573 58.4M568.4 100.1L587.7 108.7M568.1 102.6L534.8 78.7M514.8 144.5L542 195.9M558.2 98.5L560.8 96.9M592.3 151.1L593.9 163.6M566.1 103.3L574 107.7M574.5 175L565.3 196.5M507.5 133.5L496.3 132.8M579.4 98.1L585.6 97.4M569.3 105.7L570.9 100.4M590 161.1L604.9 125.2M541.8 181.6L535.8 191.1M590.1 114.3L603.6 122.2M512.2 135.5L495.3 139.5M521.3 175.2L503.4 146M546.9 97.5L565.8 92.2M585.7 111.7L589.7 87.6M555 85.5L579.4 67.7M566.8 93.8L573.7 94.2M569.7 99.5L565.6 83.3M531.3 180.2L522.9 183.7M534.1 93.3L543.8 83.6M516.8 153.2L531.2 180.5M579.9 103.7L548.8 74.9M548.3 198.5L583.3 189.5M593.8 145.8L599.4 125.5M590.5 135.3L603.5 141.8M581.1 125.4L599.5 129.8M511 173.7L525.2 195.8M528.1 190L518.3 193M550.6 180.3L534.3 180.1M578.6 104.4L587.4 108.3M593.3 119.9L596.7 121.2M589.1 116.7L596.5 117.6M554.7 193L560.9 200.9M528.9 178.8L517.6 178.2M567.7 191.7L595.2 175.1M544.2 93.8L554.2 72.6M529.2 183.6L524.9 184M503.2 125.9L498.7 144.6M576.4 92.4L549.8 77M551.1 188.2L549.4 191.3M541.6 187.8L538.1 191.2M535.2 89L523.4 71.5M585.5 142.9L589.2 210.9M571.3 179.8L570 195.2M580.3 124L590.8 131.1M590.1 141.7L595.9 156M544.5 182.3L542 194.3M524.7 172.2L517.4 166.9M528.4 103.9L555.4 77.6M574.8 102.5L588.6 104.8M557.8 182.7L575.7 178.1M548.4 191.5L542.4 199.8M539.6 189.5L532.4 205.5M563.2 177.4L544.9 211.8M562.6 98.4L588.1 128.8M526.7 104.6L549.5 83.9M586 167.4L582.9 181.3M523.9 96.3L511.5 100.8M512.2 104.4L503 116.8M589.5 132.7L592.1 137.2M536.6 82.2L518.9 83.6M530.5 88.8L512.2 105.1M512.9 124.8L512.2 111.4M538.6 96.9L556.1 90.8M577.5 169L559.5 188.1M572.7 104.7L585.5 126.9M523.5 109.9L509.2 115.1M518.1 110L500.1 116.6M533.2 96.1L521.1 103.4M594.1 131.4L573 81.9M520.7 183.3L516.4 186M517.3 147.2L525.6 102.1M512.8 159.4L514.3 108.9M592.8 130.4L610.8 138.2M560.3 95.8L564.4 90.3M541.8 90.7L556.5 87.1M563.2 185.6L559.3 198.2M582.4 174.8L584.2 181.7M506.9 116.3L501.6 122.7M533.8 90.3L513.4 69.6M530.6 174.3L529 180.3M573.6 167L592 148.4M576.6 109.1L583.5 86.2M529.3 179.3L559.7 190M587.8 116.8L568.3 87.7M534.3 86L554.3 78.5M579.7 175.5L592.1 163.7M588.8 114.3L600.4 130.4M576.6 111.1L589.5 109.9M516.9 105.2L514.1 104M558.2 193.1L575.5 188.6M534.1 93.8L529.5 88.8M593.3 150.2L599.7 162.1M584.1 147.2L603.9 158.8M557.5 190.7L582 185.4M557.1 195.2L591.4 177M584.2 137L586.3 156.1M579.7 175.6L558.8 197.2M539.9 85.5L551.5 79.5M590 132.5L575.9 89M526 109.2L504.6 130.5M529.2 103.7L550.5 88M515.7 163.4L498.8 139.8M553 94.9L559.2 88.3M558.3 86.1L547.9 64.3M519.4 119.8L512.6 125.8M544.5 196.7L542.2 199.4M531.8 176.7L530.4 179M538.2 187.9L560.7 191.4M506.1 161.4L502 157.4M576.8 183.5L536.2 210M576.1 186.1L589.6 195.8M581.7 123.6L594.1 147.1M516.4 175L524.7 192.8M581.7 172.8L585.6 174.8M538.5 84.2L525.4 72.5M581.7 176.6L562.8 196.8M543.2 84.9L545.5 77.1M512.1 128.1L516.5 94.2M560.4 83.9L559.5 36.9M553.9 90.6L528.6 77.7M523.4 96.9L511.7 109.8M520.7 170.3L512.1 162.3M511.5 123.8L508.8 112M579.6 174.8L569.6 195.8M572.6 108.8L582 108M556.8 98.7L585.5 68.6M518.3 181.7L498.6 146.5M535.2 185.5L543.9 201.4M528.1 186.7L521.8 193.6M542.4 191.3L552 194.3M517 166L515.2 175.7M520.3 92.8L504.4 105.9M553.1 89.4L562.9 76.7M572.5 180.9L586.5 167.5M586.9 125.8L602.8 133.1M567 99.4L571.8 93.2M545.6 184.1L555.8 195.3M578.1 166.5L569.4 180.4M517.4 175.7L519.4 182M531.8 93.7L525.9 90.7M530.3 173.7L520.6 172.5M558.6 88.1L541.3 83.1M564.1 94.9L590.1 112.3M586.1 174.1L622.6 176.4M573 178.1L562.9 190.3M586.7 131.4L590.3 106.8M515.4 144.2L515 155.9M518.9 161.6L515.4 177.6M567.8 92.8L571.8 90.1M552.2 198.4L551.7 201.9M575.7 103.4L560.4 84.9M576.6 169.8L594.5 136.8M537.6 196.4L552 209.2M530.2 186L532.2 200.3M526.2 181.2L508.4 176.5M551.2 90L530.1 88.6M529.8 177.8L539 192.5M518.5 153.7L504.8 157.3M516.9 166.3L517.7 188.2M509.2 160.5L500.1 156.7M570 96.4L550.7 66.1M560.4 186.4L581.1 182.6M513.3 142.4L521.5 177.1M559.4 84.8L558.3 78.6M530.3 182.5L539.2 190.1M580.1 150.2L582.2 153.5M525.4 169.1L532.6 188.5M523.5 186.4L527.1 199.1M549.1 84.4L591.1 80.4M544.5 183.6L518.3 166.2M565 93.7L569.9 92M517.2 115.8L510.1 144M514.1 130.6L515.4 114.5M561.3 97L568.3 94.9M585 145.2L600.9 194M574.4 109.9L577.9 91.6M511.4 154.5L510.3 162.9M525.1 183.5L539.6 224.6M550.3 195.4L543.6 197.5M517.2 119.2L502.2 128.7M512.5 113.2L537.4 79.1M555.4 92.3L571.9 97.1M510.7 121.1L504.6 129.4M555.2 184.2L568.9 180.1M512.9 133.6L478.2 106M568.5 181.2L578.3 207.5M515.4 124.6L517.4 110.2M569.4 89.4L599.1 78.8M545 183.4L526.8 200.5M582.9 178.5L608.6 127.8M585.8 145.5L598.8 139.6M589.2 160.9L601.3 117.1M546.5 88.2L560 84.8M595.9 138.1L612.4 105.1M515.1 177L499.8 163M533.3 99.3L537.8 93.1M513.3 128.4L508.1 137.3M512.4 136.1L513 166.5M579.3 116.2L595.3 121.6M520 167.6L535.1 208.5M519.4 113.5L498.1 109M565.6 176.6L552.4 190M580.6 127.7L588.9 131.6M519.5 169.5L519.9 176.2M511.9 129L508.9 145.8M580.2 116.6L582.4 99.9M504 128.7L502.6 107.4M536.4 182.1L511.1 170.2M554.4 189.3L565.2 195.7M565.5 98.6L576.6 99.5M584.4 118.3L577.4 97.7M566.4 173.9L580.8 171.8M577.4 118.6L584.4 89.9M563.8 101.9L543.5 88M531.1 100.7L524.9 42.5M537.7 180.7L516.4 172M506.9 120.9L501.9 100.8M530.6 104.7L522.8 105.4M561.6 184.7L582.8 165.8M504.8 148L508.2 184.8M515.4 123.9L511.5 106.5M512 162.6L497.8 174M583.6 125.1L597.3 120.2M579.1 185L578.6 189.7M517.3 128.1L517.8 106.6M591 150.4L594.2 131.5M594.4 124L600.9 134.1M518.8 181.1L526.1 194M557.8 196.5L539.7 199.9M589.5 111.4L585 84.2M513.1 110.6L505.2 108.6M547.9 187.9L543.2 190.8M570 91.7L580.8 84.2M587.3 122.9L577.2 98.1M504.2 148.2L499 136.8M589.4 124.4L599.4 124.6M557.3 97.1L597.1 123.2M525.1 184.8L506.2 166.7M570.3 108L586.8 121.8M522.5 101.9L512.4 94.6M517.6 152.1L513.2 168.3M515.1 102.5L502.6 118.6M567.2 96.4L585.3 116.5M539.3 95.3L546.6 67.3M536.3 177.6L526.6 180.8M578.7 98.4L571.2 51.4M532.4 182.5L485.3 180.3M546 189.8L582.3 181.9M522.2 109.1L512.1 122.7M579.1 121.9L588.3 149.9M543.4 89.6L531.9 87.7M552.7 81.3L581.8 93.1M577 172.9L562.7 195.8M576.2 110.2L581.4 108.5M522.7 167.5L530.9 180.3M585.6 165.7L597.3 150M540.8 88.2L577.2 67.3M584.9 150.4L589.2 131.3M544.9 184.4L532.5 192.5M559.5 95.5L529.2 81.3M579.5 172.6L577.1 187.8M588.2 168.3L594.6 167.5M592.3 123.3L593.5 114.8M542.8 83.9L586.4 88.8M530.6 99.5L538.5 91.8M522.4 168.1L501.1 132.6M558.4 186.3L559.8 189M556.4 188.3L552 195M515.6 113.2L527.9 87.7M588.9 134.6L582.8 104.3M519.9 106.5L511.8 114.8M556.5 88.6L532.9 87M555.5 82.1L573 76M510.6 171.6L501.2 166M533.3 175.4L524.4 173.8M554.5 192.9L588.1 200.3M551.7 191.7L572.5 206.2M571.3 180.6L574.7 188.9M559.8 181.8L573 179.8M568.4 105.3L587.4 119.1M512.3 147.8L512.2 169.7M578.4 101.3L558.2 82.5M575.9 162.2L590.1 154.4M534.4 99.9L528 67.5M510.9 119.6L487.5 140.4M505.7 138.7L506.4 96.8M595.2 140.3L598.2 147.6M514.9 161.7L526.7 185.3M557.5 192L565.3 200.5M530.8 186.6L548.5 195M541.6 88.4L524.2 88.4M513.5 123L506.4 128.9M556.6 95.6L558.5 91.2M547.9 82.8L547.2 77.5M521.4 115.7L516.2 123.5M563.1 190.3L590.5 173.8M541.9 84.7L553.2 80.2M518.9 159.5L537.8 185M527.6 187.1L532.9 203.9M552.7 85.2L570.9 89.4M513.2 156.2L505.8 174.6M518.1 164.8L515.2 179M588.3 167.3L590.5 180.1M511.2 172.2L508.9 189.7M520.7 104.2L505 129M548.2 192.3L551.7 196.3M529.8 104.8L517 107.1M515.9 112.6L500.1 119M517.1 108.2L532.6 86.9M572.1 99.4L578.3 99M508.5 118.7L503.5 145.6M580.4 108.9L579.5 97M516.1 103.2L487.7 112.1M523.2 93.5L544.3 71.1M553.2 185.9L564.9 186.1M514.5 128.3L513.5 109M588.7 143.7L583.7 171.2M518.4 113.3L499.8 111.7M537.5 190.3L512.1 183M564.4 195.5L586.4 178.7M538.4 95.6L524.8 97.4M572.7 97.8L590.9 145.2M524.5 103.3L544.4 78.7M592.1 153.6L594.7 149.6M574.8 188.3L584.8 189.8M527.5 107.1L521.9 101.1M581.1 177.9L555.1 206.4M566.8 179.8L586.9 173.8M570.4 175L568.4 190.9M509.8 149L498.7 136.4M548.8 89.1L518.1 87.4M510.4 129.4L498.4 110.9M508.7 151.3L497.8 126.1M555.6 82.3L567.4 82.5M522.3 108.1L530.8 83.1M551.4 80.1L552.4 66M534.7 194L549.2 214.3M580.7 169.3L608.4 137.8M517.1 169.4L497.6 159.3M581 112.3L571.2 95.1M519.7 175.3L514.3 183M524.2 166.1L517.7 160.5M530.1 180L469.7 162.9M586.8 141.2L603.8 139M557.7 94.3L568.4 78.9M518.2 120.7L533.1 89.3M572 89.7L585.6 95.7M527.9 106.4L534.5 92.5M590.1 132.3L601.8 116.9M529.2 103.1L578.2 95.1M566.9 185.8L561 212.7M541 80.9L528.8 80.8M578.7 121.4L582.7 129M518.5 125.4L514.1 127.9M520.4 103.8L508.9 121.6M540.4 85.6L522.6 85.4M557 98.5L533.8 96.4M514.3 178.6L519.3 199.6M569.4 171.5L548.2 188.5M553.5 185.8L573.6 189.4M533.4 185.2L535.9 198.4M507.7 142.3L506.2 129.2M578.5 172.9L581.9 181.3M539.2 82.3L530.8 66.8M572.8 107.5L594.8 130.8M527.2 190.5L543.6 205.7M553.8 184.3L544.8 190.2M547.7 185.7L529.3 197.6M557.5 197.5L553.7 211.5M573.7 107L594.3 119.2M549.9 187.7L568.2 191.6M508.1 113.9L520.5 89.8M554 81.7L521.1 79.7M522.2 184.3L540.3 220M580.1 153.3L591.9 130.3M544.1 87.9L530.6 88.5M527.8 179.3L528.1 185M556.3 80.5L560.8 71.4M514.5 99.1L543.8 77.4M586 104.5L575.2 87.1M587.6 140.5L577.7 177.9M510.4 106.6L506.4 103.8M542.5 83.6L511.4 90M522.5 177.3L513.4 195.3M579 120.2L584.6 127.7M586.7 130.9L604.6 126.9M534.8 100.1L538.2 95.7M538.5 194.6L560.9 198.2M541.1 98.5L531.2 94.8M574.8 89.8L587.1 89.5M573.3 111.5L582.6 107.2M519.3 180.5L505.2 182.1M520.5 167.7L522.1 174.6M554.6 181.2L561.1 182.3M503.1 140.8L466.6 123.6M549.1 94.6L532.5 63.7M508.3 157.8L510.2 178.1M582.6 155.1L604.4 148.9M563.5 194.4L566.5 195.9M514.1 147.5L509 146.7M556.9 81.4L514.3 93.4M581.4 98.6L595.3 112M525.9 178.8L509 177.4M550.5 88.1L545 80.6M560.1 90.6L556.9 85.2M546.8 97L538.9 87M536.2 100.7L540.7 88.9M573.4 92.5L615.1 87.1M542.8 180.5L581.1 179.6M585.1 144.4L591.9 126.1M551.3 82L577.8 85.8M534.7 82.8L559.8 69.6M508.6 125.7L502.1 134.2M547.3 190.2L541.8 192.3M514 158.3L518.7 185.2M575.4 180.1L581.4 196.3M583.4 171.3L579 191.5M536.8 179L531.1 190.2M587.9 165.5L613.5 171M553 92.7L585 116.2M522.1 184.7L547.3 215.1M523.4 92.8L529 84.3M552.4 97.5L543.2 77.4M546.7 96.3L556.3 88.7M569 86.7L562.8 54.8M551.7 190.3L569 189.6M570.7 170.1L583.2 193.4M589.7 166.5L599.7 152M587.1 137.8L593.5 125.2M533.2 96.3L528.2 54M563.5 95L573.1 99.4M581.7 159.6L581.4 180.4M532.9 181.7L532.9 190.2M540.8 183.8L556.4 192.7M551.8 196.5L563.3 219.1M524.2 96.9L535.4 70.9M586.6 141.3L599.9 123.4M516 150.6L505.6 128.5M508.6 157.3L504.3 153.7M542.3 198L558 217.2M549.8 195.8L542.4 209M507.2 117.6L517.5 77.9M583.5 155.8L596 138.2M594.3 144.4L607.4 109.6M503 127.9L483.9 148.1M512.1 119.4L524.4 95.5M532.8 177.7L580.8 204.2M545.2 197.9L528.6 197.4M567 89.8L572.9 80.9M508.3 140.2L474.3 176.5M532.3 88L534 78.2M582.9 178.2L573.3 199.9M567.6 177.1L585.3 165.6M579.6 175.3L560.3 194.2M592.7 124.3L620.1 175.3M570.2 181L573.3 183.4M583.3 147.6L587.3 129.5M509.7 137.7L507.8 97M570.1 99.7L582.6 97.1M528.1 88.6L498 113.2M549.4 90.3L515 91.7M555.9 183.6L520.6 172.7M586.4 145.5L606.7 182.4M524.3 167L514.4 133M576.9 171.5L573.7 192.3M511.1 159.3L497.8 144.5M569.6 94.7L571.2 80.5M520.4 175.4L491.8 171.5M546.3 97.8L552 89.3M546.9 197.4L546.8 212.3M530.7 189.3L534 193.6M542.1 86.7L502.2 118.8M525.6 105.7L511.4 102.4M528.3 105.5L555.7 80.7M553.4 180.2L532.4 195.3M509.6 124.9L526.9 86.2M579.6 157.2L577.3 171.8M516.8 111.5L516.8 83.2M581 179.4L597.6 122.4M507 131.6L506.7 121M513 115.1L482.4 191.2M513.9 115.4L500.6 134.6M572 187.7L568.9 198.2M510.9 108.9L504.2 113.7M531.2 178.4L524.8 177.8M558.7 184.7L542.6 188.6M513.8 146.4L516.6 112.6M514.5 115L511.4 106.6M576.2 111.1L577.4 96.5M537.7 100.2L517.1 104.1M548.7 181L546.8 186.9M587.5 157.9L585.8 181.8M514.1 125.6L511.9 116.5M533.1 88.7L550.6 77.8M541.2 182.2L528.1 179.5M569.7 99.8L574.5 96.9M504.7 130L503.7 123.3M551.9 186.6L558.5 191.8M585.6 176.5L552.4 202.7M558.7 181.1L564.6 188.5M533.2 184.6L522 181.7M510.3 124.8L529.6 90.1M589 143.1L588.7 116.7M586.1 105.4L575.3 87.4M542 87.3L527.1 85.1M570.4 186.5L574.1 202.2M574.6 164.9L551.4 184M541.5 98L527 103.2M592 123.1L595.7 83M543.6 89.7L560.4 88.6M534.2 86.5L529.7 76.6M530.9 184.8L531.1 187.7M521.6 94.8L503.1 118.4M588.1 134.4L590.8 136.3M514.3 122.5L507.3 131.2M545.7 86.1L532.7 77.1M552.2 182.8L572.1 177.9M538.8 97.2L560.3 94.8M503.1 139.5L498.2 132.9M559.5 99.5L583.3 135.8M556.1 82.7L587.2 100.3M516 166.9L496.9 166.5M538.3 94.7L541.7 71.8M513.5 156.9L509.8 118.7M564.2 183.1L565 191.8M591.5 129.3L598.3 128.1M561.3 89.6L536.4 62.9M583.6 170.7L586.6 195.3M575.1 96.4L590.8 114.7M515.8 172.4L505.3 192.1M581.6 127.5L582.3 163.2M509.9 113.1L510 96M513.4 112.2L500.3 131.9M524.8 106.9L548.4 91M578.9 96.1L592.3 114.1M583.6 174.3L593.3 174.7M534.4 100.5L528.8 86.3M527.6 171.2L519.9 164.1M504.4 121L503.6 105.1M554.6 88.4L519.9 93.3M574.9 109.7L558.1 69.2M542.8 96.7L564.2 86.5M507.6 131.8L511.4 101.6M516 128L504.6 129.1M514.5 171L492.9 131.3M519.9 106.1L510.5 120M506.8 133.3L498.3 146.4M593.3 137.8L596.7 144.1M573.3 175.9L589.9 201.6M580.6 170.5L567.1 187.5M580.6 114.2L576.5 70.5M542.1 184L589.1 177.2M507.9 158.4L502.7 161.3M523.8 183.1L524.3 190.4M511.4 114.5L534.2 72.3M577.9 185.6L563.9 207.2M573.2 176.6L593 186.8M547.5 88.1L563.9 88.4M573.6 102.8L544.6 78.4M567.3 88.1L557.5 81.4M561 92.9L585.5 114.8M531.5 191.7L509.9 204.5M585.7 165.3L592 120.3M515.7 112.6L514.9 107.5M588 132.1L593 126.8M535.5 99.1L535.3 88.3M589.3 116.8L606.7 121.3M539.4 192.2L523.5 187.3M512.4 121.2L476.9 161.3M507.5 142.9L502.3 156.1M531.5 103.7L519.9 102.8M566.8 98.2L598.7 111.1M537.5 180.7L530.9 190.2M525 101.1L538.2 82.5M516.8 145.4L470.9 141.7M514.1 168.8L505.3 127.4M534.6 195.4L504.5 175.7M508.5 129.5L488.8 116.2M527.6 180.1L545.8 193M589.4 142.5L592.3 141.3M557.8 188.4L556.8 192.7M561.3 86.5L588 105M515.2 101.5L504.4 106.9M587.2 116.9L580 95.3M573.2 109.3L589 108.7M524.8 102.1L502.9 114.6M557.8 184.9L589.6 195.9M584.1 113.9L589.3 114.9M557.8 186.1L566.3 194.6M579.2 162.8L583.7 161.3M513.8 129L514.2 167.5M517.1 117.1L507.6 130.6M544.2 186.8L526.2 184.2M585 130.2L589.4 133.6M573.4 99.5L541.7 77.8M516.5 115.6L524.1 99.1M511.1 106.6L494.8 133.4M518.2 104.2L506.6 107.7M528.8 104.8L527.5 100.9M527.4 105.2L508 130.1M590.7 119.1L614.5 131.4M585.2 121.2L589.3 121.5M585.1 112.7L581.1 93.9M507.8 130.1L511.8 108.7M580.9 163.5L574.8 184.8M533.8 182.8L510.2 179.8M558.7 178.8L546.9 203.2M581.4 106.3L580.3 97.7M589.5 139.6L585.7 174.9M588.4 130L585 104.6M582.9 111.2L574.4 88.8M585.2 174.9L598.6 140.5M522 110L527.9 93.1M509.8 136.5L504.3 155.4M524.7 183.5L521.1 188.3M546.4 93.5L562.1 76.9M535.2 177.1L538.1 184.6M513.8 129.3L503.2 144.8M516.4 144.9L512.7 143.1M507.6 154.4L515.9 187.2M527.7 192.4L563.4 205.7M566.8 87.2L604.7 143.1M525.4 97.3L518.5 100.2M588.8 155.2L595.1 171M587.6 169.1L571 194M535.5 87.2L548.9 69.2M583.8 104.4L588.6 90.9M519.1 98.4L515.8 90.6M541.5 90.9L513.6 82.9M582 134.6L584.1 134.1M523 114.5L528.2 97.4M582.6 142.8L586.3 173.4M587.9 154L614.2 162.2M562.1 95.5L555 73.8M595 134L598 147.6M511.1 156.2L507.3 151.4M549.5 183.3L550.4 190.7M555.9 180.5L562.9 183.1M560.1 180.6L549.9 186.7M544.3 93.3L520.7 102.4M579.6 96.8L574 86.9M559.4 186.6L546.5 195.9M510.2 120.8L505.5 112.8M515.4 119.3L490.2 86.4M579.2 179L590.9 168.6M540.8 93.8L554.7 88.6M548.9 193.7L570.9 190.7M560.5 97.9L615.2 113.5M558.9 183.7L567 188.2M545 182.7L541.9 186.1M566.8 192.8L552.1 200.2M567.8 89.7L574.5 89.7M557.3 96.3L579.9 113M551.9 186L549.1 209.6M564.1 98.4L570 96.5M516.8 109L505.9 89.6M518.4 103.9L529.1 81.6M567.9 175.7L560.4 185.8M553.6 182.7L507.6 196.3M504.7 153.3L527.2 193.1M528.7 176L507.3 169.8M539.4 180.1L505.3 170.3M587.8 134.4L589.6 150.3M515.4 151.7L507.2 137M593.5 157.6L596.6 155.1M527.3 88.6L537 79.3M556.4 85.8L533.2 84.7M506.5 149L508.7 165.6M579.2 108.2L603 150.3M519.2 165.2L508.4 150M589.8 114.9L571.2 84M574.4 88.9L582.4 88.1M571.1 191.6L596.7 191.1M539.2 189.4L548.7 193.7M531.3 189.5L555 208.7M513.6 145.9L495.9 157.7M543.5 90.3L540.5 71.8M566 96.4L552.6 76.1M571.5 99.2L578.3 78.1M552.3 195.1L568.9 192.5M543.6 94.5L516.9 108.2M523.3 98.7L528.8 91M505.6 149.3L502.8 119.4M587.7 132.5L589.8 162.7M582.8 178.5L586.2 178.6M515.4 127.7L512 142.6M508.9 164.2L504.3 169.8M525.3 102.1L515.1 98.7M557.9 86.1L586.6 94.3M543.8 95.3L557.5 88.2M559.6 93.6L572.3 97M557.3 187.5L556.8 204.5M593.2 143.4L585.7 174.9M536.3 100.1L542.7 93.7M582.6 175.4L575 187.5M545 180L530.6 184.3M522.6 115.2L529.2 101.4M547.4 183.9L549.4 190.1M582.8 139.3L585.2 158.5M504.1 125.3L506 180.6M507 153.8L499.3 151.3M574.7 105.3L586.8 122.6M541.8 197.1L527.1 195.5M514.6 149.4L510.6 152.6M575.7 106.3L562.4 89.5M503.7 146.1L497.6 153.3M581.1 112.5L584 101.8M507.3 137.8L495.1 141.7M548.9 84.9L553.4 53.6M583.2 113.9L593.2 142.7M518.5 94.6L517.1 90.9M516.7 139.8L514.3 143M577.1 181.2L568.4 191.7M559.9 178L583.3 158.5M550.6 181.3L543.1 185.7M582.3 97.9L622.9 147.1M593 146.1L587.5 175.4M534.1 179.4L494.6 144.7M592.3 161.2L573.7 192.7M529.5 185.8L517.9 186.8M542.5 80.2L531.8 59.6M511.1 107.5L505 101.9M544.9 183.6L548.1 190.3M548.7 81.3L561 75.4M543.6 90.4L519.4 98.3M584 130.4L594.9 127.9M564.5 193.2L532.7 208.8M591.1 161.5L585.1 179.8M585.2 172.3L595.4 161.6M588.5 162.9L577.2 204.6M567.2 181.4L563.7 187.6M582 167.1L574.8 186.5M519.6 173.8L528.4 197.5M584.4 112.7L586.4 112.4M526.4 181.2L509 177.5M592.5 147.9L600.5 160.6M512 145L492.8 147.3M517.3 102.9L479.7 83.4M536.3 187.6L503.9 177.3M558 186.2L590.7 164.5M536.7 180.5L505.3 172.2M531.5 87L508.2 105.8M517.2 155.3L515.2 160.6M568.9 105.4L576.4 108.4M573.7 182.4L574.4 187.9M565.1 192.7L552.1 209.2M530.3 102.4L504.6 118.4M581.4 124L577.1 103.2M509.5 167.6L500.6 127.6M558.9 180.9L546.9 186.4M522.5 112.7L527.7 90.5M513.1 135.3L498.6 158.4M541.3 180.8L518.6 215.9M587.3 109.1L594.1 115.7M551.2 181.4L538.6 186.5M576.6 93.9L558.1 79.4M586.7 136.1L591.8 140M535.6 188.4L516.3 181.1M561.3 94.7L615.1 110.8M558 195.8L548.6 203.4M572.6 106.6L580.7 112.2M581 168.8L563.5 195.6M576.1 172.2L563.4 201M537 179.6L527.4 186.7M513.5 134.6L514.2 114.6M513.9 143.5L514.7 163.8M512.6 136.9L508.8 133.5M557.5 195.5L555.8 200.2M507.1 156.5L502.2 152M535.3 177.6L569.6 184.3M513.3 109.8L513.2 100.6M512.7 138.4L516.8 166.3M591.7 146.1L592.3 174.1M581.4 124.6L557.7 77.5M509.8 126L508.3 95.9M521.9 95.6L500.5 69.1M585 174.8L594 111.4M512.2 125.2L499.8 119.4M542.2 187.6L557.6 199.8M520.4 112.5L537.4 80M516.5 148.4L511.5 143.9M541.2 91.4L521.7 88.8M590.6 140.9L589.8 118.8M511.7 122.5L505.4 142.9M545.5 195.9L546.3 202.7M514 165.8L503.7 128.5M589.9 136.2L592.8 175.8M510.3 166.2L515.2 190.7M586.8 107.2L565.3 77.6M533.4 179.2L531.7 180.9M508.8 126.8L508.8 165M564.8 93L561.7 82.8M565.5 182.5L585.9 176.5M560.9 181.3L550.3 189M519.6 120.9L462.3 152.7M556.4 181.6L536 199.9M581.4 118L588.6 146M519.3 166.6L518 169.3M560 95.8L557.1 69.1M591.3 141.9L583.6 100.5M581.8 160.7L586.7 159.7M588.7 132.3L585.9 109.3M583.3 178.2L561.7 199.5M558.8 195.7L577.1 192.3M584.9 169.7L595.2 158.5M519.9 113L505.8 125.7M530.2 103.8L507.7 67.4M534 186.5L508.7 172M559.9 178.5L542.8 187M561.7 177L560 209.6M572.1 86.8L543 74.2M552.7 185.8L556 198.9M576.5 93.9L574.9 74.4M508.5 162.7L494.8 149M518.9 183.4L508.6 172.8M542.2 195.5L530.6 201.5M584.5 128.9L586.4 165.4M573.9 99.9L593.9 112.7M575.6 183.9L583.2 183.9M519.6 174.5L534.6 192.2M515.2 135L497.2 135.4M584 104.4L516.9 75.9M522.9 108.9L538.9 86.4M589.1 112.4L602.5 105.5M502.9 140.3L515.8 192.1M526.7 179.7L575.7 202.5M594.7 149.4L600.9 145.9M519.5 106.6L512.5 112.1M578 185.2L578 213.8M544.2 87.4L503.8 99M540.2 185.7L536 201.8M511.8 148.2L500.4 154.1M532.8 181.5L540.2 192.1M588.2 137.2L591.4 128.1M537.1 186.4L569 190.6M523.1 169.5L513.9 160M530.7 101.8L526.4 100.6M551.8 83.2L578.8 94.5M523.7 165L532.8 180.2M578.7 122.2L606.6 115.9" stroke="#5a5a5a" stroke-width="0.45" fill="none" opacity="0.5"/>
<path d="M560 80L578 42M561.2 79.6L576.2 40.3M550 80L545 50M546.6 87.2L547.1 49.9M570 85L585 58M571.4 86.5L586.1 56.5M505 120L452 118M504.6 124.4L452.6 120.2M505 130L458 138M506.4 130.2L457.6 137.7M508 150L450 165M503.2 151.9L449.1 166.9M590 110L648 106M591.4 101.4L648.4 105.3M592 128L640 136M594.6 124.4L640.7 134.6M590 150L640 172M590.5 143L637.8 169.8M585 160L625 175M587.5 163L623 175.5M540 190L545 228M536.5 193.9L544.3 227.3M520 185L505 215M523.7 187.4L504.8 216.6M500 100L478 82M504.5 104.4L477.4 79.8M580 95L620 70M578.5 92.1L617.2 71.5" stroke="#666" stroke-width="0.5" fill="none" opacity="0.6"/>
<path d="M575.6 169.1h0M519.5 49.2h0M545 198.8h0M558.5 188.6h0M544.5 193.4h0M569.9 183.1h0M587.9 125.2h0M531.1 179.1h0M527.2 87h0M546.6 79.1h0M491.9 66.9h0M504.7 109.3h0M598 118.3h0M539.5 200.4h0M574.9 88.8h0M540.8 203h0M522.4 185.7h0M535.4 186.7h0M537.5 82.4h0M581.2 172h0M607.4 115.6h0M557.3 193.7h0M535.4 198.1h0M515.5 182.7h0M512.8 158.5h0M528.3 219.9h0M485.7 157.7h0M532.4 193.6h0M516.5 189.8h0M551.9 61.1h0M590.8 175.7h0M527 173.3h0M552.9 188.6h0M508 129h0M508.8 115.5h0M532.4 88.1h0M542.4 195.5h0M558.8 200.6h0M595.6 92.2h0M572.3 202.9h0M587.3 183.6h0M556.2 61.1h0M590.3 124.9h0M515.6 115.8h0M566.7 188.1h0M510.4 115.9h0M592.9 105.5h0M606.5 162.9h0M539.5 191.8h0M519.7 176.5h0M593 95.7h0M596.9 146h0M581 110.6h0M563.6 66.5h0M482.2 168.1h0M497.8 143.7h0M558.5 91.3h0M566.2 192.9h0M527.6 82.2h0M561.6 196.3h0M605.1 201.6h0M500.9 105h0M576.3 191.4h0M513.2 152h0M594.1 171h0M595 108.7h0M568.5 99.9h0M567.9 195h0M548.3 77.1h0M570.5 183h0M574.7 191.3h0M618.4 147.2h0M558.9 82.1h0M532.7 185.4h0M504.8 153.7h0M567.4 75.7h0M530.2 91.9h0M508.5 183.9h0M511 175.7h0M585.6 160.5h0M522.7 197h0M508 70.3h0M503.4 92.2h0M585.5 174.9h0M592.8 119.6h0M591.9 158.1h0M553.4 197.2h0M591.6 97.4h0M590.2 162.3h0M581 85.8h0M565.2 191.9h0M584 90.1h0M550.7 206.4h0M558.9 183h0M508.2 150.3h0M568 201.5h0M505.1 133.4h0M548.9 187.1h0M529.7 192.3h0M523.8 193.6h0M561.4 185h0M585.7 156.9h0M536.6 82.9h0M520.2 183.4h0M519.9 178.8h0M537.3 90.1h0M581.5 96h0M530 199.8h0M599.6 148.9h0M593.4 96.6h0M546.6 195.7h0M508.5 109.8h0M513.2 88.5h0M526.6 197.5h0M505.6 133.9h0M559.5 88.4h0M506.1 157.5h0M594.7 106.3h0M587.7 174.4h0M537.2 84h0M561.2 75.6h0M581.2 174.8h0M620 128.7h0M533.5 197.4h0M508.4 166.6h0M510.1 132.6h0M500.4 147.7h0M505.8 151.7h0M593 174.1h0M498.3 104.8h0M585.6 121.2h0M536.3 80.4h0M581.7 72.6h0M559.4 192.4h0M568.3 192.9h0M500.5 177.4h0M527.3 94.9h0M591.9 140h0M518.2 171.3h0M510.6 103.6h0M509.3 119.8h0M586 162.3h0M545.8 81.3h0M529.8 93.2h0M617.8 105.4h0M509 93h0M475 155.2h0M591.1 198.1h0M551 84.1h0M572.9 190.8h0M593.4 116.2h0M596.7 101.3h0M509.5 118.5h0M567.8 201.8h0M515.5 187.6h0M564.8 78.3h0M523.5 181.9h0M576.5 180.1h0M507.8 129.3h0M506.4 184.3h0M504.8 164.6h0M506.9 154.2h0M504.1 131.8h0M606.4 145.6h0M520.8 84h0M539.6 191.9h0M586.5 155.4h0M556 215.4h0M506.7 157.8h0M569.9 90.2h0M531.3 195.3h0M568.9 199.9h0M609.5 129.1h0M548.3 84.4h0M523.8 184h0M592.8 86.1h0M503.4 138.2h0M555.9 76.3h0M562 93.2h0M509.6 168.1h0M482.1 156.2h0M539.4 83.3h0M583.4 92.1h0M536.1 83.3h0M502.4 159.8h0M581.9 167.9h0M512.7 125h0M570.1 186.1h0M539 81.3h0M506.1 153.8h0M571.2 101.2h0M607.4 124.3h0M537 84.2h0M574.3 86.7h0M507.4 53.3h0M576.4 193.5h0M535.4 80.3h0M508.2 122.6h0M510.8 122.4h0M511.9 100.3h0M605.8 130.1h0M588 120.5h0M594.5 166.6h0M568.4 93h0M512.3 80.9h0M526.3 79.9h0M575.7 92.3h0M574.5 43.3h0M544.9 184.2h0M490 84.7h0M529.4 202.5h0M546 90.5h0M527.5 186.3h0M566.4 72h0M515.5 108.4h0M553.9 87.7h0M560 184h0M569 194.4h0M541.5 202.4h0M513.2 104.2h0M574.3 172.5h0M521 195.1h0M588.6 163.7h0M596 165h0M568.3 190h0M500.6 123.4h0M570.6 187.6h0M521 209.1h0M514.4 186.1h0M543 183.2h0M580.7 189.5h0M563.1 194.2h0M511.7 124.1h0M543.7 194.6h0M517.5 181.5h0M483.2 192h0M515.9 155.4h0M498.6 143h0M590.6 154.4h0M535 86.2h0M580.6 183.2h0M542.9 201.2h0M533.4 97.3h0M519.3 179.1h0M573 58.4h0M587.7 108.7h0M534.8 78.7h0M542 195.9h0M560.8 96.9h0M593.9 163.6h0M574 107.7h0M565.3 196.5h0M496.3 132.8h0M585.6 97.4h0M570.9 100.4h0M604.9 125.2h0M535.8 191.1h0M603.6 122.2h0M495.3 139.5h0M503.4 146h0M565.8 92.2h0M589.7 87.6h0M579.4 67.7h0M573.7 94.2h0M565.6 83.3h0M522.9 183.7h0M543.8 83.6h0M531.2 180.5h0M548.8 74.9h0M583.3 189.5h0M599.4 125.5h0M603.5 141.8h0M599.5 129.8h0M525.2 195.8h0M518.3 193h0M534.3 180.1h0M587.4 108.3h0M596.7 121.2h0M596.5 117.6h0M560.9 200.9h0M517.6 178.2h0M595.2 175.1h0M554.2 72.6h0M524.9 184h0M498.7 144.6h0M549.8 77h0M549.4 191.3h0M538.1 191.2h0M523.4 71.5h0M589.2 210.9h0M570 195.2h0M590.8 131.1h0M595.9 156h0M542 194.3h0M517.4 166.9h0M555.4 77.6h0M588.6 104.8h0M575.7 178.1h0M542.4 199.8h0M532.4 205.5h0M544.9 211.8h0M588.1 128.8h0M549.5 83.9h0M582.9 181.3h0M511.5 100.8h0M503 116.8h0M592.1 137.2h0M518.9 83.6h0M512.2 105.1h0M512.2 111.4h0M556.1 90.8h0M559.5 188.1h0M585.5 126.9h0M509.2 115.1h0M500.1 116.6h0M521.1 103.4h0M573 81.9h0M516.4 186h0M525.6 102.1h0M514.3 108.9h0M610.8 138.2h0M564.4 90.3h0M556.5 87.1h0M559.3 198.2h0M584.2 181.7h0M501.6 122.7h0M513.4 69.6h0M529 180.3h0M592 148.4h0M583.5 86.2h0M559.7 190h0M568.3 87.7h0M554.3 78.5h0M592.1 163.7h0M600.4 130.4h0M589.5 109.9h0M514.1 104h0M575.5 188.6h0M529.5 88.8h0M599.7 162.1h0M603.9 158.8h0M582 185.4h0M591.4 177h0M586.3 156.1h0M558.8 197.2h0M551.5 79.5h0M575.9 89h0M504.6 130.5h0M550.5 88h0M498.8 139.8h0M559.2 88.3h0M547.9 64.3h0M512.6 125.8h0M542.2 199.4h0M530.4 179h0M560.7 191.4h0M502 157.4h0M536.2 210h0M589.6 195.8h0M594.1 147.1h0M524.7 192.8h0M585.6 174.8h0M525.4 72.5h0M562.8 196.8h0M545.5 77.1h0M516.5 94.2h0M559.5 36.9h0M528.6 77.7h0M511.7 109.8h0M512.1 162.3h0M508.8 112h0M569.6 195.8h0M582 108h0M585.5 68.6h0M498.6 146.5h0M543.9 201.4h0M521.8 193.6h0M552 194.3h0M515.2 175.7h0M504.4 105.9h0M562.9 76.7h0M586.5 167.5h0M602.8 133.1h0M571.8 93.2h0M555.8 195.3h0M569.4 180.4h0M519.4 182h0M525.9 90.7h0M520.6 172.5h0M541.3 83.1h0M590.1 112.3h0M622.6 176.4h0M562.9 190.3h0M590.3 106.8h0M515 155.9h0M515.4 177.6h0M571.8 90.1h0M551.7 201.9h0M560.4 84.9h0M594.5 136.8h0M552 209.2h0M532.2 200.3h0M508.4 176.5h0M530.1 88.6h0M539 192.5h0M504.8 157.3h0M517.7 188.2h0M500.1 156.7h0M550.7 66.1h0M581.1 182.6h0M521.5 177.1h0M558.3 78.6h0M539.2 190.1h0M582.2 153.5h0M532.6 188.5h0M527.1 199.1h0M591.1 80.4h0M518.3 166.2h0M569.9 92h0M510.1 144h0M515.4 114.5h0M568.3 94.9h0M600.9 194h0M577.9 91.6h0M510.3 162.9h0M539.6 224.6h0M543.6 197.5h0M502.2 128.7h0M537.4 79.1h0M571.9 97.1h0M504.6 129.4h0M568.9 180.1h0M478.2 106h0M578.3 207.5h0M517.4 110.2h0M599.1 78.8h0M526.8 200.5h0M608.6 127.8h0M598.8 139.6h0M601.3 117.1h0M560 84.8h0M612.4 105.1h0M499.8 163h0M537.8 93.1h0M508.1 137.3h0M513 166.5h0M595.3 121.6h0M535.1 208.5h0M498.1 109h0M552.4 190h0M588.9 131.6h0M519.9 176.2h0M508.9 145.8h0M582.4 99.9h0M502.6 107.4h0M511.1 170.2h0M565.2 195.7h0M576.6 99.5h0M577.4 97.7h0M580.8 171.8h0M584.4 89.9h0M543.5 88h0M524.9 42.5h0M516.4 172h0M501.9 100.8h0M522.8 105.4h0M582.8 165.8h0M508.2 184.8h0M511.5 106.5h0M497.8 174h0M597.3 120.2h0M578.6 189.7h0M517.8 106.6h0M594.2 131.5h0M600.9 134.1h0M526.1 194h0M539.7 199.9h0M585 84.2h0M505.2 108.6h0M543.2 190.8h0M580.8 84.2h0M577.2 98.1h0M499 136.8h0M599.4 124.6h0M597.1 123.2h0M506.2 166.7h0M586.8 121.8h0M512.4 94.6h0M513.2 168.3h0M502.6 118.6h0M585.3 116.5h0M546.6 67.3h0M526.6 180.8h0M571.2 51.4h0M485.3 180.3h0M582.3 181.9h0M512.1 122.7h0M588.3 149.9h0M531.9 87.7h0M581.8 93.1h0M562.7 195.8h0M581.4 108.5h0M530.9 180.3h0M597.3 150h0M577.2 67.3h0M589.2 131.3h0M532.5 192.5h0M529.2 81.3h0M577.1 187.8h0M594.6 167.5h0M593.5 114.8h0M586.4 88.8h0M538.5 91.8h0M501.1 132.6h0M559.8 189h0M552 195h0M527.9 87.7h0M582.8 104.3h0M511.8 114.8h0M532.9 87h0M573 76h0M501.2 166h0M524.4 173.8h0M588.1 200.3h0M572.5 206.2h0M574.7 188.9h0M573 179.8h0M587.4 119.1h0M512.2 169.7h0M558.2 82.5h0M590.1 154.4h0M528 67.5h0M487.5 140.4h0M506.4 96.8h0M598.2 147.6h0M526.7 185.3h0M565.3 200.5h0M548.5 195h0M524.2 88.4h0M506.4 128.9h0M558.5 91.2h0M547.2 77.5h0M516.2 123.5h0M590.5 173.8h0M553.2 80.2h0M537.8 185h0M532.9 203.9h0M570.9 89.4h0M505.8 174.6h0M515.2 179h0M590.5 180.1h0M508.9 189.7h0M505 129h0M551.7 196.3h0M517 107.1h0M500.1 119h0M532.6 86.9h0M578.3 99h0M503.5 145.6h0M579.5 97h0M487.7 112.1h0M544.3 71.1h0M564.9 186.1h0M513.5 109h0M583.7 171.2h0M499.8 111.7h0M512.1 183h0M586.4 178.7h0M524.8 97.4h0M590.9 145.2h0M544.4 78.7h0M594.7 149.6h0M584.8 189.8h0M521.9 101.1h0M555.1 206.4h0M586.9 173.8h0M568.4 190.9h0M498.7 136.4h0M518.1 87.4h0M498.4 110.9h0M497.8 126.1h0M567.4 82.5h0M530.8 83.1h0M552.4 66h0M549.2 214.3h0M608.4 137.8h0M497.6 159.3h0M571.2 95.1h0M514.3 183h0M517.7 160.5h0M469.7 162.9h0M603.8 139h0M568.4 78.9h0M533.1 89.3h0M585.6 95.7h0M534.5 92.5h0M601.8 116.9h0M578.2 95.1h0M561 212.7h0M528.8 80.8h0M582.7 129h0M514.1 127.9h0M508.9 121.6h0M522.6 85.4h0M533.8 96.4h0M519.3 199.6h0M548.2 188.5h0M573.6 189.4h0M535.9 198.4h0M506.2 129.2h0M581.9 181.3h0M530.8 66.8h0M594.8 130.8h0M543.6 205.7h0M544.8 190.2h0M529.3 197.6h0M553.7 211.5h0M594.3 119.2h0M568.2 191.6h0M520.5 89.8h0M521.1 79.7h0M540.3 220h0M591.9 130.3h0M530.6 88.5h0M528.1 185h0M560.8 71.4h0M543.8 77.4h0M575.2 87.1h0M577.7 177.9h0M506.4 103.8h0M511.4 90h0M513.4 195.3h0M584.6 127.7h0M604.6 126.9h0M538.2 95.7h0M560.9 198.2h0M531.2 94.8h0M587.1 89.5h0M582.6 107.2h0M505.2 182.1h0M522.1 174.6h0M561.1 182.3h0M466.6 123.6h0M532.5 63.7h0M510.2 178.1h0M604.4 148.9h0M566.5 195.9h0M509 146.7h0M514.3 93.4h0M595.3 112h0M509 177.4h0M545 80.6h0M556.9 85.2h0M538.9 87h0M540.7 88.9h0M615.1 87.1h0M581.1 179.6h0M591.9 126.1h0M577.8 85.8h0M559.8 69.6h0M502.1 134.2h0M541.8 192.3h0M518.7 185.2h0M581.4 196.3h0M579 191.5h0M531.1 190.2h0M613.5 171h0M585 116.2h0M547.3 215.1h0M529 84.3h0M543.2 77.4h0M556.3 88.7h0M562.8 54.8h0M569 189.6h0M583.2 193.4h0M599.7 152h0M593.5 125.2h0M528.2 54h0M573.1 99.4h0M581.4 180.4h0M532.9 190.2h0M556.4 192.7h0M563.3 219.1h0M535.4 70.9h0M599.9 123.4h0M505.6 128.5h0M504.3 153.7h0M558 217.2h0M542.4 209h0M517.5 77.9h0M596 138.2h0M607.4 109.6h0M483.9 148.1h0M524.4 95.5h0M580.8 204.2h0M528.6 197.4h0M572.9 80.9h0M474.3 176.5h0M534 78.2h0M573.3 199.9h0M585.3 165.6h0M560.3 194.2h0M620.1 175.3h0M573.3 183.4h0M587.3 129.5h0M507.8 97h0M582.6 97.1h0M498 113.2h0M515 91.7h0M520.6 172.7h0M606.7 182.4h0M514.4 133h0M573.7 192.3h0M497.8 144.5h0M571.2 80.5h0M491.8 171.5h0M552 89.3h0M546.8 212.3h0M534 193.6h0M502.2 118.8h0M511.4 102.4h0M555.7 80.7h0M532.4 195.3h0M526.9 86.2h0M577.3 171.8h0M516.8 83.2h0M597.6 122.4h0M506.7 121h0M482.4 191.2h0M500.6 134.6h0M568.9 198.2h0M504.2 113.7h0M524.8 177.8h0M542.6 188.6h0M516.6 112.6h0M511.4 106.6h0M577.4 96.5h0M517.1 104.1h0M546.8 186.9h0M585.8 181.8h0M511.9 116.5h0M550.6 77.8h0M528.1 179.5h0M574.5 96.9h0M503.7 123.3h0M558.5 191.8h0M552.4 202.7h0M564.6 188.5h0M522 181.7h0M529.6 90.1h0M588.7 116.7h0M575.3 87.4h0M527.1 85.1h0M574.1 202.2h0M551.4 184h0M527 103.2h0M595.7 83h0M560.4 88.6h0M529.7 76.6h0M531.1 187.7h0M503.1 118.4h0M590.8 136.3h0M507.3 131.2h0M532.7 77.1h0M572.1 177.9h0M560.3 94.8h0M498.2 132.9h0M583.3 135.8h0M587.2 100.3h0M496.9 166.5h0M541.7 71.8h0M509.8 118.7h0M565 191.8h0M598.3 128.1h0M536.4 62.9h0M586.6 195.3h0M590.8 114.7h0M505.3 192.1h0M582.3 163.2h0M510 96h0M500.3 131.9h0M548.4 91h0M592.3 114.1h0M593.3 174.7h0M528.8 86.3h0M519.9 164.1h0M503.6 105.1h0M519.9 93.3h0M558.1 69.2h0M564.2 86.5h0M511.4 101.6h0M504.6 129.1h0M492.9 131.3h0M510.5 120h0M498.3 146.4h0M596.7 144.1h0M589.9 201.6h0M567.1 187.5h0M576.5 70.5h0M589.1 177.2h0M502.7 161.3h0M524.3 190.4h0M534.2 72.3h0M563.9 207.2h0M593 186.8h0M563.9 88.4h0M544.6 78.4h0M557.5 81.4h0M585.5 114.8h0M509.9 204.5h0M592 120.3h0M514.9 107.5h0M593 126.8h0M535.3 88.3h0M606.7 121.3h0M523.5 187.3h0M476.9 161.3h0M502.3 156.1h0M519.9 102.8h0M598.7 111.1h0M530.9 190.2h0M538.2 82.5h0M470.9 141.7h0M505.3 127.4h0M504.5 175.7h0M488.8 116.2h0M545.8 193h0M592.3 141.3h0M556.8 192.7h0M588 105h0M504.4 106.9h0M580 95.3h0M589 108.7h0M502.9 114.6h0M589.6 195.9h0M589.3 114.9h0M566.3 194.6h0M583.7 161.3h0M514.2 167.5h0M507.6 130.6h0M526.2 184.2h0M589.4 133.6h0M541.7 77.8h0M524.1 99.1h0M494.8 133.4h0M506.6 107.7h0M527.5 100.9h0M508 130.1h0M614.5 131.4h0M589.3 121.5h0M581.1 93.9h0M511.8 108.7h0M574.8 184.8h0M510.2 179.8h0M546.9 203.2h0M580.3 97.7h0M585.7 174.9h0M585 104.6h0M574.4 88.8h0M598.6 140.5h0M527.9 93.1h0M504.3 155.4h0M521.1 188.3h0M562.1 76.9h0M538.1 184.6h0M503.2 144.8h0M512.7 143.1h0M515.9 187.2h0M563.4 205.7h0M604.7 143.1h0M518.5 100.2h0M595.1 171h0M571 194h0M548.9 69.2h0M588.6 90.9h0M515.8 90.6h0M513.6 82.9h0M584.1 134.1h0M528.2 97.4h0M586.3 173.4h0M614.2 162.2h0M555 73.8h0M598 147.6h0M507.3 151.4h0M550.4 190.7h0M562.9 183.1h0M549.9 186.7h0M520.7 102.4h0M574 86.9h0M546.5 195.9h0M505.5 112.8h0M490.2 86.4h0M590.9 168.6h0M554.7 88.6h0M570.9 190.7h0M615.2 113.5h0M567 188.2h0M541.9 186.1h0M552.1 200.2h0M574.5 89.7h0M579.9 113h0M549.1 209.6h0M570 96.5h0M505.9 89.6h0M529.1 81.6h0M560.4 185.8h0M507.6 196.3h0M527.2 193.1h0M507.3 169.8h0M505.3 170.3h0M589.6 150.3h0M507.2 137h0M596.6 155.1h0M537 79.3h0M533.2 84.7h0M508.7 165.6h0M603 150.3h0M508.4 150h0M571.2 84h0M582.4 88.1h0M596.7 191.1h0M548.7 193.7h0M555 208.7h0M495.9 157.7h0M540.5 71.8h0M552.6 76.1h0M578.3 78.1h0M568.9 192.5h0M516.9 108.2h0M528.8 91h0M502.8 119.4h0M589.8 162.7h0M586.2 178.6h0M512 142.6h0M504.3 169.8h0M515.1 98.7h0M586.6 94.3h0M557.5 88.2h0M572.3 97h0M556.8 204.5h0M585.7 174.9h0M542.7 93.7h0M575 187.5h0M530.6 184.3h0M529.2 101.4h0M549.4 190.1h0M585.2 158.5h0M506 180.6h0M499.3 151.3h0M586.8 122.6h0M527.1 195.5h0M510.6 152.6h0M562.4 89.5h0M497.6 153.3h0M584 101.8h0M495.1 141.7h0M553.4 53.6h0M593.2 142.7h0M517.1 90.9h0M514.3 143h0M568.4 191.7h0M583.3 158.5h0M543.1 185.7h0M622.9 147.1h0M587.5 175.4h0M494.6 144.7h0M573.7 192.7h0M517.9 186.8h0M531.8 59.6h0M505 101.9h0M548.1 190.3h0M561 75.4h0M519.4 98.3h0M594.9 127.9h0M532.7 208.8h0M585.1 179.8h0M595.4 161.6h0M577.2 204.6h0M563.7 187.6h0M574.8 186.5h0M528.4 197.5h0M586.4 112.4h0M509 177.5h0M600.5 160.6h0M492.8 147.3h0M479.7 83.4h0M503.9 177.3h0M590.7 164.5h0M505.3 172.2h0M508.2 105.8h0M515.2 160.6h0M576.4 108.4h0M574.4 187.9h0M552.1 209.2h0M504.6 118.4h0M577.1 103.2h0M500.6 127.6h0M546.9 186.4h0M527.7 90.5h0M498.6 158.4h0M518.6 215.9h0M594.1 115.7h0M538.6 186.5h0M558.1 79.4h0M591.8 140h0M516.3 181.1h0M615.1 110.8h0M548.6 203.4h0M580.7 112.2h0M563.5 195.6h0M563.4 201h0M527.4 186.7h0M514.2 114.6h0M514.7 163.8h0M508.8 133.5h0M555.8 200.2h0M502.2 152h0M569.6 184.3h0M513.2 100.6h0M516.8 166.3h0M592.3 174.1h0M557.7 77.5h0M508.3 95.9h0M500.5 69.1h0M594 111.4h0M499.8 119.4h0M557.6 199.8h0M537.4 80h0M511.5 143.9h0M521.7 88.8h0M589.8 118.8h0M505.4 142.9h0M546.3 202.7h0M503.7 128.5h0M592.8 175.8h0M515.2 190.7h0M565.3 77.6h0M531.7 180.9h0M508.8 165h0M561.7 82.8h0M585.9 176.5h0M550.3 189h0M462.3 152.7h0M536 199.9h0M588.6 146h0M518 169.3h0M557.1 69.1h0M583.6 100.5h0M586.7 159.7h0M585.9 109.3h0M561.7 199.5h0M577.1 192.3h0M595.2 158.5h0M505.8 125.7h0M507.7 67.4h0M508.7 172h0M542.8 187h0M560 209.6h0M543 74.2h0M556 198.9h0M574.9 74.4h0M494.8 149h0M508.6 172.8h0M530.6 201.5h0M586.4 165.4h0M593.9 112.7h0M583.2 183.9h0M534.6 192.2h0M497.2 135.4h0M516.9 75.9h0M538.9 86.4h0M602.5 105.5h0M515.8 192.1h0M575.7 202.5h0M600.9 145.9h0M512.5 112.1h0M578 213.8h0M503.8 99h0M536 201.8h0M500.4 154.1h0M540.2 192.1h0M591.4 128.1h0M569 190.6h0M513.9 160h0M526.4 100.6h0M578.8 94.5h0M532.8 180.2h0M606.6 115.9h0M578 42h0M545 50h0M585 58h0M452 118h0M458 138h0M450 165h0M648 106h0M640 136h0M640 172h0M625 175h0M545 228h0M505 215h0M478 82h0M620 70h0" stroke="#4a9c96" stroke-width="1.4" stroke-linecap="round" fill="none" opacity="0.85"/>
<defs><radialGradient id="g3"><stop offset="0" stop-color="#2f7f7d"/><stop offset="0.6" stop-color="#328a73"/><stop offset="0.82" stop-color="#3b6e5e" stop-opacity="0.9"/><stop offset="1" stop-color="#5a6a64" stop-opacity="0"/></radialGradient></defs>
<ellipse cx="549" cy="139" rx="51.5" ry="66.1" fill="url(#g3)"/>
<path d="M522.5 147.1L525.8 153.2M572.2 109.1L576.7 111.1M510.4 158.8L508.7 148.2M569.2 173.4L582.1 174.8M529.6 115.4L518.4 115M587.9 132.5L592.8 133.7M522.7 135.3L526.3 136.8M542.1 94.8L547.5 100.2M529 184.2L538.8 192.1M542.6 159.5L553.2 167M569.6 180.9L566.8 177.3M534.3 112.1L523.8 114.5M558.7 186.6L558.3 191M577.8 112.4L570.6 102.4M575.5 166.9L579.3 162.2M517.3 92.9L516.7 97.6M567.1 141.5L572.4 133M528.8 174L526.1 185.7M556.7 120.5L562.7 119.1M526.7 169.7L518.8 166.2M511.6 135.7L505.1 138.6M542.1 148.4L530.7 151.8M563.7 166.3L564.7 179.6M566.2 149.5L555.5 144M518.9 114.5L511.2 107M537.1 185L545.2 193.2M533.4 143.5L540.5 143.1M576.7 148.7L578.1 144.9M526 136.2L525.7 127.1M565.3 106.5L556.8 116.3M553.4 143.2L550.2 144.1M563 161.3L561.7 167.6M545.2 191.6L539.6 187.1M548.6 89L546.6 78.8M549.8 149.3L547.4 151.7M520.1 162.7L519.3 172.9M514.4 147.9L513.9 134M530.4 91.4L534 89.6M582.6 147.9L584.6 139.8M562.3 95.7L570.1 104.2M556.8 101.4L554.4 93M511.6 143.7L523.7 140.2M547.2 161L537.8 161M554.9 134.4L558.5 135.8M544.9 104.6L558.5 105M521.6 152.4L511.5 143M515.4 148.8L520.1 147.2M533.7 173.3L530 177.3M522.7 179.7L518.1 171.1M525.8 140.6L523.3 145.4M580.7 109.2L581.1 114.3M591.3 132.3L583.2 128.8M548.5 184.8L550.5 187.8M519.9 153.6L526.5 155.9M575.5 168.7L578.2 162.2M540.3 186.6L552.6 189.1M522.2 125.2L517.3 128.6M587 144.6L599.3 148.1M552.5 143.4L560.4 142.2M517.3 157.1L505.8 162.3M540.1 155.2L539.3 161.7M506.1 119.1L504.6 125.1M555.4 151.4L549.7 155.5M571.6 120.2L575 121.8M548.6 142.3L552.1 138.9M570 148.2L571.4 140.3M524.4 135.9L520.9 146.3M548.7 157.5L549.8 147M534.6 155.7L539.7 147.6M569 163.7L558.7 157M569.7 116.8L575.7 122.8M554.6 150.4L551 153.7M525.5 92.6L525.9 106.3M542.4 103.8L534.8 106.2M535.9 111.3L540.1 118.2M546.8 194.6L534.9 200.8M544.7 134.8L547.4 133M554.3 111.7L563 112.9M568.8 176.2L564.2 179.2M539.1 123.8L536.3 134.5M574.1 124.9L569.1 134.9M540.1 121.1L529.3 113.7M546.2 171.8L557.3 170.2M563.4 112.6L556 108.7M531.9 156.6L526.8 154.6M576.6 133.2L588.3 135.5M532.2 174.6L524.8 185.8M537.6 93.1L525.9 94.1M535.8 173.2L537.3 186.3M516.5 141.6L518 144.6M534.8 175.2L535.6 168.5M517.2 152.9L509.4 164M554.4 174.2L565.4 174.5M588 142.2L592.8 141.3M517.3 106.6L524 106.4M533.1 150.9L529.1 147.8M534.9 144.5L547.9 148.5M516.7 166.5L514.5 180.1M507.4 149.8L512.6 154.2M553.1 147.7L546.8 148.1M568.4 87.3L556.7 86M576.9 107.6L575.9 98.8M524.8 116.2L529.4 103.6M519.4 103.4L520.5 98.5M568.6 187.2L573.9 186.5M561.9 119.4L572.9 119.9M571.7 182.6L575.2 175.2M526 147.3L515 152.4M566.2 101.2L572.3 107.9M530.6 149.3L527.9 143.2M565.6 128.2L567.1 132.1M561.2 109L559.7 104.5M571.8 137.1L580.5 139.2M521.2 133.5L525.1 131.2M585.4 132.4L597.6 128.9M572.5 153.9L576.8 160.6M557.1 156.7L559.8 159.7M547.9 128.6L549.8 123.4M557.4 123.7L560.6 131.1M556.1 115.7L558.4 123.3M565.5 112.3L568.6 114.4M541.4 99.9L552.6 98.4M577.7 99.4L572.1 88.3M549.1 159.6L560.6 154.1M552.8 135.5L564.1 131.4M511.9 159.2L509.4 155.9M546.7 155.4L537.3 152.9M563.6 80.2L552.9 71.2M549.2 147.5L544.9 148.7M521.3 145L517 145M527.2 119.9L531.1 116.3M541.5 86.8L537.5 77.3M510.1 127.9L512.7 141.5M538.2 107.6L544.6 117.5M578.8 158.6L579.2 165.6M533.8 173.6L543.9 174M584.5 139.1L585.4 128M526.2 144L536.7 144.2M568.7 169.5L571.9 172.7M588.4 114.5L581.2 109.7M516.5 124.5L521.6 123.5M503 129.6L492.8 133.6M564.9 119L564.5 127.5M584.2 139.9L587.3 133.8M565.1 116.5L572.1 114.8M558.9 165.2L563.4 161.6M559.6 177.8L562.4 174.7M568.3 162.6L572.9 173.7M537.7 134.8L541.6 136.7M571.1 143.7L565.5 149.5M516.3 175.4L514.8 187.8M541.4 191.5L538.6 204.6M558.1 159.1L567.4 154.1M517.1 113.4L521.6 101.5M556.1 97.8L543.2 100.9M572.2 188L564.8 186.8M531.5 122.9L534.8 131.5M537.4 145.5L537.8 156.9M541.6 169.8L538.8 167.6M560.7 120.4L564.5 117.3M529 118.9L536 121.3M579.7 115.7L582.6 109.8M565.9 178.1L571.8 189.1M557.9 102.1L564 114.6M517.4 126.3L521.2 125.2M560.3 91.5L563 86.6M541 135.7L531.4 125.7M535.4 179.8L537.5 166M581.3 103.2L585.2 110.3M570.7 132.8L564.9 127.1M567.3 184.7L571.3 182.6M569.3 159L562.3 148.6M559.9 102.2L567.7 108.1M564.7 189.4L564.2 197.4M545.1 123.6L546.8 127.4M543.1 135.8L544.6 138.6M537.9 168L544.4 179.5M581.4 117.8L569.9 121.9M571 88.6L569.4 84.1M530 178.3L524.3 182.7M585.2 123.2L579.4 113.8M576.5 163.3L566.7 164.2M552.4 189.7L557.2 195M551.6 152.2L548.5 165.7M556.7 97.3L548.2 103.4M520.1 97.1L523.7 92M535 90.1L521.1 89.2M516.5 128L518.8 138.7M517.9 154.3L521.8 166.2M542.2 97.1L535 97.9M560.6 91.7L569.3 84.4M548.6 182.4L536.2 177.1M574.8 150.1L581.3 151.4M566.7 182.2L554.3 183.8M527.2 109.3L535.5 119.3M542.5 104.7L535.9 100.2M512.8 147.6L521 137.8M561.1 164.3L556.4 162.2M570.6 104.6L568 99.8M524.9 136L526.8 147.2M542.6 96.3L549.7 99.3M567.3 179.9L570.8 183.3M586.2 159.5L580.2 160.5M520.1 168.1L520.7 173.5M536.3 128.9L524.6 127.9M572.5 176.2L580.4 187.7M581.6 127.9L588.5 129.4M554.1 165.5L564.9 174.2M564 162.7L571.8 152.4M544.7 171.3L546 166.9M512.6 164.1L511.7 158.2M551.6 165L548.4 162.6M583.5 152.4L585 164.4M510.1 115.8L510.7 108.1M535.4 121.3L543.1 112.7M565.8 158.3L564.7 148.3M559.6 154.8L547.9 162.4M546.2 90.6L549.6 93M522.5 142.8L518.5 143.4M547.5 152.2L556.7 155.2M520.7 137L512.4 134.5M545.1 89.9L533.6 90.2M568.8 166.7L577.2 166.6M564.3 165.7L564.5 154.4M558.2 152.1L566.5 155.3M562.8 135.3L562.7 131.6M515 145.8L511.6 147.5M539.1 133.4L543.3 131M537.9 194.3L534.4 207.6M544.8 109L545.9 115.1M537.8 108.1L549.8 109.3M585.1 135.6L586.9 122.7M569 135.1L578 143.5M580 134.5L570.3 140.4M558.1 178.4L558.7 174.1M531.6 136.8L533.6 133.6M582 123.4L594.2 119.7M568.2 163.1L577.2 169.2M521.8 177.4L524.6 175.4M546.3 181.6L539.9 184.4M553.5 104.1L562.4 97M546.8 162.3L540.9 168.2M553.7 94.5L547.8 90.7M579.9 105.7L567.6 103.8M520.2 105L525.8 101.2M546.5 142.4L544.2 139M538.3 172.3L544.1 174.7M587.1 125.8L576.8 129.9M510.8 113.1L500.9 105.8M511.6 147.4L507.5 153M570.9 139.7L558.7 144.3M538.4 150.8L535.6 157.6M565.9 142.7L570 140.8M543.1 151.8L531.8 151.1M545.7 92.1L548.8 79M532.1 111.7L537.1 113.6M567 160.6L576.6 166.6M528.1 135.5L536.7 127M534.8 131.9L535.4 144.9M527.2 151.4L521.7 149.1M583.7 145L589.2 138.2M505.9 123.5L502.9 120.3M542.3 141.5L542 130.5M565 132.5L573.3 133M525.4 129.4L528.8 126M543.7 129.1L545.6 132.7M545.3 141.7L541.6 152.5M520.2 150.2L532.7 151.8M590.7 136.1L577.3 137.7M514.3 155.9L518.1 153.3M540 128.4L544.7 126.7M517.3 158L520.8 169.8M577.6 135.4L577.7 140.6M515.7 162.8L512.5 155.1M557 156.3L567.9 158.5M584.4 113.8L589.5 120.9M527.8 92.3L526.5 95.9M513.7 111.4L507.8 117.9M521.7 102.1L519 110.8M542.2 106.4L555.5 102.5M549.2 120.6L553.9 120.4M512.4 126.4L510.9 129.5M573.9 159.7L571.1 157.5M511.4 145.4L514.5 153.2M582.5 119.8L588.1 125.3M539.3 172.8L531.4 183.9M530.6 133.6L528.3 135.8M547.9 124.5L541.9 125.2M547.4 111.2L545.6 107.6M572.6 145.5L568.7 148.9M529.3 134.8L528.8 139.8M566 136.6L564 144.8M519 142.2L515.6 154.2M543.3 167.4L537.7 168.2M542.5 118.5L540 121.7M545.6 159.9L540 161.7M518.4 138.9L517.9 144.5M564.9 156.3L556.6 160.9M563.6 130.8L569.9 135.9M574.6 125L573.3 138.2M514.3 155.7L521.1 148.9M527.6 141.1L540.7 144M569.8 111.7L573.5 112.4M518.4 138.6L526.3 141.7M535.1 85L529 95.6M550.1 156.9L551.3 162.6M545.8 109.1L542.6 110.2M541.1 98.4L535.1 94.5M560.4 130.2L549.8 130.1M523.4 153.1L520 150.3M537.9 165.9L551.8 164.5M576.9 151.6L588 153.4M567.1 85.3L562.7 86.6M585.3 160.3L590.4 161.7M525.1 129.3L525.1 125.1M528.2 126.5L540 124.1M530.5 102.2L534.3 93.8M534.9 113.4L524.7 120.2M563.3 162.8L559.6 160.9M550.7 85.9L558.4 94.1M535.4 135.8L539.7 137.1M522.1 111.7L522 101.6M545.1 191.2L547.2 177.6M570.9 167.1L559.4 167.8M578.8 108.3L580.8 117M573.4 160.3L565.1 156.8M555.9 127.3L552 127.5M582.7 154.1L576.1 163.3M570.1 188.1L571.1 193.2M525.7 178.7L526.1 184.3M557.8 142.7L566.7 138.2M523.5 140.7L524.6 146.6M519.8 137.3L516.8 128.3M560.7 101.2L552.7 93.6M562.8 186.1L557.3 178.9M539.8 162.5L544.2 149.3M543 101L536.5 103.5M571.4 132L583 129.5M523.4 100.6L519.1 98.8M568.3 96.2L564.3 106.1M512 117.3L508.8 125.6M518.9 121.4L526.2 123.4M531.7 146L531 139M519.8 150.5L517.8 156.3M558.5 99.2L568.2 97.4M567.7 167.7L566.4 155.3M539.2 195.4L537.3 198.3M512.8 144.8L518.5 149.4M568.5 95.7L558.3 98.6M560.1 108.8L563.7 102.3M592.6 164.6L585.7 174M527.3 153.6L531.2 153.8M541.2 120.8L536.9 115.5M576.6 175.9L580.5 179.6M560 180.7L566.4 169.8M529.9 138.3L527 133.2M543.3 105.6L536.8 117.9M555 80L550.2 74.3M529.1 167.4L525.8 165.7M548.9 171.6L544.9 168.3M577.4 142.6L588.7 137.1M537 108.1L541 109.6M581.3 144.7L571.1 151.6M542.9 167.2L529.7 167.3M572.6 130.8L568 134.8M518.9 118.7L507.3 121.2M543.5 193.9L552.3 204.5M557.3 110.2L558.6 114.2M522.3 121.3L525.6 112.5M508.8 149L505.1 160.9M579.8 123.1L575 121.5M554.8 150L564.2 144.7M515.6 136.5L512 137.5M582.5 165.8L580.1 161.9M548.1 130.8L544.5 124.7M581.9 166L578.2 167.5M535.2 155.1L545.8 147.7M525.2 166.5L527 173.2M562 121.9L562.9 118.8M584.5 125.1L583.7 117.1M509.6 156.6L504.8 168.7M577.2 160.4L579.2 151.2M545.2 152.8L541.4 157.1M571.7 124.1L568.9 134M575.8 183.9L566.2 189.1M567 136L569.8 145M558.5 140.1L558.5 136.8M559.7 186.7L549.1 188.3M518.8 155.1L510.5 155.3M519.7 141.5L511.9 149.2M588.9 117.3L593.9 119.5M586.1 123.9L581.7 129.8M551 137.4L552.5 131.5M512.1 165.7L523.1 173.6M531.5 91L534.3 98.3M585.2 125.6L591.5 120.7M553.5 128.6L558.4 126.3M586 172.3L580.5 180.9M566.4 92.7L573.2 93.3M588.5 137.9L588.1 124.7M584.1 143.9L586.2 141M524.4 95.6L516.2 93.1M536.9 130.2L543.4 131.8M576.8 173.9L572 168.3M521.7 126.7L520.1 118.4M542.7 160.2L548.4 164M547.5 132.2L536.9 141.1M541.4 100.6L539.9 108.7M577.6 151L583.1 147.9M530.8 99.3L529.4 112.2M561.1 143.7L556.5 137.9M530.5 101.8L526.5 104.5M538.5 96.7L540.1 103.9M546.7 122.2L549.8 111M547.5 133L548 123.8M527.4 128.6L539.1 131.3M533.9 159.6L529.9 156.5M556.5 110.3L543.2 113.4M526.5 137.6L537.3 143M545.3 162L545.1 169.7M579.3 178.7L583.4 165.9M528.7 183.8L533.4 193.5M586.1 144.7L586.3 149.2M581.3 120.1L585.7 125.1M585.4 146.6L593.6 141.5M570.5 94.9L569.6 86.8M561.8 100.1L573 97M582.2 130.1L577.2 130.7M537.7 121.9L534.3 113.1M576.5 182.4L572.4 184.7M540.9 127L530.3 118.1M574.8 118.5L562.2 117.7M574.8 114.9L568.7 106.1M517.5 170.4L506.3 165.6M552.9 119.2L551.7 124.8M508.3 127.9L515.7 120.4M561.2 180L561.8 183.1M518.9 180.7L517.3 178.1M565 100.7L557.2 96.6M530 176.1L517.6 173.9M562.6 146.5L562.6 132.6M532.4 109.6L538.7 107.9M531.5 143.4L526.3 151.5M575.4 176.7L570.4 167.9M518.7 158.7L512.2 157.1M565.4 105.9L554.5 106.6M519.5 125.5L523.3 122.6M542.2 142.4L539.5 139.7M545.4 160.1L542.1 147.4M578.7 111.6L581.6 110.1M581 142.8L582.1 147.9M574.6 146.6L583.3 149.3M563.5 98.1L565.4 89.9M512.9 117.4L516.2 115.1M526.5 124.7L517.2 117.8M526.5 145.1L529.1 150.3M519.7 150.2L519.6 153.4M527.9 132.6L536.5 134.3M567.5 152.8L564.8 149.9M551.7 124.6L543.3 114.6M562.8 119.8L564.3 115.8M514 176.6L523.1 173.4M548.6 106.8L553.8 102.3M574.1 163.1L572.2 153.3M533.2 155L535.9 144M535.4 103.7L535.5 110.6M561.8 108.4L558.8 103.4M567.9 177.6L566.5 190.3M507.8 152.6L507.8 164.3M537.5 163.4L526.4 161.7M511.4 141.3L506.7 135.5M575.4 170.5L572.5 169.3M517.2 149.3L514.1 145M514.8 144.6L518.5 138.5M567.5 179.9L556.5 177.9M563.7 136.6L558.8 134.8M571.7 122.6L568 112.7M527.5 99L520.4 103.8M577.2 179.5L569.7 168.3M537.4 185.3L534.7 182.5M532.7 107.6L525.3 118.8M569.7 98.2L567.7 105.1M588 138.7L593.4 133.2M562.4 143.6L550.5 136.7M526.8 129.1L520.8 119.6M566.7 163.5L571.7 165.4M522.6 145.1L530.9 135.7M543.3 120.5L542.5 109.2M570.3 143.6L561.8 135M582.2 118L579.7 106.5M539.7 164.8L548.6 168.8M576.3 131.8L567.8 125.6M566 87.5L573 92.1M581.8 175.2L582.1 184.6M544 142L547.8 142.6M539.3 111.4L546.5 110.1M524 130.7L518.5 135.2M572.8 128.4L573.4 125.1M548.3 146.1L546.4 143.8M578.7 150.2L573 158M510.7 152.4L507.7 154.8M576.3 145.7L577.4 132.4M558 180.7L557.2 193.2M523.6 136.5L523.8 149.7M537.4 96.2L540.6 82.9M562.1 148.6L571.2 138.6M568.1 108L564.4 95.2M526.2 134.7L526.7 148.5M537 121L539.5 117.5M585.6 138.3L591.4 145.5M578.1 115.7L576.8 118.9M546.7 109.4L554.4 120.7M552.3 119L558 113.3M557.4 154.5L560.9 152.7M510.5 129L517.5 123.2M590.3 149.3L594.3 154.6M544.7 129.2L545.8 126.4M540.6 94.4L539.8 98.8M558.3 91L548.9 81.2M560.7 92.8L556.3 92.5M540.2 122.6L539.5 109.1M532.2 91.1L537.7 90.5M529.8 174.8L526.3 173.6M587.7 163.1L590.9 164.8M540.4 175.5L548.5 178.8M578.4 181.6L581.6 184.9M536 86.4L548.7 91.2M516.3 145.4L524 137.9M566.9 105.6L573.1 97.6M539 146.2L544.1 152.4M544.9 90.5L547.8 100.5M534 102.5L539.3 105M566 131.2L565.9 125.2M535 146.5L524 153.2M541 81.8L535.9 88.6M562.2 149.7L563.3 141.9M578.7 121.7L567.4 124.9M554.5 141.9L549.9 151.3M542.9 127.1L547.4 117.6M562.1 148.8L561.2 160.4M555.6 93.3L547.1 89.7M593.1 118.2L595.2 113.7M523.1 129.8L521.2 133.6M531.9 98.7L534.3 93.7M538.8 113.6L550.6 110.7M525.1 110.3L521 98.7M529.1 109.4L530.6 105.4M518.6 144.9L519.3 131.6M540.5 107.6L537.1 101.8M574.1 134.3L571 138.1M558.4 146.8L567.7 151M539.7 145.2L530.7 136.9M551.1 106.9L556.9 102.6M542.9 111.4L536 104.7M521.2 151.3L514.2 161.3M539.9 153.1L551.4 149.3M526.5 130.1L533.1 118.2M512.1 147.6L518 149.4M547.3 123.5L554 119.2M538.7 145.9L545 143M565.8 93.5L559.9 89.7M563.5 95.7L558.4 100.5M552.8 177L543.1 173.3M585 122L597.5 124.2M573.1 178L576.5 186.2M557.3 103.1L560.3 97.7M515.2 151.3L511 151M568.1 113.7L572 102.9M526.5 148.7L519.2 151.6M529.9 148.8L529.7 138.5M540 164.2L539.1 152.3M553.3 80.2L550.8 85.9M532.4 171.6L527.1 181.5M557.6 137.2L564.1 144.6M542.7 133.4L547 126.3M523 106.2L518.6 109M523.4 159.6L525.2 169.4M540.4 160.9L533.6 156.6M579.4 139.9L591.2 146.5M532.5 107.2L521.9 113.6M525.2 170.4L521.9 166.6M554.9 149.9L549 150.7M530.7 148.5L541.5 155.8M578.6 145.4L586.6 137.5M564.1 145.1L576.7 141.4M544.3 101.6L549.6 93.5M560.3 95.5L567.3 86.1M578.8 169.4L570.4 180.4M542.6 182L547.9 189.2M551.9 188.3L550.8 199M531.8 145.8L522.3 150.3M577.8 119.1L589.8 123.4M518.6 151L523.9 163.9M539.5 113.4L547.3 115.5M540.5 146.3L543.4 140.6M516 151L524.5 144.3M565.5 147.6L552.9 153.7M556.4 156.1L544.4 155.6M574.2 108.3L578.2 103.8M564 106.2L558.4 108.9M578.9 124.9L584.1 129.2M570.9 113.2L569.3 115.8M519.6 163.2L513.3 159.9M544.1 132.7L547.2 135.3M511.5 104L504.3 111.3M553.9 98.8L549.3 104.1M550.8 133.1L551.2 127M509.1 133.3L513.7 129.3M526.5 150.7L525.1 153.8M580.2 154.9L580.8 149.4M579 99.8L571.5 88.6M549.2 164.3L546.7 171.4M520.6 102L526.7 107.2M526.3 158.5L535.8 157.9M561.8 128L558.4 122.6M555.4 99L552.8 94.4M558.5 154.7L570.6 152.5M563.3 106.1L554.6 103.7M531.5 117.6L527.9 128.4M512.5 157.7L507.7 148.2M533.1 180.2L531.2 186.3M535.7 171.1L535.3 158M524 173.3L512.8 179.8M546.4 133.4L542 135.6M540.8 140.4L536.9 153.1M516 183.7L516.1 197.6M526.2 122.4L532 121M540.8 163.3L548.3 163.4M567 108.5L570.6 102.9M538.5 88.6L535.4 80.5M524.6 128.4L513.5 124.7M545.4 187.7L532.7 193.3M550.4 84.8L546.7 81.2M538.3 111.7L534.5 110.1M566.9 141.7L563.7 141.5M521.2 168L516.6 170.6M523.2 163.4L514.9 168.9M589.4 139.6L599.1 136.1M536.6 121.5L542.3 119.6M582.1 106.5L582.6 103.2M557.8 197.7L562.6 199.2M518.5 101.8L507.8 93.1M573.8 136.4L581.1 143.6M558.1 138.9L554.4 135.7M548.6 190.9L552.7 193.6M562 167L569.3 155.1M554.7 122.5L548.9 124.1M532.3 85.5L532 91.3M562.9 162.8L571.9 158.2M575.7 150.9L569.2 151.1M546.5 94.7L541.9 103.2M550.2 151.6L550.1 157.1M559.2 97.4L571.1 93.1M593.8 142.6L598 155M510.3 128.2L504.7 124.1M542.6 91L546.9 99.2M529.2 130L529.7 134.7M532.9 105.4L540.2 106.8M584.6 112.6L589.6 122.2M557.8 140.7L545.1 144.5M569.2 103.5L579 105.4M586.5 146.3L584.9 141M531.8 122.6L533.4 134.5M532 179.9L531.6 176.1M554.2 131.6L558.7 125.2M570.8 167.8L563 166.1M572.3 176.3L574.3 171.5M535.2 157.5L542.4 159.5M569.6 179.8L567.7 186.2M570.4 103L573.3 100.2M548.3 90.3L554.7 90.8M542.9 129L531.9 129.2M536.6 149.3L534.6 144.4M559.1 128.4L553.6 129M515.1 119.3L520.8 119.5M557.5 135.2L564.8 127.3M532.8 187.9L529.8 194.1M561.2 103L567.1 107.6M517.2 130.4L512.2 139.5M554.6 129.9L548.7 127.7M553 146.8L545.8 149.5M557.4 114.2L562.4 117.7M578.9 127.7L571.3 136.5M546.3 187.6L557.6 185.6M572.7 181.6L565.1 188.5M588.9 152L581.1 148.8M507.1 120.9L519.2 115.2M546.3 100.4L550.5 91.4M554.2 194.3L558 182.4M522.7 178.5L515 177.9M538.4 192.6L535.7 194.6M558.7 171.8L569.9 171.4M582.3 118L587.8 128.4M556.9 85.3L558.6 78.2M530.9 181.8L526.3 185.1M519.2 148.5L523 148.4M520.8 187.1L513.4 191.5M582.2 156.2L577.5 153.8M534.9 142.2L527.1 153.7M592.1 163.1L580.4 158.5" stroke="#333" stroke-width="0.6" fill="none" opacity="0.55"/>
<path d="M514.2 157.6h0M561.2 188.2h0M522.1 124.7h0M536.9 153.3h0M567.2 189h0M561.9 127.7h0M544.5 84h0M552.3 152.5h0M545.7 89.8h0M536.7 98.2h0M583.4 151.9h0M525.8 183.9h0M587.1 161.8h0M561.3 146.3h0M575.6 142.5h0M542.7 140.8h0M546.7 184.4h0M551.8 131.3h0M512.1 164.7h0M541.8 179.3h0M573.3 122.1h0M551.5 105.4h0M529.1 103.6h0M518.6 179.4h0M581.9 141.4h0M517.1 163.4h0M571.1 177.8h0M515.8 136.1h0M557.3 177.1h0M525.1 174.2h0M542.6 178.1h0M527.6 134.6h0M555.8 88.9h0M539.6 172.6h0M561.3 156.4h0M550.4 112.4h0M543.2 163.5h0M553.4 82.6h0M533.6 166h0M521.4 183.6h0M553.3 174.7h0M523 143.3h0M503.9 135.1h0M572.1 167.2h0M570.8 164.6h0M537 141.4h0M550 145.6h0M567.8 95.2h0M555.9 120h0M517.5 119.9h0M553.1 186.9h0M548.3 152.5h0M545.3 106.8h0M512.6 148.7h0M530.4 168.5h0M561.8 182.1h0M543 144.3h0M554.8 179h0M532.1 178.1h0M543.9 188.6h0M532.3 101.7h0M575.1 133.9h0M510.3 127.5h0M516.1 152.2h0M521.9 141.6h0M571.2 182.8h0M566.7 115.2h0M588.5 139.8h0M557.6 190.4h0M564.4 188.5h0M550.5 131.7h0M574.5 96.3h0M523.7 175.1h0M551.6 155.3h0M574.6 123h0M546 99h0M575.9 132.1h0M570.7 117.1h0M567.1 143.7h0M593.6 141.5h0M541.1 179.6h0M566.9 109.1h0M555.1 185.2h0M574.5 174.6h0M572.2 139.8h0M534.5 170.7h0M579.3 161.1h0M563.7 178.7h0M556.1 115.7h0M508 163.7h0M534.3 113.2h0M523.7 133.7h0M513.5 128.5h0M519.9 152.6h0M554.8 100.6h0M530.2 159.1h0M570.1 116.5h0M526.7 184.1h0M540 142.3h0M515.9 170h0M539.4 101.8h0M508.1 142.8h0M519.1 164.9h0M557.8 119.7h0M526.4 152.8h0M534.9 84.2h0M515.3 126.3h0M548.1 136h0M570.1 137.6h0M561.1 109h0M557.8 140.2h0M559.1 133.8h0M574.9 108.2h0M511.1 126.1h0M535.6 165.9h0M531.4 135.5h0M555.6 189.2h0M546 193.8h0M542.5 173.6h0M527.6 110.7h0M587 124.4h0M544.1 102.4h0M538 167.2h0M566.1 122.9h0M548.2 118.1h0M552.6 91h0M560.2 116.2h0M547.2 115.4h0M513.2 114.1h0M534.7 121.8h0M563 84h0M584.7 130.2h0M555.5 116.7h0M535.4 161.4h0M563.7 96.1h0M528.2 144h0M532.9 100h0M515.9 116.2h0M533 138.3h0M550.9 134.6h0M581.5 158.1h0M558.6 143.5h0M576.1 135.8h0M537.1 180.2h0M586.6 113h0M570.4 164.3h0M582.6 117.4h0M569.4 178.9h0M522.7 135.1h0M509.3 143h0M535.6 129.3h0M511.3 144.6h0M569.8 90.5h0M535 119h0M553.9 114.6h0M557.8 105.6h0M585.6 135.4h0M559 148.2h0M535.2 189.6h0M525.7 178.7h0M536 152.1h0M519.1 103.8h0M576.8 135.2h0M552 185.3h0M530.2 173.7h0M567 117.9h0M537.1 153.4h0M522 174.7h0M551.5 142.7h0M577.5 100.9h0M572 117.1h0M533.1 176h0M540.6 186.2h0M520.3 130.6h0M528.2 115.1h0M549.4 168.9h0M567.5 145.4h0M573.5 149.2h0M555.7 156.1h0M563.2 156.1h0M588.9 135.3h0M564.9 191.3h0M562.4 174.6h0M543.8 172.1h0M571.2 123.5h0M515.1 159.5h0M569.1 132.1h0M538.9 153.3h0M569 141h0M571 138.1h0M554.7 154.8h0M511.8 119.4h0M549.9 148.2h0M527 107.7h0M572.2 184.4h0M538.3 107.2h0M550.6 161.5h0M560.2 159.1h0M548.9 118.7h0M552.3 99.1h0M512.4 126.8h0M576.3 119.6h0M539.2 189.3h0M562.5 150.9h0M582.5 182.5h0M569 160.4h0M561 106.2h0M585.6 164.6h0M565.6 191.9h0M576.3 138h0M546.4 96.1h0M540.8 134.1h0M551.1 167.7h0M567.8 166.3h0M573.7 189.7h0M574.3 109.8h0M586.7 113.4h0M539.5 86.6h0M560.5 81.6h0M524 113.1h0M576.6 175.4h0M575.2 153.9h0M579.2 109.2h0M513.7 159.6h0M540.5 165.5h0M568.6 114.8h0M527.4 179.3h0M525.5 108.3h0M561.4 190.5h0M544.7 174h0M531 186.1h0M511.5 122h0M554.9 105.2h0M514.4 179h0M579.6 128h0M542 89.7h0M572.1 156h0M553.7 111.5h0M578.9 147.9h0M537.3 197.9h0M566 100.8h0M584.2 121h0M572.9 160.8h0M526 125.1h0M559.9 93.3h0M559.2 175.4h0M522.1 117.8h0M519.2 116.9h0M536.7 90.1h0M593.7 131.2h0M576.1 165.2h0M582 149.4h0M559.1 99.6h0M548.7 100.1h0M554.3 140.7h0M582.7 119.1h0M554.1 129.9h0M530.4 118.5h0M558.2 133.9h0M530 123.2h0M566.8 98.1h0M547.5 124.2h0M512.2 109.7h0M513.8 142.8h0M556.9 123.1h0M511.2 150.7h0M585.2 172.5h0M576.9 119.2h0M575.7 133.2h0M525.7 162.8h0M540.6 155.4h0M586.7 142h0M544.1 200.4h0M550.9 131.6h0M514.8 160h0M571.6 166.5h0M565.9 136.4h0M572.8 185.1h0M546.2 163.5h0M560.1 82h0M557.1 142.5h0M531.9 143.4h0M556.8 121h0M519.8 126.9h0M526 143.6h0M580 157h0M525.9 118.2h0M528.6 90.1h0M546.1 156h0M518.6 158h0M535.9 193.7h0M560 142.2h0M541.6 83.5h0M532 166h0M521.3 164.4h0M540.3 141.9h0M532.3 158.5h0M583.2 115.4h0M569.7 174.1h0M535.4 128h0M521.7 169.5h0M526.7 111.6h0M547.8 184.7h0M526.3 114.5h0M523.6 128.9h0M563 172.5h0M547.3 156.2h0M538.4 89.3h0M573.2 180.5h0M510.7 110.4h0M520 144.9h0M529.3 186.6h0M515.9 133.7h0M533.2 146.4h0M559.8 173.2h0M560.7 100.9h0M506.3 151h0M515.2 135.2h0M549.7 153.1h0M535.5 111.8h0M514.4 153.6h0M537.5 105.4h0M580.3 147h0M563.2 149.6h0M576.4 146.3h0M510.1 158.7h0M576.5 105.1h0M552.6 138.8h0M532.7 171.5h0M550.9 143.2h0M575.7 156.1h0M565.9 166.6h0M565.4 163h0M538.5 184.3h0M522.5 152.2h0M538.5 136.9h0M561.8 110.5h0M586.6 111.6h0M542.4 97h0M538.2 147.7h0M549.1 162.8h0M546 156.7h0M553.8 187.3h0M572.9 145.6h0M529.3 98.8h0M569.4 107.6h0M529.7 181.9h0M542.6 89.9h0M515.3 106.7h0M570.4 155.2h0M580.1 160.6h0M568.6 108.8h0M526.4 131.8h0M590.1 145.5h0M560.1 145.2h0M555.2 128.9h0M552.9 88.4h0M594.9 131.9h0M566.9 123.9h0M549 143.2h0M566.5 162.7h0M572.8 167.4h0M515.1 144.5h0M561.4 84.1h0M572.7 182.6h0M576 112.4h0M590.9 128h0M549.5 140.6h0M546.8 94.8h0M520.6 129.8h0M534.4 152.9h0M530.7 167.3h0M580.5 117.5h0M579.4 122.6h0M523.6 105.7h0M551.8 160.9h0M547 159h0M580.2 159.6h0M574.7 139.3h0M553.1 83.9h0M574.1 171.5h0M530.6 146.2h0M550.2 112.3h0M559.2 96.1h0M576 163.6h0M545.6 96.5h0M567.8 155.5h0M554.2 174.2h0M545.3 143.7h0M569.7 158.1h0M583.2 110.4h0M571.6 160.2h0M532.3 177.4h0M558.2 133h0M586.8 139h0M520.5 126.6h0M578.4 105.5h0M573.5 177.2h0M557.1 140.8h0M581.5 134.4h0M551 136.5h0M572.6 155.5h0M565 192.4h0M522.9 183.7h0M544.9 158.2h0M548 90.6h0M562.8 169.4h0M579.8 101.7h0M576.4 174h0M530.6 182.5h0M520.3 126.8h0M557.8 161.3h0M567.6 171.2h0M566.6 191.6h0M559.1 169.7h0M540.9 182.8h0M519.2 118.3h0M566.9 100.1h0M515.2 122.6h0M519.9 111.2h0M531.2 84.2h0M574.5 153.3h0M541 134.4h0M575.3 170.8h0M515.7 165.4h0M541.5 82.2h0M555.1 92.9h0M561.5 84.8h0M556.4 184.3h0M560.6 183.4h0M568.1 147.7h0M553.9 167.1h0M556.5 174.3h0M524.1 143.7h0M537.7 88.9h0M551.5 101.2h0M591.6 156.1h0M532.9 135.7h0M572.2 124.3h0M528.6 100.6h0M568.2 135h0M538.4 152.4h0M567 168.8h0M519.7 169h0M510.5 139.9h0M551 99.4h0M557.6 181.2h0M546.2 144.5h0M572.3 141h0M537.5 171.2h0M544.3 86.7h0M550.2 162.8h0M565.1 145.3h0M521.7 155.4h0M555 166.1h0M569.5 112.1h0M552.2 122.6h0M525.6 108.9h0M522 97.9h0M553.8 142.4h0M535.3 105.9h0M547.9 149.9h0M530.1 183.8h0M536.7 124.5h0M514.4 128.7h0M523.9 96.5h0M585.6 130.2h0M588.1 158.6h0M517.7 128.4h0M539.5 151.5h0M538.8 151.5h0M584.3 106.1h0M524.8 112.9h0M548.4 138h0M545.8 132.8h0M577.3 114.5h0M538.9 156.9h0M526.9 162.1h0M574.4 141.6h0M587.6 149.5h0M592.3 138.6h0M528.9 185.5h0M556.8 93.1h0M521.2 103.7h0M541.9 130.9h0M550.7 146.2h0M559.3 193.3h0M579.7 180h0M587.2 143.6h0M532.7 145.9h0M582.4 173.6h0M554.2 181.6h0M524.6 149.8h0M539.5 142.5h0M565.7 177.4h0M578.7 107.3h0M510.5 157.9h0M530.9 124.5h0M562.2 85.4h0M540 193.7h0M587.9 164.9h0M556.9 189.2h0M542.9 169h0M548.6 179.2h0M504.6 149.5h0M587.9 147.1h0M556.6 99.9h0M526.3 172.2h0M550.5 126.2h0M561.4 163.8h0M514.1 113.6h0M534.1 126.8h0M565 130.1h0M550.9 190h0M533.8 183.8h0M581.6 153.6h0M553.6 156.4h0M550.1 92.8h0M532.1 109.8h0M546.9 118.8h0M543.6 85.5h0M529.8 90.9h0M561.9 192.4h0M548 196.8h0M538.5 122.1h0M580.5 150.5h0M577.2 106.7h0M582.2 110.8h0M553.6 180.5h0M558 111.5h0M525.8 185.8h0M541.6 118.8h0M566.9 184.1h0M540.6 155.4h0M545.2 152.6h0M516.8 155.3h0M568.6 161h0M574.7 165.2h0M588.6 117.9h0M560.1 114.2h0M565.6 136.9h0M545.9 126.4h0M567.7 98.7h0M561 109.8h0M542.1 162.5h0M543.7 151.7h0M518.7 139.4h0M576.6 166.5h0M546.7 150.6h0M574 95.3h0M525 95.9h0M572.5 143.4h0M513.6 164.8h0M518.3 124.2h0M531.9 160.2h0M559.5 117.9h0M552.8 108.2h0M581.8 135.6h0M584.4 131.1h0M519.4 117.6h0M519.4 114.6h0M554.5 117.5h0M561.3 88h0M533.7 116.4h0M529.6 94.6h0M559 181.6h0M557.5 144.1h0M584.6 117.1h0M554.1 86.8h0M535.7 97.7h0M567.5 162.3h0M523.4 150.4h0M592 158.1h0M560.7 121.3h0M544.1 117.2h0M527.4 140.6h0M583.3 166.1h0M534.2 195.2h0M545.7 145.6h0M592.1 133.9h0M545.1 171h0M545.1 110.3h0M536.2 160.4h0M554.7 133.2h0M584.9 140.3h0M533.6 85.6h0M506.2 135.6h0M527.2 144.8h0M552.2 112.8h0M563.8 147.4h0M565.2 129.8h0M540.3 98.8h0M520.7 174.3h0M588.2 154.9h0M578.7 128h0M559.2 97.9h0M505.4 142h0M585 158.3h0M522.3 92.3h0M521.7 140h0M515 141.5h0M544.1 128.9h0M533 156.4h0M537.7 120.2h0M560.2 157.1h0M554.8 101.6h0M508.8 147.2h0M522.3 170.6h0M556.8 143.2h0M525 122.5h0M526.2 137.3h0M572.4 173.3h0M518.9 161.7h0M522.8 188.2h0M528.9 141.8h0M529.8 162.9h0M563.9 89.5h0M564.9 99.9h0M538.4 190.6h0M556.9 186.6h0M556.6 85.2h0M553 144.9h0M564.5 139.4h0M573.9 186h0M516 134.3h0M585.1 109h0M527.3 107.9h0M541.4 155.5h0M527.8 135.5h0M559.5 176.6h0M517.6 168.9h0M555.5 81.3h0M585.8 107.6h0M516.5 153.9h0M580.9 136.3h0M550 114.9h0M507.6 150.7h0M507.1 135.5h0M560.5 120.2h0M558.9 185.7h0M536.8 159.5h0M587.9 138.2h0M512.7 139.3h0M557.5 168h0M557.5 158h0M539.1 129h0M568.1 106.7h0M515.7 161.3h0M512.2 162.4h0M568.4 148.5h0M554.4 177.2h0M528.2 95.6h0M593.8 154.5h0M518.7 166.8h0M545.6 185.8h0M538.6 152.9h0M525.7 102.4h0M525.8 111.1h0M587.7 153.6h0M547.6 153.9h0M554.5 130.5h0M557.3 168.5h0M516 134.9h0M557 129.2h0M557.3 178.2h0M577.7 107.2h0M537.5 146.3h0M583.5 159.2h0M583.8 137h0M553.8 134.3h0M540.3 156.8h0M573.7 140.1h0M575.6 104.1h0M569.8 172.8h0M513.8 158.8h0M543.8 132.6h0M527.7 114.7h0M520.9 139.7h0M516.3 116.1h0M536.3 134.1h0M541.3 121.1h0M584 133h0M541.5 146.9h0M548.4 170h0M561.3 184.1h0M525.1 163.7h0M545.1 196.4h0M547.2 86.6h0M516 116.2h0M505.8 156.1h0M558.6 150.8h0M588.4 151.7h0M517.6 163h0M565.6 107.6h0M555.7 98.3h0M530.6 168.1h0M569 118h0M506.9 119.5h0M569.3 120.4h0M525.1 136.6h0M580.8 142.6h0M587.2 136.5h0M551.7 110h0M586.3 113.6h0M595.9 130.5h0M557 154.6h0M547.9 108.3h0M523.6 180.6h0M525.4 171.9h0M562.3 131.3h0M560.4 190.8h0M563.4 113.8h0M533.9 162.3h0M580.1 123.5h0M566.9 128.8h0M546.7 124.8h0M531.9 183.9h0M532.9 186.8h0M546.1 124.8h0M523.3 106.3h0M558.8 194.6h0M557.1 103.5h0M550.9 162.8h0M518.2 122h0M549.8 90.4h0M594.7 125.9h0M580.9 174.1h0M551.3 163.3h0M544.8 135.9h0M539.7 131.6h0M532.1 91.4h0M548.9 120.6h0M551.8 178.9h0M546.7 86.7h0M566.7 140.7h0M567.1 140.8h0M561 152.3h0M509.9 126.5h0M552.5 192.7h0M571.2 174.9h0M529.7 170.7h0M560.8 165.3h0M587.4 174.7h0M561.1 164.4h0M527.7 122h0M561.7 186.7h0M545 144.7h0M579.1 172.8h0M514.9 119.6h0M556.7 100.5h0M574.9 140.7h0M568.8 98.1h0M582.4 95.9h0M542.5 181.2h0M521.8 105.7h0M590.7 144.1h0M537.8 188.5h0M555.7 129h0M555.4 90h0M541.1 123.3h0M557.8 84.2h0M519.4 108.5h0M513.6 148.2h0M533.6 178.7h0M525.9 101h0M540 119.7h0M514.8 108.3h0M543.7 85.6h0M512.9 110.4h0M572.6 181.7h0M568.6 96.7h0M550.6 170.7h0M525.4 107.7h0M573.7 135.3h0M553.8 161.8h0M571.6 168h0M544.2 91.5h0M554.9 146.9h0M514.2 132.4h0M517.9 128.6h0M552.3 152.9h0M530.8 121.6h0M532.6 135.3h0M577.2 152.4h0M547 187.3h0M557.6 117.7h0M528.9 120.9h0M557.9 153.7h0M573.1 180.6h0M560.9 81.1h0M550 129.1h0M548.6 97.2h0M524.3 125.6h0M533.4 176.9h0M555 125.8h0M582.8 143h0M549.4 150h0M532.4 169.4h0M562.1 161.8h0M543.6 172.7h0M528.8 139h0M556.3 113.3h0M537.5 196.7h0M516.7 147.6h0M522.5 92.4h0M510.5 141.3h0M550.3 129.4h0M548.6 163.5h0M578.3 135.3h0M539.8 110.5h0M585.6 155.6h0M557.7 184.2h0M561.8 143.8h0M528.7 162.6h0M587.5 173.4h0M565.1 141.1h0M554 124h0M592.7 126.5h0M534.7 144.6h0M564 190h0M540.9 109.8h0M558.8 95.3h0M557.6 128.1h0M568.4 185.5h0M556.7 194.7h0M551.1 96h0M592.4 155.6h0M539.5 186.8h0M551 90.8h0M562.6 90.7h0M530.2 116.8h0M534 89.1h0M510.7 166.9h0M505.1 135.5h0M573.3 118.7h0M581.9 112.7h0M568.1 164.1h0M552.3 89.1h0M584.6 123h0M519.6 110.7h0M548.8 132.7h0M550.1 116.2h0M536.4 144.7h0M525.9 147.5h0M537.7 181.1h0M590.6 130.4h0M579.1 134.3h0M571.7 156.4h0M521 119h0M566.8 162.3h0M530.6 162.3h0M576.1 174.2h0M540.8 125.4h0M520.8 182h0M525.1 93.2h0M538.5 177.7h0M587.9 102.8h0M536.1 93.1h0M556.3 176.5h0M536.8 191.9h0M518.3 126.4h0M568.7 168.3h0M570.9 110.7h0M529.7 172.6h0M542.6 125.5h0M534 137h0M546.1 131.9h0M592 124.3h0M571.1 180.2h0M532.1 151.1h0M546.4 156.3h0M537.8 96.1h0M579.9 145.5h0M559.1 151.1h0M585.7 102.5h0M587 122.8h0M554.9 174h0M516.8 132.7h0M539.8 131.3h0M561.9 151.9h0M584.3 159.7h0M541 95.7h0M510.5 140.4h0M528.9 106.5h0M523.4 141.6h0M517.5 117h0M507.9 122.7h0M545.5 89.8h0M582.9 139.6h0M515.9 144.2h0M519.5 142.6h0M531.5 187.5h0M556.9 91.4h0M532.1 160h0M551.9 139h0M537.2 89.6h0M512.7 123.6h0M523.6 114h0M586 118.4h0M556.1 91.2h0" stroke="#23888a" stroke-width="1.6" stroke-linecap="round" fill="none" opacity="0.9"/>
<path d="M537.8 152.6h0M520.3 174.1h0M558.7 164.3h0M574.9 146.7h0M530.9 101.6h0M520.6 171.2h0M525.1 122.5h0M518.1 139.4h0M583.6 163.9h0M565.6 154.5h0M521.2 165.4h0M533.1 95h0M517.6 136.9h0M560.4 183.4h0M515.4 164.9h0M567.6 98.9h0M576.5 100.9h0M544 183.4h0M567.2 165.2h0M579.3 137.4h0M560.6 154.6h0M526.7 133.6h0M532.7 105.7h0M541.7 165.1h0M557.2 114.8h0M542.5 127h0M508.6 149.3h0M503.9 146.5h0M537.9 154.1h0M513.9 152.2h0M570.6 95.4h0M533 171.8h0M587.9 128.4h0M523.4 141.9h0M518.5 177.9h0M524 182.9h0M579.4 175.5h0M547.6 152.1h0M536.1 86.2h0M554.1 95.1h0M547 112.7h0M578.3 170.7h0M510.9 126.5h0M589.5 153.2h0M573.7 188.6h0M568 110.5h0M553.8 186.1h0M587.8 115.7h0M581.7 165.2h0M583.6 169.6h0M569.9 150.9h0M558.6 93.2h0M585.8 132.8h0M540.7 161.9h0M558.6 154.9h0M580.1 141h0M568.1 94h0M540.4 145.4h0M563 148.5h0M541.2 143.4h0M576.4 118.6h0M572.9 106h0M550.1 195.2h0M528.5 172.1h0M514.7 141.9h0M581.3 127.2h0M573 118.4h0M558 168.9h0M537.4 126.2h0M554.4 85h0M584.4 164.4h0M528.1 109h0M588 115.8h0M560.7 116.7h0M555 127.4h0M579.3 153.1h0M583.6 181.3h0M558.7 98.5h0M520.2 127.6h0M519.3 148.4h0M567.2 93.9h0M523.8 165.7h0M528 147.1h0M573.4 91.6h0M583.1 120.2h0M542.1 130.3h0M559.2 100.5h0M525.9 98.7h0M571.3 163.9h0M544.5 85.2h0M543.7 99.6h0M560.8 87.5h0M552.7 183.1h0M555.5 172.7h0M575.4 161.2h0M558.2 187.3h0M545.6 161h0M557.5 173.1h0M543.2 156.4h0M576.9 96.5h0M524.8 117.5h0M566 115.4h0M585.5 174.7h0M509.2 115.5h0M538.4 98.5h0M538.4 140.5h0M550.9 166.4h0M544.4 145.1h0M578.3 152.3h0M523.3 183.9h0M571.7 148.9h0M553.8 180h0M553.8 144.5h0M591.1 131.5h0M549.5 149.3h0M574.8 174.8h0M525.6 98.5h0M545.8 162.4h0M571 113.6h0M531.2 89.7h0M568.7 103.2h0M585 133h0M582 116.2h0M590.8 137.2h0M513.8 164h0M537.9 143.2h0M549 90.4h0M542.4 120.9h0M538.8 132.1h0M573.7 131.8h0M523.1 96.3h0M513.5 140.5h0M573.3 120.8h0M565.1 185.6h0M521.2 99.5h0M527.9 95.4h0M532.6 110.4h0M560.8 141.6h0M532.4 140.3h0M580.8 168.6h0M548.6 154.2h0M556.8 113.6h0M528.5 148.1h0M503.7 138.1h0M557.4 131h0M529.7 108.3h0M542.2 129.4h0M579.9 111.7h0M533.6 188.8h0M561.6 188.8h0M581 159.7h0M583.3 152.4h0M576.9 173h0M533.8 192.3h0M538.3 89.7h0M514.4 156.8h0M521.1 148.6h0M563.6 140.3h0M562.8 176.8h0M562.4 151.7h0M544 172.5h0M584 99.7h0M548.7 115.6h0M560.1 96.5h0M549.6 136.5h0M555.5 190h0M555.5 175.6h0M523.4 153.4h0M574.7 180.4h0M569.4 177.5h0M532.1 114.6h0M514.9 135.3h0M529.7 126.6h0M516.4 153.2h0M553.3 121.3h0M568.2 130.1h0M542.5 170.4h0M556.9 102.1h0M576.2 156.1h0M525.2 108.3h0M560.1 120.2h0M551.5 85h0M550.9 170.6h0M581.1 129.9h0M567.7 134.1h0M572.1 178.7h0M559.1 168.8h0M530.6 136.1h0M575.1 101h0M572.7 177.4h0M578.7 166.1h0M546.3 152.6h0M548 177.6h0M537.8 177.8h0M546.4 101.9h0M537.3 133.8h0M585 131.9h0M544.3 181.1h0M539.2 163.4h0M577.2 104.7h0M566.2 124.5h0M540.8 130h0M564.8 129h0M536.4 149.8h0M534.8 124.4h0M516 102.7h0M535.8 89.4h0M543.6 110.4h0M530.9 187.2h0M526.8 109.3h0M511.6 158.3h0M557.1 168.5h0M540.5 106h0M594.1 142.6h0M571.1 178.7h0M574.9 135.3h0M531.9 124.4h0M574.7 151.6h0M550.9 103h0M561.1 166.7h0M530.6 96.5h0M566.5 98.9h0M541.5 150.5h0M560.1 115.4h0M532 118.8h0M560 161.2h0M568.1 122.1h0M570.4 87.9h0M538.8 160.1h0M566.1 178.9h0M565 111.4h0M538 180.1h0M582.6 105.5h0M572.9 136.3h0M578 123h0M530.2 146h0M587.3 175.8h0M543.2 175.6h0M557.1 93.1h0M522.5 181.4h0M572.5 136.1h0M537.9 99.6h0M545.9 87.7h0M515.7 166.6h0M507.5 160.4h0M574 166.2h0M556.8 184.8h0M560.4 91.3h0M529.1 172.3h0M573.7 151.3h0M547.3 86.2h0M537 128.7h0M549.6 169.9h0M562 162.1h0M568.4 182.4h0M572.6 156.4h0M518.7 146.7h0M541.1 173.8h0M518.7 180.4h0M565.4 186.2h0M587 155.5h0M589.6 157.9h0M577.1 175.9h0M550.2 95.2h0M551.5 190.1h0M556.2 96.8h0M530.4 162.5h0M507.3 136h0M540.6 172h0M550.2 156.8h0M587.7 131.1h0M514 141.9h0M541.3 127h0M520.5 129.7h0M581.4 169.2h0M556.6 127.1h0M578.4 111.5h0M509.8 110.5h0M521.7 112.2h0M583.7 107.7h0M556 196h0M555.1 103.7h0M571.4 110.6h0M516.5 156.4h0M529.9 137.8h0M506 152.2h0M571.6 176.6h0M595.8 138.5h0M571.8 113.7h0M532.9 121.5h0M551.5 189h0M562.3 175.5h0M532.5 156.4h0M557.1 83.5h0M536.8 151.5h0M552.8 181h0M549.6 170.4h0M554.9 126.6h0M537.7 154.5h0M532.8 169.4h0M511.4 148.5h0M550.1 166.1h0M579.2 139.5h0M549.8 173.4h0M513.1 129.6h0M532.6 133.5h0M573.8 139.8h0M564.2 92.8h0M569.9 117.7h0M542.4 168.2h0M547 93.2h0M549.3 194.8h0M557.3 101.2h0M570.4 108.1h0M578.7 120.2h0M521.7 142.1h0M551 90.6h0M582.1 172.5h0M509.8 170.5h0M555.9 184h0M534.4 104.3h0M574 129.6h0M557.9 115.5h0M531.1 131.4h0M582 169.3h0M582.3 95.3h0M520.3 96.9h0M555.4 183.1h0M536.9 152.3h0M571.4 127.6h0M576.5 184.5h0M573.4 139.8h0M564.6 114.5h0M551 99.7h0M570 150.6h0M522.1 174.9h0M541.6 127.3h0M541.9 134.5h0M565.9 169h0M526.7 103.1h0M531.4 145.2h0M545.7 125h0M540.2 142.5h0M515.8 140.2h0M520.6 114.1h0M535.5 117.6h0M525.4 142h0M535.2 153.1h0M561.3 129.5h0M574 148h0M523.2 111.2h0M590.6 114.4h0M551.3 94.2h0M547.8 172.4h0M547.2 165.7h0M510.5 146.3h0M519 156h0M534.5 146.3h0M548.6 186.1h0M573.4 160.2h0M561.6 117h0M568 143h0M575.6 94.9h0M569.4 100.5h0M529 106.2h0M562.4 138h0M535 92.2h0M537.2 153.9h0M555.3 129.9h0M564.9 167.1h0M574.8 179h0M532.8 137.6h0M532.1 146h0M581.9 143.9h0M546.1 102.1h0M518.3 112h0M568.9 158.5h0M557.9 102.9h0M552.2 145h0M572.5 147.8h0M512.8 128.3h0M532 192.1h0M588.4 166h0M510.9 173.1h0M526 180.8h0M541.3 177.7h0M559.6 139.7h0M538.2 148.2h0M524.6 151.4h0M551.6 114.7h0M557.6 89h0M558.3 84.5h0M557.1 152.6h0M558.8 191.1h0M564.6 114.7h0M576.6 159h0M574.5 175.5h0M568.9 182.4h0M575.5 165.1h0M508.3 134.2h0M583.1 120.3h0M580 181.9h0M546.9 174.7h0M508 158.5h0M552.8 127h0M541.3 129.9h0M530.9 111.4h0M544 105.8h0M593.8 141.8h0M518.1 163.4h0M556 138.5h0M519.1 154.2h0M536.6 186.7h0M574.2 128.5h0M565.2 169.6h0M574.6 165.1h0M558.9 176.3h0M593.7 122h0M514.1 136.4h0M575 164.8h0M547.4 192.1h0M526.4 152.6h0M544 112.9h0M583.9 122.7h0M578.2 112.4h0M577.9 101.1h0M571.6 148.6h0M556.6 118.2h0M515.9 151.1h0M534.9 162.5h0M578.1 149.4h0M553.2 104.5h0M519 163.4h0M563.8 141.3h0M539.3 146.5h0M533.6 132.9h0M577.1 110.8h0M543.6 191.6h0M520.9 166.5h0M521.9 101.3h0M547.3 152.3h0M558.1 95.4h0M570 115.7h0M512.7 122.4h0M565.5 132.5h0M541 157.6h0M533.1 170.3h0M553.3 172.4h0M569.8 138.5h0M579.6 136.5h0M518.4 100.5h0M526.3 155.3h0M564.4 137.2h0M536.5 119.9h0M535.6 115.5h0M531.8 113.6h0M568.9 102.7h0M519.9 100.3h0M565.1 92.7h0M526.6 102h0M586.3 144.2h0M537.6 126.2h0M575.7 111.6h0M541.4 143.3h0M524.5 130.8h0M546.4 171h0M560 164.5h0M533.5 127.3h0M517 141.6h0M575.2 172.6h0M506.4 128.1h0M564.8 175h0M557.6 92.8h0M576.1 177.6h0M551.1 119h0M586.7 150.5h0M567.7 165.7h0M585.7 124.1h0M588.3 137.5h0M575.4 155h0M545.9 166.8h0M531.9 145.3h0M546.2 134.6h0M549.4 151.8h0M564.7 172.5h0M558.3 146.8h0M522.5 150h0M542 164.6h0M589.7 123.3h0M536 141.9h0M558.4 106h0M547.8 161.2h0M521.6 176.1h0M560.4 151.4h0M526.7 153.1h0M545.3 189.6h0M563.7 112.5h0M582 140.4h0M570.5 99h0M585.9 158.3h0M528.8 104.7h0M591.6 134.5h0M528.3 103h0M551.1 102h0M581.5 131.7h0M536.7 136.6h0M509.7 165.6h0M569.8 138h0M518.8 109h0M531.7 135.2h0M577 144.5h0M572.9 114.2h0M554.6 103.6h0M510.1 110.4h0M543.5 86.4h0M578.7 105.5h0M541.5 145h0M556 104.3h0M522.3 168.6h0M546 143.1h0M541.8 124.4h0M544.2 170.6h0M561.9 175.9h0M544.6 116.2h0M552.4 135.6h0M534.4 184.6h0M538.1 182.1h0M563.6 133.8h0M512 159.7h0M574.5 134.9h0M519.8 115.1h0M551.8 176.2h0M531.6 124.2h0M522.2 102h0M568.4 192.9h0M582.2 117.6h0M519.3 147.2h0M591.5 134.4h0M555.3 163.5h0M581.3 175.8h0M542.6 138.7h0M514.7 169.9h0M546.8 156h0M534.2 173.3h0M553.1 125.9h0M527.8 171.1h0M536.4 161.5h0M540.3 137h0M524.5 152.5h0M510.2 169.6h0M522.5 150.3h0M550 135.1h0M524.1 135.6h0M527.6 122.6h0M558.5 155h0M520.9 131.9h0M519.3 105.1h0M549.2 107.3h0M562.2 95.2h0M567 114.3h0M537.4 187.8h0M574.9 152.1h0M556.7 192.4h0M535 177.9h0M594.1 142.9h0M554.8 162.5h0M556.2 118.7h0M528.3 159.9h0M573.6 142.9h0M565.9 185.4h0M586.8 126h0M569 117h0M556.2 83.8h0M541.7 193.9h0M528.7 164.6h0M553.8 152.9h0M571.3 119.3h0M577.6 149.6h0M590.9 130.7h0M582.3 169.6h0M582 160.5h0M594.1 145.6h0M576.8 126.7h0M585.7 154.9h0M575.1 158.5h0M564.2 150.6h0M530.5 118.6h0M555 180.6h0M555.7 105.8h0M581.9 129.7h0M524.1 173.3h0M564.2 173.2h0M579.2 147.7h0M595.2 132h0M545.2 110.7h0M564.4 145.5h0M553.3 187.9h0M568.7 145.9h0M588.6 143.6h0M590 119.4h0M531.4 155.7h0M537.8 163.6h0M532.8 102.4h0M521.9 168.8h0M543.7 118h0M558.6 95.7h0M547.4 104.3h0M510 131.2h0M569.5 141.6h0M570.3 187.4h0M570.3 89.9h0M543.6 171.5h0M532.9 108.3h0M555.5 164.9h0M529.8 161.9h0M514.8 115.9h0M551.6 82.9h0M557.2 134.4h0M552.7 136.4h0M555.8 131.9h0M547.8 87h0M586 115.6h0M551 171.1h0M569 166.7h0M561.3 175h0M578.5 131.2h0M572.2 146.7h0M555.7 145.1h0M511.3 149h0M545.6 144.1h0M530.5 109.2h0M513 163h0M582.6 165.2h0M510.9 150.6h0M535.2 109.9h0M574.6 175h0M543.4 140.3h0M553 150h0M569.5 134.2h0M565.7 140.1h0M572.3 115.6h0M575.7 121.2h0M524.7 161.8h0M581.3 115.7h0M549.2 186.5h0M556.8 173.6h0M577 164.7h0M532.5 90.4h0M534.7 137.5h0M532.7 159.4h0M555.4 79.8h0M513.6 123.1h0M541.1 112.6h0M550.4 180.1h0M527 154.3h0M585.1 144.5h0M539.3 96.7h0M589.2 148.2h0M559.5 196.3h0M576.4 121.4h0M518.1 126.7h0M527.3 134.3h0M533.3 166.9h0M508.1 124.4h0M531.7 148.6h0M509.7 157.4h0M544.9 152h0M536.5 149.3h0M583.7 108.6h0M578.7 120.3h0M547.9 90h0M584.5 142.4h0M528.4 96.9h0M540.8 163.7h0M560.9 102.2h0M575.3 116.9h0M520.3 151.1h0M535.6 111.1h0M592.2 161.1h0M561.6 136h0M563.8 88.5h0M579.7 172.5h0M527 150.7h0M550.7 141.4h0M558.4 100.7h0M549.8 90.4h0M521.5 169.7h0M533.1 127.6h0M537.1 88.7h0M566.7 100.7h0M512.1 128.7h0M574.9 108.9h0M586.9 139.1h0M591.3 150.4h0M524.6 102.8h0M514.7 167.8h0M566.8 85.3h0M551.8 194.2h0M562.3 101.5h0M549.6 132h0" stroke="#3aa066" stroke-width="1.6" stroke-linecap="round" fill="none" opacity="0.85"/>
<path d="M570.7 143.8h0M569 169.5h0M566.8 126.6h0M550.4 139.1h0M566.5 119.3h0M603.7 134.8h0M519 131h0M539.2 67.2h0M586.5 134.2h0M567.3 124.7h0M547.3 127.6h0M523.7 109.9h0M555.4 95.1h0M538.2 129.3h0M585.4 125h0M528.9 143.9h0M564.1 119.9h0M559.6 126.2h0M564.3 102.1h0M568 99.7h0M560.9 137.3h0M531.6 137.3h0M517.3 64.7h0M576.5 121h0M593.5 115.8h0M528.3 111.4h0M550 133.2h0M532.2 127.4h0M529.4 173.5h0M540.6 185.4h0M578.9 134.9h0M536.1 109.5h0M580.4 166.4h0M536.6 144.8h0M513.4 157.3h0M577.3 111.3h0M534.3 136.6h0M551.4 123.4h0M530.5 132h0M544.6 114.9h0M541.8 130h0M577.9 128.1h0M572.6 134.6h0M541.7 158.4h0M575.5 132.6h0M570.8 125.8h0M577.2 129.1h0M564.3 130.7h0M537 101.1h0M552.4 130.6h0M551.4 88.4h0M557.9 119.5h0M608.3 154.5h0M566.9 116.5h0M575.8 128.3h0M537.3 115.9h0M518.3 120.9h0M561.7 125.6h0M566.8 117.1h0M556.6 152.7h0M557.2 126.4h0M558.2 142.6h0M591.9 135.5h0M536.5 118.6h0M572.2 129.1h0M559.5 120.1h0M521.5 108.2h0M523.8 80.3h0M575.5 155.8h0M551.9 128.5h0M569.8 144.2h0M532.4 130.6h0M564.4 122h0M547.5 114.9h0M567 126h0M518.3 148h0M556.9 127.3h0M552.2 115.9h0M541.1 127.4h0M560.2 143.6h0M559.9 111h0M523.9 154.5h0M513.8 117.9h0M545.3 98.8h0M569.2 115.3h0M558.1 141.5h0M577.5 191.9h0M561.1 156.8h0M571.3 138.2h0M540.3 128.7h0M543.5 165.1h0M574 116.3h0M555.1 119.8h0M533.7 100h0M555.4 94h0M535.7 145.8h0M542.5 91.6h0M595.8 99.2h0M580.4 162.9h0M526.4 121.9h0M549.1 151.8h0M543 146.4h0M557.7 118h0M556.9 125.2h0M575.2 102.4h0M556 122.2h0M574.5 118.8h0M594.2 134.4h0M565.6 106.6h0M591.3 107.7h0M532 109.2h0M528.5 136h0M564.3 126.5h0M578.8 97.1h0M566.3 127.6h0M544.5 134.5h0M518.7 113.3h0M564.4 147.8h0M564.6 133h0M531.6 143.2h0M577.8 94.7h0M519.9 96h0M521 148.7h0M570.3 129.7h0M535.6 127.3h0M558.1 105.9h0M566.6 162.3h0M565.1 115.6h0M494.6 144.4h0M541.7 128.3h0M558.5 131h0M526.9 90.7h0M524.7 92.4h0M541.7 136h0M582.1 142.3h0M555.6 135.4h0M542.4 100.2h0M544 116.7h0M564.1 133.6h0M559.6 172h0M574.4 132.6h0M553.6 98.8h0M558.8 140.5h0M510.2 106.4h0M547.4 121h0M571.3 134.1h0M544 111.1h0M545.5 123.5h0M533.5 144.5h0M540.2 109.2h0M573.9 155.6h0M573 185h0M568.2 115.3h0M553 125.1h0M579.8 123.4h0M531.1 119.1h0M546.8 130.5h0M546.5 100.5h0M540.9 134.9h0M566.4 145.8h0M564.9 101.8h0M551.3 113.7h0M535.7 119.2h0M534.8 117.1h0M565.3 133.5h0M532.5 116.6h0M562.7 138.8h0M546.4 119.8h0M563 124h0M569.6 128.4h0M557.1 138.4h0M557.6 114.2h0M562.7 117.1h0M570.5 102.6h0M561.9 127h0M576.9 76.6h0M524.5 106.3h0M555.9 125h0M587.5 145.6h0M537.1 120.1h0M571 162.8h0M547.9 128.4h0M551.7 125.5h0M602.3 180.2h0M518.2 100.4h0M552.6 131.3h0M550.8 151.2h0M557.4 131.3h0M536.7 103.9h0M524 145.1h0M560.8 121h0M547.9 144h0M575.9 138.9h0M572.9 126.5h0M559.3 120h0M575.9 140.1h0M532.8 171.7h0M574.1 111.4h0M591.1 99.3h0M572.7 139.2h0M547.6 96.9h0M549.7 127.4h0M553.2 91.2h0M565.3 148.3h0M527.7 122.6h0M554.5 111h0M602.6 143.8h0M548.8 161.2h0M550.4 132.9h0M567.5 140.2h0M550 138.7h0M578.8 130.2h0M587.1 131.8h0M543.8 94.3h0M565.4 130.2h0M563.7 110.3h0M532.5 120.3h0M581.1 125.9h0M541.5 144.9h0M569.2 156.6h0M572.4 134.2h0M537.3 143.4h0M540 117.1h0M581.5 89.3h0M546.2 130.2h0M544.7 106.3h0M590.8 134.3h0M561.3 111.7h0M564.5 145.2h0M560.9 133.3h0M572.5 130.8h0M562.4 129.9h0M573.3 122.7h0M547.9 137.1h0M521.9 121.6h0M570.3 151.9h0M562.5 115.4h0M568.7 151.5h0M547 126h0M570 109.3h0M531.4 145.6h0M546.5 149h0M563.4 108.2h0M528.7 125.2h0M544.9 123.4h0M554.5 153.3h0M564.9 115.9h0M582.2 132.6h0M556 92.8h0M582.2 130.7h0M527.6 146.3h0M602.1 159.4h0M542.5 142.7h0M580.3 132.1h0M527.9 100.2h0M554.2 85.2h0M556.8 117.8h0M554.3 140.2h0M568.1 120.3h0M550.1 141.1h0M541.8 114.1h0M543.8 109.1h0M565.5 134h0M555.3 162h0M550.8 178.8h0M554.2 137h0M535.9 121.3h0M566 137.5h0M554.3 149.8h0M543.5 129h0M558.7 114.9h0M564.3 114.2h0M572.4 154h0M521.3 148.4h0M558.2 125.2h0M566.3 121.8h0M557.3 117.2h0M548.7 126.6h0M561.5 110.2h0M556.2 107.6h0M541.5 121.6h0M528.7 141.5h0M555.6 151.1h0M567 113.5h0M585.6 128.7h0M539.8 103h0M530.3 77.7h0M524.5 113.6h0M556.4 112.1h0M580 135.9h0M553.2 120.6h0M564.3 124.3h0M540.2 132.9h0M592.5 155.3h0M554.2 152.2h0M592.3 103.9h0M533.4 132.7h0M540.5 80.7h0M544.6 121.1h0M552.7 125.3h0M582.2 106.3h0M561 106.3h0M546.1 131.6h0M547.6 143.7h0M545.9 125h0M575.5 154.5h0M569.2 156.1h0M556.7 101.6h0M531 125.5h0M576.6 146.6h0M548.7 137.2h0M576.1 148.4h0M520.4 136.3h0M574.4 112.3h0M521.2 139h0M523.2 109.2h0M555.6 150.6h0M577.1 130.9h0M574.8 122.3h0M567.4 114.7h0M559.9 119.4h0M567.3 115.3h0M548.4 144.2h0M555.2 101.5h0M564.8 138.2h0M548.4 142h0M524.6 132.7h0M578.8 127.9h0M555.2 135.8h0M576.4 137.4h0M522.7 114.6h0M554.5 94.6h0M552.8 123.3h0M577.1 137.1h0M547.5 114.6h0M536.6 142.4h0M533.3 121.8h0M578.9 127.2h0M532.3 87.8h0M567.9 120.3h0M540.7 131.7h0M566.1 133.7h0M589.8 126.6h0M554.8 145.2h0M561.7 137.7h0M545.6 136.5h0M560.9 138.4h0M546.7 91.7h0M564.1 116.4h0M568.4 113.2h0M507.3 123.3h0M580.7 144.3h0M567 101.6h0M520.6 157.2h0M517.6 121h0M547.1 97.6h0M551.9 120.9h0M562.9 106.8h0M559.7 168.9h0M541.8 120.8h0M566.4 125.1h0M554.3 118.9h0M581.4 126.6h0M598.5 109.2h0M538.9 162.9h0M582.2 129.7h0M551.7 125.7h0M531.3 89.7h0M544 125.6h0M568.4 144.5h0M557.1 88.3h0M533.2 123.6h0M542.2 146.8h0M583.6 105.6h0M518.6 100.8h0M571 112.7h0M527.3 121.8h0M560.3 159.7h0M571.5 133.1h0M557.3 144.7h0M574.7 98.3h0M576.6 141h0M538.5 103.9h0M548.1 148.2h0M588.2 148.2h0M528.6 113.3h0M569.4 113.8h0M558.7 143.2h0M540.4 104.3h0M526.3 123.1h0M545.9 120.7h0M561.6 106.9h0M568.1 156.1h0M569.3 136.9h0M559.7 124.3h0M570.8 123.4h0M533.7 102.3h0M548.1 145.2h0M534 157.2h0M555.9 151.1h0M580 145.3h0M551.4 111h0M563.1 93.7h0M547.1 130.3h0M580.6 130.3h0M566.9 155.4h0M547.1 129.6h0M556.7 137h0M559 107.6h0M551.4 150h0M583 124.6h0M515 117.3h0M587.2 136.5h0M553.2 132.1h0M543.8 103.2h0M537.4 86.3h0M534.1 112.5h0M586.6 145.9h0M594.3 128.9h0M543 120.7h0M558.8 118.8h0M572.1 116.6h0M557.3 116.7h0M560.9 118.3h0M515.4 121.5h0M538.8 109h0M565.6 165.4h0M552 144.4h0M567.1 119h0M538.5 130.9h0M564.9 147h0M564.9 161.4h0M556.2 129.5h0M576.3 134.7h0M568.8 130.5h0M527 123.3h0M559 102.9h0M552.5 127h0M565 81.9h0M561.3 138.3h0M554.8 114.2h0M514.2 98h0M585.8 151.6h0M563.4 185.9h0M526.2 126h0M573.6 139.4h0M571.7 142.9h0M554.6 137.4h0M584.9 139.5h0M562.7 140.2h0M558.1 112.5h0M577.6 127.4h0M568.4 106.2h0M532.8 156.4h0M526.1 104h0M573 124h0M567.7 153.3h0M580.6 124.1h0M608 140.3h0M536.7 78.1h0M548.5 150.2h0M556.9 145.3h0M552 126h0M539.1 106.2h0M554.3 145h0M550.2 117.9h0M562.7 120.8h0M534.3 119.2h0M550.2 116.3h0M614.3 102.4h0M530 120.7h0M560.7 151.6h0M515.2 138.9h0M568.1 121.9h0M575.1 129.9h0M534.1 106.8h0M550.4 114.8h0M574 111.2h0M547.2 107.8h0M559 123.4h0M564.4 130.5h0M555.2 138.3h0M574.1 129.1h0M611 127.9h0M576.7 116.8h0M550.5 122.2h0M589 107.2h0M556.5 118.1h0M567.2 130.1h0M549.6 104.3h0M549.1 133h0M551 106.5h0M561.6 115h0M542.4 121h0M565.3 155.4h0M577.4 128.8h0M554.3 137.3h0M581.4 138.7h0M559.9 91.6h0M564.7 128.5h0" stroke="#2a6a8a" stroke-width="1.7" stroke-linecap="round" fill="none" opacity="0.8"/>
<path d="M540 154.4h0M517.8 122.9h0M569.3 193.1h0M555.3 186.6h0M563.7 158h0M522.3 116.9h0M578.3 127.1h0M541.2 151.1h0M561.8 89.2h0M539.7 179.8h0M507.8 160.2h0M529.3 95h0M518.6 167.9h0M565.1 105.9h0M536 107.1h0M582.2 128.9h0M585.4 164h0M561.6 178h0M509.7 133.7h0M580.7 142.4h0M523.8 126.3h0M544.2 98h0M551.6 170.7h0M584 142.4h0M521.8 142.6h0M559.8 107.8h0M523.4 124.6h0M537.6 184.9h0M510.2 159.6h0M516.1 105.4h0M539.1 95.2h0M550.3 186.4h0M537.2 123.6h0M569.1 178.8h0M566.5 139.5h0M538.8 157h0M530.3 125h0M579.6 174.4h0M548.3 150.3h0M534.3 185.6h0M580.9 133.8h0M586.4 126.5h0M555.2 182.3h0M577.6 171.7h0M587 108.6h0M513.6 151.4h0M540 158.2h0M537.3 193.3h0M506.3 128.5h0M538 154.7h0M555.4 179.5h0M586.3 164.1h0M557.2 188.4h0M563.2 178.5h0M524.6 99.1h0M541.6 172.6h0M530.5 152.1h0M568.1 187.6h0M526.8 98.2h0M567.3 119h0M510.4 133.9h0M506.2 155h0M544.4 92.6h0M518.6 145.4h0M531.9 116.2h0M537.9 162.7h0M516.8 153h0M582.7 125.9h0M514.6 157h0M543.5 93.5h0M542.4 128.9h0M528.3 168.8h0M553 98.8h0M561.7 89.2h0M523.4 142.4h0M567.5 162.2h0M520.5 151.4h0M553.1 160.1h0M564.2 174.8h0M564.4 150.1h0M579.7 158.1h0M505.9 127.6h0M545.5 177.8h0M525.7 112.8h0M521.7 175h0M579 170h0M537.7 89.7h0M584.9 107.6h0M525.2 93.6h0M573.1 138.7h0M578.6 143.3h0M525.3 96.9h0M533.4 190.4h0M566 177.9h0M537.7 184.4h0M515.7 168.3h0M517.4 139.6h0M564.5 165.5h0M564.5 169.7h0M547 92.2h0M580.3 125.6h0M576.7 170.9h0M550.4 184.8h0M570.3 109.3h0M535.2 130.9h0M564 192.6h0M534.9 99.6h0M505.8 148.5h0M522.6 122.9h0M513.9 127.8h0M578.3 116.1h0M576.4 122.6h0M592.2 145.7h0M593.4 141.1h0M517.4 135.6h0M510.3 157h0M562.8 193h0M567 154.7h0M552.8 171.2h0M535.8 181.7h0M553.1 130.3h0M552.2 102.9h0M543.1 178.2h0M538.6 179.6h0M551.1 172.1h0M547.5 81h0M576.5 166.7h0M565.2 181.8h0M568.1 172.4h0M535.1 156.6h0M536.2 176h0M569.6 107.9h0M553.9 90.9h0M583 153.7h0M576.2 95.5h0M555.4 139.8h0M533.7 141.2h0M531.3 120.7h0M543.5 165h0M532.6 116h0M537.7 168.7h0M542 178h0M516.1 123.2h0M527 100h0M531.9 179.4h0M524.9 180.8h0M557.3 164.2h0M543.1 94.4h0M507 154.2h0M522.1 168.9h0M529.3 98.9h0M527.1 132.1h0M580.5 174.9h0M594.8 130.7h0M579.1 118.7h0M523.9 109.8h0M580.8 112.6h0M542.3 92.4h0M571 105.3h0M513.7 138.1h0M563.9 101.7h0M577.9 152.6h0M557.3 153.4h0M527.2 114.7h0M563.7 110.1h0M542.9 160.7h0M514.7 139h0M515.1 142.8h0M536.6 171.2h0M564.8 186.5h0M533.9 101.1h0M523.9 111.8h0M555.7 163.4h0M517.3 154.4h0M573.6 140.8h0M580.9 158.5h0M525.2 111.2h0M546.1 168.3h0M550.5 100.6h0M550.1 181.6h0M520.3 116.2h0M504.5 125h0M529.5 101h0M562 177.1h0M518.8 137.3h0M511.8 126.1h0M534.8 160.8h0M576.8 153.8h0M528.5 87.3h0M571.7 181.9h0M542.6 107.4h0M520.1 103.4h0M582.8 116.5h0M522.7 146.5h0M562.7 175h0M520.8 103.8h0M580.3 159h0M535 102.2h0M527.4 132.1h0M560.9 130.7h0M545.5 85.8h0M562.3 156.6h0M522.7 148.1h0M533.4 174.4h0M512.4 114.9h0M552 147.5h0M586 115.6h0M550.7 195h0M555 111.5h0M540.3 175.4h0M534.3 180.9h0M572.8 155.8h0M543.1 150.4h0M575.9 92.9h0M516.8 148.5h0M536 184.3h0M511.4 124.5h0M547.8 149h0M529.9 156.1h0M511.1 124.1h0M578.6 173.8h0M524.9 187.3h0M543 143.2h0M542.7 189.9h0M589.5 124.5h0M561.8 175.2h0M569.5 108.6h0M579.9 129.4h0M574.9 102h0M535.1 159.6h0M507.3 113.7h0M510.5 120.3h0M542.4 161.7h0M538.3 188.5h0M521.9 173.3h0M511.9 158h0M559.2 112.8h0M531.2 164.2h0M548 158.5h0M510 134.1h0M545.1 99.3h0M523.7 130.6h0M547.6 172.3h0M515.7 129.7h0M577.2 149.2h0M555.9 91.1h0M517.1 160.9h0M533.7 158.2h0M569.8 107.7h0M540.5 102.5h0M512.5 158.8h0M521.7 145.3h0M504.5 137h0M554.1 157.3h0M511.2 139.6h0M572.5 147.4h0M578.2 119.8h0M523.3 171h0M527 103.5h0M584.8 116h0M585.3 155.3h0M579.7 141.9h0M511.2 174.5h0M568 176.8h0M523.7 130.9h0M581.1 164.5h0M588.1 135.2h0M519.4 183h0M519.4 107.1h0M552.4 113.2h0M528.5 112.3h0M574.2 153.7h0M531.4 188.5h0M592.3 138.8h0M520.8 139.6h0M584.5 170h0M552.3 164.1h0M551.8 169.8h0M560.1 128.2h0M574.7 157.9h0M588.8 139.1h0M530.6 144.5h0M542.3 173.9h0M532.8 151.7h0M558.3 144.2h0M570.4 156.8h0M566.8 188h0M539.6 162.5h0M581.7 153.3h0M578.2 152.6h0M537.6 166.6h0M507.1 117.8h0M590.3 113.8h0M543.3 168.9h0M540.8 150.2h0M535 148.2h0M568.6 109.6h0M529.7 172.5h0M578.4 128.3h0M538.6 111.5h0M527.6 182.8h0M563.5 152h0M582.4 163.6h0M528.2 97.7h0M512.2 146.1h0M527.4 176.6h0M532.3 133h0M564.3 100.2h0M544.7 94.8h0M581.1 137.3h0M581.8 147.5h0M530.4 194h0M544.7 181.2h0M576.4 143h0M556.7 157.5h0M587.7 116.8h0M567.5 160.8h0M559.4 147h0M588.7 115.3h0M536.2 119.6h0M542.1 92.7h0M570.3 174.9h0M533 147.7h0M536.6 182.4h0M566.1 146.9h0M571.6 184.5h0M545.4 115.8h0M535.7 144h0M558.7 93.6h0M529.3 143.4h0M545.5 171h0M573.9 166.8h0M557.5 170.5h0M534.1 137.1h0M580.8 125.4h0M584.1 136.4h0M574.2 98.9h0M536.7 170.5h0M537.2 137h0M562.1 110.6h0M511.2 156.2h0M518.3 110.2h0M583 135.2h0M536.4 143.3h0M522.5 129h0M551.1 101.6h0M566.4 148.4h0M592.1 123.6h0M586.3 173.2h0M553 154.3h0M557.8 130h0M543.6 175h0M509.9 136.7h0M573 102.8h0M511.2 161h0M553.2 161.9h0M560 171.7h0M538.8 184.1h0M542.8 183.8h0M550.6 143.4h0M520.9 123.2h0M575.6 145.8h0M540.8 157.9h0M532.2 172.2h0M558.7 96.6h0M518.7 158.6h0M564 120.8h0M520.9 94h0M543.9 168.9h0M569.3 171.2h0M527.3 170.7h0M514.4 148.2h0M527.3 100.8h0M540.4 162.9h0M512 140.5h0M507.1 167.6h0M579.7 101.4h0M560.6 92.3h0M572.8 164.7h0M530.2 156h0M576.2 117.2h0M572.4 150.6h0M582.4 140.3h0M569.3 169.5h0M575.7 145.1h0M583.4 159.2h0M541.9 188.4h0M511.4 160.1h0M566.2 182.4h0M565.9 150.1h0M565.8 148.4h0M536 93.2h0M583.8 116.4h0M550.1 136.7h0M535.6 196.3h0M557.4 151h0M567.3 109.7h0M576.8 146.5h0M523 167.4h0M585.5 147.5h0M574.7 105.1h0M569.9 100h0M547.6 108h0M540.1 151h0M584 136.7h0M504.9 131.1h0M560.1 103.7h0M537.1 187.4h0M529 169.4h0M539.7 145.4h0M515.8 154.1h0M515.5 145.5h0M544.7 104.1h0M562.9 93.7h0M561.1 166.1h0M573.2 141.4h0M506.6 120.2h0M539.2 182.8h0M511 148.3h0M554.5 148.7h0M565.6 158.8h0M514.6 168.6h0M581.3 134.9h0M589.1 128h0M580.5 132.7h0M557.2 179.3h0M577.5 103.6h0M566.1 97.9h0M546.1 127.7h0M549.1 93.3h0M540.9 91.6h0M511.2 116.3h0M587.2 121.6h0M576.1 112.6h0M570.5 149.6h0M559.3 173.7h0M541.4 125.1h0M555.7 155.5h0M526.3 168.6h0M585.4 166.7h0M577.1 156.1h0M519.7 179h0M545.3 139h0M517.2 135.9h0M586.2 129.3h0M552.6 149.5h0M510.6 103.6h0M581.2 179.1h0M562.6 182.1h0M563.7 183.8h0M560.2 88.2h0M522 148h0M543 190.1h0M576 93h0M529.4 124.8h0M504.1 144h0M515.2 153.6h0M562.7 98.4h0M508.5 156.4h0M578.5 125.2h0M527.3 157.6h0M512.6 132.7h0M582.1 177.5h0M569.3 150.8h0M518.3 107h0M550.6 90.2h0M541.8 103.5h0M518.1 118.7h0M579.2 172.3h0M559.2 189.9h0M521.5 128.1h0M514.9 119.8h0M576.3 143.5h0M546.8 105.1h0M518.9 158h0M556.4 165.1h0M555.7 102h0M566.6 145.6h0M587.3 112.4h0M580.5 103.4h0M567.3 178h0M556.4 175.5h0M528.6 140h0M502.2 137.3h0M571.4 157.7h0M503.9 134.7h0M532.7 94.9h0M509.1 126.5h0M570.7 185.1h0M532.6 149h0M562.5 105.6h0M583.5 129.2h0M586.7 133.8h0M581 102.5h0M513.9 148.9h0M520.1 153.4h0M518.4 159.4h0M588.7 137.2h0M555.5 145.3h0M577.5 101.9h0M507.2 133.8h0M535.6 143.2h0M508.9 116.6h0M547.2 192.6h0M552 102.2h0M556.5 166.9h0M554.3 95h0M512.2 110.7h0M558 97.1h0M559.8 86.4h0M578.3 143.3h0M536.9 161.3h0M526.2 137.2h0M533.2 156.8h0M547.8 177.1h0M540.2 82.6h0M507.8 120.1h0M559 176.4h0M547.2 176.8h0M574.3 138.6h0M579 105.7h0M534.6 142.1h0M536.4 146.1h0M550.3 169.2h0M555.1 132.2h0M556 134.1h0M529.8 101.9h0M526.1 181.8h0M572.9 121.8h0M564 83.5h0M512.9 122h0M545 90.6h0M516.5 149.6h0M507.6 153.6h0M546.8 180.4h0M554.8 143.5h0M586 157.3h0M551.6 125.7h0M523.2 104.6h0M577 136.2h0M537.6 148.1h0M558.4 90.4h0M515.9 158.6h0M594.3 153.5h0M505.9 124.2h0M573.4 145.5h0M584.1 125.1h0M524.4 156.2h0M551.9 186.6h0M565.4 185h0M510.1 160.7h0M573.9 162.8h0M511.3 117.5h0M546.9 102.4h0M525.7 161.4h0M562.5 163.3h0M568.5 156h0M551.5 127.5h0M578.2 111.7h0M511.5 125.6h0M563.5 107.7h0M588.6 122.6h0M537 140.1h0M569.8 147h0M523.6 112.5h0M594.2 133.3h0M519.6 114.3h0M574 141.7h0M589 140.8h0M550.6 193.5h0M561.1 179.7h0M579.8 100.3h0M578.8 137.4h0M534.3 105.3h0M559.9 176.7h0M575.5 172.4h0M556 132.9h0M542.3 170.7h0M546.4 152.2h0M555.1 95.9h0M542.7 152.4h0M552.3 190.4h0M525 143.7h0M581.9 144h0M555.2 92.9h0M569.6 147.8h0M540.5 178.4h0M580.6 159.2h0M579.4 154.6h0M549.8 141.8h0M525.5 147.3h0M567.2 127.7h0M513.9 116.1h0M568.4 131h0M537.8 148.8h0M537.3 152.4h0M507.3 166.5h0M542.7 86.9h0M533.4 96.2h0M586.9 150.4h0M555.3 173.2h0M524.3 93.9h0M539.2 105h0M532.6 145h0M527.7 122h0M543.9 166h0M562.1 180h0M509.4 146.7h0M516.7 160.4h0M561.6 169.9h0M539.6 106h0M519.2 151.1h0M564 139.5h0M533.8 93.9h0M574.9 162.4h0M522.3 161h0M531.9 184.2h0M540.5 192.9h0M527.9 142.3h0M569.2 152.8h0M523.1 166.2h0M533.5 98.4h0M540.5 197.7h0M532.5 135.5h0M576.3 105.5h0M556.1 101.2h0M519.2 153.3h0M554.3 119.4h0M526.1 155.6h0M569.6 149.4h0M586.5 156.9h0M549.5 171.2h0M512.8 122.2h0M551.4 176.5h0M545.5 185.2h0M526.3 168.3h0M514.7 148.5h0M555.6 168.7h0M545.5 97h0M535.4 189.1h0M545.9 168.2h0M574.2 127.4h0M563.9 177.5h0M542.3 115.7h0M583.7 164.6h0M525.6 153.2h0M571.6 153.5h0M517 122.6h0M512.5 131.7h0M542.7 83.7h0M594.5 146.2h0M568.3 128.6h0M573.1 147.6h0M527 176.5h0M577.9 115.8h0M557.4 93.7h0M520.6 164.7h0M509.4 146.2h0M516.5 156.6h0M542.1 97.5h0M517.4 142.9h0M571.8 144.1h0M562.2 169.1h0M555.5 178.2h0M525.8 142h0M533.3 111.7h0M545.9 185.2h0M531.9 144.5h0M571.9 98.2h0M560.4 166.1h0M565.9 158.5h0M560.9 166.1h0M578.6 154.4h0M551.3 88.4h0M572.3 159.7h0M520.6 150.7h0M568.5 168.2h0M554.3 138.9h0M543.9 148.2h0M535.5 129h0M529.9 134.3h0M529.6 121h0M560.5 172.1h0M530.9 99.7h0M554.1 98.4h0M517.1 110.8h0M549 150.7h0M561.3 102.5h0M577.5 112.1h0" stroke="#bfdc2c" stroke-width="1.3" stroke-linecap="round" fill="none" opacity="0.95"/>
<path d="M545.8 120.6h0M569 114.4h0M564.2 105.4h0M558.4 107.2h0M572 82.6h0M553.4 90.2h0M584.7 101.6h0M573.4 97.6h0M578 81.2h0M568.4 92.9h0M544.7 95.6h0M560.2 103.7h0M560 98.2h0M573.7 115.1h0M549.2 110.9h0M569.5 109.7h0M571.5 100.2h0M560.7 93.1h0M550.3 114.8h0M597.2 97.2h0M558.7 109.9h0M573.8 112.5h0M539.3 89.1h0M592.3 86.1h0M555.6 120.4h0M561.1 106h0M570.3 111.9h0M563.8 93.3h0M596.9 114.7h0M577.3 114.3h0M546 100.2h0M573.2 101.2h0M572.4 115.9h0M596.4 97.8h0M557.5 124.1h0M589.1 110.1h0M584.1 115.9h0M575.5 92.4h0M583.4 104.5h0M570.6 100.2h0M580.4 110.9h0M559.9 114.2h0M577.8 112.1h0M567.4 102.1h0M593.6 98.8h0M561.3 117.1h0M587.5 112.3h0M583.2 104.1h0M603 104.2h0M543.5 100.6h0M589.2 82.2h0M567.6 125.1h0M556.2 103.7h0M560.8 98.9h0M588 115.4h0M543.6 109h0M546.4 94h0M578 108.3h0M563.2 98.7h0M570.1 109.7h0M584.4 97.5h0M576 105.4h0M568.3 94.7h0M585.2 81.6h0M562.2 112.6h0M571.4 107.9h0M581.5 120.6h0M572.5 102.2h0M565.9 92.2h0M573.6 99.1h0M558.1 98.8h0M540.5 99.6h0M578.2 107.7h0M571.1 99.7h0M589.6 92.8h0M552.2 110.4h0M557 113.8h0M555.4 115.6h0M575.9 127.6h0M543.1 120.3h0M554.8 94.6h0M591.6 92.4h0M561.6 131.6h0M567 93.5h0M561.1 87.3h0M573.6 97.6h0M567.9 112.2h0M576.8 98.2h0M570.4 107h0M582.6 98.7h0M569.7 117h0M580.2 112.5h0M581.9 97.1h0M568.1 108.1h0M571.3 96.5h0M551.5 100.2h0M551.6 95.7h0M587.2 97.2h0M592.5 100.3h0M583 90.5h0M558.8 95.5h0M562.7 126.5h0M573.4 106.4h0M570.1 106.8h0M545 101.3h0M581.6 124.5h0M546.6 98.1h0M570.3 104.2h0M578.5 98.9h0M556.5 101h0M572.1 106.2h0M584.2 98.5h0M548.3 112.6h0M568.5 104.4h0M561.9 123.2h0M577.1 111.7h0M581.7 120.6h0M585.2 111.4h0M568.3 105.2h0M552 89.7h0M573.6 100.2h0M580.3 104.3h0M588.5 82.6h0M579.7 107.5h0M575.5 109.8h0M573.8 115.6h0M581.6 89h0M574.4 96.1h0M548.6 102.8h0M575.7 105.7h0M583.3 89.7h0M572.1 106.7h0M564.8 118.1h0M581.3 108.8h0M556.9 103.4h0M567.8 123.8h0M589.1 107.5h0M568.7 105.8h0M544.7 89h0M585.8 104.2h0M556.2 110.3h0M590.7 97.8h0M553.5 108.9h0M540.5 101.2h0M587.4 107.5h0M574.8 108.5h0M538.1 96.5h0M588.7 112.6h0M569.4 108.7h0M556 105.7h0M579.6 102h0M566.7 103.2h0M580.5 115.7h0M564 99.8h0M565.7 103.6h0M556.9 99.1h0M560.7 91.1h0M559.1 87.8h0M564.1 102.3h0M553.3 108h0M563.2 94.3h0M561.5 113.4h0M584.2 110.2h0M573 104.5h0M600.7 100h0M574.4 111.4h0M586.5 105.4h0M560.7 94.7h0M540.2 107.9h0M579.3 90.6h0M556.6 116.9h0M562.6 118.3h0M552 110.5h0M572.4 89.9h0M544.7 112.2h0M564.5 113.3h0M568.9 110.1h0M590.6 105.7h0M580.3 109.1h0M600.3 100h0M566.2 113.3h0M578.6 99.6h0M528 102.9h0M568.7 94.3h0M598.2 104.7h0M568.4 99.3h0M558 104.9h0M592 107h0M549.8 116.8h0M562.3 123.2h0M573.4 115.6h0M559.9 115.1h0M582.3 107.7h0M563.1 110.9h0M575.3 100.1h0M567.2 129h0M553.9 107.6h0M593.1 88.6h0M566.7 100.3h0M585 117.3h0" stroke="#3d4a48" stroke-width="1.5" stroke-linecap="round" fill="none" opacity="0.55"/>
</svg></body></html>
